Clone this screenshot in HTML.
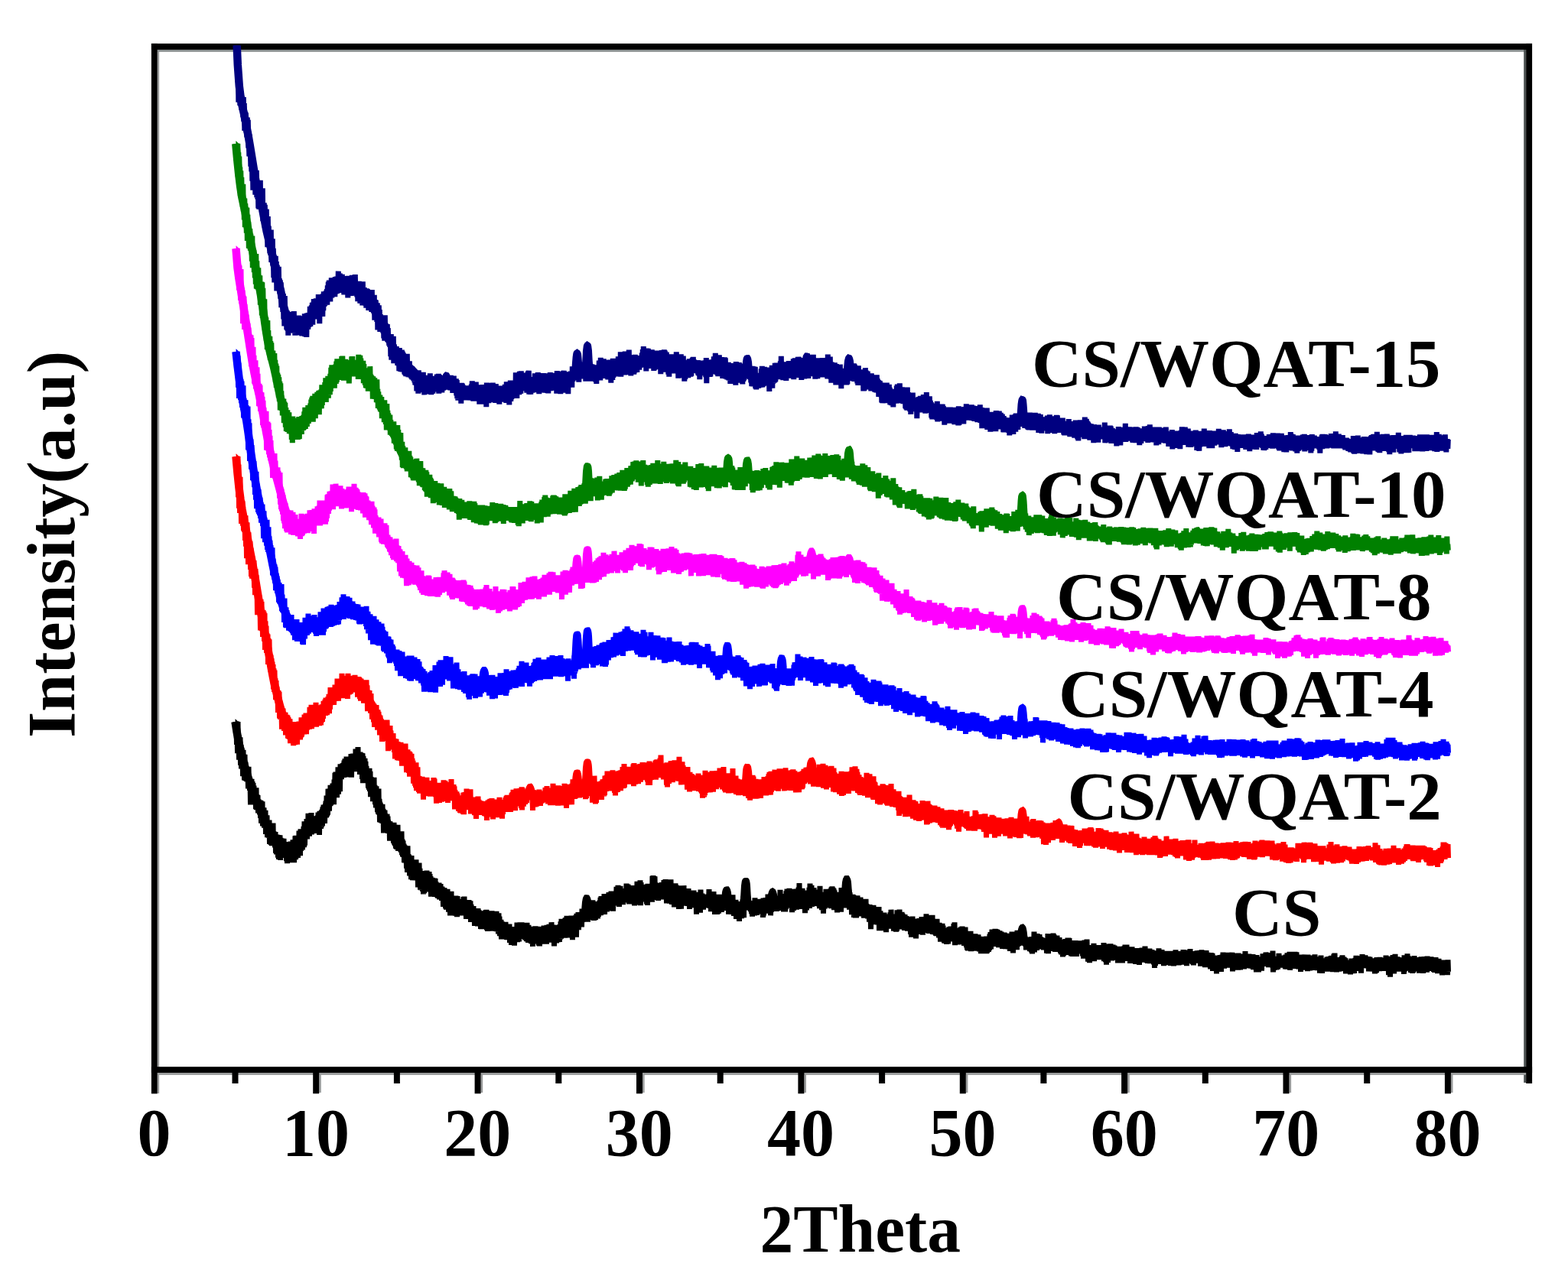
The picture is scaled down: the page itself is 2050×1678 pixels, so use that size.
<!DOCTYPE html>
<html lang="en">
<head>
<meta charset="utf-8">
<title>XRD patterns</title>
<style>
html,body{margin:0;padding:0;background:#fff;}
body{width:2050px;height:1678px;overflow:hidden;}
svg{display:block;}
text{font-family:"Liberation Serif","DejaVu Serif",serif;font-weight:bold;font-size:88px;fill:#000;}
#curves path{fill:none;stroke-linecap:butt;}
#curves .core{stroke-width:10.5;stroke-linejoin:round;}
#curves .trace{stroke-width:7.0;stroke-linejoin:bevel;}
</style>
</head>
<body>
<svg width="2050" height="1678" viewBox="0 0 2050 1678">
<rect x="0" y="0" width="2050" height="1678" fill="#fff"/>
<g id="shadow" fill="#9a9c9c">
<rect x="205.5" y="64" width="2.6" height="1366"/>
<rect x="205.5" y="64.7" width="1790" height="3.1" fill="#8a9090"/>
<rect x="1992.2" y="64" width="3.2" height="1352" fill="#4c5252"/>
<rect x="205.5" y="1402.8" width="1790" height="3.1"/>
<rect x="417.2" y="1403" width="2.6" height="26"/>
<rect x="628.6" y="1403" width="2.6" height="26"/>
<rect x="840.0" y="1403" width="2.6" height="26"/>
<rect x="1051.4" y="1403" width="2.6" height="26"/>
<rect x="1262.8" y="1403" width="2.6" height="26"/>
<rect x="1474.1" y="1403" width="2.6" height="26"/>
<rect x="1685.5" y="1403" width="2.6" height="26"/>
<rect x="1896.9" y="1403" width="2.6" height="26"/>
</g>
<g id="frame" fill="#000">
<rect x="197.9" y="56.95" width="1805.1" height="8"/>
<rect x="197.9" y="56.9" width="7.8" height="1373.5"/>
<rect x="1995.2" y="56.9" width="7.9" height="1360.1"/>
<rect x="197.9" y="1395.2" width="1805.2" height="7.8"/>
<rect x="303.5" y="1400" width="8" height="17"/>
<rect x="409.2" y="1400" width="8" height="30.3"/>
<rect x="514.9" y="1400" width="8" height="17"/>
<rect x="620.6" y="1400" width="8" height="30.3"/>
<rect x="726.3" y="1400" width="8" height="17"/>
<rect x="832.0" y="1400" width="8" height="30.3"/>
<rect x="937.7" y="1400" width="8" height="17"/>
<rect x="1043.4" y="1400" width="8" height="30.3"/>
<rect x="1149.1" y="1400" width="8" height="17"/>
<rect x="1254.8" y="1400" width="8" height="30.3"/>
<rect x="1360.4" y="1400" width="8" height="17"/>
<rect x="1466.1" y="1400" width="8" height="30.3"/>
<rect x="1571.8" y="1400" width="8" height="17"/>
<rect x="1677.5" y="1400" width="8" height="30.3"/>
<rect x="1783.2" y="1400" width="8" height="17"/>
<rect x="1888.9" y="1400" width="8" height="30.3"/>
</g>
<clipPath id="plotclip"><rect x="206" y="59.5" width="1790" height="1338"/></clipPath>
<g id="curves" clip-path="url(#plotclip)">
<g stroke="#000000"><path class="core" d="M307.5,944.0 309.5,956.4 311.5,967.6 313.5,976.8 315.5,985.3 317.5,993.1 319.5,1000.4 321.5,1007.3 323.5,1013.8 325.5,1020.0 327.5,1026.0 329.5,1031.8 331.5,1037.3 333.5,1042.7 335.5,1047.9 337.5,1052.8 339.5,1057.6 341.5,1062.3 343.5,1066.7 345.5,1071.1 347.5,1075.5 349.5,1080.0 351.5,1084.4 353.5,1088.7 355.5,1092.7 357.5,1096.4 359.5,1099.5 361.5,1102.1 363.5,1103.9 365.5,1105.5 367.5,1107.1 369.5,1108.5 371.5,1109.8 373.5,1110.9 375.5,1111.8 377.5,1112.5 379.5,1112.9 381.5,1113.0 383.5,1112.3 385.5,1110.9 387.5,1108.9 389.5,1106.4 391.5,1103.5 393.5,1100.3 395.5,1097.1 397.5,1093.8 399.5,1090.7 401.5,1087.8 403.5,1085.2 405.5,1082.8 407.5,1080.4 409.5,1078.1 411.5,1075.8 413.5,1073.4 415.5,1071.0 417.5,1068.4 419.5,1065.7 421.5,1062.9 423.5,1059.8 425.5,1056.5 427.5,1052.7 429.5,1048.4 431.5,1043.8 433.5,1038.9 435.5,1034.0 437.5,1029.2 439.5,1024.7 441.5,1020.2 443.5,1015.4 445.5,1010.5 447.5,1006.0 449.5,1002.2 451.5,999.5 453.5,997.7 455.5,996.2 457.5,994.8 459.5,993.7 461.5,992.9 463.5,992.5 465.5,992.8 467.5,994.1 469.5,996.2 471.5,998.9 473.5,1002.3 475.5,1005.9 477.5,1009.8 479.5,1013.8 481.5,1017.7 483.5,1021.6 485.5,1026.2 487.5,1031.2 489.5,1036.6 491.5,1042.1 493.5,1047.4 495.5,1052.5 497.5,1057.1 499.5,1061.5 501.5,1065.7 503.5,1069.9 505.5,1073.9 507.5,1077.9 509.5,1081.8 511.5,1085.5 513.5,1089.3 515.5,1092.9 517.5,1096.3 519.5,1099.6 521.5,1102.8 523.5,1105.9 525.5,1109.1 527.5,1112.5 529.5,1116.1 531.5,1120.1 533.5,1124.7 535.5,1129.6 537.5,1134.1 539.5,1137.8 541.5,1140.5 543.5,1143.0 545.5,1145.3 547.5,1147.4 549.5,1149.2 551.5,1150.9 553.5,1152.5 555.5,1153.8 557.5,1155.0 559.5,1156.0 561.5,1156.8 563.5,1157.7 565.5,1158.5 567.5,1159.5 569.5,1160.7 571.5,1162.1 573.5,1164.0 575.5,1166.1 577.5,1168.5 579.5,1170.9 581.5,1173.4 583.5,1175.8 585.5,1178.1 587.5,1180.0 589.5,1181.7 591.5,1182.9 593.5,1184.1 595.5,1185.2 597.5,1186.2 599.5,1187.1 601.5,1188.0 603.5,1188.9 605.5,1189.7 607.5,1190.5 609.5,1191.3 611.5,1192.1 613.5,1192.9 615.5,1193.7 617.5,1194.5 619.5,1195.3 621.5,1196.1 623.5,1196.9 625.5,1197.6 627.5,1198.4 629.5,1199.2 631.5,1199.9 633.5,1200.7 635.5,1201.5 637.5,1202.4 639.5,1203.3 641.5,1204.2 643.5,1205.3 645.5,1206.5 647.5,1207.7 649.5,1209.0 651.5,1210.3 653.5,1211.5 655.5,1212.8 657.5,1213.9 659.5,1214.9 661.5,1215.8 663.5,1216.6 665.5,1217.1 667.5,1217.6 669.5,1218.0 671.5,1218.4 673.5,1218.8 675.5,1219.1 677.5,1219.4 679.5,1219.7 681.5,1220.0 683.5,1220.3 685.5,1220.5 687.5,1220.7 689.5,1220.9 691.5,1221.2 693.5,1221.4 695.5,1221.6 697.5,1221.8 699.5,1221.9 701.5,1222.0 703.5,1222.0 705.5,1221.9 707.5,1221.8 709.5,1221.6 711.5,1221.3 713.5,1221.1 715.5,1220.7 717.5,1220.4 719.5,1220.0 721.5,1219.6 723.5,1219.2 725.5,1218.8 727.5,1218.4 729.5,1217.9 731.5,1217.4 733.5,1216.7 735.5,1216.1 737.5,1215.3 739.5,1214.5 741.5,1213.7 743.5,1212.8 745.5,1211.8 747.5,1210.8 749.5,1209.8 751.5,1208.8 753.5,1207.6 755.5,1206.3 757.5,1204.9 759.5,1203.3 761.0,1202.0 761.5,1201.6 761.8,1201.4 762.5,1200.8 763.2,1200.1 763.5,1199.7 764.0,1198.8 764.8,1195.6 765.5,1189.0 766.2,1180.3 767.0,1175.8 767.5,1177.2 767.8,1179.2 768.5,1186.7 769.2,1192.2 769.5,1193.2 770.0,1194.2 770.8,1194.4 771.5,1194.0 772.2,1193.5 773.0,1193.0 773.5,1192.7 775.5,1191.4 777.5,1190.1 779.5,1188.8 781.5,1187.6 783.5,1186.5 785.5,1185.4 787.5,1184.4 789.5,1183.5 791.5,1182.7 793.5,1181.9 795.5,1181.1 797.5,1180.4 799.5,1179.7 801.5,1179.0 803.5,1178.4 805.5,1177.8 807.5,1177.2 809.5,1176.6 811.5,1176.0 813.5,1175.4 815.5,1174.9 817.5,1174.2 819.5,1173.6 821.5,1172.9 823.5,1172.3 825.5,1171.6 827.5,1170.9 829.5,1170.2 831.5,1169.6 833.5,1169.0 835.5,1168.3 837.5,1167.8 839.5,1167.3 841.5,1166.8 843.5,1166.4 845.5,1166.0 847.5,1165.8 849.5,1165.6 851.5,1165.5 853.5,1165.5 855.5,1165.6 857.5,1165.8 859.5,1166.0 861.5,1166.3 863.5,1166.7 865.5,1167.1 867.5,1167.6 869.5,1168.1 871.5,1168.7 873.5,1169.2 875.5,1169.8 877.5,1170.4 879.5,1170.9 881.5,1171.5 883.5,1172.0 885.5,1172.6 887.5,1173.0 889.5,1173.5 891.5,1173.9 893.5,1174.3 895.5,1174.8 897.5,1175.2 899.5,1175.7 901.5,1176.1 903.5,1176.6 905.5,1177.0 907.5,1177.4 909.5,1177.7 911.5,1178.1 913.5,1178.4 915.5,1178.7 917.5,1178.9 919.5,1179.1 921.5,1179.3 923.5,1179.5 925.5,1179.7 927.5,1179.9 929.5,1180.0 931.5,1180.2 933.5,1180.4 935.5,1180.6 937.5,1180.7 939.5,1180.9 941.5,1181.2 943.5,1181.4 944.0,1181.5 944.8,1181.5 945.5,1181.6 946.2,1181.6 947.0,1181.2 947.5,1180.1 947.8,1179.2 948.5,1174.4 949.2,1167.9 949.5,1166.2 950.0,1164.8 950.8,1168.1 951.5,1174.8 952.2,1179.8 953.0,1181.9 953.5,1182.5 953.8,1182.6 954.5,1182.8 955.2,1182.9 955.5,1182.9 956.0,1183.0 957.5,1183.1 959.5,1183.4 961.5,1183.6 963.5,1183.8 965.5,1184.1 967.5,1184.3 969.0,1184.4 969.5,1184.5 969.8,1184.5 970.5,1184.6 971.2,1184.5 971.5,1184.4 972.0,1183.6 972.8,1179.9 973.5,1171.0 974.2,1159.0 975.0,1153.2 975.5,1156.0 975.8,1159.2 976.5,1171.3 977.2,1180.4 977.5,1182.2 978.0,1184.3 978.8,1185.4 979.5,1185.6 980.2,1185.7 981.0,1185.8 981.5,1185.8 983.5,1186.0 985.5,1186.2 987.5,1186.3 989.5,1186.5 991.5,1186.5 993.5,1186.6 995.5,1186.6 997.5,1186.5 999.5,1186.3 1001.5,1186.0 1003.5,1185.6 1004.0,1185.5 1004.8,1185.3 1005.5,1185.1 1006.2,1184.9 1007.0,1184.2 1007.5,1183.0 1007.8,1182.1 1008.5,1177.3 1009.2,1171.0 1009.5,1169.3 1010.0,1167.8 1010.8,1170.5 1011.5,1176.4 1012.2,1180.7 1013.0,1182.4 1013.5,1182.7 1013.8,1182.7 1014.5,1182.5 1015.2,1182.3 1015.5,1182.2 1016.0,1182.1 1017.5,1181.6 1019.5,1181.0 1021.5,1180.4 1023.5,1179.8 1025.5,1179.3 1027.5,1178.9 1029.5,1178.5 1031.5,1178.0 1033.5,1177.5 1035.5,1177.0 1037.5,1176.6 1039.5,1176.1 1041.5,1175.6 1043.5,1175.1 1045.5,1174.7 1047.5,1174.3 1049.5,1174.0 1051.5,1173.7 1053.5,1173.4 1055.5,1173.2 1057.5,1173.1 1059.5,1173.0 1061.5,1173.0 1063.5,1173.1 1065.5,1173.1 1067.5,1173.3 1069.5,1173.4 1071.5,1173.5 1073.5,1173.7 1075.5,1173.9 1077.5,1174.0 1079.5,1174.3 1081.5,1174.5 1083.5,1174.8 1085.5,1175.1 1087.5,1175.5 1089.5,1175.9 1091.5,1176.3 1093.5,1176.7 1095.5,1177.1 1097.5,1177.5 1099.5,1178.0 1101.0,1178.3 1101.5,1178.4 1101.8,1178.4 1102.5,1178.5 1103.2,1178.2 1103.5,1177.8 1104.0,1176.4 1104.8,1171.8 1105.5,1163.6 1106.2,1154.6 1107.0,1150.8 1107.5,1152.8 1107.8,1155.0 1108.5,1164.3 1109.2,1172.9 1109.5,1175.0 1110.0,1178.0 1110.8,1180.1 1111.5,1180.8 1112.2,1181.1 1113.0,1181.4 1113.5,1181.5 1115.5,1182.1 1117.5,1182.7 1119.5,1183.4 1121.5,1184.0 1123.5,1184.7 1125.5,1185.4 1127.5,1186.2 1129.5,1187.1 1131.5,1188.2 1133.5,1189.4 1135.5,1190.7 1137.5,1192.0 1139.5,1193.4 1141.5,1194.7 1143.5,1196.0 1145.5,1197.2 1147.5,1198.3 1149.5,1199.2 1151.5,1199.9 1153.5,1200.4 1155.5,1200.8 1157.5,1201.2 1159.5,1201.6 1161.5,1201.9 1163.5,1202.2 1165.5,1202.5 1167.5,1202.7 1169.5,1203.0 1171.5,1203.3 1173.5,1203.5 1175.5,1203.8 1177.5,1204.1 1179.5,1204.5 1181.5,1204.9 1183.5,1205.3 1185.5,1205.8 1187.5,1206.4 1189.5,1206.9 1191.5,1207.5 1193.5,1208.1 1195.5,1208.8 1197.5,1209.4 1199.5,1210.1 1201.5,1210.8 1203.5,1211.4 1205.5,1212.1 1207.5,1212.8 1209.5,1213.4 1211.5,1214.1 1213.5,1214.7 1215.5,1215.3 1217.5,1215.9 1219.5,1216.4 1221.5,1217.0 1223.5,1217.6 1225.5,1218.2 1227.5,1218.8 1229.5,1219.3 1231.5,1219.9 1233.5,1220.4 1235.5,1221.0 1237.5,1221.5 1239.5,1222.0 1241.5,1222.5 1243.5,1223.0 1245.5,1223.5 1247.5,1224.1 1249.5,1224.6 1251.5,1225.2 1253.5,1225.7 1255.5,1226.3 1257.5,1226.8 1259.5,1227.3 1261.5,1227.8 1263.5,1228.2 1265.5,1228.6 1267.5,1229.0 1269.5,1229.3 1271.5,1229.6 1273.5,1229.8 1275.5,1229.9 1277.5,1230.0 1279.5,1230.1 1281.5,1230.1 1283.5,1230.1 1285.5,1230.2 1287.5,1230.2 1289.5,1230.2 1291.5,1230.2 1293.5,1230.3 1295.5,1230.3 1297.5,1230.3 1299.5,1230.3 1301.5,1230.4 1303.5,1230.4 1305.5,1230.5 1307.5,1230.6 1309.5,1230.7 1311.5,1230.8 1313.5,1230.9 1315.5,1231.0 1317.5,1231.1 1319.5,1231.3 1321.5,1231.4 1323.5,1231.6 1325.5,1231.7 1327.5,1231.9 1329.5,1232.1 1330.6,1232.2 1331.3,1232.3 1331.5,1232.3 1332.1,1232.3 1332.8,1232.3 1333.5,1231.9 1333.6,1231.8 1334.3,1229.7 1335.1,1224.7 1335.5,1221.1 1335.8,1218.0 1336.6,1214.8 1337.3,1218.2 1337.5,1219.5 1338.1,1225.0 1338.8,1230.2 1339.5,1232.2 1339.6,1232.4 1340.3,1233.0 1341.1,1233.2 1341.5,1233.3 1341.8,1233.3 1342.6,1233.4 1343.5,1233.5 1345.5,1233.7 1347.5,1233.9 1349.5,1234.1 1351.5,1234.3 1353.5,1234.5 1355.5,1234.8 1357.5,1235.0 1359.5,1235.2 1361.5,1235.4 1363.5,1235.6 1365.5,1235.8 1367.5,1236.0 1369.5,1236.3 1371.5,1236.5 1373.5,1236.6 1375.5,1236.8 1377.5,1237.1 1379.5,1237.3 1381.5,1237.5 1383.5,1237.7 1385.5,1237.9 1387.5,1238.1 1389.5,1238.4 1391.5,1238.6 1393.5,1238.8 1395.5,1239.1 1397.5,1239.3 1399.5,1239.5 1401.5,1239.8 1403.5,1240.0 1405.5,1240.3 1407.5,1240.5 1409.5,1240.7 1411.5,1241.0 1413.5,1241.2 1415.5,1241.5 1417.5,1241.7 1419.5,1241.9 1421.5,1242.2 1423.5,1242.4 1425.5,1242.6 1427.5,1242.8 1429.5,1243.1 1431.5,1243.3 1433.5,1243.5 1435.5,1243.7 1437.5,1243.9 1439.5,1244.1 1441.5,1244.3 1443.5,1244.5 1445.5,1244.7 1447.5,1244.8 1449.5,1245.0 1451.5,1245.2 1453.5,1245.3 1455.5,1245.5 1457.5,1245.7 1459.5,1245.8 1461.5,1246.0 1463.5,1246.1 1465.5,1246.3 1467.5,1246.4 1469.5,1246.6 1471.5,1246.7 1473.5,1246.9 1475.5,1247.0 1477.5,1247.1 1479.5,1247.3 1481.5,1247.4 1483.5,1247.6 1485.5,1247.7 1487.5,1247.8 1489.5,1248.0 1491.5,1248.1 1493.5,1248.2 1495.5,1248.4 1497.5,1248.5 1499.5,1248.6 1501.5,1248.8 1503.5,1248.9 1505.5,1249.0 1507.5,1249.2 1509.5,1249.3 1511.5,1249.4 1513.5,1249.6 1515.5,1249.7 1517.5,1249.9 1519.5,1250.0 1521.5,1250.1 1523.5,1250.3 1525.5,1250.4 1527.5,1250.6 1529.5,1250.7 1531.5,1250.9 1533.5,1251.0 1535.5,1251.2 1537.5,1251.3 1539.5,1251.5 1541.5,1251.6 1543.5,1251.8 1545.5,1251.9 1547.5,1252.1 1549.5,1252.2 1551.5,1252.4 1553.5,1252.5 1555.5,1252.7 1557.5,1252.8 1559.5,1253.0 1561.5,1253.1 1563.5,1253.3 1565.5,1253.4 1567.5,1253.5 1569.5,1253.7 1571.5,1253.8 1573.5,1253.9 1575.5,1254.1 1577.5,1254.2 1579.5,1254.3 1581.5,1254.4 1583.5,1254.5 1585.5,1254.6 1587.5,1254.7 1589.5,1254.8 1591.5,1254.9 1593.5,1255.0 1595.5,1255.1 1597.5,1255.2 1599.5,1255.3 1601.5,1255.4 1603.5,1255.5 1605.5,1255.5 1607.5,1255.6 1609.5,1255.7 1611.5,1255.7 1613.5,1255.8 1615.5,1255.9 1617.5,1255.9 1619.5,1256.0 1621.5,1256.1 1623.5,1256.1 1625.5,1256.2 1627.5,1256.3 1629.5,1256.3 1631.5,1256.4 1633.5,1256.4 1635.5,1256.5 1637.5,1256.6 1639.5,1256.6 1641.5,1256.7 1643.5,1256.7 1645.5,1256.8 1647.5,1256.9 1649.5,1256.9 1651.5,1257.0 1653.5,1257.1 1655.5,1257.1 1657.5,1257.2 1659.5,1257.3 1661.5,1257.3 1663.5,1257.4 1665.5,1257.5 1667.5,1257.6 1669.5,1257.6 1671.5,1257.7 1673.5,1257.8 1675.5,1257.9 1677.5,1258.0 1679.5,1258.1 1681.5,1258.2 1683.5,1258.4 1685.5,1258.5 1687.5,1258.6 1689.5,1258.7 1691.5,1258.8 1693.5,1258.9 1695.5,1259.1 1697.5,1259.2 1699.5,1259.3 1701.5,1259.4 1703.5,1259.5 1705.5,1259.6 1707.5,1259.7 1709.5,1259.8 1711.5,1259.9 1713.5,1260.0 1715.5,1260.1 1717.5,1260.2 1719.5,1260.3 1721.5,1260.4 1723.5,1260.5 1725.5,1260.5 1727.5,1260.6 1729.5,1260.7 1731.5,1260.7 1733.5,1260.7 1735.5,1260.8 1737.5,1260.8 1739.5,1260.8 1741.5,1260.8 1743.5,1260.8 1745.5,1260.8 1747.5,1260.8 1749.5,1260.8 1751.5,1260.9 1753.5,1260.9 1755.5,1260.9 1757.5,1260.9 1759.5,1260.9 1761.5,1260.9 1763.5,1260.9 1765.5,1260.9 1767.5,1260.9 1769.5,1260.9 1771.5,1260.9 1773.5,1260.9 1775.5,1260.9 1777.5,1260.9 1779.5,1260.9 1781.5,1260.9 1783.5,1260.9 1785.5,1260.9 1787.5,1260.9 1789.5,1260.9 1791.5,1260.9 1793.5,1260.9 1795.5,1261.0 1797.5,1261.0 1799.5,1261.0 1801.5,1261.0 1803.5,1261.0 1805.5,1261.0 1807.5,1261.0 1809.5,1261.0 1811.5,1261.0 1813.5,1261.0 1815.5,1261.0 1817.5,1261.0 1819.5,1261.0 1821.5,1261.0 1823.5,1261.0 1825.5,1261.1 1827.5,1261.1 1829.5,1261.1 1831.5,1261.1 1833.5,1261.1 1835.5,1261.1 1837.5,1261.1 1839.5,1261.1 1841.5,1261.1 1843.5,1261.1 1845.5,1261.2 1847.5,1261.2 1849.5,1261.2 1851.5,1261.2 1853.5,1261.2 1855.5,1261.2 1857.5,1261.2 1859.5,1261.2 1861.5,1261.3 1863.5,1261.3 1865.5,1261.3 1867.5,1261.3 1869.5,1261.3 1871.5,1261.3 1873.5,1261.3 1875.5,1261.3 1877.5,1261.4 1879.5,1261.4 1881.5,1261.4 1883.5,1261.4 1885.5,1261.4 1887.5,1261.4 1889.5,1261.4 1891.5,1261.5"/>
<path class="trace" d="M307.5,944.0 308.0,944.0 308.5,961.4 309.0,946.1 309.5,974.0 310.0,944.0 310.5,985.1 311.0,944.0 311.5,982.6 312.0,961.0 312.5,993.6 313.0,968.9 313.5,989.4 314.0,964.2 314.5,1000.7 315.0,974.0 315.5,1005.4 316.0,977.7 316.5,1005.5 317.0,981.5 317.5,1015.2 318.0,980.8 318.5,1010.7 319.0,994.2 319.5,1020.5 320.0,986.8 320.5,1020.8 321.0,996.5 321.5,1021.3 322.0,1002.4 322.5,1022.1 323.0,1005.1 323.5,1019.3 324.0,1009.6 324.5,1031.4 325.0,1002.7 325.5,1027.2 326.0,1016.5 326.5,1034.0 327.0,1019.6 327.5,1052.4 328.0,1020.4 328.5,1043.3 329.0,1018.7 329.5,1047.1 330.0,1022.2 330.5,1043.6 331.0,1024.0 331.5,1050.2 332.0,1027.6 332.5,1051.6 333.0,1032.7 333.5,1051.2 334.0,1031.5 334.5,1058.1 335.0,1030.4 335.5,1059.2 336.0,1039.3 336.5,1056.5 337.0,1040.1 337.5,1063.5 338.0,1045.3 338.5,1062.3 339.0,1047.0 339.5,1065.5 340.0,1046.5 340.5,1069.8 341.0,1047.0 341.5,1076.6 342.0,1050.5 342.5,1073.2 343.0,1048.4 343.5,1080.5 344.0,1056.2 344.5,1079.8 345.0,1056.2 345.5,1082.6 346.0,1063.9 346.5,1080.3 347.0,1059.8 347.5,1090.9 348.0,1067.4 348.5,1085.3 349.0,1066.3 349.5,1095.3 350.0,1073.2 350.5,1092.4 351.0,1075.7 351.5,1096.0 352.0,1072.6 352.5,1103.9 353.0,1079.7 353.5,1104.2 354.0,1077.5 354.5,1105.1 355.0,1078.7 355.5,1106.1 356.0,1083.3 356.5,1100.3 357.0,1076.5 357.5,1105.7 358.0,1087.4 358.5,1104.7 359.0,1089.8 359.5,1108.3 360.0,1088.0 360.5,1115.6 361.0,1094.3 361.5,1117.3 362.0,1091.6 362.5,1117.0 363.0,1095.8 363.5,1121.8 364.0,1092.0 364.5,1123.9 365.0,1093.5 365.5,1116.9 366.0,1092.3 366.5,1124.9 367.0,1095.9 367.5,1117.0 368.0,1098.2 368.5,1120.4 369.0,1096.5 369.5,1115.6 370.0,1098.1 370.5,1116.8 371.0,1096.8 371.5,1118.8 372.0,1106.3 372.5,1118.2 373.0,1103.3 373.5,1121.8 374.0,1102.8 374.5,1126.1 375.0,1105.1 375.5,1129.1 376.0,1101.1 376.5,1121.3 377.0,1111.2 377.5,1126.9 378.0,1106.8 378.5,1123.2 379.0,1109.2 379.5,1123.5 380.0,1100.6 380.5,1128.1 381.0,1103.5 381.5,1118.5 382.0,1100.9 382.5,1125.7 383.0,1098.3 383.5,1118.2 384.0,1104.1 384.5,1128.1 385.0,1103.7 385.5,1118.8 386.0,1093.4 386.5,1124.2 387.0,1092.7 387.5,1122.2 388.0,1098.2 388.5,1121.8 389.0,1097.2 389.5,1121.9 390.0,1097.4 390.5,1115.4 391.0,1086.6 391.5,1113.2 392.0,1091.7 392.5,1119.3 393.0,1084.4 393.5,1113.0 394.0,1097.3 394.5,1109.0 395.0,1086.9 395.5,1111.3 396.0,1089.9 396.5,1105.5 397.0,1080.9 397.5,1108.2 398.0,1074.3 398.5,1105.7 399.0,1077.9 399.5,1092.3 400.0,1075.1 400.5,1091.9 401.0,1071.1 401.5,1097.4 402.0,1073.7 402.5,1088.4 403.0,1063.7 403.5,1089.8 404.0,1071.6 404.5,1093.6 405.0,1068.2 405.5,1083.4 406.0,1064.1 406.5,1082.2 407.0,1063.1 407.5,1091.5 408.0,1071.4 408.5,1089.8 409.0,1069.9 409.5,1087.7 410.0,1069.0 410.5,1088.8 411.0,1068.3 411.5,1085.2 412.0,1071.1 412.5,1089.2 413.0,1070.5 413.5,1084.1 414.0,1067.3 414.5,1090.0 415.0,1067.5 415.5,1082.0 416.0,1062.5 416.5,1080.5 417.0,1068.5 417.5,1091.9 418.0,1060.8 418.5,1083.4 419.0,1061.1 419.5,1084.0 420.0,1064.9 420.5,1081.6 421.0,1066.1 421.5,1080.3 422.0,1055.3 422.5,1076.4 423.0,1052.5 423.5,1073.0 424.0,1055.9 424.5,1077.0 425.0,1056.0 425.5,1063.7 426.0,1047.7 426.5,1069.5 427.0,1040.5 427.5,1067.8 428.0,1042.0 428.5,1065.6 429.0,1031.9 429.5,1059.6 430.0,1031.5 430.5,1060.7 431.0,1037.8 431.5,1054.2 432.0,1026.9 432.5,1053.4 433.0,1027.4 433.5,1043.9 434.0,1034.0 434.5,1051.6 435.0,1024.6 435.5,1049.0 436.0,1031.7 436.5,1052.2 437.0,1019.5 437.5,1035.9 438.0,1010.8 438.5,1038.7 439.0,1009.5 439.5,1029.5 440.0,1013.9 440.5,1043.1 441.0,1012.2 441.5,1027.8 442.0,1003.2 442.5,1038.6 443.0,1004.6 443.5,1029.5 444.0,1007.5 444.5,1035.1 445.0,999.2 445.5,1017.0 446.0,1003.8 446.5,1019.1 447.0,1000.0 447.5,1017.0 448.0,998.3 448.5,1013.1 449.0,999.1 449.5,1017.0 450.0,994.5 450.5,1011.8 451.0,992.3 451.5,1016.2 452.0,993.7 452.5,1016.4 453.0,989.6 453.5,1006.9 454.0,997.7 454.5,1014.5 455.0,994.1 455.5,1009.6 456.0,992.5 456.5,1011.4 457.0,989.6 457.5,1010.0 458.0,990.4 458.5,1002.1 459.0,986.0 459.5,1016.8 460.0,991.4 460.5,1008.1 461.0,985.9 461.5,1001.5 462.0,985.5 462.5,1007.1 463.0,986.6 463.5,1001.5 464.0,985.6 464.5,1009.1 465.0,979.5 465.5,997.6 466.0,987.1 466.5,1000.7 467.0,982.9 467.5,1005.3 468.0,977.0 468.5,1006.0 469.0,986.7 469.5,1004.1 470.0,984.4 470.5,1012.9 471.0,983.6 471.5,1005.0 472.0,990.5 472.5,1007.1 473.0,984.9 473.5,1019.0 474.0,985.2 474.5,1024.3 475.0,988.7 475.5,1014.0 476.0,997.9 476.5,1014.3 477.0,991.9 477.5,1018.7 478.0,995.9 478.5,1023.3 479.0,1001.9 479.5,1023.3 480.0,1005.2 480.5,1022.7 481.0,1015.1 481.5,1030.6 482.0,1011.4 482.5,1032.8 483.0,1004.7 483.5,1035.0 484.0,1008.9 484.5,1042.2 485.0,1016.0 485.5,1041.2 486.0,1017.2 486.5,1038.0 487.0,1020.5 487.5,1048.2 488.0,1020.2 488.5,1044.3 489.0,1016.7 489.5,1046.4 490.0,1026.8 490.5,1052.1 491.0,1037.8 491.5,1056.4 492.0,1028.3 492.5,1056.2 493.0,1032.1 493.5,1062.2 494.0,1033.5 494.5,1064.6 495.0,1031.6 495.5,1065.5 496.0,1044.8 496.5,1075.3 497.0,1049.6 497.5,1075.6 498.0,1052.5 498.5,1070.9 499.0,1059.7 499.5,1076.7 500.0,1051.8 500.5,1072.3 501.0,1058.0 501.5,1089.4 502.0,1063.0 502.5,1083.6 503.0,1059.5 503.5,1083.3 504.0,1068.1 504.5,1086.8 505.0,1065.3 505.5,1088.2 506.0,1064.7 506.5,1081.7 507.0,1067.7 507.5,1090.0 508.0,1074.0 508.5,1090.0 509.0,1076.2 509.5,1099.7 510.0,1074.3 510.5,1092.9 511.0,1080.2 511.5,1092.5 512.0,1083.6 512.5,1092.9 513.0,1078.4 513.5,1098.9 514.0,1077.1 514.5,1102.6 515.0,1075.9 515.5,1104.6 516.0,1078.6 516.5,1106.5 517.0,1086.0 517.5,1109.8 518.0,1085.4 518.5,1110.6 519.0,1090.2 519.5,1110.6 520.0,1078.8 520.5,1112.9 521.0,1088.1 521.5,1107.3 522.0,1093.5 522.5,1106.8 523.0,1090.8 523.5,1113.4 524.0,1096.7 524.5,1114.9 525.0,1087.4 525.5,1118.1 526.0,1097.5 526.5,1120.4 527.0,1099.5 527.5,1120.9 528.0,1103.5 528.5,1128.2 529.0,1105.4 529.5,1128.5 530.0,1109.3 530.5,1128.4 531.0,1108.5 531.5,1135.8 532.0,1109.4 532.5,1140.9 533.0,1106.4 533.5,1140.6 534.0,1117.2 534.5,1137.3 535.0,1118.5 535.5,1145.4 536.0,1125.1 536.5,1140.3 537.0,1119.6 537.5,1150.2 538.0,1119.1 538.5,1145.9 539.0,1125.0 539.5,1151.3 540.0,1130.9 540.5,1149.3 541.0,1126.9 541.5,1145.6 542.0,1126.5 542.5,1146.4 543.0,1128.8 543.5,1145.8 544.0,1124.2 544.5,1147.6 545.0,1131.7 545.5,1150.3 546.0,1133.0 546.5,1160.5 547.0,1137.4 547.5,1157.8 548.0,1128.5 548.5,1157.9 549.0,1135.7 549.5,1163.8 550.0,1140.6 550.5,1164.1 551.0,1139.0 551.5,1162.2 552.0,1141.0 552.5,1165.6 553.0,1147.2 553.5,1169.4 554.0,1147.8 554.5,1168.3 555.0,1139.5 555.5,1163.9 556.0,1150.0 556.5,1161.0 557.0,1141.3 557.5,1163.7 558.0,1138.6 558.5,1163.6 559.0,1149.9 559.5,1166.5 560.0,1148.8 560.5,1164.9 561.0,1140.0 561.5,1164.4 562.0,1143.2 562.5,1159.3 563.0,1146.1 563.5,1172.7 564.0,1152.4 564.5,1166.4 565.0,1147.7 565.5,1172.6 566.0,1155.5 566.5,1166.7 567.0,1152.1 567.5,1168.0 568.0,1148.5 568.5,1172.9 569.0,1149.1 569.5,1169.4 570.0,1153.4 570.5,1168.4 571.0,1157.4 571.5,1173.4 572.0,1158.2 572.5,1174.7 573.0,1158.7 573.5,1172.3 574.0,1154.5 574.5,1176.5 575.0,1157.6 575.5,1174.5 576.0,1156.0 576.5,1174.8 577.0,1163.7 577.5,1177.9 578.0,1159.7 578.5,1176.7 579.0,1163.6 579.5,1186.0 580.0,1161.2 580.5,1179.6 581.0,1161.4 581.5,1177.5 582.0,1163.7 582.5,1188.3 583.0,1162.9 583.5,1189.8 584.0,1165.6 584.5,1179.6 585.0,1162.8 585.5,1184.1 586.0,1167.3 586.5,1192.8 587.0,1167.2 587.5,1182.9 588.0,1167.8 588.5,1197.5 589.0,1173.2 589.5,1185.9 590.0,1165.7 590.5,1195.6 591.0,1177.1 591.5,1187.5 592.0,1174.5 592.5,1191.6 593.0,1173.7 593.5,1190.3 594.0,1177.1 594.5,1192.0 595.0,1173.3 595.5,1197.6 596.0,1171.5 596.5,1194.8 597.0,1176.4 597.5,1199.2 598.0,1172.0 598.5,1191.2 599.0,1175.9 599.5,1194.3 600.0,1178.6 600.5,1193.6 601.0,1177.1 601.5,1195.9 602.0,1176.8 602.5,1191.9 603.0,1182.9 603.5,1197.3 604.0,1184.0 604.5,1193.9 605.0,1180.5 605.5,1196.5 606.0,1173.0 606.5,1192.9 607.0,1172.6 607.5,1195.5 608.0,1180.5 608.5,1192.8 609.0,1177.4 609.5,1202.0 610.0,1181.8 610.5,1195.6 611.0,1183.4 611.5,1199.3 612.0,1183.2 612.5,1198.4 613.0,1177.1 613.5,1198.8 614.0,1183.2 614.5,1199.9 615.0,1178.4 615.5,1206.0 616.0,1182.9 616.5,1202.2 617.0,1188.4 617.5,1202.7 618.0,1188.2 618.5,1204.1 619.0,1185.1 619.5,1199.8 620.0,1191.8 620.5,1210.9 621.0,1188.2 621.5,1203.9 622.0,1194.7 622.5,1206.2 623.0,1189.4 623.5,1204.1 624.0,1194.8 624.5,1211.3 625.0,1188.1 625.5,1207.7 626.0,1190.1 626.5,1210.4 627.0,1194.6 627.5,1211.2 628.0,1195.3 628.5,1215.0 629.0,1191.3 629.5,1215.1 630.0,1194.7 630.5,1208.7 631.0,1195.5 631.5,1209.8 632.0,1195.7 632.5,1215.0 633.0,1198.0 633.5,1212.4 634.0,1193.5 634.5,1208.4 635.0,1190.4 635.5,1209.3 636.0,1189.8 636.5,1216.5 637.0,1192.0 637.5,1218.0 638.0,1195.4 638.5,1215.9 639.0,1195.4 639.5,1212.4 640.0,1192.9 640.5,1210.0 641.0,1198.6 641.5,1216.4 642.0,1196.4 642.5,1217.7 643.0,1191.4 643.5,1211.6 644.0,1198.2 644.5,1216.9 645.0,1200.8 645.5,1209.1 646.0,1201.6 646.5,1216.9 647.0,1200.5 647.5,1216.6 648.0,1200.7 648.5,1217.8 649.0,1191.8 649.5,1218.3 650.0,1197.4 650.5,1218.3 651.0,1203.4 651.5,1221.4 652.0,1194.3 652.5,1220.1 653.0,1198.6 653.5,1224.1 654.0,1204.1 654.5,1220.6 655.0,1202.9 655.5,1228.5 656.0,1205.0 656.5,1226.8 657.0,1207.1 657.5,1222.1 658.0,1209.0 658.5,1222.5 659.0,1208.3 659.5,1221.5 660.0,1209.4 660.5,1226.9 661.0,1205.9 661.5,1226.0 662.0,1210.5 662.5,1228.9 663.0,1208.9 663.5,1229.1 664.0,1210.7 664.5,1227.9 665.0,1212.6 665.5,1229.0 666.0,1208.6 666.5,1233.0 667.0,1216.4 667.5,1229.5 668.0,1214.9 668.5,1235.8 669.0,1212.1 669.5,1231.9 670.0,1216.4 670.5,1234.6 671.0,1218.5 671.5,1234.1 672.0,1217.0 672.5,1236.6 673.0,1218.2 673.5,1226.5 674.0,1214.9 674.5,1230.8 675.0,1215.3 675.5,1231.4 676.0,1206.5 676.5,1232.1 677.0,1212.5 677.5,1224.5 678.0,1215.6 678.5,1231.4 679.0,1211.6 679.5,1224.4 680.0,1206.3 680.5,1227.8 681.0,1212.7 681.5,1227.4 682.0,1206.3 682.5,1225.2 683.0,1209.3 683.5,1224.0 684.0,1211.0 684.5,1223.6 685.0,1212.9 685.5,1227.1 686.0,1208.8 686.5,1229.3 687.0,1206.9 687.5,1227.2 688.0,1215.2 688.5,1231.2 689.0,1206.8 689.5,1226.6 690.0,1212.2 690.5,1233.0 691.0,1209.9 691.5,1229.6 692.0,1215.1 692.5,1229.7 693.0,1216.6 693.5,1230.3 694.0,1216.9 694.5,1234.1 695.0,1217.0 695.5,1232.1 696.0,1214.5 696.5,1237.8 697.0,1211.7 697.5,1234.3 698.0,1214.4 698.5,1229.6 699.0,1218.3 699.5,1230.3 700.0,1211.3 700.5,1231.3 701.0,1216.8 701.5,1233.0 702.0,1216.8 702.5,1234.1 703.0,1211.9 703.5,1233.7 704.0,1216.4 704.5,1236.6 705.0,1214.7 705.5,1237.5 706.0,1215.6 706.5,1230.6 707.0,1219.4 707.5,1234.6 708.0,1217.6 708.5,1230.2 709.0,1212.0 709.5,1230.8 710.0,1214.5 710.5,1231.5 711.0,1210.5 711.5,1231.8 712.0,1210.8 712.5,1228.7 713.0,1213.1 713.5,1234.3 714.0,1214.2 714.5,1234.6 715.0,1209.7 715.5,1229.7 716.0,1215.1 716.5,1230.2 717.0,1213.4 717.5,1228.8 718.0,1208.9 718.5,1229.5 719.0,1212.1 719.5,1225.8 720.0,1215.9 720.5,1232.7 721.0,1206.2 721.5,1227.1 722.0,1216.7 722.5,1228.4 723.0,1209.7 723.5,1230.7 724.0,1213.1 724.5,1237.5 725.0,1216.1 725.5,1226.3 726.0,1209.9 726.5,1225.8 727.0,1213.0 727.5,1233.3 728.0,1210.8 728.5,1226.4 729.0,1210.8 729.5,1232.2 730.0,1210.8 730.5,1227.6 731.0,1215.3 731.5,1231.9 732.0,1209.2 732.5,1228.5 733.0,1205.4 733.5,1227.8 734.0,1201.9 734.5,1224.9 735.0,1206.2 735.5,1220.7 736.0,1202.4 736.5,1221.3 737.0,1206.2 737.5,1219.4 738.0,1206.4 738.5,1226.6 739.0,1200.6 739.5,1220.9 740.0,1200.0 740.5,1224.3 741.0,1197.7 741.5,1222.0 742.0,1202.4 742.5,1217.5 743.0,1203.3 743.5,1224.7 744.0,1208.1 744.5,1217.4 745.0,1206.6 745.5,1226.5 746.0,1203.4 746.5,1220.5 747.0,1197.6 747.5,1218.8 748.0,1211.3 748.5,1229.2 749.0,1202.4 749.5,1223.9 750.0,1204.8 750.5,1217.5 751.0,1203.0 751.5,1224.4 752.0,1204.8 752.5,1221.0 753.0,1196.7 753.5,1225.6 754.0,1194.8 754.5,1214.0 755.0,1202.5 755.5,1209.8 756.0,1193.1 756.5,1216.1 757.0,1194.4 757.5,1211.8 758.0,1194.5 758.5,1207.2 759.0,1197.1 759.5,1209.4 760.0,1194.9 760.5,1212.4 761.0,1188.6 761.5,1203.1 762.0,1189.1 762.5,1199.5 763.0,1191.5 763.5,1194.5 764.0,1191.3 764.5,1187.3 765.0,1197.2 765.5,1180.0 766.0,1176.3 766.5,1173.1 767.0,1172.5 767.5,1173.2 768.0,1174.4 768.5,1205.7 769.0,1180.7 769.5,1184.0 770.0,1185.2 770.5,1189.9 771.0,1180.0 771.5,1199.1 772.0,1185.7 772.5,1203.1 773.0,1178.8 773.5,1198.9 774.0,1181.8 774.5,1198.5 775.0,1177.3 775.5,1194.2 776.0,1179.7 776.5,1204.0 777.0,1181.1 777.5,1197.2 778.0,1179.7 778.5,1203.1 779.0,1181.3 779.5,1198.4 780.0,1179.1 780.5,1195.3 781.0,1180.9 781.5,1201.3 782.0,1184.4 782.5,1198.9 783.0,1181.0 783.5,1193.6 784.0,1177.6 784.5,1196.6 785.0,1173.9 785.5,1197.3 786.0,1172.1 786.5,1190.6 787.0,1176.8 787.5,1195.1 788.0,1175.7 788.5,1189.0 789.0,1177.9 789.5,1190.1 790.0,1169.1 790.5,1195.9 791.0,1178.0 791.5,1191.4 792.0,1172.9 792.5,1187.6 793.0,1173.1 793.5,1192.3 794.0,1174.3 794.5,1189.4 795.0,1171.6 795.5,1188.9 796.0,1167.0 796.5,1191.1 797.0,1172.6 797.5,1188.9 798.0,1170.1 798.5,1187.9 799.0,1165.6 799.5,1189.3 800.0,1171.7 800.5,1188.9 801.0,1166.1 801.5,1191.6 802.0,1169.4 802.5,1183.8 803.0,1168.0 803.5,1184.2 804.0,1169.4 804.5,1184.3 805.0,1168.4 805.5,1179.2 806.0,1159.8 806.5,1182.8 807.0,1169.6 807.5,1180.5 808.0,1157.9 808.5,1180.8 809.0,1164.2 809.5,1185.9 810.0,1163.5 810.5,1182.1 811.0,1158.9 811.5,1182.1 812.0,1165.2 812.5,1182.6 813.0,1164.2 813.5,1182.1 814.0,1162.2 814.5,1183.1 815.0,1165.4 815.5,1179.8 816.0,1165.4 816.5,1178.1 817.0,1165.0 817.5,1180.2 818.0,1162.3 818.5,1177.4 819.0,1155.5 819.5,1180.3 820.0,1162.6 820.5,1179.3 821.0,1156.6 821.5,1178.4 822.0,1160.1 822.5,1182.4 823.0,1162.3 823.5,1180.8 824.0,1165.9 824.5,1176.8 825.0,1158.5 825.5,1179.0 826.0,1159.6 826.5,1179.6 827.0,1158.0 827.5,1178.3 828.0,1162.7 828.5,1180.6 829.0,1164.1 829.5,1184.5 830.0,1164.3 830.5,1181.3 831.0,1165.8 831.5,1176.5 832.0,1159.7 832.5,1177.6 833.0,1152.8 833.5,1183.5 834.0,1163.0 834.5,1177.3 835.0,1157.7 835.5,1180.9 836.0,1155.7 836.5,1174.7 837.0,1151.3 837.5,1184.3 838.0,1154.0 838.5,1169.5 839.0,1162.3 839.5,1179.4 840.0,1156.9 840.5,1170.4 841.0,1159.2 841.5,1171.1 842.0,1160.2 842.5,1176.2 843.0,1159.5 843.5,1173.8 844.0,1164.7 844.5,1178.0 845.0,1163.5 845.5,1182.3 846.0,1162.6 846.5,1183.9 847.0,1155.8 847.5,1178.1 848.0,1156.9 848.5,1173.7 849.0,1155.8 849.5,1172.9 850.0,1157.2 850.5,1172.4 851.0,1158.8 851.5,1171.1 852.0,1160.0 852.5,1179.7 853.0,1145.8 853.5,1175.1 854.0,1145.0 854.5,1176.9 855.0,1146.1 855.5,1173.7 856.0,1146.2 856.5,1169.7 857.0,1154.4 857.5,1172.1 858.0,1156.9 858.5,1174.0 859.0,1156.5 859.5,1167.7 860.0,1156.9 860.5,1177.9 861.0,1156.6 861.5,1172.3 862.0,1155.0 862.5,1169.6 863.0,1158.3 863.5,1174.1 864.0,1158.0 864.5,1172.1 865.0,1154.1 865.5,1176.4 866.0,1154.2 866.5,1175.4 867.0,1154.4 867.5,1170.9 868.0,1151.0 868.5,1171.5 869.0,1160.0 869.5,1168.4 870.0,1150.1 870.5,1170.2 871.0,1158.1 871.5,1181.3 872.0,1155.9 872.5,1173.0 873.0,1152.0 873.5,1175.1 874.0,1151.9 874.5,1171.0 875.0,1159.2 875.5,1181.7 876.0,1155.5 876.5,1174.1 877.0,1150.2 877.5,1174.1 878.0,1158.4 878.5,1183.0 879.0,1157.5 879.5,1179.9 880.0,1165.4 880.5,1178.1 881.0,1160.6 881.5,1186.5 882.0,1159.9 882.5,1183.4 883.0,1155.3 883.5,1180.6 884.0,1157.5 884.5,1176.1 885.0,1159.3 885.5,1176.6 886.0,1159.8 886.5,1178.4 887.0,1161.4 887.5,1189.0 888.0,1158.2 888.5,1182.1 889.0,1162.7 889.5,1186.7 890.0,1160.8 890.5,1188.6 891.0,1163.2 891.5,1176.2 892.0,1164.3 892.5,1181.9 893.0,1161.1 893.5,1184.6 894.0,1158.2 894.5,1179.1 895.0,1163.9 895.5,1182.0 896.0,1163.6 896.5,1179.6 897.0,1165.1 897.5,1178.4 898.0,1164.4 898.5,1182.0 899.0,1166.2 899.5,1184.9 900.0,1162.2 900.5,1184.1 901.0,1165.8 901.5,1188.9 902.0,1167.2 902.5,1186.5 903.0,1165.9 903.5,1182.2 904.0,1167.4 904.5,1181.1 905.0,1164.7 905.5,1182.8 906.0,1170.5 906.5,1187.2 907.0,1164.6 907.5,1185.3 908.0,1170.5 908.5,1182.0 909.0,1166.8 909.5,1184.5 910.0,1170.2 910.5,1195.6 911.0,1167.5 911.5,1182.5 912.0,1170.8 912.5,1190.5 913.0,1171.6 913.5,1185.8 914.0,1174.0 914.5,1184.9 915.0,1170.6 915.5,1193.7 916.0,1163.6 916.5,1187.9 917.0,1171.1 917.5,1186.5 918.0,1168.6 918.5,1185.1 919.0,1171.1 919.5,1189.7 920.0,1169.8 920.5,1184.0 921.0,1173.2 921.5,1183.7 922.0,1171.0 922.5,1185.0 923.0,1173.4 923.5,1185.9 924.0,1170.2 924.5,1184.4 925.0,1170.7 925.5,1187.5 926.0,1169.5 926.5,1181.3 927.0,1163.2 927.5,1183.9 928.0,1172.3 928.5,1187.9 929.0,1170.9 929.5,1192.2 930.0,1170.4 930.5,1188.5 931.0,1174.5 931.5,1187.4 932.0,1173.4 932.5,1184.4 933.0,1166.1 933.5,1186.7 934.0,1175.2 934.5,1196.0 935.0,1174.7 935.5,1187.8 936.0,1176.1 936.5,1188.5 937.0,1174.7 937.5,1196.0 938.0,1177.7 938.5,1192.1 939.0,1176.2 939.5,1194.7 940.0,1169.9 940.5,1187.6 941.0,1174.0 941.5,1190.1 942.0,1173.2 942.5,1187.1 943.0,1178.9 943.5,1192.8 944.0,1175.9 944.5,1181.8 945.0,1176.5 945.5,1190.3 946.0,1170.1 946.5,1178.5 947.0,1173.1 947.5,1190.8 948.0,1171.6 948.5,1166.8 949.0,1163.2 949.5,1162.5 950.0,1161.6 950.5,1162.2 951.0,1164.1 951.5,1166.2 952.0,1168.9 952.5,1195.8 953.0,1177.5 953.5,1177.6 954.0,1172.2 954.5,1195.7 955.0,1173.7 955.5,1184.5 956.0,1177.7 956.5,1192.7 957.0,1172.7 957.5,1191.5 958.0,1170.3 958.5,1189.5 959.0,1179.3 959.5,1197.9 960.0,1178.6 960.5,1195.7 961.0,1177.8 961.5,1193.7 962.0,1176.7 962.5,1202.0 963.0,1182.4 963.5,1195.5 964.0,1179.1 964.5,1195.4 965.0,1182.5 965.5,1195.7 966.0,1183.4 966.5,1204.9 967.0,1180.7 967.5,1199.4 968.0,1184.3 968.5,1195.7 969.0,1185.2 969.5,1201.2 970.0,1179.0 970.5,1199.0 971.0,1176.9 971.5,1176.7 972.0,1172.2 972.5,1200.3 973.0,1163.4 973.5,1158.0 974.0,1153.6 974.5,1151.3 975.0,1149.9 975.5,1150.8 976.0,1154.2 976.5,1158.1 977.0,1162.5 977.5,1190.4 978.0,1173.7 978.5,1177.2 979.0,1180.5 979.5,1184.4 980.0,1180.2 980.5,1186.6 981.0,1179.9 981.5,1192.0 982.0,1179.3 982.5,1195.2 983.0,1178.0 983.5,1198.6 984.0,1180.9 984.5,1192.4 985.0,1179.7 985.5,1195.2 986.0,1181.9 986.5,1197.4 987.0,1174.3 987.5,1192.5 988.0,1181.2 988.5,1194.2 989.0,1179.3 989.5,1196.9 990.0,1178.6 990.5,1191.1 991.0,1179.4 991.5,1194.3 992.0,1182.2 992.5,1192.4 993.0,1176.2 993.5,1192.1 994.0,1177.4 994.5,1188.9 995.0,1175.8 995.5,1195.5 996.0,1180.0 996.5,1192.2 997.0,1178.6 997.5,1200.0 998.0,1174.6 998.5,1197.4 999.0,1178.1 999.5,1192.3 1000.0,1177.7 1000.5,1186.4 1001.0,1174.1 1001.5,1187.7 1002.0,1177.1 1002.5,1193.8 1003.0,1176.8 1003.5,1190.0 1004.0,1169.6 1004.5,1185.8 1005.0,1179.3 1005.5,1194.7 1006.0,1175.3 1006.5,1180.6 1007.0,1171.9 1007.5,1197.3 1008.0,1177.4 1008.5,1192.6 1009.0,1166.4 1009.5,1165.2 1010.0,1164.5 1010.5,1164.5 1011.0,1166.4 1011.5,1189.1 1012.0,1175.9 1012.5,1174.1 1013.0,1171.6 1013.5,1179.9 1014.0,1177.2 1014.5,1182.8 1015.0,1173.1 1015.5,1192.0 1016.0,1176.7 1016.5,1190.3 1017.0,1176.3 1017.5,1190.4 1018.0,1174.3 1018.5,1189.9 1019.0,1176.3 1019.5,1190.8 1020.0,1163.8 1020.5,1185.2 1021.0,1174.2 1021.5,1187.9 1022.0,1177.5 1022.5,1188.9 1023.0,1169.6 1023.5,1189.7 1024.0,1170.9 1024.5,1192.5 1025.0,1169.7 1025.5,1186.8 1026.0,1169.1 1026.5,1192.3 1027.0,1169.2 1027.5,1189.1 1028.0,1165.2 1028.5,1185.1 1029.0,1162.7 1029.5,1186.5 1030.0,1165.3 1030.5,1187.4 1031.0,1163.5 1031.5,1184.8 1032.0,1161.8 1032.5,1185.4 1033.0,1166.4 1033.5,1187.1 1034.0,1168.0 1034.5,1186.8 1035.0,1164.5 1035.5,1193.1 1036.0,1171.3 1036.5,1188.8 1037.0,1173.5 1037.5,1190.9 1038.0,1169.8 1038.5,1184.8 1039.0,1162.9 1039.5,1180.9 1040.0,1165.3 1040.5,1183.8 1041.0,1162.6 1041.5,1189.7 1042.0,1169.6 1042.5,1182.0 1043.0,1168.3 1043.5,1184.8 1044.0,1160.6 1044.5,1182.8 1045.0,1155.0 1045.5,1181.2 1046.0,1166.7 1046.5,1185.1 1047.0,1170.4 1047.5,1188.9 1048.0,1164.8 1048.5,1182.8 1049.0,1161.9 1049.5,1182.2 1050.0,1165.1 1050.5,1188.4 1051.0,1165.5 1051.5,1186.7 1052.0,1167.1 1052.5,1194.2 1053.0,1172.6 1053.5,1188.8 1054.0,1164.5 1054.5,1190.4 1055.0,1171.2 1055.5,1185.1 1056.0,1167.8 1056.5,1178.8 1057.0,1167.3 1057.5,1187.8 1058.0,1160.7 1058.5,1187.9 1059.0,1155.5 1059.5,1179.9 1060.0,1160.5 1060.5,1179.4 1061.0,1157.8 1061.5,1186.0 1062.0,1169.4 1062.5,1178.9 1063.0,1167.3 1063.5,1180.6 1064.0,1161.0 1064.5,1184.0 1065.0,1169.3 1065.5,1182.1 1066.0,1165.2 1066.5,1184.4 1067.0,1170.8 1067.5,1184.8 1068.0,1163.6 1068.5,1184.0 1069.0,1170.7 1069.5,1185.1 1070.0,1165.2 1070.5,1184.3 1071.0,1167.1 1071.5,1188.1 1072.0,1158.9 1072.5,1187.5 1073.0,1171.0 1073.5,1183.4 1074.0,1166.8 1074.5,1190.3 1075.0,1171.2 1075.5,1188.7 1076.0,1167.1 1076.5,1194.8 1077.0,1171.3 1077.5,1183.5 1078.0,1169.4 1078.5,1188.4 1079.0,1169.7 1079.5,1180.9 1080.0,1162.8 1080.5,1185.3 1081.0,1168.0 1081.5,1180.4 1082.0,1166.3 1082.5,1180.7 1083.0,1169.4 1083.5,1176.4 1084.0,1167.4 1084.5,1179.4 1085.0,1164.7 1085.5,1187.0 1086.0,1162.3 1086.5,1188.2 1087.0,1160.4 1087.5,1184.9 1088.0,1159.2 1088.5,1183.0 1089.0,1160.8 1089.5,1176.9 1090.0,1162.0 1090.5,1190.3 1091.0,1164.4 1091.5,1187.1 1092.0,1168.9 1092.5,1184.0 1093.0,1167.4 1093.5,1188.1 1094.0,1167.4 1094.5,1193.4 1095.0,1169.8 1095.5,1187.1 1096.0,1168.4 1096.5,1186.5 1097.0,1171.6 1097.5,1187.7 1098.0,1166.8 1098.5,1182.3 1099.0,1168.8 1099.5,1192.7 1100.0,1161.1 1100.5,1178.3 1101.0,1166.4 1101.5,1186.2 1102.0,1167.5 1102.5,1174.7 1103.0,1170.5 1103.5,1167.1 1104.0,1164.0 1104.5,1160.4 1105.0,1155.7 1105.5,1187.4 1106.0,1149.7 1106.5,1148.1 1107.0,1147.4 1107.5,1147.9 1108.0,1151.0 1108.5,1154.1 1109.0,1157.9 1109.5,1162.5 1110.0,1165.6 1110.5,1189.7 1111.0,1167.1 1111.5,1175.8 1112.0,1171.2 1112.5,1184.2 1113.0,1172.2 1113.5,1196.3 1114.0,1175.2 1114.5,1192.8 1115.0,1169.8 1115.5,1190.8 1116.0,1170.8 1116.5,1200.0 1117.0,1177.2 1117.5,1189.9 1118.0,1173.6 1118.5,1200.5 1119.0,1176.4 1119.5,1200.5 1120.0,1177.7 1120.5,1195.5 1121.0,1171.3 1121.5,1188.0 1122.0,1180.8 1122.5,1191.5 1123.0,1180.1 1123.5,1194.1 1124.0,1181.8 1124.5,1198.4 1125.0,1173.6 1125.5,1194.9 1126.0,1178.4 1126.5,1189.3 1127.0,1175.9 1127.5,1189.7 1128.0,1180.3 1128.5,1197.1 1129.0,1179.6 1129.5,1200.7 1130.0,1176.1 1130.5,1196.0 1131.0,1178.2 1131.5,1197.5 1132.0,1175.8 1132.5,1198.7 1133.0,1182.2 1133.5,1200.2 1134.0,1184.7 1134.5,1201.5 1135.0,1187.4 1135.5,1200.6 1136.0,1187.4 1136.5,1205.7 1137.0,1183.2 1137.5,1201.8 1138.0,1186.8 1138.5,1215.3 1139.0,1189.3 1139.5,1199.5 1140.0,1185.5 1140.5,1202.5 1141.0,1185.6 1141.5,1209.2 1142.0,1183.8 1142.5,1208.0 1143.0,1192.7 1143.5,1201.7 1144.0,1186.1 1144.5,1204.3 1145.0,1190.2 1145.5,1204.1 1146.0,1193.8 1146.5,1203.7 1147.0,1194.2 1147.5,1209.4 1148.0,1194.0 1148.5,1207.9 1149.0,1186.0 1149.5,1217.2 1150.0,1198.9 1150.5,1214.5 1151.0,1191.3 1151.5,1217.2 1152.0,1199.1 1152.5,1213.1 1153.0,1198.9 1153.5,1213.0 1154.0,1194.7 1154.5,1216.0 1155.0,1196.1 1155.5,1215.2 1156.0,1193.7 1156.5,1214.5 1157.0,1196.9 1157.5,1213.5 1158.0,1195.5 1158.5,1219.1 1159.0,1196.6 1159.5,1213.9 1160.0,1202.2 1160.5,1210.9 1161.0,1198.2 1161.5,1214.6 1162.0,1198.5 1162.5,1213.3 1163.0,1198.3 1163.5,1211.6 1164.0,1193.3 1164.5,1214.1 1165.0,1189.7 1165.5,1211.6 1166.0,1195.6 1166.5,1210.0 1167.0,1197.7 1167.5,1210.2 1168.0,1197.3 1168.5,1217.7 1169.0,1197.8 1169.5,1207.9 1170.0,1198.8 1170.5,1208.6 1171.0,1196.7 1171.5,1218.7 1172.0,1198.4 1172.5,1217.6 1173.0,1190.3 1173.5,1211.8 1174.0,1191.1 1174.5,1206.2 1175.0,1192.6 1175.5,1212.0 1176.0,1189.7 1176.5,1210.6 1177.0,1196.5 1177.5,1215.5 1178.0,1200.1 1178.5,1210.6 1179.0,1192.8 1179.5,1208.3 1180.0,1194.6 1180.5,1210.4 1181.0,1198.9 1181.5,1209.2 1182.0,1196.8 1182.5,1217.0 1183.0,1196.0 1183.5,1216.2 1184.0,1200.7 1184.5,1214.5 1185.0,1198.1 1185.5,1212.9 1186.0,1201.9 1186.5,1217.6 1187.0,1203.3 1187.5,1216.9 1188.0,1204.2 1188.5,1216.4 1189.0,1199.1 1189.5,1214.5 1190.0,1207.5 1190.5,1222.0 1191.0,1206.2 1191.5,1225.7 1192.0,1204.3 1192.5,1218.6 1193.0,1198.6 1193.5,1221.7 1194.0,1202.1 1194.5,1218.7 1195.0,1205.7 1195.5,1219.5 1196.0,1201.8 1196.5,1219.1 1197.0,1209.4 1197.5,1227.3 1198.0,1209.6 1198.5,1221.4 1199.0,1201.7 1199.5,1219.4 1200.0,1205.8 1200.5,1221.8 1201.0,1205.2 1201.5,1220.7 1202.0,1201.1 1202.5,1220.8 1203.0,1204.9 1203.5,1218.1 1204.0,1203.4 1204.5,1218.0 1205.0,1199.1 1205.5,1217.5 1206.0,1199.1 1206.5,1222.6 1207.0,1204.5 1207.5,1218.3 1208.0,1201.7 1208.5,1218.8 1209.0,1205.0 1209.5,1215.6 1210.0,1205.9 1210.5,1213.6 1211.0,1195.3 1211.5,1219.9 1212.0,1203.5 1212.5,1214.4 1213.0,1202.8 1213.5,1214.5 1214.0,1199.8 1214.5,1221.0 1215.0,1201.5 1215.5,1218.9 1216.0,1206.9 1216.5,1219.6 1217.0,1201.4 1217.5,1219.6 1218.0,1197.1 1218.5,1213.1 1219.0,1196.9 1219.5,1221.9 1220.0,1204.4 1220.5,1218.5 1221.0,1202.4 1221.5,1222.1 1222.0,1205.0 1222.5,1220.8 1223.0,1206.8 1223.5,1223.7 1224.0,1210.1 1224.5,1224.0 1225.0,1201.8 1225.5,1221.2 1226.0,1210.1 1226.5,1222.6 1227.0,1211.3 1227.5,1226.3 1228.0,1206.9 1228.5,1224.1 1229.0,1214.3 1229.5,1231.7 1230.0,1213.0 1230.5,1226.0 1231.0,1211.4 1231.5,1226.3 1232.0,1207.7 1232.5,1231.3 1233.0,1210.7 1233.5,1230.1 1234.0,1213.6 1234.5,1233.5 1235.0,1216.4 1235.5,1233.7 1236.0,1216.7 1236.5,1230.4 1237.0,1215.8 1237.5,1235.0 1238.0,1216.2 1238.5,1228.2 1239.0,1216.6 1239.5,1234.5 1240.0,1214.3 1240.5,1225.5 1241.0,1212.4 1241.5,1225.4 1242.0,1214.9 1242.5,1228.3 1243.0,1211.5 1243.5,1231.5 1244.0,1214.6 1244.5,1231.4 1245.0,1214.4 1245.5,1228.7 1246.0,1214.0 1246.5,1229.4 1247.0,1208.2 1247.5,1225.4 1248.0,1206.3 1248.5,1236.1 1249.0,1215.2 1249.5,1228.6 1250.0,1216.1 1250.5,1227.3 1251.0,1219.8 1251.5,1233.6 1252.0,1218.5 1252.5,1235.3 1253.0,1214.1 1253.5,1228.5 1254.0,1213.8 1254.5,1228.2 1255.0,1214.0 1255.5,1233.9 1256.0,1212.6 1256.5,1229.9 1257.0,1216.5 1257.5,1232.5 1258.0,1211.5 1258.5,1235.2 1259.0,1215.2 1259.5,1230.6 1260.0,1215.4 1260.5,1236.8 1261.0,1219.6 1261.5,1231.8 1262.0,1212.5 1262.5,1235.9 1263.0,1218.1 1263.5,1239.2 1264.0,1223.9 1264.5,1242.5 1265.0,1223.3 1265.5,1243.3 1266.0,1222.1 1266.5,1242.7 1267.0,1229.0 1267.5,1240.8 1268.0,1224.4 1268.5,1240.1 1269.0,1217.8 1269.5,1244.1 1270.0,1225.6 1270.5,1240.2 1271.0,1225.6 1271.5,1238.2 1272.0,1225.7 1272.5,1236.0 1273.0,1227.0 1273.5,1241.3 1274.0,1227.7 1274.5,1240.3 1275.0,1221.4 1275.5,1241.7 1276.0,1227.9 1276.5,1243.7 1277.0,1224.8 1277.5,1239.0 1278.0,1228.9 1278.5,1239.6 1279.0,1222.3 1279.5,1240.0 1280.0,1229.0 1280.5,1244.3 1281.0,1229.3 1281.5,1244.5 1282.0,1227.4 1282.5,1247.2 1283.0,1229.6 1283.5,1245.0 1284.0,1228.8 1284.5,1243.7 1285.0,1227.1 1285.5,1240.8 1286.0,1230.0 1286.5,1240.6 1287.0,1230.2 1287.5,1243.3 1288.0,1225.5 1288.5,1240.3 1289.0,1224.9 1289.5,1247.2 1290.0,1224.6 1290.5,1246.4 1291.0,1227.9 1291.5,1237.4 1292.0,1228.0 1292.5,1244.8 1293.0,1226.0 1293.5,1242.7 1294.0,1221.6 1294.5,1240.3 1295.0,1219.2 1295.5,1241.3 1296.0,1220.4 1296.5,1237.7 1297.0,1215.7 1297.5,1235.5 1298.0,1220.5 1298.5,1237.9 1299.0,1215.6 1299.5,1236.3 1300.0,1219.7 1300.5,1228.5 1301.0,1214.9 1301.5,1236.1 1302.0,1215.0 1302.5,1229.0 1303.0,1217.6 1303.5,1230.4 1304.0,1215.8 1304.5,1234.0 1305.0,1222.6 1305.5,1239.1 1306.0,1218.0 1306.5,1229.2 1307.0,1217.3 1307.5,1236.7 1308.0,1222.0 1308.5,1237.3 1309.0,1218.6 1309.5,1237.6 1310.0,1222.3 1310.5,1240.9 1311.0,1225.5 1311.5,1238.9 1312.0,1222.3 1312.5,1237.2 1313.0,1219.6 1313.5,1237.2 1314.0,1220.7 1314.5,1241.1 1315.0,1225.4 1315.5,1241.2 1316.0,1225.9 1316.5,1237.5 1317.0,1223.9 1317.5,1238.3 1318.0,1227.7 1318.5,1241.4 1319.0,1226.4 1319.5,1238.9 1320.0,1220.9 1320.5,1243.8 1321.0,1222.1 1321.5,1239.3 1322.0,1227.6 1322.5,1243.5 1323.0,1218.6 1323.5,1240.7 1324.0,1222.8 1324.5,1246.5 1325.0,1225.1 1325.5,1236.0 1326.0,1227.1 1326.5,1233.5 1327.0,1220.3 1327.5,1240.3 1328.0,1222.3 1328.5,1238.9 1329.0,1223.2 1329.5,1242.1 1330.0,1216.7 1330.5,1237.9 1331.0,1226.6 1331.5,1234.4 1332.0,1226.9 1332.5,1231.0 1333.0,1225.6 1333.5,1226.4 1334.0,1223.2 1334.5,1235.2 1335.0,1216.8 1335.5,1214.6 1336.0,1212.1 1336.5,1211.6 1337.0,1211.8 1337.5,1213.4 1338.0,1226.6 1338.5,1219.2 1339.0,1222.5 1339.5,1225.1 1340.0,1226.4 1340.5,1229.5 1341.0,1226.4 1341.5,1242.4 1342.0,1229.8 1342.5,1241.2 1343.0,1227.1 1343.5,1239.7 1344.0,1225.6 1344.5,1239.8 1345.0,1230.6 1345.5,1239.2 1346.0,1226.2 1346.5,1244.1 1347.0,1230.7 1347.5,1240.8 1348.0,1228.2 1348.5,1245.5 1349.0,1225.1 1349.5,1247.4 1350.0,1229.8 1350.5,1238.5 1351.0,1227.3 1351.5,1242.8 1352.0,1218.5 1352.5,1245.3 1353.0,1225.4 1353.5,1236.8 1354.0,1227.7 1354.5,1235.0 1355.0,1228.1 1355.5,1242.9 1356.0,1221.1 1356.5,1238.3 1357.0,1225.7 1357.5,1239.2 1358.0,1226.8 1358.5,1239.3 1359.0,1222.0 1359.5,1237.7 1360.0,1225.2 1360.5,1241.3 1361.0,1228.2 1361.5,1238.7 1362.0,1226.0 1362.5,1240.6 1363.0,1227.5 1363.5,1237.6 1364.0,1229.6 1364.5,1242.3 1365.0,1227.0 1365.5,1238.2 1366.0,1227.7 1366.5,1237.8 1367.0,1227.7 1367.5,1240.0 1368.0,1230.4 1368.5,1246.7 1369.0,1233.3 1369.5,1241.9 1370.0,1221.2 1370.5,1247.1 1371.0,1226.6 1371.5,1242.9 1372.0,1225.0 1372.5,1239.1 1373.0,1223.5 1373.5,1243.8 1374.0,1227.6 1374.5,1238.3 1375.0,1225.8 1375.5,1239.7 1376.0,1227.1 1376.5,1239.7 1377.0,1220.5 1377.5,1239.2 1378.0,1222.4 1378.5,1242.1 1379.0,1224.5 1379.5,1245.0 1380.0,1228.4 1380.5,1237.9 1381.0,1229.2 1381.5,1244.5 1382.0,1223.7 1382.5,1242.8 1383.0,1228.4 1383.5,1244.0 1384.0,1230.2 1384.5,1241.8 1385.0,1226.0 1385.5,1244.5 1386.0,1229.7 1386.5,1246.6 1387.0,1228.8 1387.5,1248.3 1388.0,1231.2 1388.5,1240.9 1389.0,1230.0 1389.5,1251.4 1390.0,1233.8 1390.5,1249.8 1391.0,1229.4 1391.5,1242.2 1392.0,1230.3 1392.5,1247.6 1393.0,1228.2 1393.5,1242.7 1394.0,1230.4 1394.5,1240.3 1395.0,1230.4 1395.5,1240.5 1396.0,1226.7 1396.5,1246.6 1397.0,1226.6 1397.5,1248.8 1398.0,1227.1 1398.5,1241.6 1399.0,1230.9 1399.5,1248.3 1400.0,1233.1 1400.5,1250.5 1401.0,1230.0 1401.5,1247.0 1402.0,1235.9 1402.5,1250.9 1403.0,1233.0 1403.5,1246.4 1404.0,1231.1 1404.5,1245.9 1405.0,1231.3 1405.5,1248.6 1406.0,1230.1 1406.5,1244.7 1407.0,1236.2 1407.5,1250.9 1408.0,1235.6 1408.5,1246.5 1409.0,1233.4 1409.5,1245.7 1410.0,1233.2 1410.5,1247.4 1411.0,1231.7 1411.5,1245.0 1412.0,1230.4 1412.5,1246.6 1413.0,1231.3 1413.5,1242.2 1414.0,1232.8 1414.5,1244.0 1415.0,1235.1 1415.5,1250.3 1416.0,1231.1 1416.5,1253.7 1417.0,1234.3 1417.5,1250.2 1418.0,1229.7 1418.5,1249.2 1419.0,1230.6 1419.5,1249.2 1420.0,1232.9 1420.5,1247.9 1421.0,1228.5 1421.5,1252.3 1422.0,1239.9 1422.5,1257.7 1423.0,1238.9 1423.5,1251.2 1424.0,1238.4 1424.5,1259.2 1425.0,1236.1 1425.5,1252.6 1426.0,1240.2 1426.5,1253.6 1427.0,1239.9 1427.5,1254.3 1428.0,1240.4 1428.5,1255.4 1429.0,1241.6 1429.5,1252.1 1430.0,1233.8 1430.5,1257.2 1431.0,1239.2 1431.5,1253.7 1432.0,1237.9 1432.5,1251.7 1433.0,1236.9 1433.5,1254.3 1434.0,1236.3 1434.5,1249.9 1435.0,1240.3 1435.5,1254.8 1436.0,1241.4 1436.5,1253.2 1437.0,1236.0 1437.5,1255.2 1438.0,1241.5 1438.5,1253.1 1439.0,1243.8 1439.5,1250.8 1440.0,1239.6 1440.5,1254.1 1441.0,1238.7 1441.5,1253.0 1442.0,1238.9 1442.5,1254.2 1443.0,1233.1 1443.5,1257.2 1444.0,1236.4 1444.5,1251.2 1445.0,1237.6 1445.5,1258.1 1446.0,1236.4 1446.5,1261.6 1447.0,1236.2 1447.5,1252.6 1448.0,1234.6 1448.5,1258.9 1449.0,1237.2 1449.5,1251.9 1450.0,1238.4 1450.5,1254.3 1451.0,1241.8 1451.5,1254.7 1452.0,1234.4 1452.5,1256.5 1453.0,1237.9 1453.5,1256.3 1454.0,1242.5 1454.5,1253.8 1455.0,1235.7 1455.5,1251.4 1456.0,1236.8 1456.5,1254.0 1457.0,1236.7 1457.5,1255.2 1458.0,1244.6 1458.5,1254.2 1459.0,1239.8 1459.5,1253.9 1460.0,1242.3 1460.5,1255.5 1461.0,1240.4 1461.5,1259.3 1462.0,1240.7 1462.5,1249.7 1463.0,1237.8 1463.5,1251.0 1464.0,1241.6 1464.5,1252.9 1465.0,1240.5 1465.5,1256.5 1466.0,1240.2 1466.5,1252.0 1467.0,1242.6 1467.5,1259.4 1468.0,1240.0 1468.5,1254.8 1469.0,1241.8 1469.5,1253.9 1470.0,1237.4 1470.5,1256.5 1471.0,1235.5 1471.5,1256.5 1472.0,1241.8 1472.5,1251.5 1473.0,1235.6 1473.5,1256.9 1474.0,1242.0 1474.5,1255.8 1475.0,1238.6 1475.5,1253.3 1476.0,1238.7 1476.5,1253.1 1477.0,1239.3 1477.5,1259.8 1478.0,1239.1 1478.5,1253.7 1479.0,1243.7 1479.5,1255.7 1480.0,1238.4 1480.5,1252.1 1481.0,1243.4 1481.5,1257.1 1482.0,1245.4 1482.5,1252.7 1483.0,1240.9 1483.5,1257.2 1484.0,1245.8 1484.5,1260.8 1485.0,1246.2 1485.5,1261.0 1486.0,1240.2 1486.5,1256.8 1487.0,1243.7 1487.5,1255.2 1488.0,1245.9 1488.5,1255.9 1489.0,1240.2 1489.5,1262.0 1490.0,1244.9 1490.5,1258.7 1491.0,1245.2 1491.5,1258.4 1492.0,1241.7 1492.5,1258.6 1493.0,1239.5 1493.5,1256.9 1494.0,1245.7 1494.5,1254.4 1495.0,1244.6 1495.5,1258.7 1496.0,1242.1 1496.5,1257.1 1497.0,1237.7 1497.5,1255.4 1498.0,1244.0 1498.5,1256.8 1499.0,1243.0 1499.5,1259.2 1500.0,1241.5 1500.5,1259.8 1501.0,1245.4 1501.5,1258.6 1502.0,1245.2 1502.5,1258.6 1503.0,1240.5 1503.5,1260.2 1504.0,1249.3 1504.5,1258.0 1505.0,1246.7 1505.5,1260.1 1506.0,1242.2 1506.5,1259.3 1507.0,1246.8 1507.5,1257.2 1508.0,1247.4 1508.5,1261.5 1509.0,1246.2 1509.5,1265.9 1510.0,1246.4 1510.5,1263.0 1511.0,1244.8 1511.5,1259.2 1512.0,1243.4 1512.5,1260.7 1513.0,1247.7 1513.5,1258.2 1514.0,1246.6 1514.5,1261.0 1515.0,1240.3 1515.5,1258.3 1516.0,1247.7 1516.5,1257.0 1517.0,1246.2 1517.5,1258.2 1518.0,1242.8 1518.5,1257.3 1519.0,1242.1 1519.5,1255.2 1520.0,1244.5 1520.5,1256.7 1521.0,1248.0 1521.5,1263.2 1522.0,1246.0 1522.5,1262.2 1523.0,1247.1 1523.5,1262.1 1524.0,1245.5 1524.5,1262.2 1525.0,1245.2 1525.5,1261.1 1526.0,1243.8 1526.5,1259.5 1527.0,1248.3 1527.5,1259.2 1528.0,1247.0 1528.5,1260.2 1529.0,1247.4 1529.5,1259.9 1530.0,1245.6 1530.5,1262.9 1531.0,1245.3 1531.5,1258.0 1532.0,1244.2 1532.5,1258.6 1533.0,1243.9 1533.5,1256.6 1534.0,1249.5 1534.5,1263.3 1535.0,1246.0 1535.5,1260.5 1536.0,1249.2 1536.5,1259.3 1537.0,1242.4 1537.5,1261.1 1538.0,1249.3 1538.5,1260.8 1539.0,1248.6 1539.5,1261.9 1540.0,1245.2 1540.5,1262.3 1541.0,1245.5 1541.5,1262.2 1542.0,1244.2 1542.5,1260.3 1543.0,1249.6 1543.5,1259.7 1544.0,1247.4 1544.5,1260.8 1545.0,1248.2 1545.5,1256.4 1546.0,1248.4 1546.5,1261.7 1547.0,1242.0 1547.5,1260.8 1548.0,1244.7 1548.5,1257.5 1549.0,1244.8 1549.5,1255.3 1550.0,1242.6 1550.5,1257.4 1551.0,1247.1 1551.5,1263.1 1552.0,1243.5 1552.5,1257.5 1553.0,1245.6 1553.5,1257.1 1554.0,1242.7 1554.5,1253.9 1555.0,1245.7 1555.5,1255.5 1556.0,1241.1 1556.5,1260.0 1557.0,1248.2 1557.5,1258.8 1558.0,1246.3 1558.5,1259.2 1559.0,1244.1 1559.5,1261.1 1560.0,1244.9 1560.5,1262.5 1561.0,1247.5 1561.5,1258.6 1562.0,1248.2 1562.5,1258.8 1563.0,1249.1 1563.5,1258.9 1564.0,1245.8 1564.5,1259.4 1565.0,1243.4 1565.5,1259.7 1566.0,1244.8 1566.5,1258.0 1567.0,1249.9 1567.5,1257.2 1568.0,1243.0 1568.5,1259.1 1569.0,1248.4 1569.5,1263.6 1570.0,1245.6 1570.5,1260.6 1571.0,1242.3 1571.5,1258.1 1572.0,1250.0 1572.5,1259.3 1573.0,1251.1 1573.5,1263.3 1574.0,1247.7 1574.5,1263.1 1575.0,1249.3 1575.5,1265.2 1576.0,1250.5 1576.5,1260.9 1577.0,1243.2 1577.5,1262.8 1578.0,1251.1 1578.5,1260.3 1579.0,1246.0 1579.5,1259.0 1580.0,1247.8 1580.5,1260.1 1581.0,1246.7 1581.5,1262.0 1582.0,1250.0 1582.5,1267.4 1583.0,1246.1 1583.5,1260.6 1584.0,1246.7 1584.5,1263.6 1585.0,1246.9 1585.5,1270.0 1586.0,1250.6 1586.5,1263.0 1587.0,1251.7 1587.5,1267.0 1588.0,1253.1 1588.5,1264.5 1589.0,1254.5 1589.5,1266.4 1590.0,1250.0 1590.5,1273.5 1591.0,1254.4 1591.5,1267.1 1592.0,1253.9 1592.5,1266.0 1593.0,1252.8 1593.5,1265.5 1594.0,1255.3 1594.5,1267.7 1595.0,1249.0 1595.5,1264.6 1596.0,1250.9 1596.5,1270.8 1597.0,1249.7 1597.5,1263.6 1598.0,1248.7 1598.5,1265.4 1599.0,1245.5 1599.5,1261.9 1600.0,1246.7 1600.5,1266.7 1601.0,1245.8 1601.5,1261.7 1602.0,1250.2 1602.5,1261.1 1603.0,1246.8 1603.5,1258.9 1604.0,1246.7 1604.5,1265.6 1605.0,1247.6 1605.5,1257.3 1606.0,1245.9 1606.5,1265.5 1607.0,1247.9 1607.5,1263.3 1608.0,1248.0 1608.5,1263.5 1609.0,1249.0 1609.5,1263.1 1610.0,1245.9 1610.5,1262.9 1611.0,1245.7 1611.5,1270.4 1612.0,1254.1 1612.5,1267.0 1613.0,1251.1 1613.5,1264.3 1614.0,1250.1 1614.5,1264.4 1615.0,1252.3 1615.5,1260.9 1616.0,1249.2 1616.5,1261.2 1617.0,1248.2 1617.5,1265.1 1618.0,1246.9 1618.5,1268.7 1619.0,1246.7 1619.5,1264.0 1620.0,1251.2 1620.5,1260.8 1621.0,1247.7 1621.5,1268.5 1622.0,1247.9 1622.5,1263.4 1623.0,1252.9 1623.5,1262.1 1624.0,1248.6 1624.5,1267.2 1625.0,1251.2 1625.5,1262.6 1626.0,1248.1 1626.5,1267.5 1627.0,1250.3 1627.5,1262.4 1628.0,1244.2 1628.5,1265.6 1629.0,1251.5 1629.5,1262.7 1630.0,1252.6 1630.5,1266.2 1631.0,1249.4 1631.5,1261.2 1632.0,1249.6 1632.5,1263.3 1633.0,1247.6 1633.5,1266.0 1634.0,1250.5 1634.5,1266.4 1635.0,1253.8 1635.5,1263.4 1636.0,1253.3 1636.5,1266.7 1637.0,1255.3 1637.5,1265.5 1638.0,1248.0 1638.5,1268.2 1639.0,1250.3 1639.5,1264.6 1640.0,1249.3 1640.5,1263.0 1641.0,1250.4 1641.5,1265.7 1642.0,1255.0 1642.5,1271.5 1643.0,1249.0 1643.5,1270.7 1644.0,1251.5 1644.5,1266.3 1645.0,1253.7 1645.5,1271.4 1646.0,1253.4 1646.5,1262.1 1647.0,1254.7 1647.5,1268.7 1648.0,1255.2 1648.5,1264.2 1649.0,1253.3 1649.5,1269.7 1650.0,1253.8 1650.5,1261.1 1651.0,1247.4 1651.5,1263.8 1652.0,1253.9 1652.5,1262.8 1653.0,1251.9 1653.5,1263.4 1654.0,1253.1 1654.5,1261.7 1655.0,1245.5 1655.5,1258.9 1656.0,1247.4 1656.5,1263.1 1657.0,1248.7 1657.5,1262.7 1658.0,1250.5 1658.5,1265.2 1659.0,1246.2 1659.5,1263.9 1660.0,1251.9 1660.5,1262.3 1661.0,1252.0 1661.5,1263.4 1662.0,1257.0 1662.5,1261.9 1663.0,1252.8 1663.5,1265.3 1664.0,1243.5 1664.5,1271.5 1665.0,1254.5 1665.5,1269.0 1666.0,1250.8 1666.5,1266.5 1667.0,1253.9 1667.5,1265.6 1668.0,1254.2 1668.5,1268.3 1669.0,1255.6 1669.5,1266.8 1670.0,1252.3 1670.5,1267.7 1671.0,1251.6 1671.5,1265.1 1672.0,1246.9 1672.5,1262.7 1673.0,1253.8 1673.5,1263.1 1674.0,1254.1 1674.5,1263.5 1675.0,1249.7 1675.5,1264.0 1676.0,1251.8 1676.5,1264.5 1677.0,1254.4 1677.5,1265.7 1678.0,1253.4 1678.5,1265.7 1679.0,1251.6 1679.5,1265.5 1680.0,1251.3 1680.5,1267.4 1681.0,1248.5 1681.5,1261.9 1682.0,1248.8 1682.5,1267.7 1683.0,1246.4 1683.5,1264.8 1684.0,1249.1 1684.5,1264.3 1685.0,1252.2 1685.5,1264.9 1686.0,1244.9 1686.5,1268.8 1687.0,1251.3 1687.5,1258.9 1688.0,1244.8 1688.5,1262.2 1689.0,1247.1 1689.5,1262.3 1690.0,1246.3 1690.5,1262.8 1691.0,1249.6 1691.5,1261.7 1692.0,1247.2 1692.5,1266.9 1693.0,1244.9 1693.5,1264.4 1694.0,1250.5 1694.5,1263.1 1695.0,1245.4 1695.5,1266.1 1696.0,1253.6 1696.5,1264.8 1697.0,1251.5 1697.5,1267.3 1698.0,1250.3 1698.5,1263.7 1699.0,1251.7 1699.5,1264.5 1700.0,1254.4 1700.5,1270.8 1701.0,1249.4 1701.5,1266.2 1702.0,1248.7 1702.5,1264.0 1703.0,1254.7 1703.5,1268.3 1704.0,1255.5 1704.5,1264.7 1705.0,1255.6 1705.5,1262.3 1706.0,1248.5 1706.5,1266.6 1707.0,1249.9 1707.5,1268.7 1708.0,1251.8 1708.5,1263.3 1709.0,1251.4 1709.5,1270.2 1710.0,1248.7 1710.5,1265.7 1711.0,1253.9 1711.5,1264.8 1712.0,1249.8 1712.5,1269.3 1713.0,1250.7 1713.5,1264.7 1714.0,1251.0 1714.5,1262.3 1715.0,1255.5 1715.5,1267.6 1716.0,1249.5 1716.5,1266.9 1717.0,1253.1 1717.5,1263.0 1718.0,1250.8 1718.5,1269.0 1719.0,1248.3 1719.5,1267.7 1720.0,1252.2 1720.5,1268.0 1721.0,1254.1 1721.5,1265.9 1722.0,1251.3 1722.5,1269.2 1723.0,1253.8 1723.5,1267.3 1724.0,1254.6 1724.5,1267.9 1725.0,1251.5 1725.5,1272.6 1726.0,1252.1 1726.5,1270.6 1727.0,1249.7 1727.5,1269.2 1728.0,1255.2 1728.5,1273.0 1729.0,1256.0 1729.5,1266.2 1730.0,1254.2 1730.5,1266.7 1731.0,1259.7 1731.5,1266.2 1732.0,1256.9 1732.5,1267.6 1733.0,1253.4 1733.5,1268.4 1734.0,1256.7 1734.5,1266.1 1735.0,1251.7 1735.5,1270.6 1736.0,1253.2 1736.5,1270.4 1737.0,1251.2 1737.5,1262.4 1738.0,1252.6 1738.5,1262.6 1739.0,1251.2 1739.5,1266.6 1740.0,1250.3 1740.5,1262.2 1741.0,1250.0 1741.5,1268.7 1742.0,1252.6 1742.5,1271.2 1743.0,1256.0 1743.5,1267.6 1744.0,1247.7 1744.5,1265.5 1745.0,1246.7 1745.5,1264.1 1746.0,1254.0 1746.5,1263.6 1747.0,1252.4 1747.5,1271.5 1748.0,1255.0 1748.5,1267.6 1749.0,1258.4 1749.5,1266.7 1750.0,1256.4 1750.5,1270.7 1751.0,1252.0 1751.5,1267.2 1752.0,1253.3 1752.5,1266.4 1753.0,1252.3 1753.5,1265.4 1754.0,1251.5 1754.5,1267.2 1755.0,1249.4 1755.5,1269.6 1756.0,1251.9 1756.5,1270.2 1757.0,1251.7 1757.5,1266.4 1758.0,1252.8 1758.5,1268.8 1759.0,1253.3 1759.5,1273.3 1760.0,1259.3 1760.5,1269.2 1761.0,1257.1 1761.5,1266.2 1762.0,1258.1 1762.5,1273.2 1763.0,1260.7 1763.5,1267.0 1764.0,1257.4 1764.5,1266.9 1765.0,1255.8 1765.5,1274.5 1766.0,1258.5 1766.5,1269.1 1767.0,1253.5 1767.5,1271.4 1768.0,1256.7 1768.5,1267.9 1769.0,1256.2 1769.5,1268.3 1770.0,1257.9 1770.5,1273.2 1771.0,1255.9 1771.5,1268.0 1772.0,1252.8 1772.5,1269.2 1773.0,1249.9 1773.5,1269.4 1774.0,1250.3 1774.5,1267.2 1775.0,1257.7 1775.5,1269.9 1776.0,1252.0 1776.5,1266.8 1777.0,1255.2 1777.5,1266.6 1778.0,1253.5 1778.5,1265.6 1779.0,1252.5 1779.5,1272.6 1780.0,1253.3 1780.5,1262.8 1781.0,1248.0 1781.5,1265.8 1782.0,1249.7 1782.5,1263.6 1783.0,1252.6 1783.5,1262.1 1784.0,1253.9 1784.5,1263.1 1785.0,1249.4 1785.5,1261.7 1786.0,1251.4 1786.5,1262.4 1787.0,1256.2 1787.5,1266.1 1788.0,1254.5 1788.5,1265.7 1789.0,1251.1 1789.5,1270.3 1790.0,1252.8 1790.5,1265.5 1791.0,1251.6 1791.5,1270.5 1792.0,1257.3 1792.5,1265.9 1793.0,1253.6 1793.5,1269.9 1794.0,1253.3 1794.5,1269.2 1795.0,1254.7 1795.5,1266.5 1796.0,1254.0 1796.5,1269.0 1797.0,1259.5 1797.5,1273.5 1798.0,1258.3 1798.5,1272.5 1799.0,1254.3 1799.5,1272.2 1800.0,1252.2 1800.5,1267.0 1801.0,1254.3 1801.5,1266.5 1802.0,1257.8 1802.5,1269.1 1803.0,1258.7 1803.5,1270.1 1804.0,1251.8 1804.5,1268.0 1805.0,1252.6 1805.5,1266.9 1806.0,1253.1 1806.5,1268.3 1807.0,1257.0 1807.5,1269.7 1808.0,1255.5 1808.5,1266.1 1809.0,1256.6 1809.5,1269.2 1810.0,1256.0 1810.5,1269.9 1811.0,1255.4 1811.5,1269.7 1812.0,1249.6 1812.5,1267.9 1813.0,1259.0 1813.5,1266.5 1814.0,1253.7 1814.5,1268.0 1815.0,1250.9 1815.5,1275.1 1816.0,1256.8 1816.5,1268.9 1817.0,1256.8 1817.5,1277.7 1818.0,1252.4 1818.5,1269.4 1819.0,1253.8 1819.5,1271.4 1820.0,1252.9 1820.5,1268.4 1821.0,1249.0 1821.5,1264.3 1822.0,1254.9 1822.5,1273.3 1823.0,1252.2 1823.5,1269.6 1824.0,1247.9 1824.5,1264.3 1825.0,1251.4 1825.5,1266.8 1826.0,1254.5 1826.5,1265.3 1827.0,1251.5 1827.5,1264.8 1828.0,1252.2 1828.5,1270.7 1829.0,1255.8 1829.5,1264.2 1830.0,1254.9 1830.5,1264.3 1831.0,1252.3 1831.5,1268.3 1832.0,1258.2 1832.5,1264.2 1833.0,1255.4 1833.5,1267.7 1834.0,1256.6 1834.5,1268.1 1835.0,1256.9 1835.5,1273.9 1836.0,1249.4 1836.5,1270.3 1837.0,1255.3 1837.5,1268.5 1838.0,1258.0 1838.5,1267.7 1839.0,1255.3 1839.5,1265.6 1840.0,1247.3 1840.5,1267.2 1841.0,1250.1 1841.5,1265.5 1842.0,1254.2 1842.5,1269.7 1843.0,1253.9 1843.5,1264.0 1844.0,1251.4 1844.5,1271.8 1845.0,1256.9 1845.5,1268.0 1846.0,1252.1 1846.5,1273.0 1847.0,1257.1 1847.5,1272.1 1848.0,1257.4 1848.5,1270.3 1849.0,1250.1 1849.5,1267.0 1850.0,1255.0 1850.5,1262.6 1851.0,1252.0 1851.5,1268.8 1852.0,1253.8 1852.5,1269.0 1853.0,1253.7 1853.5,1262.5 1854.0,1252.9 1854.5,1268.5 1855.0,1259.5 1855.5,1272.5 1856.0,1259.4 1856.5,1266.3 1857.0,1258.7 1857.5,1272.5 1858.0,1251.4 1858.5,1268.4 1859.0,1255.8 1859.5,1268.5 1860.0,1255.8 1860.5,1272.8 1861.0,1251.9 1861.5,1266.5 1862.0,1251.2 1862.5,1271.7 1863.0,1252.3 1863.5,1264.1 1864.0,1251.6 1864.5,1265.5 1865.0,1254.4 1865.5,1271.6 1866.0,1250.6 1866.5,1269.0 1867.0,1254.2 1867.5,1269.6 1868.0,1256.6 1868.5,1267.9 1869.0,1260.4 1869.5,1267.3 1870.0,1260.0 1870.5,1269.8 1871.0,1251.3 1871.5,1268.3 1872.0,1254.7 1872.5,1266.9 1873.0,1254.3 1873.5,1268.4 1874.0,1255.1 1874.5,1270.9 1875.0,1252.3 1875.5,1272.0 1876.0,1257.8 1876.5,1270.1 1877.0,1252.2 1877.5,1271.0 1878.0,1257.3 1878.5,1271.1 1879.0,1256.2 1879.5,1273.1 1880.0,1258.9 1880.5,1272.6 1881.0,1253.9 1881.5,1270.8 1882.0,1256.7 1882.5,1271.8 1883.0,1262.0 1883.5,1270.5 1884.0,1259.9 1884.5,1271.3 1885.0,1258.8 1885.5,1275.5 1886.0,1256.5 1886.5,1267.3 1887.0,1255.7 1887.5,1272.9 1888.0,1257.7 1888.5,1274.4 1889.0,1259.8 1889.5,1271.4 1890.0,1259.5 1890.5,1271.1 1891.0,1257.2 1891.5,1274.8 1892.0,1258.6 1892.5,1275.1 1893.0,1255.3 1893.5,1270.9"/></g>
<g stroke="#ff0000"><path class="core" d="M308.5,597.0 310.5,618.7 312.5,637.9 314.5,653.5 316.5,666.1 318.5,677.0 320.5,687.1 322.5,697.3 324.5,708.0 326.5,718.4 328.5,728.7 330.5,739.1 332.5,750.0 334.5,761.5 336.5,773.5 338.5,785.5 340.5,797.2 342.5,808.2 344.5,818.8 346.5,829.2 348.5,839.6 350.5,850.0 352.5,860.9 354.5,872.3 356.5,883.3 358.5,893.4 360.5,902.0 362.5,909.9 364.5,917.6 366.5,925.0 368.5,931.7 370.5,937.9 372.5,943.2 374.5,947.5 376.5,950.7 378.5,953.6 380.5,956.2 382.5,958.3 384.5,959.7 386.5,960.0 388.5,959.7 390.5,959.0 392.5,958.0 394.5,956.7 396.5,955.1 398.5,953.4 400.5,951.4 402.5,949.4 404.5,947.2 406.5,945.0 408.5,942.8 410.5,940.6 412.5,938.5 414.5,936.5 416.5,934.5 418.5,932.4 420.5,930.2 422.5,927.9 424.5,925.5 426.5,923.1 428.5,920.7 430.5,918.3 432.5,916.0 434.5,913.8 436.5,911.7 438.5,909.7 440.5,908.0 442.5,906.2 444.5,904.3 446.5,902.3 448.5,900.5 450.5,898.7 452.5,897.1 454.5,895.7 456.5,894.6 458.5,893.9 460.5,893.5 462.5,893.7 464.5,894.5 466.5,895.8 468.5,897.5 470.5,899.5 472.5,901.7 474.5,904.1 476.5,906.4 478.5,908.9 480.5,911.9 482.5,915.4 484.5,919.1 486.5,923.0 488.5,926.9 490.5,930.6 492.5,934.4 494.5,938.4 496.5,942.3 498.5,946.3 500.5,950.2 502.5,953.9 504.5,957.7 506.5,961.4 508.5,965.1 510.5,968.7 512.5,972.1 514.5,975.2 516.5,978.2 518.5,980.9 520.5,983.5 522.5,986.0 524.5,988.4 526.5,990.9 528.5,993.3 530.5,995.6 532.5,997.8 534.5,1000.0 536.5,1002.3 538.5,1004.9 540.5,1007.8 542.5,1011.7 544.5,1016.4 546.5,1021.2 548.5,1025.5 550.5,1028.7 552.5,1030.2 554.5,1031.1 556.5,1031.9 558.5,1032.6 560.5,1033.1 562.5,1033.4 564.5,1033.6 566.5,1033.6 568.5,1033.5 570.5,1033.4 572.5,1033.3 574.5,1033.2 576.5,1033.1 578.5,1033.0 580.5,1033.0 582.5,1033.5 584.5,1034.5 586.5,1035.9 588.5,1037.6 590.5,1039.5 592.5,1041.6 594.5,1043.6 596.5,1045.4 598.5,1047.1 600.5,1048.3 602.5,1049.2 604.5,1049.8 606.5,1050.3 608.5,1050.8 610.5,1051.2 612.5,1051.6 614.5,1051.9 616.5,1052.3 618.5,1052.7 620.5,1053.2 622.5,1053.7 624.5,1054.4 626.5,1055.3 628.5,1056.2 630.5,1057.0 632.5,1057.8 634.5,1058.3 636.5,1058.6 638.5,1058.6 640.5,1058.4 642.5,1058.1 644.5,1057.8 646.5,1057.3 648.5,1056.8 650.5,1056.2 652.5,1055.6 654.5,1054.9 656.5,1054.2 658.5,1053.5 660.5,1052.9 662.5,1052.2 664.5,1051.6 666.5,1051.0 668.5,1050.3 670.5,1049.5 672.5,1048.6 674.5,1047.8 676.5,1046.9 678.5,1046.0 680.5,1045.2 682.5,1044.4 684.5,1043.7 686.5,1043.1 687.0,1042.9 687.8,1042.8 688.5,1042.6 689.2,1042.4 690.0,1041.9 690.5,1041.1 690.8,1040.4 691.5,1037.2 692.2,1032.9 692.5,1031.8 693.0,1030.8 693.8,1032.8 694.5,1037.0 695.2,1040.2 696.0,1041.5 696.5,1041.8 696.8,1041.8 697.5,1041.9 698.2,1041.9 698.5,1041.9 699.0,1041.9 700.5,1041.8 702.5,1041.8 704.5,1041.8 706.5,1041.8 708.5,1041.7 710.5,1041.7 712.5,1041.7 714.5,1041.6 716.5,1041.5 718.5,1041.3 720.5,1041.0 722.5,1040.7 724.5,1040.3 726.5,1039.9 728.5,1039.5 730.5,1039.0 732.5,1038.5 734.5,1038.1 736.5,1037.6 738.5,1037.2 740.5,1036.8 742.5,1036.4 744.5,1036.1 746.5,1035.7 748.5,1035.3 749.2,1035.2 750.0,1035.1 750.5,1034.9 750.8,1034.8 751.5,1034.0 752.2,1031.2 752.5,1029.4 753.0,1024.7 753.8,1016.1 754.5,1011.8 755.2,1015.8 756.0,1024.1 756.5,1028.7 756.8,1030.4 757.5,1032.9 758.2,1033.5 758.5,1033.5 759.0,1033.5 759.8,1033.3 760.5,1033.2 762.0,1032.9 762.5,1032.8 762.8,1032.8 763.5,1032.6 764.2,1032.3 764.5,1032.1 765.0,1031.1 765.8,1026.9 766.5,1017.2 767.2,1004.3 768.0,997.8 768.5,1000.6 768.8,1004.0 769.5,1016.6 770.2,1026.1 770.5,1027.9 771.0,1030.0 771.8,1030.9 772.5,1030.9 773.2,1030.8 774.0,1030.6 774.5,1030.5 776.5,1030.1 778.5,1029.7 780.5,1029.2 782.5,1028.7 784.5,1028.3 786.5,1027.8 788.5,1027.3 790.5,1026.7 792.5,1026.1 794.5,1025.4 796.5,1024.6 798.5,1023.8 800.5,1023.0 802.5,1022.2 804.5,1021.4 806.5,1020.6 808.5,1019.8 810.5,1019.1 812.5,1018.5 814.5,1017.9 816.5,1017.5 818.5,1017.0 820.5,1016.6 822.5,1016.3 824.5,1015.9 826.5,1015.6 828.5,1015.3 830.5,1015.0 832.5,1014.7 834.5,1014.4 836.5,1014.1 838.5,1013.7 840.5,1013.4 842.5,1013.0 844.5,1012.6 846.5,1012.2 848.5,1011.8 850.5,1011.3 852.5,1010.9 854.5,1010.6 856.5,1010.2 858.5,1010.0 860.5,1009.9 862.5,1009.8 864.5,1009.8 866.5,1009.9 868.5,1010.1 870.5,1010.3 872.5,1010.6 874.5,1010.9 876.5,1011.2 878.5,1011.6 880.5,1011.9 882.5,1012.4 884.5,1012.8 886.5,1013.2 888.5,1013.7 890.5,1014.1 892.5,1014.7 894.5,1015.5 896.5,1016.5 898.5,1017.5 900.5,1018.6 902.5,1019.7 904.5,1020.8 906.5,1021.7 908.5,1022.6 910.5,1023.3 912.5,1023.8 914.5,1024.0 916.5,1023.9 918.5,1023.7 920.5,1023.3 922.5,1022.8 924.5,1022.2 926.5,1021.6 928.5,1020.9 930.5,1020.3 932.5,1019.7 934.5,1019.2 936.5,1018.8 938.5,1018.6 940.5,1018.5 942.5,1018.8 944.5,1019.3 946.5,1020.1 948.5,1021.0 950.5,1022.1 952.5,1023.2 954.5,1024.4 956.5,1025.5 958.5,1026.5 960.5,1027.4 962.5,1028.0 964.5,1028.4 966.5,1028.6 968.5,1028.8 970.5,1028.9 971.0,1029.0 971.8,1029.0 972.5,1029.1 973.2,1029.0 974.0,1028.3 974.5,1026.7 974.8,1025.3 975.5,1018.3 976.2,1008.9 976.5,1006.4 977.0,1004.2 977.8,1009.0 978.5,1018.4 979.2,1025.5 980.0,1028.6 980.5,1029.2 980.8,1029.4 981.5,1029.5 982.2,1029.6 982.5,1029.6 983.0,1029.6 984.5,1029.6 986.5,1029.7 988.5,1029.7 990.5,1029.7 992.5,1029.5 994.5,1029.2 996.5,1028.7 998.5,1028.1 1000.5,1027.5 1002.5,1026.7 1004.5,1025.9 1006.5,1025.1 1008.5,1024.3 1010.5,1023.5 1012.5,1022.8 1014.5,1022.1 1016.5,1021.6 1018.5,1021.1 1020.5,1020.6 1022.5,1020.0 1024.5,1019.5 1026.5,1019.1 1028.5,1018.6 1030.5,1018.1 1032.5,1017.6 1034.5,1017.2 1036.5,1016.8 1038.5,1016.3 1040.5,1015.9 1042.5,1015.4 1044.5,1014.9 1046.5,1014.4 1048.5,1013.9 1050.5,1013.4 1052.5,1013.0 1054.5,1012.6 1055.0,1012.5 1055.8,1012.4 1056.5,1012.3 1057.2,1012.1 1058.0,1011.6 1058.5,1010.6 1058.8,1009.7 1059.5,1005.4 1060.2,999.6 1060.5,998.1 1061.0,996.8 1061.8,999.6 1062.5,1005.3 1063.2,1009.6 1064.0,1011.5 1064.5,1011.9 1064.8,1011.9 1065.5,1012.0 1066.2,1012.1 1066.5,1012.1 1067.0,1012.1 1068.5,1012.1 1070.5,1012.2 1072.5,1012.2 1074.5,1012.3 1076.5,1012.4 1078.5,1012.6 1080.5,1012.7 1082.5,1012.9 1084.5,1013.5 1086.5,1014.5 1088.5,1016.0 1090.5,1017.6 1092.5,1019.2 1094.5,1020.7 1096.5,1021.9 1098.5,1022.6 1100.5,1022.8 1102.5,1022.9 1104.5,1023.0 1106.5,1023.0 1108.5,1023.1 1110.5,1023.1 1112.5,1023.1 1114.5,1023.2 1116.5,1023.2 1118.5,1023.2 1120.5,1023.3 1122.5,1023.3 1124.5,1023.4 1126.5,1023.5 1128.5,1023.7 1130.5,1024.3 1132.5,1025.2 1134.5,1026.3 1136.5,1027.7 1138.5,1029.3 1140.5,1030.9 1142.5,1032.6 1144.5,1034.3 1146.5,1036.0 1148.5,1037.5 1150.5,1038.8 1152.5,1040.0 1154.5,1041.0 1156.5,1042.0 1158.5,1043.0 1160.5,1044.0 1162.5,1044.9 1164.5,1045.8 1166.5,1046.7 1168.5,1047.5 1170.5,1048.4 1172.5,1049.2 1174.5,1050.0 1176.5,1050.8 1178.5,1051.6 1180.5,1052.4 1182.5,1053.1 1184.5,1053.8 1186.5,1054.6 1188.5,1055.3 1190.5,1056.0 1192.5,1056.7 1194.5,1057.3 1196.5,1058.0 1198.5,1058.6 1200.5,1059.2 1202.5,1059.9 1204.5,1060.5 1206.5,1061.1 1208.5,1061.7 1210.5,1062.3 1212.5,1062.9 1214.5,1063.5 1216.5,1064.1 1218.5,1064.7 1220.5,1065.3 1222.5,1065.8 1224.5,1066.4 1226.5,1066.9 1228.5,1067.4 1230.5,1067.9 1232.5,1068.3 1234.5,1068.8 1236.5,1069.2 1238.5,1069.5 1240.5,1069.8 1242.5,1070.1 1244.5,1070.4 1246.5,1070.6 1248.5,1070.9 1250.5,1071.1 1252.5,1071.3 1254.5,1071.5 1256.5,1071.7 1258.5,1071.9 1260.5,1072.1 1262.5,1072.4 1264.5,1072.7 1266.5,1073.0 1268.5,1073.4 1270.5,1073.8 1272.5,1074.2 1274.5,1074.7 1276.5,1075.2 1278.5,1075.6 1280.5,1076.1 1282.5,1076.7 1284.5,1077.2 1286.5,1077.7 1288.5,1078.2 1290.5,1078.7 1292.5,1079.1 1294.5,1079.6 1296.5,1080.0 1298.5,1080.4 1300.5,1080.8 1302.5,1081.1 1304.5,1081.4 1306.5,1081.7 1308.5,1081.9 1310.5,1082.2 1312.5,1082.5 1314.5,1082.7 1316.5,1083.0 1318.5,1083.2 1320.5,1083.5 1322.5,1083.7 1324.5,1083.9 1326.5,1084.1 1328.5,1084.3 1330.5,1084.5 1330.6,1084.6 1331.3,1084.6 1332.1,1084.7 1332.5,1084.7 1332.8,1084.7 1333.6,1084.0 1334.3,1081.2 1334.5,1080.2 1335.1,1074.6 1335.8,1065.6 1336.5,1061.3 1336.6,1061.2 1337.3,1065.8 1338.1,1074.8 1338.5,1079.0 1338.8,1081.7 1339.6,1084.6 1340.3,1085.4 1340.5,1085.5 1341.1,1085.6 1341.8,1085.7 1342.5,1085.7 1342.6,1085.8 1344.5,1085.9 1346.5,1086.1 1348.5,1086.3 1350.5,1086.5 1352.5,1086.7 1354.5,1086.9 1356.5,1087.1 1358.5,1087.3 1360.5,1087.6 1362.5,1087.8 1364.5,1088.0 1366.5,1088.2 1368.5,1088.5 1370.5,1088.7 1372.5,1088.9 1374.5,1089.2 1376.5,1089.4 1378.0,1089.6 1378.5,1089.7 1378.8,1089.7 1379.5,1089.8 1380.2,1089.9 1380.5,1089.8 1381.0,1089.5 1381.8,1088.0 1382.5,1084.3 1383.2,1079.2 1384.0,1076.8 1384.5,1078.0 1384.8,1079.4 1385.5,1084.7 1386.2,1088.6 1386.5,1089.4 1387.0,1090.4 1387.8,1090.9 1388.5,1091.1 1389.2,1091.2 1390.0,1091.3 1390.5,1091.4 1392.5,1091.7 1394.5,1092.0 1396.5,1092.3 1398.5,1092.6 1400.5,1092.9 1402.5,1093.2 1404.5,1093.5 1406.5,1093.8 1408.5,1094.1 1410.5,1094.4 1412.5,1094.7 1414.5,1095.0 1416.5,1095.3 1418.5,1095.6 1420.5,1095.9 1422.5,1096.2 1424.5,1096.5 1426.5,1096.7 1428.5,1097.0 1430.5,1097.3 1432.5,1097.6 1434.5,1097.9 1436.5,1098.2 1438.5,1098.4 1440.5,1098.7 1442.5,1099.0 1444.5,1099.2 1446.5,1099.5 1448.5,1099.7 1450.5,1100.0 1452.5,1100.2 1454.5,1100.4 1456.5,1100.7 1458.5,1100.9 1460.5,1101.2 1462.5,1101.4 1464.5,1101.7 1466.5,1101.9 1468.5,1102.1 1470.5,1102.4 1472.5,1102.6 1474.5,1102.8 1476.5,1103.1 1478.5,1103.3 1480.5,1103.5 1482.5,1103.7 1484.5,1104.0 1486.5,1104.2 1488.5,1104.4 1490.5,1104.6 1492.5,1104.8 1494.5,1105.1 1496.5,1105.3 1498.5,1105.5 1500.5,1105.7 1502.5,1105.9 1504.5,1106.1 1506.5,1106.3 1508.5,1106.5 1510.5,1106.7 1512.5,1106.9 1514.5,1107.0 1516.5,1107.2 1518.5,1107.4 1520.5,1107.6 1522.5,1107.8 1524.5,1107.9 1526.5,1108.1 1528.5,1108.3 1530.5,1108.5 1532.5,1108.7 1534.5,1108.9 1536.5,1109.0 1538.5,1109.2 1540.5,1109.4 1542.5,1109.6 1544.5,1109.7 1546.5,1109.9 1548.5,1110.1 1550.5,1110.3 1552.5,1110.4 1554.5,1110.6 1556.5,1110.8 1558.5,1110.9 1560.5,1111.1 1562.5,1111.2 1564.5,1111.4 1566.5,1111.5 1568.5,1111.7 1570.5,1111.8 1572.5,1111.9 1574.5,1112.1 1576.5,1112.2 1578.5,1112.3 1580.5,1112.4 1582.5,1112.5 1584.5,1112.6 1586.5,1112.7 1588.5,1112.8 1590.5,1112.9 1592.5,1113.0 1594.5,1113.1 1596.5,1113.1 1598.5,1113.2 1600.5,1113.3 1602.5,1113.3 1604.5,1113.4 1606.5,1113.4 1608.5,1113.5 1610.5,1113.6 1612.5,1113.6 1614.5,1113.7 1616.5,1113.7 1618.5,1113.7 1620.5,1113.8 1622.5,1113.8 1624.5,1113.9 1626.5,1113.9 1628.5,1114.0 1630.5,1114.0 1632.5,1114.0 1634.5,1114.1 1636.5,1114.1 1638.5,1114.2 1640.5,1114.2 1642.5,1114.2 1644.5,1114.3 1646.5,1114.3 1648.5,1114.4 1650.5,1114.4 1652.5,1114.5 1654.5,1114.5 1656.5,1114.6 1658.5,1114.6 1660.5,1114.7 1662.5,1114.7 1664.5,1114.8 1666.5,1114.8 1668.5,1114.9 1670.5,1114.9 1672.5,1115.0 1674.5,1115.1 1676.5,1115.1 1678.5,1115.2 1680.5,1115.3 1682.5,1115.3 1684.5,1115.4 1686.5,1115.5 1688.5,1115.6 1690.5,1115.7 1692.5,1115.7 1694.5,1115.8 1696.5,1115.9 1698.5,1116.0 1700.5,1116.0 1702.5,1116.1 1704.5,1116.2 1706.5,1116.3 1708.5,1116.4 1710.5,1116.4 1712.5,1116.5 1714.5,1116.6 1716.5,1116.6 1718.5,1116.7 1720.5,1116.8 1722.5,1116.9 1724.5,1116.9 1726.5,1117.0 1728.5,1117.0 1730.5,1117.1 1732.5,1117.1 1734.5,1117.2 1736.5,1117.2 1738.5,1117.3 1740.5,1117.3 1742.5,1117.4 1744.5,1117.4 1746.5,1117.5 1748.5,1117.5 1750.5,1117.5 1752.5,1117.6 1754.5,1117.6 1756.5,1117.6 1758.5,1117.7 1760.5,1117.7 1762.5,1117.8 1764.5,1117.8 1766.5,1117.8 1768.5,1117.9 1770.5,1117.9 1772.5,1117.9 1774.5,1118.0 1776.5,1118.0 1778.5,1118.0 1780.5,1118.1 1782.5,1118.1 1784.5,1118.1 1786.5,1118.1 1788.5,1118.2 1790.5,1118.2 1792.5,1118.2 1794.5,1118.2 1796.5,1118.3 1798.5,1118.3 1800.5,1118.3 1802.5,1118.3 1804.5,1118.3 1806.5,1118.4 1808.5,1118.4 1810.5,1118.4 1812.5,1118.4 1814.5,1118.4 1816.5,1118.4 1818.5,1118.4 1820.5,1118.5 1822.5,1118.5 1824.5,1118.5 1826.5,1118.5 1828.5,1118.5 1830.5,1118.5 1832.5,1118.5 1834.5,1118.6 1836.5,1118.6 1838.5,1118.6 1840.5,1118.6 1842.5,1118.6 1844.5,1118.6 1846.5,1118.6 1848.5,1118.6 1850.5,1118.7 1852.5,1118.7 1854.5,1118.7 1856.5,1118.7 1858.5,1118.7 1860.5,1118.7 1862.5,1118.7 1864.5,1118.7 1866.5,1118.7 1868.5,1118.7 1870.5,1118.7 1872.5,1118.8 1874.5,1118.8 1876.5,1118.8 1878.5,1118.8 1880.5,1118.8 1882.5,1118.8 1884.5,1118.8 1886.5,1118.8 1888.5,1118.8 1890.5,1118.8 1892.5,1118.8"/>
<path class="trace" d="M308.5,597.0 309.0,597.0 309.5,622.6 310.0,597.0 310.5,619.3 311.0,597.0 311.5,650.2 312.0,607.6 312.5,664.7 313.0,635.4 313.5,671.0 314.0,623.8 314.5,668.7 315.0,647.7 315.5,684.9 316.0,655.2 316.5,681.0 317.0,655.3 317.5,687.7 318.0,667.4 318.5,694.1 319.0,674.8 319.5,695.9 320.0,683.5 320.5,706.8 321.0,674.4 321.5,714.6 322.0,688.5 322.5,730.3 323.0,683.2 323.5,711.8 324.0,695.8 324.5,738.2 325.0,696.2 325.5,726.6 326.0,711.3 326.5,737.4 327.0,707.9 327.5,744.9 328.0,716.7 328.5,754.1 329.0,726.3 329.5,756.7 330.0,727.9 330.5,753.6 331.0,733.9 331.5,757.0 332.0,733.1 332.5,768.6 333.0,745.1 333.5,778.1 334.0,744.1 334.5,775.6 335.0,751.7 335.5,777.6 336.0,766.3 336.5,804.2 337.0,771.5 337.5,799.5 338.0,781.0 338.5,803.6 339.0,778.8 339.5,799.2 340.0,793.6 340.5,824.4 341.0,783.8 341.5,823.5 342.0,786.8 342.5,825.2 343.0,800.2 343.5,832.9 344.0,797.8 344.5,829.1 345.0,799.8 345.5,838.6 346.0,802.1 346.5,850.0 347.0,812.3 347.5,840.0 348.0,818.5 348.5,853.9 349.0,828.3 349.5,853.7 350.0,829.6 350.5,869.0 351.0,834.9 351.5,859.4 352.0,836.4 352.5,866.7 353.0,855.9 353.5,878.3 354.0,856.6 354.5,874.8 355.0,861.1 355.5,884.5 356.0,865.6 356.5,885.9 357.0,869.1 357.5,901.5 358.0,874.4 358.5,905.0 359.0,876.6 359.5,903.9 360.0,887.3 360.5,915.1 361.0,890.0 361.5,912.7 362.0,897.9 362.5,918.4 363.0,905.2 363.5,932.0 364.0,903.0 364.5,929.8 365.0,904.8 365.5,939.4 366.0,916.7 366.5,940.8 367.0,921.3 367.5,939.9 368.0,931.0 368.5,953.7 369.0,928.1 369.5,945.4 370.0,926.7 370.5,947.8 371.0,933.2 371.5,956.0 372.0,931.6 372.5,948.4 373.0,931.7 373.5,961.4 374.0,939.8 374.5,956.3 375.0,934.9 375.5,955.2 376.0,935.7 376.5,965.6 377.0,938.0 377.5,966.2 378.0,941.9 378.5,966.7 379.0,940.3 379.5,972.2 380.0,948.8 380.5,970.6 381.0,951.2 381.5,969.9 382.0,947.9 382.5,968.7 383.0,944.0 383.5,975.1 384.0,946.2 384.5,966.1 385.0,954.7 385.5,974.1 386.0,944.1 386.5,968.6 387.0,956.2 387.5,967.0 388.0,944.6 388.5,973.7 389.0,954.3 389.5,963.5 390.0,948.3 390.5,963.1 391.0,943.5 391.5,966.7 392.0,945.9 392.5,967.3 393.0,946.9 393.5,964.4 394.0,938.4 394.5,963.4 395.0,945.0 395.5,959.7 396.0,947.6 396.5,958.7 397.0,942.9 397.5,960.4 398.0,934.6 398.5,955.1 399.0,937.8 399.5,952.3 400.0,932.5 400.5,960.2 401.0,938.7 401.5,953.1 402.0,933.7 402.5,946.5 403.0,933.9 403.5,953.7 404.0,935.0 404.5,953.8 405.0,924.7 405.5,948.6 406.0,931.2 406.5,945.5 407.0,921.9 407.5,953.3 408.0,929.3 408.5,950.2 409.0,928.5 409.5,942.3 410.0,922.5 410.5,948.4 411.0,926.6 411.5,945.8 412.0,930.2 412.5,943.4 413.0,918.9 413.5,950.7 414.0,925.1 414.5,948.7 415.0,923.7 415.5,938.0 416.0,927.8 416.5,948.3 417.0,926.0 417.5,949.2 418.0,922.5 418.5,946.2 419.0,924.8 419.5,948.5 420.0,922.2 420.5,944.6 421.0,921.2 421.5,943.9 422.0,925.2 422.5,939.8 423.0,916.8 423.5,934.5 424.0,920.6 424.5,935.7 425.0,914.9 425.5,935.9 426.0,912.5 426.5,929.6 427.0,917.2 427.5,935.1 428.0,920.5 428.5,931.6 429.0,911.0 429.5,933.2 430.0,907.9 430.5,933.3 431.0,907.8 431.5,927.7 432.0,899.1 432.5,922.1 433.0,906.2 433.5,921.7 434.0,908.7 434.5,920.3 435.0,909.5 435.5,915.0 436.0,903.9 436.5,922.0 437.0,904.8 437.5,916.0 438.0,895.6 438.5,915.7 439.0,898.7 439.5,916.1 440.0,897.8 440.5,915.4 441.0,887.6 441.5,910.0 442.0,897.4 442.5,916.8 443.0,893.2 443.5,909.9 444.0,894.1 444.5,908.7 445.0,889.3 445.5,910.8 446.0,889.1 446.5,907.4 447.0,880.7 447.5,913.1 448.0,883.9 448.5,907.8 449.0,885.2 449.5,903.3 450.0,891.4 450.5,904.7 451.0,889.3 451.5,905.3 452.0,891.7 452.5,910.8 453.0,889.2 453.5,909.3 454.0,889.4 454.5,913.9 455.0,880.9 455.5,905.7 456.0,886.9 456.5,908.4 457.0,883.8 457.5,904.6 458.0,889.6 458.5,907.5 459.0,885.8 459.5,903.3 460.0,884.9 460.5,901.6 461.0,889.1 461.5,900.9 462.0,884.4 462.5,905.5 463.0,886.0 463.5,903.2 464.0,882.9 464.5,902.4 465.0,885.5 465.5,901.3 466.0,890.4 466.5,904.1 467.0,888.2 467.5,911.6 468.0,886.2 468.5,903.3 469.0,885.0 469.5,902.8 470.0,886.3 470.5,914.1 471.0,887.7 471.5,916.8 472.0,887.7 472.5,909.3 473.0,890.0 473.5,908.9 474.0,895.4 474.5,909.8 475.0,893.6 475.5,919.7 476.0,899.4 476.5,916.2 477.0,896.8 477.5,913.9 478.0,895.2 478.5,911.9 479.0,889.3 479.5,918.9 480.0,896.2 480.5,930.2 481.0,902.5 481.5,920.6 482.0,910.4 482.5,926.1 483.0,903.0 483.5,926.5 484.0,907.6 484.5,932.7 485.0,907.1 485.5,932.2 486.0,916.7 486.5,940.6 487.0,918.0 487.5,935.7 488.0,919.8 488.5,944.4 489.0,920.5 489.5,951.0 490.0,924.2 490.5,944.4 491.0,922.5 491.5,941.4 492.0,922.2 492.5,942.9 493.0,929.6 493.5,954.6 494.0,928.3 494.5,953.1 495.0,930.8 495.5,946.3 496.0,941.9 496.5,961.4 497.0,935.6 497.5,958.5 498.0,940.4 498.5,955.2 499.0,947.0 499.5,969.9 500.0,945.4 500.5,963.1 501.0,944.9 501.5,962.6 502.0,948.2 502.5,966.1 503.0,941.5 503.5,969.2 504.0,944.3 504.5,965.1 505.0,947.6 505.5,968.1 506.0,941.5 506.5,963.9 507.0,950.6 507.5,982.1 508.0,949.0 508.5,971.3 509.0,954.3 509.5,970.8 510.0,949.1 510.5,980.3 511.0,955.7 511.5,977.8 512.0,960.4 512.5,979.1 513.0,960.0 513.5,975.6 514.0,959.0 514.5,978.2 515.0,966.0 515.5,983.9 516.0,966.1 516.5,992.4 517.0,969.0 517.5,989.0 518.0,966.7 518.5,986.0 519.0,974.3 519.5,994.2 520.0,970.2 520.5,993.3 521.0,981.1 521.5,994.6 522.0,970.9 522.5,991.9 523.0,973.4 523.5,994.1 524.0,970.8 524.5,995.1 525.0,981.1 525.5,1001.7 526.0,984.8 526.5,1001.3 527.0,979.7 527.5,998.9 528.0,979.0 528.5,996.4 529.0,973.5 529.5,1000.4 530.0,972.5 530.5,998.2 531.0,981.4 531.5,1010.1 532.0,982.4 532.5,1000.7 533.0,980.2 533.5,1007.7 534.0,991.1 534.5,1010.8 535.0,982.6 535.5,1015.8 536.0,983.8 536.5,1011.0 537.0,986.3 537.5,1007.0 538.0,985.8 538.5,1015.2 539.0,991.9 539.5,1014.7 540.0,994.9 540.5,1024.8 541.0,998.8 541.5,1020.1 542.0,1001.1 542.5,1027.8 543.0,997.8 543.5,1030.1 544.0,997.4 544.5,1034.3 545.0,1009.2 545.5,1033.4 546.0,1003.2 546.5,1034.2 547.0,1018.2 547.5,1035.9 548.0,1015.0 548.5,1037.6 549.0,1019.0 549.5,1035.2 550.0,1017.8 550.5,1033.9 551.0,1019.6 551.5,1035.8 552.0,1015.9 552.5,1033.5 553.0,1023.1 553.5,1045.7 554.0,1017.7 554.5,1036.8 555.0,1023.5 555.5,1036.6 556.0,1020.1 556.5,1041.2 557.0,1024.6 557.5,1033.8 558.0,1016.8 558.5,1037.3 559.0,1027.0 559.5,1039.7 560.0,1022.4 560.5,1041.1 561.0,1021.2 561.5,1037.9 562.0,1027.9 562.5,1041.7 563.0,1021.0 563.5,1038.7 564.0,1027.0 564.5,1039.1 565.0,1026.2 565.5,1041.5 566.0,1024.9 566.5,1038.3 567.0,1017.2 567.5,1038.2 568.0,1018.7 568.5,1038.3 569.0,1026.4 569.5,1042.1 570.0,1025.5 570.5,1050.6 571.0,1028.2 571.5,1048.9 572.0,1026.9 572.5,1042.3 573.0,1029.3 573.5,1041.3 574.0,1023.9 574.5,1050.0 575.0,1026.4 575.5,1044.8 576.0,1028.8 576.5,1045.6 577.0,1027.4 577.5,1048.6 578.0,1026.6 578.5,1041.6 579.0,1030.9 579.5,1046.0 580.0,1020.2 580.5,1047.9 581.0,1026.7 581.5,1044.3 582.0,1021.3 582.5,1043.9 583.0,1029.7 583.5,1040.5 584.0,1025.7 584.5,1037.4 585.0,1028.8 585.5,1050.0 586.0,1028.4 586.5,1046.3 587.0,1027.7 587.5,1039.6 588.0,1023.0 588.5,1044.6 589.0,1023.5 589.5,1041.1 590.0,1019.0 590.5,1047.1 591.0,1030.7 591.5,1043.3 592.0,1031.3 592.5,1046.4 593.0,1026.1 593.5,1044.9 594.0,1028.3 594.5,1058.4 595.0,1033.5 595.5,1045.9 596.0,1035.4 596.5,1052.8 597.0,1035.4 597.5,1054.1 598.0,1037.7 598.5,1056.8 599.0,1043.8 599.5,1060.9 600.0,1041.9 600.5,1059.6 601.0,1043.1 601.5,1063.0 602.0,1040.3 602.5,1063.3 603.0,1041.9 603.5,1060.6 604.0,1041.6 604.5,1060.1 605.0,1041.7 605.5,1064.6 606.0,1036.6 606.5,1065.1 607.0,1041.5 607.5,1057.9 608.0,1036.1 608.5,1056.5 609.0,1038.9 609.5,1059.1 610.0,1031.5 610.5,1056.4 611.0,1033.6 611.5,1057.2 612.0,1044.1 612.5,1055.5 613.0,1038.9 613.5,1056.3 614.0,1037.9 614.5,1058.3 615.0,1032.2 615.5,1064.5 616.0,1042.9 616.5,1060.3 617.0,1044.0 617.5,1055.9 618.0,1042.6 618.5,1058.9 619.0,1045.9 619.5,1061.5 620.0,1044.0 620.5,1066.2 621.0,1044.9 621.5,1064.7 622.0,1048.5 622.5,1071.0 623.0,1049.5 623.5,1060.2 624.0,1044.3 624.5,1057.7 625.0,1041.7 625.5,1060.1 626.0,1045.9 626.5,1062.9 627.0,1050.2 627.5,1062.4 628.0,1047.5 628.5,1058.7 629.0,1050.7 629.5,1066.0 630.0,1047.8 630.5,1065.7 631.0,1049.7 631.5,1061.7 632.0,1050.4 632.5,1063.5 633.0,1050.3 633.5,1067.1 634.0,1052.1 634.5,1066.0 635.0,1052.1 635.5,1067.6 636.0,1050.9 636.5,1072.9 637.0,1048.1 637.5,1062.8 638.0,1046.5 638.5,1065.7 639.0,1053.3 639.5,1064.6 640.0,1045.5 640.5,1068.3 641.0,1044.8 641.5,1066.2 642.0,1049.6 642.5,1060.5 643.0,1044.2 643.5,1061.6 644.0,1049.6 644.5,1071.5 645.0,1045.8 645.5,1065.1 646.0,1047.5 646.5,1063.9 647.0,1045.7 647.5,1064.1 648.0,1048.5 648.5,1067.7 649.0,1047.2 649.5,1069.2 650.0,1050.8 650.5,1065.3 651.0,1051.7 651.5,1067.1 652.0,1045.5 652.5,1066.2 653.0,1042.8 653.5,1060.8 654.0,1051.5 654.5,1063.1 655.0,1050.2 655.5,1064.4 656.0,1048.4 656.5,1070.7 657.0,1049.3 657.5,1065.0 658.0,1045.8 658.5,1059.9 659.0,1049.8 659.5,1061.6 660.0,1045.8 660.5,1060.6 661.0,1043.1 661.5,1061.9 662.0,1041.1 662.5,1057.8 663.0,1039.9 663.5,1060.8 664.0,1049.4 664.5,1061.8 665.0,1044.6 665.5,1061.7 666.0,1045.9 666.5,1057.5 667.0,1040.3 667.5,1062.0 668.0,1043.2 668.5,1056.7 669.0,1037.3 669.5,1058.4 670.0,1036.2 670.5,1059.7 671.0,1032.9 671.5,1057.7 672.0,1041.7 672.5,1051.6 673.0,1036.9 673.5,1060.2 674.0,1039.0 674.5,1051.9 675.0,1031.4 675.5,1051.1 676.0,1037.4 676.5,1054.5 677.0,1035.2 677.5,1053.7 678.0,1037.6 678.5,1050.0 679.0,1037.3 679.5,1053.9 680.0,1031.2 680.5,1049.8 681.0,1032.6 681.5,1056.9 682.0,1029.4 682.5,1059.5 683.0,1030.3 683.5,1049.2 684.0,1034.5 684.5,1054.7 685.0,1034.3 685.5,1048.0 686.0,1035.2 686.5,1051.9 687.0,1032.4 687.5,1050.2 688.0,1037.5 688.5,1050.2 689.0,1035.5 689.5,1039.8 690.0,1038.9 690.5,1036.1 691.0,1032.8 691.5,1031.8 692.0,1029.1 692.5,1028.2 693.0,1027.5 693.5,1027.8 694.0,1029.2 694.5,1030.6 695.0,1036.7 695.5,1034.5 696.0,1042.7 696.5,1060.0 697.0,1033.2 697.5,1041.7 698.0,1036.9 698.5,1043.0 699.0,1033.6 699.5,1055.3 700.0,1034.8 700.5,1051.8 701.0,1036.5 701.5,1054.7 702.0,1038.6 702.5,1050.1 703.0,1034.6 703.5,1053.8 704.0,1039.3 704.5,1048.9 705.0,1032.7 705.5,1053.5 706.0,1034.6 706.5,1053.9 707.0,1036.3 707.5,1048.3 708.0,1035.0 708.5,1050.5 709.0,1035.8 709.5,1048.1 710.0,1037.1 710.5,1046.2 711.0,1035.3 711.5,1049.4 712.0,1038.9 712.5,1046.4 713.0,1030.0 713.5,1047.5 714.0,1030.7 714.5,1047.1 715.0,1028.2 715.5,1047.2 716.0,1030.6 716.5,1051.5 717.0,1031.3 717.5,1049.1 718.0,1032.3 718.5,1051.3 719.0,1033.0 719.5,1053.2 720.0,1035.0 720.5,1044.3 721.0,1036.0 721.5,1045.7 722.0,1034.1 722.5,1053.1 723.0,1024.8 723.5,1042.8 724.0,1032.4 724.5,1048.1 725.0,1028.7 725.5,1051.0 726.0,1034.0 726.5,1052.9 727.0,1029.2 727.5,1046.4 728.0,1030.6 728.5,1051.8 729.0,1028.9 729.5,1053.6 730.0,1027.4 730.5,1049.0 731.0,1031.0 731.5,1045.9 732.0,1029.3 732.5,1049.0 733.0,1030.0 733.5,1049.0 734.0,1036.2 734.5,1049.2 735.0,1028.0 735.5,1053.3 736.0,1037.4 736.5,1047.9 737.0,1033.1 737.5,1050.7 738.0,1024.9 738.5,1047.1 739.0,1031.2 739.5,1050.4 740.0,1032.1 740.5,1057.0 741.0,1030.8 741.5,1045.7 742.0,1030.7 742.5,1045.9 743.0,1028.5 743.5,1050.7 744.0,1029.0 744.5,1046.1 745.0,1025.9 745.5,1045.4 746.0,1032.8 746.5,1040.1 747.0,1030.3 747.5,1052.3 748.0,1024.7 748.5,1043.8 749.0,1019.3 749.5,1034.5 750.0,1027.4 750.5,1044.1 751.0,1029.2 751.5,1045.0 752.0,1021.8 752.5,1043.9 753.0,1015.0 753.5,1011.0 754.0,1009.5 754.5,1008.1 755.0,1009.3 755.5,1010.7 756.0,1014.8 756.5,1018.7 757.0,1025.7 757.5,1043.4 758.0,1027.1 758.5,1031.7 759.0,1021.2 759.5,1032.4 760.0,1024.9 760.5,1042.5 761.0,1029.0 761.5,1042.7 762.0,1023.9 762.5,1042.2 763.0,1024.0 763.5,1030.0 764.0,1018.9 764.5,1041.2 765.0,1019.0 765.5,1045.1 766.0,1016.7 766.5,1044.0 767.0,998.3 767.5,995.5 768.0,994.9 768.5,995.6 769.0,998.3 769.5,1040.8 770.0,1007.4 770.5,1035.5 771.0,1018.7 771.5,1041.2 772.0,1024.6 772.5,1028.9 773.0,1022.8 773.5,1030.2 774.0,1027.7 774.5,1049.7 775.0,1027.2 775.5,1040.0 776.0,1019.1 776.5,1039.7 777.0,1014.7 777.5,1037.7 778.0,1024.3 778.5,1051.4 779.0,1026.3 779.5,1049.8 780.0,1027.3 780.5,1045.6 781.0,1025.7 781.5,1041.1 782.0,1022.4 782.5,1041.7 783.0,1023.4 783.5,1039.2 784.0,1022.3 784.5,1035.1 785.0,1025.6 785.5,1039.0 786.0,1021.5 786.5,1045.9 787.0,1027.8 787.5,1032.9 788.0,1019.3 788.5,1032.3 789.0,1019.9 789.5,1041.5 790.0,1019.2 790.5,1040.3 791.0,1014.6 791.5,1030.7 792.0,1017.7 792.5,1035.2 793.0,1014.1 793.5,1030.2 794.0,1008.6 794.5,1034.0 795.0,1015.2 795.5,1029.5 796.0,1014.5 796.5,1023.5 797.0,1015.3 797.5,1034.4 798.0,1011.5 798.5,1031.8 799.0,1012.5 799.5,1028.4 800.0,1012.6 800.5,1029.8 801.0,1007.4 801.5,1029.7 802.0,1013.6 802.5,1032.2 803.0,1015.7 803.5,1037.0 804.0,1012.1 804.5,1040.5 805.0,1015.8 805.5,1036.4 806.0,1015.5 806.5,1036.0 807.0,1016.1 807.5,1036.0 808.0,1008.8 808.5,1034.1 809.0,1008.2 809.5,1030.0 810.0,1010.4 810.5,1027.9 811.0,1007.9 811.5,1034.3 812.0,1007.4 812.5,1025.2 813.0,1008.5 813.5,1025.1 814.0,1003.1 814.5,1019.8 815.0,1011.4 815.5,1031.2 816.0,999.1 816.5,1029.6 817.0,1007.8 817.5,1024.0 818.0,1009.8 818.5,1019.7 819.0,1005.3 819.5,1022.6 820.0,1005.1 820.5,1019.6 821.0,1002.9 821.5,1021.5 822.0,1006.8 822.5,1025.6 823.0,1008.3 823.5,1016.6 824.0,1004.1 824.5,1022.0 825.0,1006.1 825.5,1019.2 826.0,1006.8 826.5,1016.8 827.0,1002.8 827.5,1021.0 828.0,999.7 828.5,1028.1 829.0,998.0 829.5,1023.3 830.0,999.8 830.5,1025.8 831.0,1001.8 831.5,1019.0 832.0,1002.9 832.5,1021.3 833.0,1002.2 833.5,1019.2 834.0,1003.5 834.5,1025.1 835.0,1007.9 835.5,1022.5 836.0,1003.7 836.5,1022.9 837.0,999.0 837.5,1022.7 838.0,1003.0 838.5,1016.2 839.0,1000.8 839.5,1020.0 840.0,997.1 840.5,1018.5 841.0,1002.2 841.5,1018.9 842.0,997.4 842.5,1014.4 843.0,1004.3 843.5,1018.2 844.0,1002.4 844.5,1020.2 845.0,998.4 845.5,1020.1 846.0,1006.8 846.5,1022.4 847.0,1005.7 847.5,1027.0 848.0,1003.6 848.5,1017.1 849.0,995.6 849.5,1027.0 850.0,1003.6 850.5,1020.1 851.0,1002.5 851.5,1019.8 852.0,1001.8 852.5,1016.6 853.0,1001.4 853.5,1015.4 854.0,997.3 854.5,1017.4 855.0,999.1 855.5,1008.5 856.0,1000.1 856.5,1012.4 857.0,994.9 857.5,1019.8 858.0,993.9 858.5,1012.7 859.0,993.3 859.5,1015.4 860.0,993.5 860.5,1009.2 861.0,996.5 861.5,1017.1 862.0,995.7 862.5,1009.2 863.0,991.5 863.5,1013.4 864.0,987.6 864.5,1015.8 865.0,998.4 865.5,1014.6 866.0,1000.0 866.5,1015.0 867.0,1002.5 867.5,1019.5 868.0,999.9 868.5,1018.7 869.0,1000.4 869.5,1014.7 870.0,1001.4 870.5,1016.3 871.0,1006.0 871.5,1026.7 872.0,997.2 872.5,1029.5 873.0,1001.5 873.5,1021.1 874.0,999.5 874.5,1024.9 875.0,1006.8 875.5,1020.6 876.0,1002.3 876.5,1023.1 877.0,995.2 877.5,1021.3 878.0,1005.9 878.5,1018.6 879.0,995.1 879.5,1023.1 880.0,1001.9 880.5,1020.5 881.0,1004.1 881.5,1014.3 882.0,994.3 882.5,1013.9 883.0,998.8 883.5,1014.7 884.0,997.7 884.5,1021.1 885.0,999.7 885.5,1015.1 886.0,997.1 886.5,1019.6 887.0,998.0 887.5,1021.6 888.0,989.7 888.5,1016.0 889.0,1004.2 889.5,1016.6 890.0,999.0 890.5,1026.4 891.0,1005.6 891.5,1018.4 892.0,996.2 892.5,1020.3 893.0,1001.2 893.5,1024.2 894.0,1007.7 894.5,1026.1 895.0,1003.5 895.5,1018.3 896.0,1012.8 896.5,1025.2 897.0,1009.7 897.5,1022.8 898.0,1006.7 898.5,1032.7 899.0,1003.0 899.5,1030.3 900.0,1011.7 900.5,1022.7 901.0,1012.6 901.5,1035.5 902.0,1009.8 902.5,1034.2 903.0,1015.1 903.5,1030.7 904.0,1012.1 904.5,1032.7 905.0,1013.0 905.5,1031.1 906.0,1014.9 906.5,1032.5 907.0,1015.3 907.5,1031.1 908.0,1014.4 908.5,1034.2 909.0,1017.1 909.5,1033.1 910.0,1018.9 910.5,1033.9 911.0,1018.6 911.5,1029.4 912.0,1022.9 912.5,1032.3 913.0,1011.7 913.5,1035.0 914.0,1019.0 914.5,1034.4 915.0,1019.1 915.5,1031.4 916.0,1013.9 916.5,1036.2 917.0,1025.3 917.5,1037.7 918.0,1021.9 918.5,1043.7 919.0,1019.4 919.5,1041.8 920.0,1019.7 920.5,1042.4 921.0,1021.1 921.5,1040.3 922.0,1007.9 922.5,1037.0 923.0,1010.5 923.5,1036.0 924.0,1017.4 924.5,1032.1 925.0,1019.5 925.5,1030.0 926.0,1014.7 926.5,1033.9 927.0,1016.5 927.5,1032.2 928.0,1016.2 928.5,1036.4 929.0,1009.7 929.5,1030.4 930.0,1017.8 930.5,1029.2 931.0,1008.4 931.5,1032.6 932.0,1008.7 932.5,1035.8 933.0,1008.7 933.5,1026.5 934.0,1010.6 934.5,1024.5 935.0,1012.1 935.5,1024.3 936.0,1012.2 936.5,1032.2 937.0,1008.1 937.5,1027.6 938.0,1010.8 938.5,1026.0 939.0,1008.4 939.5,1029.9 940.0,1009.5 940.5,1025.1 941.0,1004.5 941.5,1024.0 942.0,1012.6 942.5,1022.5 943.0,1011.4 943.5,1029.2 944.0,1006.9 944.5,1032.4 945.0,1007.5 945.5,1029.4 946.0,1003.0 946.5,1028.3 947.0,1014.0 947.5,1034.3 948.0,1014.7 948.5,1036.5 949.0,1017.2 949.5,1029.2 950.0,1014.2 950.5,1034.8 951.0,1011.3 951.5,1027.0 952.0,1017.6 952.5,1037.3 953.0,1014.3 953.5,1032.3 954.0,1017.0 954.5,1034.5 955.0,1020.1 955.5,1035.4 956.0,1011.4 956.5,1027.0 957.0,1019.6 957.5,1029.8 958.0,1005.0 958.5,1037.1 959.0,1019.9 959.5,1035.1 960.0,1017.3 960.5,1036.5 961.0,1017.2 961.5,1033.7 962.0,1014.6 962.5,1038.9 963.0,1023.5 963.5,1032.8 964.0,1018.6 964.5,1037.1 965.0,1019.4 965.5,1040.2 966.0,1025.0 966.5,1037.1 967.0,1025.6 967.5,1039.9 968.0,1022.3 968.5,1035.7 969.0,1019.6 969.5,1035.3 970.0,1023.6 970.5,1039.8 971.0,1022.6 971.5,1035.9 972.0,1027.3 972.5,1028.2 973.0,1024.3 973.5,1023.3 974.0,1022.7 974.5,1041.1 975.0,1022.2 975.5,1008.2 976.0,1004.2 976.5,1001.5 977.0,1000.7 977.5,1002.0 978.0,1003.6 978.5,1044.0 979.0,1011.2 979.5,1043.0 980.0,1022.4 980.5,1046.6 981.0,1024.1 981.5,1027.9 982.0,1026.7 982.5,1035.7 983.0,1019.5 983.5,1033.0 984.0,1013.9 984.5,1037.0 985.0,1015.5 985.5,1039.5 986.0,1021.2 986.5,1038.9 987.0,1019.2 987.5,1044.8 988.0,1018.8 988.5,1042.4 989.0,1025.7 989.5,1044.4 990.0,1023.2 990.5,1042.8 991.0,1025.6 991.5,1037.7 992.0,1021.6 992.5,1044.0 993.0,1023.5 993.5,1040.1 994.0,1019.3 994.5,1044.0 995.0,1022.2 995.5,1039.0 996.0,1020.7 996.5,1035.6 997.0,1022.5 997.5,1038.9 998.0,1019.4 998.5,1034.4 999.0,1016.0 999.5,1031.4 1000.0,1018.8 1000.5,1037.3 1001.0,1019.7 1001.5,1040.5 1002.0,1022.6 1002.5,1037.1 1003.0,1019.0 1003.5,1039.7 1004.0,1015.1 1004.5,1032.8 1005.0,1012.3 1005.5,1037.0 1006.0,1009.7 1006.5,1028.6 1007.0,1017.5 1007.5,1039.7 1008.0,1008.7 1008.5,1035.7 1009.0,1013.8 1009.5,1032.6 1010.0,1011.6 1010.5,1033.9 1011.0,1008.8 1011.5,1030.2 1012.0,1010.6 1012.5,1025.6 1013.0,1006.7 1013.5,1033.9 1014.0,1008.7 1014.5,1032.0 1015.0,1011.5 1015.5,1028.0 1016.0,1010.9 1016.5,1026.9 1017.0,1007.5 1017.5,1034.6 1018.0,1018.1 1018.5,1030.4 1019.0,1005.4 1019.5,1027.8 1020.0,1011.6 1020.5,1031.6 1021.0,1008.1 1021.5,1029.0 1022.0,1012.0 1022.5,1030.0 1023.0,1018.0 1023.5,1023.5 1024.0,1005.5 1024.5,1028.3 1025.0,1009.4 1025.5,1034.4 1026.0,1014.8 1026.5,1028.8 1027.0,1004.3 1027.5,1033.6 1028.0,1009.5 1028.5,1032.2 1029.0,1008.8 1029.5,1027.8 1030.0,1007.7 1030.5,1028.9 1031.0,1011.8 1031.5,1030.9 1032.0,1013.9 1032.5,1031.6 1033.0,1009.7 1033.5,1032.6 1034.0,1011.7 1034.5,1033.8 1035.0,1014.2 1035.5,1025.4 1036.0,1006.9 1036.5,1031.1 1037.0,1006.3 1037.5,1033.3 1038.0,1011.9 1038.5,1029.5 1039.0,1008.4 1039.5,1029.9 1040.0,1013.5 1040.5,1036.3 1041.0,1016.7 1041.5,1030.3 1042.0,1014.8 1042.5,1030.1 1043.0,1014.8 1043.5,1032.3 1044.0,1018.3 1044.5,1036.3 1045.0,1012.9 1045.5,1030.2 1046.0,1014.1 1046.5,1031.4 1047.0,1009.9 1047.5,1030.5 1048.0,1012.3 1048.5,1032.4 1049.0,1011.4 1049.5,1030.3 1050.0,1008.1 1050.5,1025.0 1051.0,1005.8 1051.5,1025.1 1052.0,1007.0 1052.5,1021.8 1053.0,1005.6 1053.5,1023.1 1054.0,1003.8 1054.5,1021.9 1055.0,1005.4 1055.5,1021.2 1056.0,1003.6 1056.5,1012.8 1057.0,1007.3 1057.5,1023.5 1058.0,1006.1 1058.5,1002.8 1059.0,1000.4 1059.5,1025.5 1060.0,995.2 1060.5,994.2 1061.0,993.3 1061.5,993.6 1062.0,995.9 1062.5,998.6 1063.0,1000.0 1063.5,1028.6 1064.0,1004.7 1064.5,1024.1 1065.0,1005.1 1065.5,1011.7 1066.0,1008.2 1066.5,1012.2 1067.0,1008.7 1067.5,1023.9 1068.0,1004.6 1068.5,1023.0 1069.0,1007.7 1069.5,1027.9 1070.0,1004.1 1070.5,1029.1 1071.0,999.7 1071.5,1024.9 1072.0,1009.4 1072.5,1022.7 1073.0,1003.6 1073.5,1023.1 1074.0,1004.4 1074.5,1018.1 1075.0,1008.4 1075.5,1022.0 1076.0,998.9 1076.5,1030.8 1077.0,1006.0 1077.5,1023.9 1078.0,1006.3 1078.5,1025.2 1079.0,1000.7 1079.5,1024.5 1080.0,1006.8 1080.5,1032.5 1081.0,1009.8 1081.5,1020.1 1082.0,1009.3 1082.5,1024.5 1083.0,1007.5 1083.5,1026.1 1084.0,1007.8 1084.5,1022.9 1085.0,1002.7 1085.5,1024.6 1086.0,1012.0 1086.5,1018.6 1087.0,1001.9 1087.5,1030.0 1088.0,1006.6 1088.5,1021.1 1089.0,1014.4 1089.5,1035.3 1090.0,1004.5 1090.5,1032.7 1091.0,1010.0 1091.5,1029.2 1092.0,1012.9 1092.5,1036.1 1093.0,1016.0 1093.5,1028.7 1094.0,1011.9 1094.5,1033.6 1095.0,1014.4 1095.5,1034.4 1096.0,1012.7 1096.5,1031.9 1097.0,1017.2 1097.5,1038.6 1098.0,1019.4 1098.5,1038.7 1099.0,1013.9 1099.5,1031.9 1100.0,1008.8 1100.5,1041.0 1101.0,1020.2 1101.5,1036.4 1102.0,1017.3 1102.5,1039.9 1103.0,1014.9 1103.5,1034.5 1104.0,1012.7 1104.5,1032.4 1105.0,1020.0 1105.5,1029.2 1106.0,1017.1 1106.5,1034.4 1107.0,1009.4 1107.5,1036.6 1108.0,1012.9 1108.5,1035.0 1109.0,1017.1 1109.5,1038.0 1110.0,1010.9 1110.5,1025.5 1111.0,1011.1 1111.5,1027.5 1112.0,1010.0 1112.5,1028.0 1113.0,1008.5 1113.5,1034.2 1114.0,1003.2 1114.5,1028.9 1115.0,1014.1 1115.5,1034.1 1116.0,1014.8 1116.5,1032.0 1117.0,1007.5 1117.5,1034.4 1118.0,1002.3 1118.5,1023.0 1119.0,1006.3 1119.5,1026.8 1120.0,1005.9 1120.5,1029.8 1121.0,1009.8 1121.5,1036.9 1122.0,1018.7 1122.5,1032.8 1123.0,1013.3 1123.5,1038.3 1124.0,1019.6 1124.5,1039.8 1125.0,1016.2 1125.5,1029.9 1126.0,1017.3 1126.5,1036.2 1127.0,1018.2 1127.5,1031.4 1128.0,1020.2 1128.5,1036.8 1129.0,1017.7 1129.5,1032.3 1130.0,1019.8 1130.5,1040.7 1131.0,1018.9 1131.5,1035.9 1132.0,1019.8 1132.5,1035.8 1133.0,1010.8 1133.5,1034.9 1134.0,1019.4 1134.5,1043.2 1135.0,1021.7 1135.5,1042.5 1136.0,1013.1 1136.5,1040.9 1137.0,1012.3 1137.5,1041.6 1138.0,1024.2 1138.5,1034.9 1139.0,1022.9 1139.5,1035.4 1140.0,1021.7 1140.5,1039.9 1141.0,1022.9 1141.5,1045.3 1142.0,1015.3 1142.5,1046.0 1143.0,1022.3 1143.5,1040.8 1144.0,1023.3 1144.5,1045.4 1145.0,1027.4 1145.5,1043.4 1146.0,1030.8 1146.5,1045.4 1147.0,1027.5 1147.5,1051.3 1148.0,1032.4 1148.5,1047.6 1149.0,1034.0 1149.5,1050.8 1150.0,1036.4 1150.5,1052.5 1151.0,1034.0 1151.5,1049.3 1152.0,1029.5 1152.5,1050.5 1153.0,1027.5 1153.5,1050.6 1154.0,1025.2 1154.5,1048.9 1155.0,1026.4 1155.5,1048.6 1156.0,1033.5 1156.5,1048.0 1157.0,1034.0 1157.5,1047.5 1158.0,1032.2 1158.5,1049.1 1159.0,1029.3 1159.5,1052.3 1160.0,1031.7 1160.5,1053.6 1161.0,1027.0 1161.5,1050.4 1162.0,1033.7 1162.5,1049.2 1163.0,1029.0 1163.5,1051.4 1164.0,1040.4 1164.5,1047.1 1165.0,1025.2 1165.5,1046.4 1166.0,1037.9 1166.5,1055.2 1167.0,1036.5 1167.5,1054.1 1168.0,1032.4 1168.5,1050.0 1169.0,1036.4 1169.5,1049.5 1170.0,1038.0 1170.5,1051.4 1171.0,1040.3 1171.5,1056.0 1172.0,1038.9 1172.5,1052.1 1173.0,1039.0 1173.5,1054.3 1174.0,1037.4 1174.5,1059.7 1175.0,1034.9 1175.5,1067.0 1176.0,1041.2 1176.5,1057.1 1177.0,1042.2 1177.5,1057.7 1178.0,1044.5 1178.5,1060.5 1179.0,1046.4 1179.5,1064.5 1180.0,1044.6 1180.5,1063.1 1181.0,1044.4 1181.5,1059.0 1182.0,1046.9 1182.5,1062.4 1183.0,1047.3 1183.5,1068.2 1184.0,1042.8 1184.5,1061.8 1185.0,1044.0 1185.5,1063.4 1186.0,1047.4 1186.5,1065.4 1187.0,1043.3 1187.5,1067.8 1188.0,1049.0 1188.5,1063.0 1189.0,1039.7 1189.5,1059.0 1190.0,1050.3 1190.5,1065.2 1191.0,1052.9 1191.5,1066.6 1192.0,1051.1 1192.5,1061.8 1193.0,1048.3 1193.5,1070.7 1194.0,1046.3 1194.5,1070.4 1195.0,1053.0 1195.5,1069.7 1196.0,1047.8 1196.5,1070.7 1197.0,1048.2 1197.5,1072.7 1198.0,1053.2 1198.5,1064.1 1199.0,1055.7 1199.5,1069.7 1200.0,1054.3 1200.5,1067.8 1201.0,1051.0 1201.5,1073.9 1202.0,1053.5 1202.5,1071.1 1203.0,1051.0 1203.5,1072.7 1204.0,1055.3 1204.5,1072.2 1205.0,1052.7 1205.5,1069.7 1206.0,1047.2 1206.5,1068.9 1207.0,1058.2 1207.5,1072.0 1208.0,1049.6 1208.5,1066.2 1209.0,1050.7 1209.5,1072.5 1210.0,1054.3 1210.5,1067.8 1211.0,1049.3 1211.5,1078.5 1212.0,1048.1 1212.5,1077.9 1213.0,1047.7 1213.5,1070.2 1214.0,1051.7 1214.5,1069.0 1215.0,1052.3 1215.5,1076.3 1216.0,1053.5 1216.5,1065.7 1217.0,1056.2 1217.5,1069.5 1218.0,1057.5 1218.5,1072.4 1219.0,1055.0 1219.5,1073.2 1220.0,1056.5 1220.5,1073.1 1221.0,1057.7 1221.5,1075.3 1222.0,1053.6 1222.5,1071.3 1223.0,1058.1 1223.5,1073.7 1224.0,1055.7 1224.5,1070.2 1225.0,1056.9 1225.5,1072.2 1226.0,1055.4 1226.5,1076.1 1227.0,1061.4 1227.5,1075.9 1228.0,1057.7 1228.5,1073.6 1229.0,1059.3 1229.5,1079.2 1230.0,1062.2 1230.5,1076.2 1231.0,1057.3 1231.5,1081.3 1232.0,1066.8 1232.5,1082.6 1233.0,1062.7 1233.5,1074.5 1234.0,1065.1 1234.5,1073.8 1235.0,1060.7 1235.5,1082.7 1236.0,1059.5 1236.5,1074.6 1237.0,1062.5 1237.5,1072.1 1238.0,1063.8 1238.5,1076.0 1239.0,1064.6 1239.5,1081.1 1240.0,1059.8 1240.5,1085.1 1241.0,1063.5 1241.5,1081.3 1242.0,1061.5 1242.5,1080.0 1243.0,1059.1 1243.5,1073.9 1244.0,1059.3 1244.5,1074.4 1245.0,1062.6 1245.5,1076.3 1246.0,1063.1 1246.5,1075.9 1247.0,1060.0 1247.5,1074.6 1248.0,1062.7 1248.5,1076.4 1249.0,1064.6 1249.5,1077.5 1250.0,1062.4 1250.5,1079.4 1251.0,1067.8 1251.5,1083.6 1252.0,1060.7 1252.5,1078.1 1253.0,1063.9 1253.5,1087.6 1254.0,1065.5 1254.5,1080.1 1255.0,1066.1 1255.5,1078.6 1256.0,1059.2 1256.5,1079.9 1257.0,1068.3 1257.5,1081.1 1258.0,1064.5 1258.5,1081.2 1259.0,1064.7 1259.5,1080.5 1260.0,1064.5 1260.5,1080.5 1261.0,1066.8 1261.5,1080.6 1262.0,1063.6 1262.5,1082.0 1263.0,1067.8 1263.5,1082.7 1264.0,1061.1 1264.5,1083.8 1265.0,1068.6 1265.5,1082.0 1266.0,1070.4 1266.5,1086.4 1267.0,1069.4 1267.5,1083.6 1268.0,1070.6 1268.5,1085.2 1269.0,1068.7 1269.5,1086.5 1270.0,1068.3 1270.5,1082.7 1271.0,1069.2 1271.5,1083.1 1272.0,1071.3 1272.5,1084.4 1273.0,1067.3 1273.5,1086.7 1274.0,1067.5 1274.5,1086.6 1275.0,1059.9 1275.5,1083.2 1276.0,1061.9 1276.5,1080.5 1277.0,1067.8 1277.5,1077.6 1278.0,1067.7 1278.5,1080.4 1279.0,1066.3 1279.5,1079.9 1280.0,1072.7 1280.5,1084.3 1281.0,1070.9 1281.5,1078.5 1282.0,1071.2 1282.5,1082.9 1283.0,1065.2 1283.5,1082.0 1284.0,1067.9 1284.5,1078.7 1285.0,1065.0 1285.5,1085.2 1286.0,1069.5 1286.5,1088.0 1287.0,1064.9 1287.5,1084.4 1288.0,1064.4 1288.5,1086.5 1289.0,1074.1 1289.5,1095.4 1290.0,1068.2 1290.5,1086.9 1291.0,1072.5 1291.5,1085.6 1292.0,1071.5 1292.5,1081.6 1293.0,1071.7 1293.5,1089.4 1294.0,1069.4 1294.5,1081.7 1295.0,1075.3 1295.5,1090.7 1296.0,1072.7 1296.5,1085.6 1297.0,1065.8 1297.5,1089.4 1298.0,1072.3 1298.5,1082.5 1299.0,1067.3 1299.5,1086.4 1300.0,1073.6 1300.5,1095.6 1301.0,1072.1 1301.5,1089.9 1302.0,1076.7 1302.5,1092.0 1303.0,1075.7 1303.5,1089.2 1304.0,1077.5 1304.5,1086.9 1305.0,1073.5 1305.5,1093.7 1306.0,1069.4 1306.5,1088.0 1307.0,1077.4 1307.5,1083.8 1308.0,1078.2 1308.5,1087.6 1309.0,1073.6 1309.5,1087.2 1310.0,1074.9 1310.5,1090.7 1311.0,1070.9 1311.5,1089.2 1312.0,1072.0 1312.5,1086.1 1313.0,1072.8 1313.5,1087.6 1314.0,1076.2 1314.5,1093.3 1315.0,1080.4 1315.5,1090.2 1316.0,1076.2 1316.5,1091.0 1317.0,1070.3 1317.5,1092.2 1318.0,1071.6 1318.5,1093.5 1319.0,1074.6 1319.5,1088.7 1320.0,1074.4 1320.5,1096.3 1321.0,1077.5 1321.5,1088.9 1322.0,1068.9 1322.5,1094.2 1323.0,1074.5 1323.5,1091.0 1324.0,1073.7 1324.5,1089.6 1325.0,1079.0 1325.5,1089.3 1326.0,1071.0 1326.5,1093.3 1327.0,1073.6 1327.5,1093.6 1328.0,1080.1 1328.5,1095.0 1329.0,1070.5 1329.5,1092.1 1330.0,1079.1 1330.5,1089.2 1331.0,1079.0 1331.5,1085.0 1332.0,1079.1 1332.5,1096.1 1333.0,1076.1 1333.5,1088.2 1334.0,1078.5 1334.5,1095.9 1335.0,1077.4 1335.5,1061.7 1336.0,1059.5 1336.5,1058.0 1337.0,1058.2 1337.5,1060.4 1338.0,1073.7 1338.5,1086.9 1339.0,1070.9 1339.5,1090.1 1340.0,1078.1 1340.5,1082.9 1341.0,1075.9 1341.5,1085.5 1342.0,1067.8 1342.5,1088.2 1343.0,1076.8 1343.5,1091.2 1344.0,1076.8 1344.5,1090.8 1345.0,1078.4 1345.5,1091.4 1346.0,1078.2 1346.5,1093.5 1347.0,1075.5 1347.5,1088.5 1348.0,1074.7 1348.5,1092.5 1349.0,1075.3 1349.5,1088.5 1350.0,1072.2 1350.5,1095.6 1351.0,1071.1 1351.5,1092.4 1352.0,1075.4 1352.5,1088.5 1353.0,1077.9 1353.5,1094.9 1354.0,1077.9 1354.5,1095.2 1355.0,1073.6 1355.5,1094.7 1356.0,1075.0 1356.5,1092.5 1357.0,1074.6 1357.5,1086.8 1358.0,1074.3 1358.5,1092.9 1359.0,1073.0 1359.5,1093.7 1360.0,1079.7 1360.5,1093.3 1361.0,1073.7 1361.5,1091.6 1362.0,1082.2 1362.5,1096.7 1363.0,1075.6 1363.5,1096.3 1364.0,1081.1 1364.5,1104.1 1365.0,1080.3 1365.5,1096.2 1366.0,1076.6 1366.5,1098.6 1367.0,1083.6 1367.5,1104.8 1368.0,1082.9 1368.5,1097.7 1369.0,1077.2 1369.5,1094.7 1370.0,1083.5 1370.5,1102.2 1371.0,1081.3 1371.5,1094.3 1372.0,1076.6 1372.5,1091.5 1373.0,1077.5 1373.5,1096.7 1374.0,1079.4 1374.5,1095.1 1375.0,1080.4 1375.5,1097.5 1376.0,1079.7 1376.5,1099.0 1377.0,1075.9 1377.5,1095.1 1378.0,1082.1 1378.5,1093.8 1379.0,1080.6 1379.5,1088.5 1380.0,1073.1 1380.5,1094.8 1381.0,1074.0 1381.5,1083.0 1382.0,1073.1 1382.5,1097.0 1383.0,1075.4 1383.5,1073.7 1384.0,1073.8 1384.5,1074.1 1385.0,1075.3 1385.5,1078.4 1386.0,1085.5 1386.5,1082.4 1387.0,1085.6 1387.5,1087.1 1388.0,1083.8 1388.5,1102.0 1389.0,1083.7 1389.5,1092.5 1390.0,1084.5 1390.5,1098.4 1391.0,1083.9 1391.5,1098.1 1392.0,1078.3 1392.5,1097.0 1393.0,1080.8 1393.5,1097.4 1394.0,1085.7 1394.5,1097.0 1395.0,1081.2 1395.5,1099.6 1396.0,1079.6 1396.5,1097.1 1397.0,1084.1 1397.5,1101.7 1398.0,1085.1 1398.5,1100.3 1399.0,1087.0 1399.5,1103.0 1400.0,1079.8 1400.5,1100.4 1401.0,1080.1 1401.5,1102.6 1402.0,1085.9 1402.5,1099.4 1403.0,1084.9 1403.5,1101.1 1404.0,1090.5 1404.5,1099.6 1405.0,1087.0 1405.5,1106.8 1406.0,1085.4 1406.5,1105.0 1407.0,1087.6 1407.5,1103.8 1408.0,1092.8 1408.5,1104.0 1409.0,1087.6 1409.5,1105.5 1410.0,1088.6 1410.5,1103.5 1411.0,1092.4 1411.5,1109.0 1412.0,1087.5 1412.5,1106.2 1413.0,1086.5 1413.5,1099.4 1414.0,1086.1 1414.5,1101.6 1415.0,1089.0 1415.5,1099.9 1416.0,1088.8 1416.5,1102.5 1417.0,1088.0 1417.5,1100.5 1418.0,1083.7 1418.5,1100.7 1419.0,1088.5 1419.5,1101.0 1420.0,1085.4 1420.5,1105.8 1421.0,1086.9 1421.5,1098.4 1422.0,1084.2 1422.5,1106.1 1423.0,1087.0 1423.5,1101.4 1424.0,1085.9 1424.5,1098.4 1425.0,1082.9 1425.5,1102.6 1426.0,1082.2 1426.5,1102.5 1427.0,1083.6 1427.5,1099.8 1428.0,1087.9 1428.5,1106.0 1429.0,1088.8 1429.5,1103.3 1430.0,1091.1 1430.5,1107.4 1431.0,1090.7 1431.5,1107.2 1432.0,1091.1 1432.5,1108.6 1433.0,1091.3 1433.5,1107.3 1434.0,1091.0 1434.5,1104.3 1435.0,1087.5 1435.5,1105.1 1436.0,1083.2 1436.5,1102.1 1437.0,1088.9 1437.5,1106.5 1438.0,1087.6 1438.5,1101.9 1439.0,1083.5 1439.5,1107.4 1440.0,1085.0 1440.5,1106.5 1441.0,1092.0 1441.5,1110.0 1442.0,1085.8 1442.5,1097.9 1443.0,1088.5 1443.5,1102.5 1444.0,1086.4 1444.5,1104.9 1445.0,1092.8 1445.5,1104.5 1446.0,1085.9 1446.5,1107.7 1447.0,1094.1 1447.5,1105.1 1448.0,1093.4 1448.5,1105.4 1449.0,1088.5 1449.5,1102.0 1450.0,1094.2 1450.5,1110.6 1451.0,1088.4 1451.5,1106.0 1452.0,1091.9 1452.5,1106.8 1453.0,1089.0 1453.5,1111.4 1454.0,1094.5 1454.5,1111.7 1455.0,1097.0 1455.5,1108.8 1456.0,1090.2 1456.5,1106.4 1457.0,1096.2 1457.5,1106.5 1458.0,1091.6 1458.5,1112.4 1459.0,1087.5 1459.5,1108.2 1460.0,1094.7 1460.5,1111.7 1461.0,1095.1 1461.5,1104.5 1462.0,1097.3 1462.5,1106.6 1463.0,1096.5 1463.5,1115.4 1464.0,1090.4 1464.5,1106.4 1465.0,1094.5 1465.5,1110.2 1466.0,1097.7 1466.5,1110.8 1467.0,1097.9 1467.5,1111.7 1468.0,1092.8 1468.5,1112.0 1469.0,1093.1 1469.5,1111.2 1470.0,1089.4 1470.5,1108.4 1471.0,1091.3 1471.5,1107.2 1472.0,1091.8 1472.5,1107.3 1473.0,1092.9 1473.5,1115.0 1474.0,1095.7 1474.5,1110.0 1475.0,1092.1 1475.5,1108.6 1476.0,1096.7 1476.5,1105.2 1477.0,1094.5 1477.5,1113.2 1478.0,1094.9 1478.5,1111.2 1479.0,1087.7 1479.5,1109.0 1480.0,1091.4 1480.5,1115.1 1481.0,1091.4 1481.5,1111.8 1482.0,1097.5 1482.5,1113.0 1483.0,1093.3 1483.5,1115.1 1484.0,1100.5 1484.5,1111.0 1485.0,1096.9 1485.5,1118.1 1486.0,1090.6 1486.5,1116.9 1487.0,1102.4 1487.5,1112.3 1488.0,1095.8 1488.5,1112.3 1489.0,1101.9 1489.5,1111.1 1490.0,1099.6 1490.5,1109.3 1491.0,1097.8 1491.5,1116.0 1492.0,1098.9 1492.5,1112.2 1493.0,1096.8 1493.5,1118.2 1494.0,1104.7 1494.5,1116.9 1495.0,1102.5 1495.5,1114.9 1496.0,1094.6 1496.5,1110.9 1497.0,1101.0 1497.5,1115.0 1498.0,1098.9 1498.5,1114.9 1499.0,1103.3 1499.5,1110.9 1500.0,1099.3 1500.5,1117.4 1501.0,1096.9 1501.5,1113.8 1502.0,1105.4 1502.5,1118.2 1503.0,1104.9 1503.5,1110.3 1504.0,1100.2 1504.5,1110.9 1505.0,1100.8 1505.5,1112.7 1506.0,1097.3 1506.5,1111.9 1507.0,1097.2 1507.5,1118.1 1508.0,1095.0 1508.5,1112.9 1509.0,1103.8 1509.5,1113.6 1510.0,1093.2 1510.5,1113.3 1511.0,1095.6 1511.5,1116.1 1512.0,1098.8 1512.5,1117.6 1513.0,1097.3 1513.5,1118.4 1514.0,1099.1 1514.5,1114.6 1515.0,1097.7 1515.5,1118.2 1516.0,1103.8 1516.5,1121.9 1517.0,1102.3 1517.5,1120.5 1518.0,1099.6 1518.5,1113.8 1519.0,1102.6 1519.5,1119.9 1520.0,1100.4 1520.5,1115.2 1521.0,1104.2 1521.5,1117.7 1522.0,1105.0 1522.5,1119.0 1523.0,1102.3 1523.5,1119.8 1524.0,1102.1 1524.5,1117.6 1525.0,1093.7 1525.5,1114.4 1526.0,1101.2 1526.5,1112.4 1527.0,1100.4 1527.5,1117.6 1528.0,1100.0 1528.5,1110.2 1529.0,1100.7 1529.5,1110.9 1530.0,1097.7 1530.5,1110.9 1531.0,1100.8 1531.5,1110.2 1532.0,1101.9 1532.5,1110.8 1533.0,1099.0 1533.5,1113.9 1534.0,1100.9 1534.5,1118.1 1535.0,1103.2 1535.5,1118.0 1536.0,1100.5 1536.5,1120.2 1537.0,1096.9 1537.5,1113.9 1538.0,1103.5 1538.5,1120.9 1539.0,1104.4 1539.5,1122.4 1540.0,1103.7 1540.5,1113.8 1541.0,1105.8 1541.5,1119.4 1542.0,1099.9 1542.5,1118.4 1543.0,1108.2 1543.5,1117.9 1544.0,1102.1 1544.5,1115.1 1545.0,1105.4 1545.5,1119.4 1546.0,1099.2 1546.5,1115.0 1547.0,1105.6 1547.5,1117.8 1548.0,1108.0 1548.5,1119.3 1549.0,1103.0 1549.5,1119.4 1550.0,1104.1 1550.5,1124.4 1551.0,1101.7 1551.5,1118.5 1552.0,1102.2 1552.5,1117.0 1553.0,1098.6 1553.5,1119.5 1554.0,1098.3 1554.5,1125.9 1555.0,1104.3 1555.5,1118.3 1556.0,1107.3 1556.5,1116.8 1557.0,1103.7 1557.5,1118.7 1558.0,1103.1 1558.5,1124.6 1559.0,1108.3 1559.5,1122.0 1560.0,1108.3 1560.5,1117.8 1561.0,1110.0 1561.5,1119.0 1562.0,1098.6 1562.5,1121.2 1563.0,1105.2 1563.5,1120.3 1564.0,1106.5 1564.5,1119.1 1565.0,1105.9 1565.5,1118.4 1566.0,1107.0 1566.5,1117.0 1567.0,1109.5 1567.5,1118.0 1568.0,1109.7 1568.5,1120.8 1569.0,1106.2 1569.5,1121.7 1570.0,1102.8 1570.5,1121.7 1571.0,1107.9 1571.5,1118.8 1572.0,1103.2 1572.5,1122.3 1573.0,1105.9 1573.5,1124.8 1574.0,1107.2 1574.5,1119.1 1575.0,1103.4 1575.5,1122.8 1576.0,1105.6 1576.5,1125.0 1577.0,1103.6 1577.5,1117.5 1578.0,1102.4 1578.5,1119.9 1579.0,1102.2 1579.5,1119.7 1580.0,1100.9 1580.5,1124.7 1581.0,1106.5 1581.5,1122.7 1582.0,1108.2 1582.5,1119.5 1583.0,1107.8 1583.5,1121.2 1584.0,1106.2 1584.5,1119.8 1585.0,1100.6 1585.5,1119.0 1586.0,1108.2 1586.5,1123.3 1587.0,1110.6 1587.5,1119.8 1588.0,1103.8 1588.5,1119.1 1589.0,1111.6 1589.5,1118.7 1590.0,1102.5 1590.5,1121.7 1591.0,1105.5 1591.5,1123.2 1592.0,1103.2 1592.5,1118.1 1593.0,1104.4 1593.5,1116.3 1594.0,1106.2 1594.5,1121.9 1595.0,1105.6 1595.5,1118.7 1596.0,1104.0 1596.5,1122.3 1597.0,1104.1 1597.5,1117.7 1598.0,1106.8 1598.5,1122.5 1599.0,1102.4 1599.5,1116.5 1600.0,1111.2 1600.5,1120.4 1601.0,1108.3 1601.5,1117.0 1602.0,1105.7 1602.5,1122.8 1603.0,1106.7 1603.5,1120.0 1604.0,1107.1 1604.5,1121.3 1605.0,1102.9 1605.5,1121.6 1606.0,1101.5 1606.5,1116.1 1607.0,1107.3 1607.5,1122.4 1608.0,1101.9 1608.5,1124.2 1609.0,1104.3 1609.5,1118.7 1610.0,1109.7 1610.5,1120.2 1611.0,1109.7 1611.5,1124.8 1612.0,1106.8 1612.5,1118.1 1613.0,1106.3 1613.5,1116.5 1614.0,1104.2 1614.5,1124.5 1615.0,1102.0 1615.5,1122.0 1616.0,1100.2 1616.5,1122.6 1617.0,1107.7 1617.5,1122.2 1618.0,1104.9 1618.5,1115.3 1619.0,1103.2 1619.5,1119.9 1620.0,1102.7 1620.5,1116.6 1621.0,1105.9 1621.5,1119.0 1622.0,1103.8 1622.5,1115.0 1623.0,1108.2 1623.5,1117.2 1624.0,1101.9 1624.5,1116.4 1625.0,1101.4 1625.5,1117.5 1626.0,1102.5 1626.5,1121.0 1627.0,1106.0 1627.5,1118.4 1628.0,1100.9 1628.5,1119.0 1629.0,1107.7 1629.5,1118.0 1630.0,1107.1 1630.5,1118.0 1631.0,1105.0 1631.5,1121.1 1632.0,1101.2 1632.5,1117.5 1633.0,1109.3 1633.5,1123.7 1634.0,1109.1 1634.5,1116.7 1635.0,1107.6 1635.5,1117.9 1636.0,1104.8 1636.5,1115.6 1637.0,1107.1 1637.5,1120.7 1638.0,1104.6 1638.5,1120.2 1639.0,1103.4 1639.5,1124.5 1640.0,1102.6 1640.5,1123.7 1641.0,1099.6 1641.5,1119.2 1642.0,1106.6 1642.5,1120.4 1643.0,1103.1 1643.5,1118.5 1644.0,1104.8 1644.5,1120.5 1645.0,1109.9 1645.5,1117.1 1646.0,1100.8 1646.5,1119.4 1647.0,1104.9 1647.5,1119.0 1648.0,1103.5 1648.5,1117.7 1649.0,1099.7 1649.5,1116.4 1650.0,1098.6 1650.5,1121.1 1651.0,1109.1 1651.5,1116.6 1652.0,1099.9 1652.5,1116.3 1653.0,1102.9 1653.5,1118.3 1654.0,1106.5 1654.5,1114.7 1655.0,1100.9 1655.5,1116.1 1656.0,1102.6 1656.5,1117.0 1657.0,1099.4 1657.5,1115.7 1658.0,1100.9 1658.5,1114.2 1659.0,1102.3 1659.5,1114.9 1660.0,1106.8 1660.5,1111.4 1661.0,1102.0 1661.5,1116.7 1662.0,1104.8 1662.5,1118.4 1663.0,1099.6 1663.5,1124.5 1664.0,1103.3 1664.5,1117.6 1665.0,1104.7 1665.5,1118.6 1666.0,1104.9 1666.5,1121.9 1667.0,1105.8 1667.5,1125.2 1668.0,1107.8 1668.5,1125.0 1669.0,1105.2 1669.5,1124.0 1670.0,1109.5 1670.5,1123.9 1671.0,1108.5 1671.5,1118.8 1672.0,1102.9 1672.5,1123.8 1673.0,1109.3 1673.5,1121.2 1674.0,1104.6 1674.5,1121.5 1675.0,1110.7 1675.5,1123.2 1676.0,1110.2 1676.5,1126.7 1677.0,1108.8 1677.5,1122.6 1678.0,1101.0 1678.5,1125.4 1679.0,1106.1 1679.5,1122.8 1680.0,1104.7 1680.5,1119.3 1681.0,1113.0 1681.5,1128.0 1682.0,1115.9 1682.5,1124.2 1683.0,1110.6 1683.5,1123.4 1684.0,1111.5 1684.5,1128.9 1685.0,1113.5 1685.5,1124.2 1686.0,1108.5 1686.5,1128.3 1687.0,1112.2 1687.5,1128.0 1688.0,1108.3 1688.5,1124.8 1689.0,1108.8 1689.5,1125.0 1690.0,1111.7 1690.5,1123.2 1691.0,1110.5 1691.5,1123.6 1692.0,1112.3 1692.5,1121.5 1693.0,1112.7 1693.5,1126.0 1694.0,1109.6 1694.5,1120.9 1695.0,1110.7 1695.5,1126.8 1696.0,1110.3 1696.5,1119.7 1697.0,1102.8 1697.5,1119.2 1698.0,1109.5 1698.5,1121.4 1699.0,1109.4 1699.5,1121.0 1700.0,1104.3 1700.5,1121.1 1701.0,1108.3 1701.5,1122.4 1702.0,1103.1 1702.5,1122.4 1703.0,1105.2 1703.5,1123.7 1704.0,1110.5 1704.5,1128.1 1705.0,1101.7 1705.5,1124.1 1706.0,1106.8 1706.5,1122.8 1707.0,1107.7 1707.5,1121.5 1708.0,1109.3 1708.5,1121.9 1709.0,1102.2 1709.5,1121.3 1710.0,1108.2 1710.5,1123.6 1711.0,1103.8 1711.5,1119.7 1712.0,1105.6 1712.5,1123.2 1713.0,1101.9 1713.5,1120.9 1714.0,1105.7 1714.5,1122.0 1715.0,1104.6 1715.5,1121.4 1716.0,1108.2 1716.5,1120.1 1717.0,1109.4 1717.5,1127.1 1718.0,1110.8 1718.5,1126.7 1719.0,1103.4 1719.5,1121.9 1720.0,1110.0 1720.5,1127.0 1721.0,1108.2 1721.5,1121.8 1722.0,1113.0 1722.5,1123.1 1723.0,1111.9 1723.5,1126.4 1724.0,1111.9 1724.5,1126.7 1725.0,1106.4 1725.5,1123.4 1726.0,1109.6 1726.5,1125.9 1727.0,1112.2 1727.5,1130.7 1728.0,1112.7 1728.5,1124.3 1729.0,1112.5 1729.5,1123.1 1730.0,1106.4 1730.5,1125.0 1731.0,1109.3 1731.5,1121.0 1732.0,1111.8 1732.5,1124.1 1733.0,1109.9 1733.5,1125.6 1734.0,1110.6 1734.5,1120.9 1735.0,1114.3 1735.5,1121.8 1736.0,1110.8 1736.5,1124.0 1737.0,1113.3 1737.5,1126.6 1738.0,1104.7 1738.5,1121.7 1739.0,1111.6 1739.5,1124.2 1740.0,1101.0 1740.5,1121.1 1741.0,1108.0 1741.5,1126.5 1742.0,1105.9 1742.5,1127.9 1743.0,1111.9 1743.5,1129.5 1744.0,1108.9 1744.5,1123.1 1745.0,1110.0 1745.5,1124.4 1746.0,1114.2 1746.5,1128.0 1747.0,1113.9 1747.5,1126.9 1748.0,1104.4 1748.5,1128.6 1749.0,1108.5 1749.5,1125.6 1750.0,1111.2 1750.5,1126.3 1751.0,1109.7 1751.5,1127.7 1752.0,1109.6 1752.5,1124.7 1753.0,1107.1 1753.5,1128.2 1754.0,1111.7 1754.5,1124.0 1755.0,1112.2 1755.5,1126.5 1756.0,1112.1 1756.5,1123.9 1757.0,1111.5 1757.5,1122.0 1758.0,1106.3 1758.5,1121.6 1759.0,1113.7 1759.5,1122.0 1760.0,1115.5 1760.5,1122.4 1761.0,1107.6 1761.5,1122.9 1762.0,1109.6 1762.5,1121.8 1763.0,1110.1 1763.5,1124.7 1764.0,1107.6 1764.5,1125.1 1765.0,1112.3 1765.5,1125.0 1766.0,1112.0 1766.5,1126.4 1767.0,1112.4 1767.5,1129.7 1768.0,1110.8 1768.5,1123.7 1769.0,1111.7 1769.5,1128.6 1770.0,1113.4 1770.5,1123.6 1771.0,1110.6 1771.5,1126.9 1772.0,1111.0 1772.5,1128.1 1773.0,1112.9 1773.5,1129.9 1774.0,1111.6 1774.5,1124.5 1775.0,1116.0 1775.5,1127.9 1776.0,1110.4 1776.5,1126.3 1777.0,1107.0 1777.5,1122.8 1778.0,1114.3 1778.5,1122.5 1779.0,1112.5 1779.5,1126.7 1780.0,1110.1 1780.5,1126.0 1781.0,1107.5 1781.5,1126.4 1782.0,1110.1 1782.5,1123.0 1783.0,1110.0 1783.5,1122.2 1784.0,1111.2 1784.5,1125.9 1785.0,1107.1 1785.5,1123.4 1786.0,1111.0 1786.5,1125.8 1787.0,1113.7 1787.5,1122.8 1788.0,1109.3 1788.5,1124.2 1789.0,1106.1 1789.5,1118.3 1790.0,1110.7 1790.5,1120.3 1791.0,1110.0 1791.5,1123.6 1792.0,1108.2 1792.5,1122.5 1793.0,1110.8 1793.5,1124.1 1794.0,1108.1 1794.5,1125.3 1795.0,1109.8 1795.5,1125.0 1796.0,1111.4 1796.5,1123.6 1797.0,1109.6 1797.5,1123.7 1798.0,1102.3 1798.5,1128.0 1799.0,1109.0 1799.5,1121.0 1800.0,1107.2 1800.5,1124.8 1801.0,1105.3 1801.5,1123.6 1802.0,1114.5 1802.5,1129.6 1803.0,1115.3 1803.5,1130.6 1804.0,1110.1 1804.5,1125.2 1805.0,1114.0 1805.5,1131.5 1806.0,1113.3 1806.5,1127.1 1807.0,1119.9 1807.5,1128.4 1808.0,1117.0 1808.5,1127.0 1809.0,1114.1 1809.5,1131.7 1810.0,1112.3 1810.5,1129.2 1811.0,1115.9 1811.5,1123.7 1812.0,1109.8 1812.5,1123.3 1813.0,1110.2 1813.5,1130.7 1814.0,1115.0 1814.5,1124.0 1815.0,1110.9 1815.5,1130.1 1816.0,1112.2 1816.5,1129.8 1817.0,1109.5 1817.5,1122.7 1818.0,1110.6 1818.5,1122.5 1819.0,1113.2 1819.5,1127.5 1820.0,1113.5 1820.5,1124.5 1821.0,1112.3 1821.5,1126.4 1822.0,1105.8 1822.5,1128.5 1823.0,1112.3 1823.5,1121.0 1824.0,1111.5 1824.5,1120.1 1825.0,1111.6 1825.5,1123.1 1826.0,1112.2 1826.5,1120.3 1827.0,1111.9 1827.5,1121.6 1828.0,1109.3 1828.5,1131.0 1829.0,1111.7 1829.5,1122.3 1830.0,1112.2 1830.5,1127.3 1831.0,1112.0 1831.5,1124.5 1832.0,1111.3 1832.5,1129.7 1833.0,1114.4 1833.5,1127.7 1834.0,1112.6 1834.5,1127.6 1835.0,1115.2 1835.5,1125.7 1836.0,1109.5 1836.5,1125.8 1837.0,1111.2 1837.5,1121.8 1838.0,1107.1 1838.5,1122.5 1839.0,1104.4 1839.5,1123.7 1840.0,1104.2 1840.5,1117.9 1841.0,1106.6 1841.5,1122.6 1842.0,1109.8 1842.5,1118.2 1843.0,1107.3 1843.5,1122.3 1844.0,1106.3 1844.5,1120.1 1845.0,1106.6 1845.5,1122.3 1846.0,1108.5 1846.5,1124.1 1847.0,1105.7 1847.5,1126.2 1848.0,1110.0 1848.5,1120.2 1849.0,1106.4 1849.5,1125.0 1850.0,1106.5 1850.5,1122.1 1851.0,1110.0 1851.5,1119.7 1852.0,1109.6 1852.5,1125.0 1853.0,1105.9 1853.5,1118.3 1854.0,1109.4 1854.5,1128.0 1855.0,1106.2 1855.5,1119.3 1856.0,1110.8 1856.5,1124.2 1857.0,1107.7 1857.5,1120.3 1858.0,1106.5 1858.5,1123.6 1859.0,1108.3 1859.5,1122.4 1860.0,1105.9 1860.5,1120.6 1861.0,1111.4 1861.5,1122.3 1862.0,1106.9 1862.5,1122.3 1863.0,1113.9 1863.5,1120.8 1864.0,1112.9 1864.5,1126.1 1865.0,1113.1 1865.5,1127.7 1866.0,1109.3 1866.5,1126.7 1867.0,1114.2 1867.5,1122.2 1868.0,1108.2 1868.5,1132.0 1869.0,1112.5 1869.5,1128.9 1870.0,1109.0 1870.5,1132.5 1871.0,1112.2 1871.5,1128.0 1872.0,1114.1 1872.5,1131.7 1873.0,1112.5 1873.5,1131.2 1874.0,1115.1 1874.5,1127.5 1875.0,1113.7 1875.5,1130.3 1876.0,1115.2 1876.5,1126.8 1877.0,1115.3 1877.5,1126.5 1878.0,1112.2 1878.5,1129.4 1879.0,1116.7 1879.5,1134.0 1880.0,1114.4 1880.5,1128.9 1881.0,1110.9 1881.5,1125.6 1882.0,1114.4 1882.5,1126.5 1883.0,1109.0 1883.5,1129.0 1884.0,1114.5 1884.5,1126.7 1885.0,1112.3 1885.5,1121.2 1886.0,1107.4 1886.5,1122.5 1887.0,1101.5 1887.5,1121.4 1888.0,1101.7 1888.5,1119.0 1889.0,1110.3 1889.5,1120.2 1890.0,1102.8 1890.5,1120.3 1891.0,1106.0 1891.5,1122.0 1892.0,1108.0 1892.5,1120.3 1893.0,1104.0 1893.5,1122.2"/></g>
<g stroke="#0000ff"><path class="core" d="M308.5,460.0 310.5,477.8 312.5,494.2 314.5,508.3 316.5,520.0 318.5,530.4 320.5,540.7 322.5,551.9 324.5,565.2 326.5,580.3 328.5,595.2 330.5,608.5 332.5,621.0 334.5,633.0 336.5,644.2 338.5,654.5 340.5,663.8 342.5,672.4 344.5,680.8 346.5,689.3 348.5,698.3 350.5,708.2 352.5,718.4 354.5,728.6 356.5,738.6 358.5,747.8 360.5,756.5 362.5,765.3 364.5,773.9 366.5,782.0 368.5,789.3 370.5,795.5 372.5,800.2 374.5,804.1 376.5,807.9 378.5,811.5 380.5,814.8 382.5,817.7 384.5,820.0 386.5,821.7 388.5,822.8 390.5,823.0 392.5,823.0 394.5,822.9 396.5,822.7 398.5,822.6 400.5,822.4 402.5,822.1 404.5,821.9 406.5,821.6 408.5,821.2 410.5,820.9 412.5,820.4 414.5,819.6 416.5,818.6 418.5,817.4 420.5,816.2 422.5,814.9 424.5,813.5 426.5,812.2 428.5,810.9 430.5,809.7 432.5,808.4 434.5,806.9 436.5,805.3 438.5,803.7 440.5,802.2 442.5,800.8 444.5,799.6 446.5,798.7 448.5,798.1 450.5,798.0 452.5,798.0 454.5,798.1 456.5,798.1 458.5,798.2 460.5,798.3 462.5,798.4 464.5,798.5 466.5,798.7 468.5,798.9 470.5,799.1 472.5,800.0 474.5,801.7 476.5,804.0 478.5,806.7 480.5,809.7 482.5,812.6 484.5,815.4 486.5,817.9 488.5,820.6 490.5,823.4 492.5,826.2 494.5,829.1 496.5,832.0 498.5,835.0 500.5,837.9 502.5,840.7 504.5,843.6 506.5,846.5 508.5,849.4 510.5,852.3 512.5,855.1 514.5,857.8 516.5,860.6 518.5,863.5 520.5,866.4 522.5,869.1 524.5,871.4 526.5,873.2 528.5,874.3 530.5,875.2 532.5,875.9 534.5,876.5 536.5,877.1 538.5,877.9 540.5,878.7 542.5,879.9 544.5,881.4 546.5,883.0 548.5,884.7 550.5,886.3 552.5,887.9 554.5,889.2 556.5,890.2 558.5,890.8 560.5,891.0 562.5,890.5 564.5,889.5 566.5,888.1 568.5,886.3 570.5,884.4 572.5,882.3 574.5,880.3 576.5,878.4 578.5,876.7 580.5,875.3 582.5,874.4 584.5,874.0 586.5,874.3 588.5,875.3 590.5,876.8 592.5,878.8 594.5,881.0 596.5,883.5 598.5,886.0 600.5,888.4 602.5,890.5 604.5,892.4 606.5,893.8 608.5,894.6 610.5,894.7 612.5,894.7 614.5,894.7 616.5,894.7 618.5,894.7 620.5,894.7 622.5,894.7 624.5,894.7 626.5,894.7 627.0,894.7 627.8,894.7 628.5,894.7 629.2,894.6 630.0,894.1 630.5,893.0 630.8,892.1 631.5,887.3 632.2,880.9 632.5,879.2 633.0,877.8 633.8,880.9 634.5,887.3 635.2,892.0 636.0,894.0 636.5,894.5 636.8,894.5 637.5,894.6 638.2,894.6 638.5,894.6 639.0,894.5 640.5,894.5 642.5,894.3 644.5,894.2 646.5,894.0 648.5,893.8 650.5,893.7 652.5,893.4 654.5,893.1 656.5,892.7 658.5,892.1 660.5,891.4 662.5,890.6 664.5,889.7 666.5,888.8 668.5,887.8 670.5,886.7 672.5,885.7 674.5,884.6 676.5,883.5 678.5,882.5 680.5,881.5 682.5,880.5 684.5,879.6 686.5,878.8 688.5,878.1 690.5,877.4 692.5,876.8 694.5,876.1 696.5,875.4 698.5,874.8 700.5,874.1 702.5,873.5 704.5,873.0 706.5,872.5 708.5,872.1 710.5,871.8 712.5,871.6 714.5,871.5 716.5,871.5 718.5,871.5 720.5,871.6 722.5,871.6 724.5,871.7 726.5,871.7 728.5,871.8 730.5,871.9 732.5,871.9 734.5,871.9 736.5,872.0 738.5,872.0 740.5,872.0 742.5,871.9 744.5,871.7 746.5,871.4 748.5,871.0 749.2,870.9 750.0,870.7 750.5,870.5 750.8,870.3 751.5,868.9 752.2,864.1 752.5,861.2 753.0,853.0 753.8,838.2 754.5,830.8 755.2,837.8 756.0,852.1 756.5,860.0 756.8,862.8 757.5,867.1 758.2,868.1 758.5,868.1 759.0,868.0 759.8,867.7 760.5,867.5 762.0,866.9 762.5,866.7 762.8,866.6 763.5,866.3 764.2,865.7 764.5,865.4 765.0,864.2 765.8,859.3 766.5,848.1 767.2,833.3 768.0,825.8 768.5,828.9 768.8,832.6 769.5,846.8 770.2,857.4 770.5,859.4 771.0,861.6 771.8,862.5 772.5,862.3 773.2,862.0 774.0,861.7 774.5,861.5 776.5,860.5 778.5,859.6 780.5,858.7 782.5,857.9 784.5,857.0 786.5,856.2 788.5,855.4 790.5,854.6 792.5,853.8 794.5,852.8 796.5,851.8 798.5,850.8 800.5,849.7 802.5,848.5 804.5,847.4 806.5,846.3 808.5,845.2 810.5,844.2 812.5,843.2 814.5,842.2 816.5,841.4 818.5,840.7 820.5,840.0 822.5,839.5 824.5,839.2 826.5,839.0 828.5,839.0 830.5,839.1 832.5,839.2 834.5,839.4 836.5,839.7 838.5,840.0 840.5,840.4 842.5,840.8 844.5,841.2 846.5,841.7 848.5,842.1 850.5,842.6 852.5,843.0 854.5,843.5 856.5,844.2 858.5,844.9 860.5,845.7 862.5,846.5 864.5,847.4 866.5,848.2 868.5,849.1 870.5,849.9 872.5,850.6 874.5,851.3 876.5,851.9 878.5,852.5 880.5,853.1 882.5,853.6 884.5,854.2 886.5,854.7 888.5,855.3 890.5,855.8 892.5,856.3 894.5,856.8 896.5,857.3 898.5,857.8 900.5,858.3 902.5,858.7 904.5,859.2 906.5,859.6 908.5,860.0 910.5,860.4 912.5,860.7 914.5,861.1 916.5,861.5 918.5,861.8 920.5,862.2 922.5,862.6 924.5,863.0 926.5,863.5 928.5,864.0 930.5,864.5 932.5,865.0 934.5,865.6 936.5,866.2 938.5,866.8 940.5,867.4 942.5,868.1 944.5,868.7 945.0,868.9 945.8,869.1 946.5,869.4 947.2,869.5 948.0,869.0 948.5,867.5 948.8,866.1 949.5,859.1 950.2,849.7 950.5,847.2 951.0,845.1 951.8,850.2 952.5,860.1 953.2,867.6 954.0,871.0 954.5,871.8 954.8,872.0 955.5,872.4 956.2,872.7 956.5,872.7 957.0,872.9 958.5,873.4 960.5,874.0 962.5,874.6 964.5,875.3 966.5,875.9 968.5,876.5 970.5,877.2 972.5,877.9 974.5,878.6 976.5,879.3 978.5,879.9 980.5,880.5 982.5,881.1 984.5,881.6 986.5,882.0 988.5,882.3 990.5,882.4 992.5,882.6 994.5,882.7 996.5,882.8 998.5,882.9 1000.5,883.0 1002.5,883.1 1004.5,883.2 1006.5,883.3 1008.5,883.4 1010.5,883.4 1012.5,883.5 1014.5,883.5 1016.0,883.6 1016.5,883.6 1016.8,883.6 1017.5,883.6 1018.2,883.5 1018.5,883.3 1019.0,882.8 1019.8,880.2 1020.5,874.0 1021.2,865.8 1022.0,861.8 1022.5,863.7 1022.8,865.8 1023.5,874.0 1024.2,880.1 1024.5,881.3 1025.0,882.6 1025.8,883.2 1026.5,883.2 1027.2,883.1 1028.0,883.0 1028.5,882.9 1030.5,882.4 1032.5,881.8 1034.5,881.2 1036.5,880.5 1038.5,879.9 1040.5,879.1 1042.5,878.5 1044.5,877.8 1046.5,877.2 1048.5,876.6 1050.5,876.1 1052.5,875.8 1054.5,875.5 1056.5,875.4 1058.5,875.5 1060.5,875.8 1062.5,876.2 1064.5,876.8 1066.5,877.5 1068.5,878.3 1070.5,879.0 1072.5,879.7 1074.5,880.4 1076.5,880.9 1078.5,881.3 1080.5,881.6 1082.5,882.0 1084.5,882.2 1086.5,882.5 1088.5,882.7 1090.5,883.0 1092.5,883.2 1094.5,883.4 1096.5,883.7 1098.5,883.9 1100.5,884.2 1102.5,884.5 1104.5,884.8 1106.5,885.2 1108.5,885.6 1110.5,886.1 1112.5,886.8 1114.5,887.7 1116.5,888.8 1118.5,890.1 1120.5,891.5 1122.5,893.0 1124.5,894.5 1126.5,896.1 1128.5,897.7 1130.5,899.3 1132.5,900.7 1134.5,902.1 1136.5,903.4 1138.5,904.5 1140.5,905.4 1142.5,906.2 1144.5,907.0 1146.5,907.7 1148.5,908.4 1150.5,909.0 1152.5,909.6 1154.5,910.3 1156.5,910.9 1158.5,911.5 1160.5,912.2 1162.5,912.8 1164.5,913.6 1166.5,914.3 1168.5,915.1 1170.5,916.0 1172.5,916.8 1174.5,917.7 1176.5,918.6 1178.5,919.4 1180.5,920.3 1182.5,921.2 1184.5,922.0 1186.5,922.8 1188.5,923.6 1190.5,924.3 1192.5,925.1 1194.5,925.8 1196.5,926.5 1198.5,927.2 1200.5,927.9 1202.5,928.5 1204.5,929.2 1206.5,929.8 1208.5,930.5 1210.5,931.1 1212.5,931.7 1214.5,932.3 1216.5,932.8 1218.5,933.4 1220.5,933.9 1222.5,934.4 1224.5,934.9 1226.5,935.4 1228.5,935.9 1230.5,936.4 1232.5,936.9 1234.5,937.3 1236.5,937.8 1238.5,938.3 1240.5,938.8 1242.5,939.3 1244.5,939.9 1246.5,940.4 1248.5,941.0 1250.5,941.5 1252.5,942.1 1254.5,942.6 1256.5,943.1 1258.5,943.6 1260.5,944.0 1262.5,944.4 1264.5,944.8 1266.5,945.1 1268.5,945.5 1270.5,945.8 1272.5,946.1 1274.5,946.3 1276.5,946.6 1278.5,946.9 1280.5,947.1 1282.5,947.3 1284.5,947.6 1286.5,947.8 1288.5,948.0 1290.5,948.3 1292.5,948.5 1294.5,948.7 1296.5,948.9 1298.5,949.2 1300.5,949.4 1302.5,949.7 1304.5,949.9 1306.5,950.1 1308.5,950.4 1310.5,950.6 1312.5,950.9 1314.5,951.1 1316.5,951.3 1318.5,951.6 1320.5,951.8 1322.5,952.0 1324.5,952.2 1326.5,952.5 1328.5,952.7 1330.5,952.9 1330.6,952.9 1331.3,953.0 1332.1,953.1 1332.5,953.1 1332.8,953.0 1333.6,952.3 1334.3,949.2 1334.5,948.1 1335.1,941.7 1335.8,931.7 1336.5,926.8 1336.6,926.8 1337.3,931.9 1338.1,942.0 1338.5,946.7 1338.8,949.7 1339.6,953.0 1340.3,953.9 1340.5,954.0 1341.1,954.1 1341.8,954.2 1342.5,954.3 1342.6,954.3 1344.5,954.5 1346.5,954.7 1348.5,955.0 1350.5,955.2 1352.5,955.4 1354.5,955.7 1356.5,955.9 1358.5,956.2 1360.5,956.4 1362.5,956.7 1364.5,956.9 1366.5,957.2 1368.5,957.4 1370.5,957.7 1372.5,957.9 1374.5,958.2 1376.5,958.5 1378.5,958.8 1380.5,959.1 1382.5,959.4 1384.5,959.7 1386.5,960.0 1388.5,960.3 1390.5,960.6 1392.5,960.9 1394.5,961.3 1396.5,961.6 1398.5,961.9 1400.5,962.3 1402.5,962.6 1404.5,963.0 1406.5,963.3 1408.5,963.6 1410.5,964.0 1412.5,964.3 1414.5,964.6 1416.5,965.0 1418.5,965.3 1420.5,965.6 1422.5,965.9 1424.5,966.2 1426.5,966.5 1428.5,966.8 1430.5,967.1 1432.5,967.4 1434.5,967.7 1436.5,967.9 1438.5,968.2 1440.5,968.4 1442.5,968.6 1444.5,968.8 1446.5,969.0 1448.5,969.2 1450.5,969.4 1452.5,969.6 1454.5,969.8 1456.5,970.0 1458.5,970.2 1460.5,970.3 1462.5,970.5 1464.5,970.7 1466.5,970.8 1468.5,971.0 1470.5,971.1 1472.5,971.3 1474.5,971.5 1476.5,971.6 1478.5,971.7 1480.5,971.9 1482.5,972.0 1484.5,972.2 1486.5,972.3 1488.5,972.4 1490.5,972.6 1492.5,972.7 1494.5,972.9 1496.5,973.0 1498.5,973.1 1500.5,973.2 1502.5,973.4 1504.5,973.5 1506.5,973.6 1508.5,973.8 1510.5,973.9 1512.5,974.0 1514.5,974.2 1516.5,974.3 1518.5,974.4 1520.5,974.6 1522.5,974.7 1524.5,974.9 1526.5,975.0 1528.5,975.2 1530.5,975.3 1532.5,975.5 1534.5,975.6 1536.5,975.8 1538.5,976.0 1540.5,976.1 1542.5,976.3 1544.5,976.4 1546.5,976.6 1548.5,976.8 1550.5,976.9 1552.5,977.1 1554.5,977.2 1556.5,977.4 1558.5,977.5 1560.5,977.7 1562.5,977.8 1564.5,978.0 1566.5,978.1 1568.5,978.2 1570.5,978.3 1572.5,978.4 1574.5,978.5 1576.5,978.6 1578.5,978.7 1580.5,978.8 1582.5,978.8 1584.5,978.9 1586.5,978.9 1588.5,979.0 1590.5,979.0 1592.5,979.0 1594.5,979.0 1596.5,979.0 1598.5,979.0 1600.5,979.0 1602.5,979.0 1604.5,979.0 1606.5,979.0 1608.5,979.0 1610.5,979.0 1612.5,979.0 1614.5,979.0 1616.5,979.0 1618.5,979.0 1620.5,979.0 1622.5,979.0 1624.5,979.0 1626.5,979.0 1628.5,979.0 1630.5,979.0 1632.5,979.0 1634.5,979.0 1636.5,979.0 1638.5,979.0 1640.5,979.0 1642.5,979.0 1644.5,979.0 1646.5,979.0 1648.5,979.0 1650.5,979.0 1652.5,979.0 1654.5,979.0 1656.5,979.0 1658.5,979.0 1660.5,979.0 1662.5,979.0 1664.5,979.0 1666.5,979.0 1668.5,979.0 1670.5,979.0 1672.5,979.0 1674.5,979.1 1676.5,979.1 1678.5,979.1 1680.5,979.2 1682.5,979.2 1684.5,979.3 1686.5,979.3 1688.5,979.4 1690.5,979.4 1692.5,979.5 1694.5,979.6 1696.5,979.6 1698.5,979.7 1700.5,979.8 1702.5,979.9 1704.5,979.9 1706.5,980.0 1708.5,980.1 1710.5,980.1 1712.5,980.2 1714.5,980.3 1716.5,980.3 1718.5,980.4 1720.5,980.4 1722.5,980.5 1724.5,980.5 1726.5,980.6 1728.5,980.6 1730.5,980.6 1732.5,980.7 1734.5,980.7 1736.5,980.7 1738.5,980.7 1740.5,980.7 1742.5,980.7 1744.5,980.7 1746.5,980.7 1748.5,980.7 1750.5,980.7 1752.5,980.7 1754.5,980.7 1756.5,980.7 1758.5,980.7 1760.5,980.7 1762.5,980.7 1764.5,980.7 1766.5,980.7 1768.5,980.7 1770.5,980.7 1772.5,980.7 1774.5,980.7 1776.5,980.7 1778.5,980.7 1780.5,980.7 1782.5,980.7 1784.5,980.7 1786.5,980.7 1788.5,980.7 1790.5,980.7 1792.5,980.7 1794.5,980.7 1796.5,980.7 1798.5,980.7 1800.5,980.7 1802.5,980.7 1804.5,980.7 1806.5,980.7 1808.5,980.7 1810.5,980.7 1812.5,980.7 1814.5,980.7 1816.5,980.7 1818.5,980.7 1820.5,980.7 1822.5,980.7 1824.5,980.7 1826.5,980.7 1828.5,980.7 1830.5,980.7 1832.5,980.7 1834.5,980.7 1836.5,980.7 1838.5,980.7 1840.5,980.7 1842.5,980.7 1844.5,980.7 1846.5,980.7 1848.5,980.7 1850.5,980.7 1852.5,980.7 1854.5,980.7 1856.5,980.7 1858.5,980.7 1860.5,980.7 1862.5,980.7 1864.5,980.7 1866.5,980.7 1868.5,980.7 1870.5,980.7 1872.5,980.7 1874.5,980.7 1876.5,980.7 1878.5,980.7 1880.5,980.7 1882.5,980.7 1884.5,980.7 1886.5,980.7 1888.5,980.7 1890.5,980.7 1892.5,980.7"/>
<path class="trace" d="M308.5,460.0 309.0,460.0 309.5,482.4 310.0,460.0 310.5,488.4 311.0,465.4 311.5,506.6 312.0,474.6 312.5,520.9 313.0,487.1 313.5,514.4 314.0,495.7 314.5,523.0 315.0,495.9 315.5,527.0 316.0,498.6 316.5,532.6 317.0,514.2 317.5,536.1 318.0,504.4 318.5,546.5 319.0,520.6 319.5,541.2 320.0,523.0 320.5,549.9 321.0,523.4 321.5,547.2 322.0,530.1 322.5,557.4 323.0,535.5 323.5,567.3 324.0,531.6 324.5,588.5 325.0,548.2 325.5,587.1 326.0,553.3 326.5,602.9 327.0,575.6 327.5,597.3 328.0,574.2 328.5,613.7 329.0,582.1 329.5,613.8 330.0,595.2 330.5,628.3 331.0,605.1 331.5,628.7 332.0,603.0 332.5,637.3 333.0,615.7 333.5,647.0 334.0,627.6 334.5,653.8 335.0,616.9 335.5,665.2 336.0,632.6 336.5,665.3 337.0,641.5 337.5,670.0 338.0,640.0 338.5,672.2 339.0,650.3 339.5,674.3 340.0,650.5 340.5,678.0 341.0,657.1 341.5,683.6 342.0,665.4 342.5,682.3 343.0,659.5 343.5,688.0 344.0,671.1 344.5,704.1 345.0,668.2 345.5,698.1 346.0,676.8 346.5,709.1 347.0,682.4 347.5,705.2 348.0,688.1 348.5,713.7 349.0,679.7 349.5,719.0 350.0,695.9 350.5,721.9 351.0,689.2 351.5,720.5 352.0,701.4 352.5,721.7 353.0,706.9 353.5,733.0 354.0,713.1 354.5,731.6 355.0,724.2 355.5,741.4 356.0,716.3 356.5,752.5 357.0,730.7 357.5,749.4 358.0,737.9 358.5,757.6 359.0,738.2 359.5,762.4 360.0,741.5 360.5,772.3 361.0,749.5 361.5,765.6 362.0,753.4 362.5,775.9 363.0,757.9 363.5,775.0 364.0,764.2 364.5,787.8 365.0,762.1 365.5,789.5 366.0,767.5 366.5,789.8 367.0,765.7 367.5,790.3 368.0,764.0 368.5,799.1 369.0,777.6 369.5,800.7 370.0,783.2 370.5,798.6 371.0,784.3 371.5,814.0 372.0,782.6 372.5,813.1 373.0,795.5 373.5,820.5 374.0,794.4 374.5,821.1 375.0,798.1 375.5,820.3 376.0,803.9 376.5,815.0 377.0,805.2 377.5,824.6 378.0,809.7 378.5,824.2 379.0,805.4 379.5,825.2 380.0,806.6 380.5,825.6 381.0,804.0 381.5,826.6 382.0,815.1 382.5,828.0 383.0,811.0 383.5,830.7 384.0,816.0 384.5,830.7 385.0,820.1 385.5,837.2 386.0,814.4 386.5,835.2 387.0,810.9 387.5,833.4 388.0,810.1 388.5,838.9 389.0,814.0 389.5,838.5 390.0,819.0 390.5,837.0 391.0,819.1 391.5,835.1 392.0,814.9 392.5,831.6 393.0,825.1 393.5,837.5 394.0,815.0 394.5,837.0 395.0,820.5 395.5,842.4 396.0,814.1 396.5,843.1 397.0,819.5 397.5,831.0 398.0,818.9 398.5,835.5 399.0,807.9 399.5,830.6 400.0,813.0 400.5,830.8 401.0,819.3 401.5,830.6 402.0,808.7 402.5,827.9 403.0,802.5 403.5,828.7 404.0,810.8 404.5,826.5 405.0,808.2 405.5,822.9 406.0,812.3 406.5,826.1 407.0,809.6 407.5,824.3 408.0,806.5 408.5,824.7 409.0,810.4 409.5,824.9 410.0,805.3 410.5,825.7 411.0,804.0 411.5,827.2 412.0,808.3 412.5,828.6 413.0,812.3 413.5,831.9 414.0,810.0 414.5,830.3 415.0,813.4 415.5,825.9 416.0,813.3 416.5,830.6 417.0,807.2 417.5,826.5 418.0,811.1 418.5,827.3 419.0,800.2 419.5,827.5 420.0,808.6 420.5,824.6 421.0,807.7 421.5,824.7 422.0,807.0 422.5,830.8 423.0,795.5 423.5,826.2 424.0,802.9 424.5,815.4 425.0,799.8 425.5,822.3 426.0,805.1 426.5,821.4 427.0,799.7 427.5,812.9 428.0,794.2 428.5,813.5 429.0,793.5 429.5,818.5 430.0,794.2 430.5,810.9 431.0,792.8 431.5,815.6 432.0,795.2 432.5,819.9 433.0,790.7 433.5,818.5 434.0,796.5 434.5,818.7 435.0,791.7 435.5,814.1 436.0,794.3 436.5,818.0 437.0,791.9 437.5,814.2 438.0,793.7 438.5,813.1 439.0,795.0 439.5,812.5 440.0,797.5 440.5,817.1 441.0,794.8 441.5,813.9 442.0,791.1 442.5,816.5 443.0,794.0 443.5,811.3 444.0,787.1 444.5,809.4 445.0,793.0 445.5,805.3 446.0,788.9 446.5,809.8 447.0,781.2 447.5,801.5 448.0,785.7 448.5,799.7 449.0,777.3 449.5,810.0 450.0,787.1 450.5,806.5 451.0,785.6 451.5,799.5 452.0,791.0 452.5,803.7 453.0,782.3 453.5,806.2 454.0,780.1 454.5,807.1 455.0,783.5 455.5,805.5 456.0,788.2 456.5,807.9 457.0,781.9 457.5,809.0 458.0,786.3 458.5,807.8 459.0,792.0 459.5,801.3 460.0,791.4 460.5,804.9 461.0,786.5 461.5,810.2 462.0,789.4 462.5,805.8 463.0,790.5 463.5,805.6 464.0,795.4 464.5,810.0 465.0,790.0 465.5,810.8 466.0,790.4 466.5,809.2 467.0,791.0 467.5,811.3 468.0,790.7 468.5,810.7 469.0,793.7 469.5,815.7 470.0,798.1 470.5,816.3 471.0,793.5 471.5,810.0 472.0,793.9 472.5,812.6 473.0,794.9 473.5,809.6 474.0,795.7 474.5,814.4 475.0,797.7 475.5,816.0 476.0,794.8 476.5,807.6 477.0,798.5 477.5,811.6 478.0,799.4 478.5,818.9 479.0,792.7 479.5,823.3 480.0,804.1 480.5,818.6 481.0,799.8 481.5,828.4 482.0,803.9 482.5,827.3 483.0,805.2 483.5,823.9 484.0,803.4 484.5,837.1 485.0,808.1 485.5,826.6 486.0,813.1 486.5,827.3 487.0,813.9 487.5,842.6 488.0,816.7 488.5,831.3 489.0,805.8 489.5,838.5 490.0,812.1 490.5,828.6 491.0,814.4 491.5,834.6 492.0,810.3 492.5,839.5 493.0,817.6 493.5,843.4 494.0,817.8 494.5,832.9 495.0,813.3 495.5,844.4 496.0,820.5 496.5,840.2 497.0,827.2 497.5,838.7 498.0,816.4 498.5,840.3 499.0,815.6 499.5,843.3 500.0,819.9 500.5,844.8 501.0,824.1 501.5,851.0 502.0,825.4 502.5,852.4 503.0,827.4 503.5,849.1 504.0,826.1 504.5,849.0 505.0,832.4 505.5,854.4 506.0,833.4 506.5,850.5 507.0,832.4 507.5,858.7 508.0,832.8 508.5,860.7 509.0,835.7 509.5,867.1 510.0,839.2 510.5,863.0 511.0,836.5 511.5,863.0 512.0,842.6 512.5,864.9 513.0,843.2 513.5,862.2 514.0,845.3 514.5,861.8 515.0,852.9 515.5,863.9 516.0,851.3 516.5,864.7 517.0,851.6 517.5,867.6 518.0,853.4 518.5,871.0 519.0,849.5 519.5,877.1 520.0,856.0 520.5,868.6 521.0,851.0 521.5,873.2 522.0,851.2 522.5,876.1 523.0,854.6 523.5,884.2 524.0,858.5 524.5,875.4 525.0,860.9 525.5,880.7 526.0,852.5 526.5,881.9 527.0,862.5 527.5,880.9 528.0,858.5 528.5,882.3 529.0,861.0 529.5,882.7 530.0,868.0 530.5,886.8 531.0,859.5 531.5,880.8 532.0,871.8 532.5,885.0 533.0,866.8 533.5,887.6 534.0,860.7 534.5,881.1 535.0,857.6 535.5,890.2 536.0,858.7 536.5,879.7 537.0,858.7 537.5,890.6 538.0,857.5 538.5,887.8 539.0,864.9 539.5,881.4 540.0,863.3 540.5,883.1 541.0,867.5 541.5,888.2 542.0,859.6 542.5,883.3 543.0,862.8 543.5,882.9 544.0,864.5 544.5,888.3 545.0,862.8 545.5,878.4 546.0,862.0 546.5,890.3 547.0,870.9 547.5,885.6 548.0,865.3 548.5,887.1 549.0,871.8 549.5,886.3 550.0,872.4 550.5,893.3 551.0,874.0 551.5,890.6 552.0,875.7 552.5,893.4 553.0,875.2 553.5,896.3 554.0,881.6 554.5,904.7 555.0,877.8 555.5,899.5 556.0,881.3 556.5,898.1 557.0,884.9 557.5,897.1 558.0,881.0 558.5,900.2 559.0,884.3 559.5,902.7 560.0,880.5 560.5,899.5 561.0,881.5 561.5,904.5 562.0,882.7 562.5,905.1 563.0,879.1 563.5,900.4 564.0,884.5 564.5,896.7 565.0,877.0 565.5,904.7 566.0,883.9 566.5,899.9 567.0,877.8 567.5,897.1 568.0,882.0 568.5,897.3 569.0,870.0 569.5,905.6 570.0,878.9 570.5,895.5 571.0,880.9 571.5,897.3 572.0,871.6 572.5,892.0 573.0,871.1 573.5,896.8 574.0,865.6 574.5,895.6 575.0,878.6 575.5,897.9 576.0,863.3 576.5,891.0 577.0,875.4 577.5,888.6 578.0,873.3 578.5,895.7 579.0,865.6 579.5,886.1 580.0,866.8 580.5,882.4 581.0,868.9 581.5,887.2 582.0,870.0 582.5,884.0 583.0,858.1 583.5,888.5 584.0,867.0 584.5,882.5 585.0,865.1 585.5,884.4 586.0,866.4 586.5,879.8 587.0,862.8 587.5,890.5 588.0,870.1 588.5,888.0 589.0,859.4 589.5,886.7 590.0,875.3 590.5,888.0 591.0,872.7 591.5,889.7 592.0,868.5 592.5,900.5 593.0,875.4 593.5,899.3 594.0,876.5 594.5,895.7 595.0,876.8 595.5,893.1 596.0,876.7 596.5,896.6 597.0,866.5 597.5,894.4 598.0,877.4 598.5,901.3 599.0,875.3 599.5,900.4 600.0,879.2 600.5,896.5 601.0,878.8 601.5,902.3 602.0,878.7 602.5,899.9 603.0,883.6 603.5,901.3 604.0,880.1 604.5,900.2 605.0,885.4 605.5,900.2 606.0,884.3 606.5,905.0 607.0,878.0 607.5,902.0 608.0,887.9 608.5,907.0 609.0,884.8 609.5,904.8 610.0,883.3 610.5,906.7 611.0,889.0 611.5,904.5 612.0,890.8 612.5,911.9 613.0,884.6 613.5,914.7 614.0,883.6 614.5,905.8 615.0,886.5 615.5,902.0 616.0,883.4 616.5,904.3 617.0,882.6 617.5,909.9 618.0,881.4 618.5,907.6 619.0,890.5 619.5,903.6 620.0,889.6 620.5,902.4 621.0,881.6 621.5,913.1 622.0,884.9 622.5,911.1 623.0,887.1 623.5,904.5 624.0,886.8 624.5,906.9 625.0,885.2 625.5,908.5 626.0,889.5 626.5,904.4 627.0,884.2 627.5,911.3 628.0,892.5 628.5,904.6 629.0,888.4 629.5,906.6 630.0,888.4 630.5,884.5 631.0,882.0 631.5,904.9 632.0,876.4 632.5,875.2 633.0,874.8 633.5,875.2 634.0,876.8 634.5,879.7 635.0,882.3 635.5,903.8 636.0,889.2 636.5,889.4 637.0,888.5 637.5,905.4 638.0,884.1 638.5,893.9 639.0,886.7 639.5,909.6 640.0,893.8 640.5,906.4 641.0,883.2 641.5,904.0 642.0,893.7 642.5,906.2 643.0,889.4 643.5,914.2 644.0,882.9 644.5,907.7 645.0,888.1 645.5,906.9 646.0,888.9 646.5,909.7 647.0,892.8 647.5,913.5 648.0,887.6 648.5,908.6 649.0,893.2 649.5,907.5 650.0,885.1 650.5,902.1 651.0,885.7 651.5,903.9 652.0,887.3 652.5,908.9 653.0,892.4 653.5,904.1 654.0,880.3 654.5,904.0 655.0,890.6 655.5,906.3 656.0,883.8 656.5,908.8 657.0,885.3 657.5,903.5 658.0,886.7 658.5,900.4 659.0,890.4 659.5,905.0 660.0,880.0 660.5,902.1 661.0,886.5 661.5,909.9 662.0,875.4 662.5,906.1 663.0,890.7 663.5,902.1 664.0,877.9 664.5,902.0 665.0,885.4 665.5,899.8 666.0,885.8 666.5,901.4 667.0,890.0 667.5,899.2 668.0,879.3 668.5,898.9 669.0,884.2 669.5,899.5 670.0,882.9 670.5,896.1 671.0,876.7 671.5,896.4 672.0,880.6 672.5,894.6 673.0,882.4 673.5,896.7 674.0,884.9 674.5,899.8 675.0,876.3 675.5,896.8 676.0,878.8 676.5,897.6 677.0,876.8 677.5,890.9 678.0,874.1 678.5,896.1 679.0,870.8 679.5,891.7 680.0,875.2 680.5,889.4 681.0,872.9 681.5,889.3 682.0,864.7 682.5,898.0 683.0,870.9 683.5,888.5 684.0,868.2 684.5,893.0 685.0,870.8 685.5,885.9 686.0,873.4 686.5,891.9 687.0,870.5 687.5,889.7 688.0,866.6 688.5,887.8 689.0,874.0 689.5,892.0 690.0,877.4 690.5,893.2 691.0,874.2 691.5,888.2 692.0,873.1 692.5,897.6 693.0,871.0 693.5,892.2 694.0,872.6 694.5,893.3 695.0,871.7 695.5,891.8 696.0,873.8 696.5,891.2 697.0,870.6 697.5,890.8 698.0,867.0 698.5,891.0 699.0,866.0 699.5,889.2 700.0,861.9 700.5,889.6 701.0,867.0 701.5,885.9 702.0,870.6 702.5,887.7 703.0,864.0 703.5,885.9 704.0,860.0 704.5,884.1 705.0,863.1 705.5,887.5 706.0,869.2 706.5,889.4 707.0,865.4 707.5,882.8 708.0,871.6 708.5,881.4 709.0,869.3 709.5,882.9 710.0,863.0 710.5,884.6 711.0,862.7 711.5,881.8 712.0,862.7 712.5,888.3 713.0,864.3 713.5,879.8 714.0,868.6 714.5,879.2 715.0,873.0 715.5,879.9 716.0,862.8 716.5,883.0 717.0,868.7 717.5,879.4 718.0,859.7 718.5,878.4 719.0,863.4 719.5,888.1 720.0,864.3 720.5,875.9 721.0,862.1 721.5,878.7 722.0,857.2 722.5,874.3 723.0,864.3 723.5,881.7 724.0,861.6 724.5,878.9 725.0,863.4 725.5,880.3 726.0,864.6 726.5,884.6 727.0,858.1 727.5,878.1 728.0,865.7 728.5,876.9 729.0,859.5 729.5,873.8 730.0,865.2 730.5,876.3 731.0,862.4 731.5,883.6 732.0,861.5 732.5,876.3 733.0,857.1 733.5,885.1 734.0,863.6 734.5,878.5 735.0,861.1 735.5,882.4 736.0,862.4 736.5,881.1 737.0,865.9 737.5,879.1 738.0,866.7 738.5,878.4 739.0,865.5 739.5,884.0 740.0,868.0 740.5,884.3 741.0,866.5 741.5,883.3 742.0,864.8 742.5,890.8 743.0,861.3 743.5,879.9 744.0,866.1 744.5,883.4 745.0,863.5 745.5,883.5 746.0,865.1 746.5,881.4 747.0,864.8 747.5,881.4 748.0,866.4 748.5,882.5 749.0,865.4 749.5,870.5 750.0,863.7 750.5,887.6 751.0,857.2 751.5,880.7 752.0,862.2 752.5,878.3 753.0,838.0 753.5,832.2 754.0,828.8 754.5,827.6 755.0,828.3 755.5,831.4 756.0,837.0 756.5,875.5 757.0,847.9 757.5,853.2 758.0,855.7 758.5,861.8 759.0,859.8 759.5,866.0 760.0,856.1 760.5,870.8 761.0,861.1 761.5,873.5 762.0,859.3 762.5,866.4 763.0,854.2 763.5,872.7 764.0,852.2 764.5,856.8 765.0,854.3 765.5,844.4 766.0,851.5 766.5,873.7 767.0,827.9 767.5,823.8 768.0,822.4 768.5,823.0 769.0,826.6 769.5,830.9 770.0,850.1 770.5,867.7 771.0,847.5 771.5,852.3 772.0,851.7 772.5,858.3 773.0,855.9 773.5,861.0 774.0,850.2 774.5,868.8 775.0,846.5 775.5,873.2 776.0,852.1 776.5,868.5 777.0,848.1 777.5,866.2 778.0,845.9 778.5,862.9 779.0,849.6 779.5,870.3 780.0,845.0 780.5,863.7 781.0,851.2 781.5,864.0 782.0,849.5 782.5,866.8 783.0,843.6 783.5,867.5 784.0,849.2 784.5,867.0 785.0,848.8 785.5,868.6 786.0,849.1 786.5,860.5 787.0,841.7 787.5,871.4 788.0,840.7 788.5,868.7 789.0,840.5 789.5,870.7 790.0,841.2 790.5,861.2 791.0,839.7 791.5,872.0 792.0,845.8 792.5,869.5 793.0,841.8 793.5,860.0 794.0,841.1 794.5,863.3 795.0,841.9 795.5,863.4 796.0,837.0 796.5,858.8 797.0,842.9 797.5,856.1 798.0,845.6 798.5,860.2 799.0,843.5 799.5,857.8 800.0,838.5 800.5,855.7 801.0,837.0 801.5,851.9 802.0,833.3 802.5,859.5 803.0,836.0 803.5,855.0 804.0,833.1 804.5,850.0 805.0,827.7 805.5,857.4 806.0,833.3 806.5,849.9 807.0,829.2 807.5,854.9 808.0,828.9 808.5,855.6 809.0,835.2 809.5,856.5 810.0,829.4 810.5,853.3 811.0,833.4 811.5,850.0 812.0,826.5 812.5,849.1 813.0,833.2 813.5,846.7 814.0,827.6 814.5,857.9 815.0,825.8 815.5,849.9 816.0,828.2 816.5,848.0 817.0,822.6 817.5,851.8 818.0,828.4 818.5,846.5 819.0,829.7 819.5,844.3 820.0,819.2 820.5,848.2 821.0,822.1 821.5,851.2 822.0,827.3 822.5,841.5 823.0,831.8 823.5,841.2 824.0,829.9 824.5,845.7 825.0,824.2 825.5,850.8 826.0,826.2 826.5,846.1 827.0,826.7 827.5,845.1 828.0,827.3 828.5,843.3 829.0,827.5 829.5,847.4 830.0,830.7 830.5,847.4 831.0,833.6 831.5,845.6 832.0,826.4 832.5,853.7 833.0,831.2 833.5,856.1 834.0,828.9 834.5,851.5 835.0,838.1 835.5,850.3 836.0,837.9 836.5,849.2 837.0,830.0 837.5,859.2 838.0,830.3 838.5,849.6 839.0,833.0 839.5,854.4 840.0,828.8 840.5,851.3 841.0,823.9 841.5,859.5 842.0,830.4 842.5,859.3 843.0,826.8 843.5,848.9 844.0,840.6 844.5,857.4 845.0,836.4 845.5,856.8 846.0,841.2 846.5,855.3 847.0,833.5 847.5,856.6 848.0,834.8 848.5,854.7 849.0,832.3 849.5,855.6 850.0,837.7 850.5,855.6 851.0,826.7 851.5,855.6 852.0,838.9 852.5,854.6 853.0,838.8 853.5,863.4 854.0,839.9 854.5,856.7 855.0,831.0 855.5,851.1 856.0,837.7 856.5,851.9 857.0,837.6 857.5,855.8 858.0,841.7 858.5,853.8 859.0,838.2 859.5,857.6 860.0,831.2 860.5,859.6 861.0,834.6 861.5,856.3 862.0,843.9 862.5,862.6 863.0,841.9 863.5,858.0 864.0,846.1 864.5,856.0 865.0,833.9 865.5,859.4 866.0,843.3 866.5,859.8 867.0,834.4 867.5,860.5 868.0,845.7 868.5,867.2 869.0,848.7 869.5,867.1 870.0,839.4 870.5,863.3 871.0,841.6 871.5,863.3 872.0,842.4 872.5,860.1 873.0,839.6 873.5,865.6 874.0,837.9 874.5,858.2 875.0,833.6 875.5,857.1 876.0,842.5 876.5,860.1 877.0,838.7 877.5,865.5 878.0,840.3 878.5,861.8 879.0,841.8 879.5,854.9 880.0,842.0 880.5,857.9 881.0,844.2 881.5,856.5 882.0,844.1 882.5,858.4 883.0,840.4 883.5,863.0 884.0,839.2 884.5,861.6 885.0,844.8 885.5,859.7 886.0,843.3 886.5,863.4 887.0,846.0 887.5,864.8 888.0,839.0 888.5,861.1 889.0,843.4 889.5,861.9 890.0,843.4 890.5,864.0 891.0,844.8 891.5,866.3 892.0,846.9 892.5,860.9 893.0,847.4 893.5,869.7 894.0,844.5 894.5,866.5 895.0,848.6 895.5,863.5 896.0,847.2 896.5,861.3 897.0,848.9 897.5,859.9 898.0,846.4 898.5,866.0 899.0,844.4 899.5,868.7 900.0,849.6 900.5,863.3 901.0,844.0 901.5,861.6 902.0,848.7 902.5,863.4 903.0,844.6 903.5,869.8 904.0,840.5 904.5,865.9 905.0,839.9 905.5,867.3 906.0,845.7 906.5,862.5 907.0,846.6 907.5,863.0 908.0,841.9 908.5,862.6 909.0,845.8 909.5,869.0 910.0,840.1 910.5,864.0 911.0,853.1 911.5,865.3 912.0,843.3 912.5,861.7 913.0,844.8 913.5,865.3 914.0,850.4 914.5,873.9 915.0,844.5 915.5,860.7 916.0,847.8 916.5,862.8 917.0,849.6 917.5,863.9 918.0,846.2 918.5,866.1 919.0,846.3 919.5,868.6 920.0,848.7 920.5,864.3 921.0,848.2 921.5,863.0 922.0,849.0 922.5,865.4 923.0,847.5 923.5,867.2 924.0,849.7 924.5,866.4 925.0,842.0 925.5,868.0 926.0,844.6 926.5,873.3 927.0,852.1 927.5,866.9 928.0,855.3 928.5,868.4 929.0,855.8 929.5,871.7 930.0,854.9 930.5,872.1 931.0,859.7 931.5,876.8 932.0,851.9 932.5,879.5 933.0,861.5 933.5,875.5 934.0,862.8 934.5,874.1 935.0,857.7 935.5,883.4 936.0,866.2 936.5,880.8 937.0,865.3 937.5,877.1 938.0,867.9 938.5,889.1 939.0,864.4 939.5,881.8 940.0,858.8 940.5,877.7 941.0,859.9 941.5,887.2 942.0,857.0 942.5,881.5 943.0,861.8 943.5,881.8 944.0,859.0 944.5,880.7 945.0,865.4 945.5,870.3 946.0,860.5 946.5,868.1 947.0,863.3 947.5,880.5 948.0,861.0 948.5,855.5 949.0,850.4 949.5,848.1 950.0,845.0 950.5,842.3 951.0,841.4 951.5,843.3 952.0,845.2 952.5,848.5 953.0,864.1 953.5,858.2 954.0,856.3 954.5,866.3 955.0,860.2 955.5,871.6 956.0,858.7 956.5,873.5 957.0,864.2 957.5,880.5 958.0,860.0 958.5,882.4 959.0,861.9 959.5,879.7 960.0,865.2 960.5,886.5 961.0,860.0 961.5,884.7 962.0,858.7 962.5,885.1 963.0,860.9 963.5,878.0 964.0,864.7 964.5,877.4 965.0,857.1 965.5,879.2 966.0,859.0 966.5,880.5 967.0,865.1 967.5,880.1 968.0,865.8 968.5,886.2 969.0,860.0 969.5,885.9 970.0,867.8 970.5,880.9 971.0,866.3 971.5,890.3 972.0,864.4 972.5,886.4 973.0,863.0 973.5,889.6 974.0,865.6 974.5,888.3 975.0,877.5 975.5,897.3 976.0,866.9 976.5,895.1 977.0,876.9 977.5,889.4 978.0,872.2 978.5,895.5 979.0,872.3 979.5,891.5 980.0,873.9 980.5,901.2 981.0,878.6 981.5,897.2 982.0,877.5 982.5,891.4 983.0,873.1 983.5,898.0 984.0,871.7 984.5,892.4 985.0,875.7 985.5,894.5 986.0,876.3 986.5,893.0 987.0,870.7 987.5,888.6 988.0,876.8 988.5,894.5 989.0,874.2 989.5,893.4 990.0,878.6 990.5,888.2 991.0,874.6 991.5,892.6 992.0,877.5 992.5,897.8 993.0,872.6 993.5,894.6 994.0,868.9 994.5,888.7 995.0,869.3 995.5,895.0 996.0,877.8 996.5,886.5 997.0,867.8 997.5,892.5 998.0,872.4 998.5,893.7 999.0,875.9 999.5,896.4 1000.0,871.6 1000.5,896.2 1001.0,874.9 1001.5,887.7 1002.0,875.1 1002.5,889.6 1003.0,876.4 1003.5,884.0 1004.0,869.6 1004.5,891.6 1005.0,871.6 1005.5,891.4 1006.0,871.0 1006.5,887.3 1007.0,876.8 1007.5,889.8 1008.0,870.9 1008.5,892.4 1009.0,877.8 1009.5,893.7 1010.0,868.2 1010.5,890.6 1011.0,874.6 1011.5,893.0 1012.0,881.2 1012.5,900.1 1013.0,877.7 1013.5,889.7 1014.0,879.5 1014.5,901.7 1015.0,874.0 1015.5,903.8 1016.0,880.0 1016.5,897.5 1017.0,878.8 1017.5,882.5 1018.0,879.5 1018.5,895.1 1019.0,874.9 1019.5,893.3 1020.0,867.4 1020.5,892.0 1021.0,861.0 1021.5,858.9 1022.0,858.0 1022.5,859.3 1023.0,860.7 1023.5,864.8 1024.0,868.1 1024.5,892.6 1025.0,874.8 1025.5,895.8 1026.0,879.6 1026.5,883.0 1027.0,878.6 1027.5,884.2 1028.0,875.1 1028.5,893.9 1029.0,876.6 1029.5,892.4 1030.0,879.1 1030.5,896.4 1031.0,874.4 1031.5,896.9 1032.0,876.5 1032.5,890.7 1033.0,875.4 1033.5,889.0 1034.0,878.1 1034.5,894.0 1035.0,874.3 1035.5,896.6 1036.0,875.7 1036.5,889.6 1037.0,876.4 1037.5,886.8 1038.0,869.7 1038.5,886.0 1039.0,866.3 1039.5,885.9 1040.0,872.1 1040.5,882.2 1041.0,866.0 1041.5,884.7 1042.0,868.1 1042.5,884.8 1043.0,855.5 1043.5,883.6 1044.0,860.3 1044.5,882.0 1045.0,866.6 1045.5,884.2 1046.0,858.5 1046.5,889.9 1047.0,864.9 1047.5,882.3 1048.0,863.5 1048.5,879.4 1049.0,865.9 1049.5,882.6 1050.0,867.9 1050.5,884.9 1051.0,859.7 1051.5,882.5 1052.0,862.6 1052.5,886.1 1053.0,866.1 1053.5,882.0 1054.0,866.1 1054.5,882.9 1055.0,870.5 1055.5,881.2 1056.0,862.0 1056.5,890.5 1057.0,860.8 1057.5,885.9 1058.0,862.0 1058.5,884.0 1059.0,866.3 1059.5,882.5 1060.0,869.1 1060.5,887.0 1061.0,859.1 1061.5,884.4 1062.0,864.5 1062.5,892.4 1063.0,862.2 1063.5,886.4 1064.0,870.0 1064.5,890.1 1065.0,866.7 1065.5,884.5 1066.0,873.1 1066.5,896.9 1067.0,869.0 1067.5,883.4 1068.0,865.9 1068.5,884.7 1069.0,862.5 1069.5,889.8 1070.0,865.2 1070.5,893.6 1071.0,868.3 1071.5,882.0 1072.0,867.7 1072.5,893.2 1073.0,862.2 1073.5,884.5 1074.0,862.9 1074.5,882.3 1075.0,869.1 1075.5,892.5 1076.0,871.6 1076.5,889.1 1077.0,867.8 1077.5,885.0 1078.0,866.4 1078.5,890.1 1079.0,873.7 1079.5,896.3 1080.0,874.5 1080.5,889.8 1081.0,873.2 1081.5,893.6 1082.0,870.4 1082.5,898.1 1083.0,875.6 1083.5,887.0 1084.0,868.8 1084.5,887.7 1085.0,875.2 1085.5,893.5 1086.0,878.9 1086.5,890.0 1087.0,875.0 1087.5,891.7 1088.0,873.9 1088.5,891.3 1089.0,877.2 1089.5,886.3 1090.0,866.5 1090.5,893.7 1091.0,867.4 1091.5,888.3 1092.0,871.5 1092.5,892.6 1093.0,873.4 1093.5,893.9 1094.0,872.4 1094.5,891.3 1095.0,876.4 1095.5,892.4 1096.0,871.2 1096.5,892.4 1097.0,874.7 1097.5,890.3 1098.0,873.5 1098.5,894.4 1099.0,868.9 1099.5,899.8 1100.0,868.5 1100.5,891.0 1101.0,870.2 1101.5,891.1 1102.0,879.1 1102.5,893.0 1103.0,880.7 1103.5,894.7 1104.0,878.0 1104.5,897.7 1105.0,879.4 1105.5,891.5 1106.0,882.6 1106.5,890.5 1107.0,879.5 1107.5,891.3 1108.0,871.6 1108.5,895.2 1109.0,879.6 1109.5,890.6 1110.0,877.3 1110.5,891.7 1111.0,870.3 1111.5,890.2 1112.0,881.2 1112.5,894.5 1113.0,868.8 1113.5,892.7 1114.0,874.4 1114.5,893.0 1115.0,870.9 1115.5,894.0 1116.0,877.0 1116.5,899.5 1117.0,876.7 1117.5,892.8 1118.0,880.4 1118.5,901.7 1119.0,881.4 1119.5,903.8 1120.0,879.4 1120.5,903.2 1121.0,889.0 1121.5,908.8 1122.0,886.4 1122.5,902.4 1123.0,890.5 1123.5,904.7 1124.0,884.3 1124.5,907.8 1125.0,883.9 1125.5,906.2 1126.0,881.9 1126.5,904.0 1127.0,883.1 1127.5,911.4 1128.0,889.6 1128.5,911.7 1129.0,888.1 1129.5,907.3 1130.0,891.1 1130.5,908.0 1131.0,886.4 1131.5,915.9 1132.0,891.3 1132.5,912.9 1133.0,891.0 1133.5,918.9 1134.0,896.3 1134.5,911.2 1135.0,900.1 1135.5,916.9 1136.0,900.6 1136.5,917.3 1137.0,892.8 1137.5,919.9 1138.0,893.6 1138.5,910.9 1139.0,895.1 1139.5,920.9 1140.0,898.1 1140.5,909.9 1141.0,895.0 1141.5,910.2 1142.0,888.8 1142.5,917.6 1143.0,894.8 1143.5,913.4 1144.0,893.2 1144.5,914.3 1145.0,896.7 1145.5,916.6 1146.0,894.1 1146.5,911.6 1147.0,894.3 1147.5,913.6 1148.0,898.3 1148.5,917.9 1149.0,890.5 1149.5,916.2 1150.0,892.6 1150.5,913.9 1151.0,901.8 1151.5,923.2 1152.0,898.3 1152.5,916.3 1153.0,896.7 1153.5,914.1 1154.0,898.5 1154.5,915.0 1155.0,895.3 1155.5,916.7 1156.0,897.9 1156.5,920.8 1157.0,903.7 1157.5,921.1 1158.0,895.4 1158.5,919.5 1159.0,900.9 1159.5,922.8 1160.0,896.9 1160.5,920.2 1161.0,898.8 1161.5,914.2 1162.0,898.5 1162.5,919.2 1163.0,897.1 1163.5,922.0 1164.0,902.0 1164.5,921.8 1165.0,898.2 1165.5,919.5 1166.0,896.3 1166.5,918.2 1167.0,902.1 1167.5,914.8 1168.0,897.8 1168.5,927.3 1169.0,905.2 1169.5,923.1 1170.0,903.2 1170.5,916.7 1171.0,909.7 1171.5,931.0 1172.0,906.3 1172.5,925.4 1173.0,905.1 1173.5,926.3 1174.0,907.5 1174.5,922.4 1175.0,904.0 1175.5,922.2 1176.0,900.1 1176.5,925.1 1177.0,911.4 1177.5,925.1 1178.0,905.2 1178.5,928.9 1179.0,907.1 1179.5,927.2 1180.0,914.1 1180.5,929.8 1181.0,913.9 1181.5,925.7 1182.0,905.4 1182.5,927.8 1183.0,911.5 1183.5,933.0 1184.0,912.5 1184.5,929.6 1185.0,904.1 1185.5,923.8 1186.0,911.5 1186.5,928.6 1187.0,907.0 1187.5,931.0 1188.0,913.7 1188.5,927.8 1189.0,911.5 1189.5,935.2 1190.0,913.0 1190.5,925.0 1191.0,912.8 1191.5,930.0 1192.0,910.2 1192.5,922.8 1193.0,915.8 1193.5,927.4 1194.0,908.6 1194.5,926.4 1195.0,915.5 1195.5,926.6 1196.0,911.9 1196.5,932.0 1197.0,914.0 1197.5,930.3 1198.0,918.5 1198.5,928.5 1199.0,917.5 1199.5,937.4 1200.0,913.2 1200.5,931.5 1201.0,913.4 1201.5,936.6 1202.0,912.5 1202.5,927.0 1203.0,915.8 1203.5,933.4 1204.0,917.5 1204.5,931.6 1205.0,918.1 1205.5,927.1 1206.0,912.3 1206.5,936.3 1207.0,910.0 1207.5,932.4 1208.0,910.6 1208.5,931.9 1209.0,919.2 1209.5,936.8 1210.0,916.9 1210.5,931.8 1211.0,919.9 1211.5,937.1 1212.0,919.2 1212.5,937.2 1213.0,923.9 1213.5,943.2 1214.0,923.1 1214.5,936.6 1215.0,924.7 1215.5,938.6 1216.0,923.0 1216.5,939.7 1217.0,925.7 1217.5,942.1 1218.0,920.8 1218.5,940.4 1219.0,923.0 1219.5,945.4 1220.0,926.2 1220.5,944.4 1221.0,922.0 1221.5,941.5 1222.0,917.3 1222.5,942.4 1223.0,919.9 1223.5,936.8 1224.0,921.4 1224.5,936.7 1225.0,922.6 1225.5,942.6 1226.0,925.4 1226.5,935.3 1227.0,927.5 1227.5,944.4 1228.0,928.5 1228.5,941.5 1229.0,925.5 1229.5,940.1 1230.0,930.2 1230.5,944.9 1231.0,925.5 1231.5,948.4 1232.0,930.3 1232.5,943.3 1233.0,928.8 1233.5,945.0 1234.0,932.7 1234.5,947.5 1235.0,927.8 1235.5,946.9 1236.0,928.6 1236.5,949.3 1237.0,935.8 1237.5,946.9 1238.0,932.2 1238.5,942.3 1239.0,923.9 1239.5,946.1 1240.0,934.9 1240.5,952.0 1241.0,928.3 1241.5,955.0 1242.0,932.3 1242.5,949.5 1243.0,933.1 1243.5,948.2 1244.0,934.3 1244.5,952.0 1245.0,936.3 1245.5,946.0 1246.0,933.1 1246.5,952.6 1247.0,933.2 1247.5,948.3 1248.0,928.3 1248.5,945.9 1249.0,932.7 1249.5,947.8 1250.0,933.0 1250.5,947.6 1251.0,933.1 1251.5,948.5 1252.0,934.8 1252.5,947.8 1253.0,932.7 1253.5,946.9 1254.0,932.4 1254.5,955.7 1255.0,934.4 1255.5,945.3 1256.0,934.7 1256.5,946.4 1257.0,934.0 1257.5,948.5 1258.0,931.1 1258.5,956.0 1259.0,939.1 1259.5,948.1 1260.0,934.8 1260.5,950.5 1261.0,933.2 1261.5,950.4 1262.0,936.4 1262.5,960.0 1263.0,940.0 1263.5,949.7 1264.0,935.0 1264.5,957.1 1265.0,937.6 1265.5,950.3 1266.0,933.9 1266.5,956.9 1267.0,933.0 1267.5,952.5 1268.0,934.8 1268.5,951.7 1269.0,933.6 1269.5,953.2 1270.0,936.4 1270.5,947.5 1271.0,935.8 1271.5,954.5 1272.0,931.6 1272.5,955.6 1273.0,932.5 1273.5,953.0 1274.0,933.5 1274.5,951.4 1275.0,938.0 1275.5,949.4 1276.0,939.2 1276.5,956.5 1277.0,932.5 1277.5,950.6 1278.0,939.5 1278.5,951.6 1279.0,936.0 1279.5,955.9 1280.0,942.8 1280.5,954.6 1281.0,939.8 1281.5,954.6 1282.0,939.5 1282.5,954.1 1283.0,936.2 1283.5,957.6 1284.0,942.0 1284.5,956.2 1285.0,942.3 1285.5,953.0 1286.0,937.1 1286.5,956.8 1287.0,939.8 1287.5,960.6 1288.0,942.6 1288.5,961.3 1289.0,941.6 1289.5,963.1 1290.0,939.2 1290.5,956.3 1291.0,945.9 1291.5,963.7 1292.0,944.1 1292.5,958.0 1293.0,945.4 1293.5,956.3 1294.0,947.1 1294.5,959.4 1295.0,944.3 1295.5,965.6 1296.0,946.4 1296.5,958.0 1297.0,944.0 1297.5,963.5 1298.0,945.0 1298.5,965.9 1299.0,943.4 1299.5,959.3 1300.0,949.2 1300.5,958.2 1301.0,944.1 1301.5,958.8 1302.0,948.8 1302.5,957.9 1303.0,941.9 1303.5,960.6 1304.0,941.5 1304.5,956.9 1305.0,943.1 1305.5,959.6 1306.0,943.1 1306.5,966.9 1307.0,943.1 1307.5,956.2 1308.0,942.3 1308.5,953.3 1309.0,940.6 1309.5,955.4 1310.0,937.7 1310.5,954.1 1311.0,942.8 1311.5,958.4 1312.0,935.7 1312.5,953.5 1313.0,937.7 1313.5,959.8 1314.0,944.4 1314.5,954.4 1315.0,942.2 1315.5,954.0 1316.0,937.1 1316.5,953.7 1317.0,940.9 1317.5,957.8 1318.0,942.4 1318.5,958.9 1319.0,944.9 1319.5,961.0 1320.0,946.2 1320.5,958.3 1321.0,936.2 1321.5,957.7 1322.0,943.3 1322.5,959.6 1323.0,942.0 1323.5,961.8 1324.0,946.6 1324.5,962.2 1325.0,943.5 1325.5,960.0 1326.0,945.1 1326.5,967.0 1327.0,946.6 1327.5,963.0 1328.0,947.6 1328.5,963.9 1329.0,948.9 1329.5,958.5 1330.0,946.7 1330.5,960.5 1331.0,943.3 1331.5,964.1 1332.0,949.0 1332.5,950.0 1333.0,944.9 1333.5,958.8 1334.0,940.7 1334.5,936.3 1335.0,931.2 1335.5,926.8 1336.0,925.2 1336.5,923.8 1337.0,923.9 1337.5,925.8 1338.0,940.2 1338.5,961.5 1339.0,939.6 1339.5,942.7 1340.0,940.4 1340.5,965.4 1341.0,944.6 1341.5,958.3 1342.0,945.3 1342.5,960.1 1343.0,946.2 1343.5,960.6 1344.0,944.6 1344.5,959.3 1345.0,947.2 1345.5,960.5 1346.0,950.0 1346.5,961.8 1347.0,947.7 1347.5,963.3 1348.0,943.4 1348.5,959.3 1349.0,947.5 1349.5,956.6 1350.0,944.2 1350.5,962.2 1351.0,946.1 1351.5,954.3 1352.0,943.1 1352.5,956.4 1353.0,943.8 1353.5,955.8 1354.0,938.1 1354.5,959.2 1355.0,938.7 1355.5,959.6 1356.0,947.7 1356.5,954.7 1357.0,943.3 1357.5,958.0 1358.0,946.3 1358.5,960.1 1359.0,944.9 1359.5,957.7 1360.0,945.0 1360.5,958.7 1361.0,942.7 1361.5,959.1 1362.0,942.4 1362.5,964.9 1363.0,946.1 1363.5,971.3 1364.0,948.6 1364.5,964.9 1365.0,948.6 1365.5,963.5 1366.0,942.3 1366.5,964.9 1367.0,949.7 1367.5,961.5 1368.0,953.3 1368.5,965.2 1369.0,948.3 1369.5,962.0 1370.0,950.2 1370.5,961.6 1371.0,943.0 1371.5,967.0 1372.0,953.6 1372.5,960.9 1373.0,946.8 1373.5,962.2 1374.0,952.3 1374.5,968.5 1375.0,953.1 1375.5,963.9 1376.0,949.2 1376.5,962.4 1377.0,944.8 1377.5,957.9 1378.0,946.7 1378.5,961.2 1379.0,948.1 1379.5,967.2 1380.0,947.1 1380.5,964.6 1381.0,947.8 1381.5,959.5 1382.0,945.2 1382.5,960.5 1383.0,947.2 1383.5,969.8 1384.0,949.2 1384.5,959.9 1385.0,947.0 1385.5,959.4 1386.0,949.6 1386.5,966.0 1387.0,952.4 1387.5,967.2 1388.0,951.4 1388.5,970.1 1389.0,947.3 1389.5,972.5 1390.0,952.2 1390.5,970.5 1391.0,954.4 1391.5,967.7 1392.0,951.1 1392.5,965.7 1393.0,952.2 1393.5,970.9 1394.0,952.0 1394.5,973.7 1395.0,953.1 1395.5,969.3 1396.0,956.0 1396.5,967.8 1397.0,958.6 1397.5,970.5 1398.0,955.1 1398.5,969.5 1399.0,956.4 1399.5,973.9 1400.0,952.7 1400.5,966.5 1401.0,958.4 1401.5,971.4 1402.0,955.6 1402.5,975.8 1403.0,959.0 1403.5,972.7 1404.0,955.1 1404.5,975.8 1405.0,956.8 1405.5,972.8 1406.0,954.3 1406.5,977.4 1407.0,962.3 1407.5,972.2 1408.0,960.0 1408.5,973.1 1409.0,960.0 1409.5,978.1 1410.0,953.5 1410.5,974.1 1411.0,955.6 1411.5,975.8 1412.0,958.4 1412.5,972.0 1413.0,962.5 1413.5,968.6 1414.0,959.7 1414.5,972.8 1415.0,952.7 1415.5,970.5 1416.0,955.7 1416.5,969.4 1417.0,955.9 1417.5,973.4 1418.0,953.8 1418.5,971.3 1419.0,960.0 1419.5,974.8 1420.0,954.1 1420.5,976.5 1421.0,953.1 1421.5,970.6 1422.0,953.9 1422.5,968.9 1423.0,952.9 1423.5,970.4 1424.0,961.1 1424.5,975.7 1425.0,955.2 1425.5,975.3 1426.0,954.6 1426.5,975.7 1427.0,957.7 1427.5,972.4 1428.0,962.5 1428.5,980.2 1429.0,963.2 1429.5,977.1 1430.0,958.9 1430.5,977.0 1431.0,961.5 1431.5,976.2 1432.0,963.4 1432.5,977.1 1433.0,959.8 1433.5,978.6 1434.0,960.5 1434.5,981.2 1435.0,964.6 1435.5,978.2 1436.0,959.9 1436.5,975.9 1437.0,962.2 1437.5,979.3 1438.0,960.3 1438.5,981.4 1439.0,966.4 1439.5,974.2 1440.0,962.6 1440.5,980.6 1441.0,965.8 1441.5,983.8 1442.0,966.0 1442.5,976.4 1443.0,963.0 1443.5,975.5 1444.0,966.4 1444.5,984.0 1445.0,967.0 1445.5,977.4 1446.0,961.4 1446.5,983.3 1447.0,965.6 1447.5,978.4 1448.0,961.5 1448.5,975.9 1449.0,958.3 1449.5,974.9 1450.0,963.3 1450.5,975.8 1451.0,965.7 1451.5,979.0 1452.0,964.9 1452.5,978.3 1453.0,959.5 1453.5,978.2 1454.0,966.7 1454.5,975.5 1455.0,965.0 1455.5,979.9 1456.0,958.5 1456.5,979.9 1457.0,967.1 1457.5,980.8 1458.0,967.2 1458.5,980.7 1459.0,961.1 1459.5,977.4 1460.0,961.4 1460.5,976.3 1461.0,961.9 1461.5,979.7 1462.0,964.8 1462.5,983.9 1463.0,963.0 1463.5,980.2 1464.0,961.6 1464.5,975.9 1465.0,967.1 1465.5,978.2 1466.0,964.8 1466.5,979.0 1467.0,963.8 1467.5,980.6 1468.0,963.1 1468.5,975.5 1469.0,965.4 1469.5,978.5 1470.0,967.4 1470.5,979.5 1471.0,966.6 1471.5,980.8 1472.0,969.2 1472.5,975.3 1473.0,957.9 1473.5,979.5 1474.0,965.0 1474.5,972.8 1475.0,964.0 1475.5,978.3 1476.0,957.9 1476.5,983.5 1477.0,967.3 1477.5,982.6 1478.0,962.9 1478.5,972.5 1479.0,965.2 1479.5,976.9 1480.0,962.3 1480.5,984.0 1481.0,961.7 1481.5,982.8 1482.0,958.7 1482.5,980.3 1483.0,964.7 1483.5,984.9 1484.0,962.3 1484.5,977.8 1485.0,960.1 1485.5,983.2 1486.0,963.1 1486.5,977.8 1487.0,971.2 1487.5,981.4 1488.0,966.5 1488.5,980.5 1489.0,967.1 1489.5,986.6 1490.0,969.2 1490.5,981.1 1491.0,966.2 1491.5,981.1 1492.0,959.8 1492.5,977.8 1493.0,969.7 1493.5,983.6 1494.0,964.3 1494.5,979.5 1495.0,966.7 1495.5,984.1 1496.0,962.7 1496.5,984.1 1497.0,968.4 1497.5,983.3 1498.0,969.4 1498.5,984.0 1499.0,972.3 1499.5,988.4 1500.0,970.4 1500.5,981.7 1501.0,971.0 1501.5,988.0 1502.0,969.7 1502.5,991.1 1503.0,971.9 1503.5,980.0 1504.0,968.3 1504.5,987.7 1505.0,967.5 1505.5,982.4 1506.0,968.3 1506.5,984.0 1507.0,967.7 1507.5,985.9 1508.0,969.4 1508.5,986.8 1509.0,964.8 1509.5,982.6 1510.0,968.4 1510.5,984.1 1511.0,970.3 1511.5,988.3 1512.0,969.0 1512.5,986.4 1513.0,966.6 1513.5,984.4 1514.0,970.3 1514.5,981.2 1515.0,969.9 1515.5,984.7 1516.0,965.4 1516.5,982.2 1517.0,968.8 1517.5,983.8 1518.0,964.5 1518.5,978.8 1519.0,968.8 1519.5,981.3 1520.0,966.0 1520.5,975.1 1521.0,969.4 1521.5,984.0 1522.0,963.3 1522.5,979.1 1523.0,964.2 1523.5,979.5 1524.0,966.5 1524.5,982.0 1525.0,964.4 1525.5,980.8 1526.0,965.1 1526.5,978.1 1527.0,968.1 1527.5,983.5 1528.0,969.6 1528.5,978.9 1529.0,968.7 1529.5,982.1 1530.0,967.4 1530.5,989.2 1531.0,971.8 1531.5,979.6 1532.0,969.6 1532.5,983.9 1533.0,969.2 1533.5,984.7 1534.0,972.2 1534.5,978.8 1535.0,967.1 1535.5,980.4 1536.0,969.3 1536.5,984.3 1537.0,969.5 1537.5,977.9 1538.0,963.0 1538.5,980.9 1539.0,967.3 1539.5,985.6 1540.0,970.0 1540.5,981.5 1541.0,970.3 1541.5,984.3 1542.0,968.5 1542.5,985.6 1543.0,964.5 1543.5,981.5 1544.0,963.5 1544.5,982.9 1545.0,969.3 1545.5,979.6 1546.0,968.1 1546.5,978.6 1547.0,965.0 1547.5,985.7 1548.0,960.9 1548.5,980.7 1549.0,968.6 1549.5,982.5 1550.0,966.7 1550.5,986.8 1551.0,971.1 1551.5,985.8 1552.0,974.0 1552.5,984.7 1553.0,973.5 1553.5,983.2 1554.0,973.0 1554.5,986.4 1555.0,974.6 1555.5,984.8 1556.0,972.0 1556.5,984.0 1557.0,973.9 1557.5,982.6 1558.0,973.3 1558.5,983.9 1559.0,973.4 1559.5,988.0 1560.0,970.7 1560.5,989.2 1561.0,971.2 1561.5,986.5 1562.0,965.6 1562.5,984.9 1563.0,965.7 1563.5,982.1 1564.0,968.4 1564.5,986.5 1565.0,967.9 1565.5,982.5 1566.0,961.8 1566.5,979.2 1567.0,971.4 1567.5,980.4 1568.0,971.2 1568.5,981.3 1569.0,967.9 1569.5,984.6 1570.0,968.1 1570.5,987.4 1571.0,967.1 1571.5,981.8 1572.0,968.0 1572.5,977.9 1573.0,966.1 1573.5,983.7 1574.0,962.9 1574.5,980.6 1575.0,969.9 1575.5,980.5 1576.0,962.3 1576.5,980.4 1577.0,970.8 1577.5,982.6 1578.0,969.6 1578.5,986.4 1579.0,971.2 1579.5,979.0 1580.0,968.1 1580.5,985.0 1581.0,968.1 1581.5,984.6 1582.0,973.5 1582.5,986.9 1583.0,972.7 1583.5,983.2 1584.0,973.1 1584.5,982.8 1585.0,968.5 1585.5,983.2 1586.0,969.7 1586.5,985.0 1587.0,974.4 1587.5,983.3 1588.0,970.3 1588.5,985.9 1589.0,967.8 1589.5,986.8 1590.0,975.2 1590.5,984.3 1591.0,975.4 1591.5,986.1 1592.0,967.7 1592.5,985.4 1593.0,973.9 1593.5,988.1 1594.0,975.7 1594.5,991.0 1595.0,978.5 1595.5,989.5 1596.0,978.1 1596.5,985.9 1597.0,976.4 1597.5,990.7 1598.0,967.0 1598.5,985.8 1599.0,976.8 1599.5,986.8 1600.0,973.7 1600.5,987.6 1601.0,974.8 1601.5,985.5 1602.0,974.8 1602.5,988.4 1603.0,973.2 1603.5,986.6 1604.0,970.1 1604.5,984.7 1605.0,974.7 1605.5,983.7 1606.0,973.3 1606.5,982.9 1607.0,966.8 1607.5,984.2 1608.0,969.3 1608.5,983.4 1609.0,974.0 1609.5,987.5 1610.0,970.4 1610.5,988.7 1611.0,975.0 1611.5,984.7 1612.0,970.9 1612.5,984.7 1613.0,967.1 1613.5,988.7 1614.0,969.3 1614.5,986.5 1615.0,973.8 1615.5,983.9 1616.0,975.7 1616.5,983.2 1617.0,968.3 1617.5,983.8 1618.0,970.0 1618.5,982.0 1619.0,967.7 1619.5,987.9 1620.0,970.8 1620.5,984.6 1621.0,970.7 1621.5,983.8 1622.0,968.1 1622.5,986.5 1623.0,975.9 1623.5,983.7 1624.0,972.1 1624.5,989.3 1625.0,967.1 1625.5,987.1 1626.0,971.6 1626.5,985.2 1627.0,974.5 1627.5,990.7 1628.0,969.6 1628.5,983.4 1629.0,974.8 1629.5,985.3 1630.0,968.3 1630.5,986.9 1631.0,970.4 1631.5,985.1 1632.0,974.3 1632.5,986.7 1633.0,970.2 1633.5,985.2 1634.0,973.3 1634.5,988.8 1635.0,975.3 1635.5,980.6 1636.0,973.6 1636.5,981.4 1637.0,972.7 1637.5,991.4 1638.0,967.4 1638.5,982.8 1639.0,972.3 1639.5,984.3 1640.0,966.1 1640.5,987.7 1641.0,972.1 1641.5,985.2 1642.0,970.2 1642.5,984.9 1643.0,969.4 1643.5,984.1 1644.0,971.5 1644.5,989.0 1645.0,972.2 1645.5,983.0 1646.0,970.1 1646.5,985.4 1647.0,973.0 1647.5,988.7 1648.0,977.3 1648.5,985.4 1649.0,971.6 1649.5,985.7 1650.0,976.9 1650.5,990.3 1651.0,977.7 1651.5,981.8 1652.0,976.2 1652.5,983.5 1653.0,976.9 1653.5,988.8 1654.0,971.7 1654.5,982.9 1655.0,970.0 1655.5,988.9 1656.0,972.8 1656.5,992.2 1657.0,970.6 1657.5,987.0 1658.0,972.8 1658.5,990.6 1659.0,968.6 1659.5,985.0 1660.0,972.9 1660.5,987.4 1661.0,974.4 1661.5,988.1 1662.0,976.5 1662.5,985.1 1663.0,978.5 1663.5,992.6 1664.0,968.5 1664.5,986.0 1665.0,972.8 1665.5,986.8 1666.0,971.4 1666.5,986.2 1667.0,974.3 1667.5,990.7 1668.0,968.7 1668.5,986.7 1669.0,974.8 1669.5,982.6 1670.0,977.0 1670.5,982.6 1671.0,976.1 1671.5,986.2 1672.0,976.7 1672.5,991.5 1673.0,974.1 1673.5,989.8 1674.0,974.2 1674.5,983.6 1675.0,973.6 1675.5,983.8 1676.0,975.2 1676.5,987.9 1677.0,971.0 1677.5,984.9 1678.0,970.6 1678.5,990.2 1679.0,968.6 1679.5,986.6 1680.0,974.3 1680.5,983.7 1681.0,971.7 1681.5,985.0 1682.0,973.8 1682.5,989.5 1683.0,971.9 1683.5,984.8 1684.0,973.3 1684.5,985.1 1685.0,972.6 1685.5,986.3 1686.0,966.2 1686.5,980.3 1687.0,968.1 1687.5,983.8 1688.0,973.3 1688.5,982.5 1689.0,971.0 1689.5,989.2 1690.0,970.7 1690.5,983.7 1691.0,975.6 1691.5,982.5 1692.0,966.5 1692.5,989.6 1693.0,973.1 1693.5,983.6 1694.0,966.9 1694.5,985.9 1695.0,970.8 1695.5,980.3 1696.0,965.4 1696.5,984.3 1697.0,971.5 1697.5,989.0 1698.0,965.9 1698.5,986.4 1699.0,973.3 1699.5,984.8 1700.0,968.5 1700.5,983.2 1701.0,978.2 1701.5,989.4 1702.0,970.4 1702.5,986.5 1703.0,975.4 1703.5,986.4 1704.0,973.7 1704.5,988.0 1705.0,975.0 1705.5,993.8 1706.0,974.0 1706.5,992.5 1707.0,973.6 1707.5,993.6 1708.0,978.4 1708.5,986.9 1709.0,977.4 1709.5,987.0 1710.0,971.7 1710.5,987.6 1711.0,977.3 1711.5,990.6 1712.0,975.5 1712.5,986.4 1713.0,970.2 1713.5,990.8 1714.0,972.7 1714.5,992.8 1715.0,977.5 1715.5,989.0 1716.0,971.1 1716.5,989.6 1717.0,974.9 1717.5,987.9 1718.0,976.3 1718.5,989.7 1719.0,973.4 1719.5,986.1 1720.0,974.5 1720.5,985.0 1721.0,974.4 1721.5,991.5 1722.0,971.8 1722.5,986.4 1723.0,967.5 1723.5,984.4 1724.0,971.8 1724.5,987.8 1725.0,969.1 1725.5,984.0 1726.0,968.1 1726.5,990.0 1727.0,973.4 1727.5,987.4 1728.0,968.4 1728.5,988.4 1729.0,973.8 1729.5,983.3 1730.0,971.6 1730.5,987.3 1731.0,971.0 1731.5,983.6 1732.0,967.4 1732.5,986.4 1733.0,970.0 1733.5,983.4 1734.0,970.5 1734.5,979.7 1735.0,970.8 1735.5,983.9 1736.0,967.4 1736.5,978.6 1737.0,971.0 1737.5,982.9 1738.0,970.5 1738.5,983.4 1739.0,972.4 1739.5,983.6 1740.0,972.4 1740.5,988.3 1741.0,971.7 1741.5,985.9 1742.0,973.6 1742.5,982.0 1743.0,969.0 1743.5,988.7 1744.0,975.8 1744.5,983.8 1745.0,975.0 1745.5,985.7 1746.0,968.8 1746.5,991.0 1747.0,969.2 1747.5,987.2 1748.0,975.6 1748.5,984.6 1749.0,968.1 1749.5,983.6 1750.0,971.4 1750.5,983.7 1751.0,973.4 1751.5,984.8 1752.0,970.5 1752.5,989.8 1753.0,970.7 1753.5,984.0 1754.0,971.2 1754.5,982.8 1755.0,966.2 1755.5,988.3 1756.0,972.3 1756.5,985.8 1757.0,973.8 1757.5,990.1 1758.0,973.3 1758.5,986.5 1759.0,972.9 1759.5,984.9 1760.0,974.4 1760.5,986.1 1761.0,972.7 1761.5,987.8 1762.0,976.5 1762.5,985.9 1763.0,971.6 1763.5,992.4 1764.0,973.6 1764.5,989.1 1765.0,976.4 1765.5,989.1 1766.0,973.8 1766.5,989.1 1767.0,978.2 1767.5,991.2 1768.0,971.3 1768.5,990.2 1769.0,975.8 1769.5,989.4 1770.0,976.7 1770.5,990.0 1771.0,978.2 1771.5,990.0 1772.0,980.4 1772.5,995.7 1773.0,978.4 1773.5,993.0 1774.0,976.9 1774.5,994.4 1775.0,978.2 1775.5,987.3 1776.0,975.5 1776.5,990.1 1777.0,975.0 1777.5,992.5 1778.0,970.8 1778.5,989.9 1779.0,973.5 1779.5,987.4 1780.0,973.0 1780.5,988.1 1781.0,970.9 1781.5,983.4 1782.0,974.8 1782.5,990.0 1783.0,974.4 1783.5,987.0 1784.0,974.6 1784.5,983.6 1785.0,973.3 1785.5,989.7 1786.0,969.1 1786.5,984.1 1787.0,972.3 1787.5,983.7 1788.0,972.4 1788.5,983.2 1789.0,971.7 1789.5,987.9 1790.0,974.3 1790.5,984.6 1791.0,970.6 1791.5,987.9 1792.0,974.0 1792.5,983.9 1793.0,973.0 1793.5,987.5 1794.0,972.0 1794.5,986.2 1795.0,972.9 1795.5,985.5 1796.0,975.5 1796.5,986.4 1797.0,974.8 1797.5,989.6 1798.0,976.6 1798.5,989.1 1799.0,974.2 1799.5,993.0 1800.0,973.0 1800.5,990.0 1801.0,970.4 1801.5,993.6 1802.0,973.6 1802.5,987.2 1803.0,976.5 1803.5,986.5 1804.0,975.9 1804.5,992.7 1805.0,980.1 1805.5,989.5 1806.0,974.4 1806.5,988.2 1807.0,972.6 1807.5,991.1 1808.0,975.2 1808.5,991.7 1809.0,974.3 1809.5,986.4 1810.0,978.6 1810.5,988.7 1811.0,976.8 1811.5,990.7 1812.0,974.7 1812.5,985.0 1813.0,967.1 1813.5,984.7 1814.0,972.6 1814.5,989.6 1815.0,964.9 1815.5,983.7 1816.0,973.4 1816.5,988.2 1817.0,971.4 1817.5,979.5 1818.0,965.9 1818.5,979.6 1819.0,971.0 1819.5,980.2 1820.0,968.3 1820.5,988.0 1821.0,964.9 1821.5,989.7 1822.0,970.6 1822.5,990.2 1823.0,968.0 1823.5,988.1 1824.0,974.1 1824.5,992.3 1825.0,974.5 1825.5,986.2 1826.0,970.8 1826.5,989.1 1827.0,975.6 1827.5,986.9 1828.0,976.3 1828.5,990.0 1829.0,976.3 1829.5,986.7 1830.0,970.7 1830.5,985.9 1831.0,973.7 1831.5,990.9 1832.0,974.7 1832.5,994.5 1833.0,975.8 1833.5,986.0 1834.0,975.3 1834.5,988.5 1835.0,974.8 1835.5,988.7 1836.0,974.3 1836.5,991.5 1837.0,975.5 1837.5,987.8 1838.0,977.6 1838.5,993.7 1839.0,976.6 1839.5,994.6 1840.0,978.9 1840.5,992.8 1841.0,977.4 1841.5,989.8 1842.0,979.1 1842.5,990.0 1843.0,979.3 1843.5,989.8 1844.0,973.3 1844.5,988.0 1845.0,978.2 1845.5,992.4 1846.0,977.6 1846.5,989.0 1847.0,975.9 1847.5,990.5 1848.0,974.0 1848.5,990.6 1849.0,971.8 1849.5,994.6 1850.0,973.3 1850.5,992.6 1851.0,975.4 1851.5,986.1 1852.0,973.1 1852.5,985.4 1853.0,973.9 1853.5,984.5 1854.0,975.7 1854.5,989.8 1855.0,972.1 1855.5,988.9 1856.0,974.5 1856.5,989.7 1857.0,971.4 1857.5,987.7 1858.0,974.8 1858.5,986.3 1859.0,975.4 1859.5,991.9 1860.0,969.8 1860.5,991.2 1861.0,978.9 1861.5,985.0 1862.0,972.7 1862.5,988.9 1863.0,976.0 1863.5,990.0 1864.0,971.6 1864.5,993.5 1865.0,972.1 1865.5,988.4 1866.0,975.0 1866.5,994.1 1867.0,977.7 1867.5,987.2 1868.0,976.4 1868.5,990.4 1869.0,972.8 1869.5,987.8 1870.0,974.3 1870.5,987.1 1871.0,977.7 1871.5,989.0 1872.0,977.1 1872.5,991.3 1873.0,977.8 1873.5,988.9 1874.0,977.9 1874.5,987.8 1875.0,972.8 1875.5,988.3 1876.0,979.6 1876.5,993.4 1877.0,970.3 1877.5,992.1 1878.0,977.0 1878.5,990.3 1879.0,972.6 1879.5,992.5 1880.0,979.2 1880.5,988.3 1881.0,973.4 1881.5,988.4 1882.0,974.3 1882.5,987.0 1883.0,979.1 1883.5,984.6 1884.0,969.0 1884.5,985.7 1885.0,974.7 1885.5,985.4 1886.0,973.5 1886.5,986.0 1887.0,966.8 1887.5,984.3 1888.0,976.8 1888.5,983.2 1889.0,975.8 1889.5,988.0 1890.0,972.0 1890.5,982.9 1891.0,969.8 1891.5,989.0 1892.0,972.0 1892.5,987.8 1893.0,973.8 1893.5,984.6"/></g>
<g stroke="#ff00ff"><path class="core" d="M308.5,325.0 310.5,350.0 312.5,364.9 314.5,376.9 316.5,389.5 318.5,401.9 320.5,414.3 322.5,426.8 324.5,439.8 326.5,452.8 328.5,465.4 330.5,477.3 332.5,487.7 334.5,497.2 336.5,506.1 338.5,515.0 340.5,524.2 342.5,534.1 344.5,544.9 346.5,556.2 348.5,567.3 350.5,577.6 352.5,587.0 354.5,595.9 356.5,604.5 358.5,612.8 360.5,620.6 362.5,628.2 364.5,635.5 366.5,643.0 368.5,650.5 370.5,657.7 372.5,664.5 374.5,670.5 376.5,675.7 378.5,679.7 380.5,682.9 382.5,686.0 384.5,688.4 386.5,689.8 388.5,689.9 390.5,689.6 392.5,689.0 394.5,688.2 396.5,687.3 398.5,686.3 400.5,685.2 402.5,684.2 404.5,683.0 406.5,681.5 408.5,680.0 410.5,678.3 412.5,676.6 414.5,674.8 416.5,673.0 418.5,671.3 420.5,669.6 422.5,667.7 424.5,665.6 426.5,663.4 428.5,661.2 430.5,659.1 432.5,657.1 434.5,655.3 436.5,653.9 438.5,652.8 440.5,652.3 442.5,651.9 444.5,651.6 446.5,651.3 448.5,651.1 450.5,651.0 452.5,651.0 454.5,651.0 456.5,651.1 458.5,651.2 460.5,651.3 462.5,651.5 464.5,651.7 466.5,651.9 468.5,652.2 470.5,652.5 472.5,653.4 474.5,654.9 476.5,657.1 478.5,659.7 480.5,662.7 482.5,665.9 484.5,669.3 486.5,672.8 488.5,676.2 490.5,679.5 492.5,683.2 494.5,687.3 496.5,691.6 498.5,695.9 500.5,699.8 502.5,703.2 504.5,706.2 506.5,708.9 508.5,711.5 510.5,714.0 512.5,716.6 514.5,719.3 516.5,722.2 518.5,725.4 520.5,728.7 522.5,732.0 524.5,735.1 526.5,737.9 528.5,740.5 530.5,743.1 532.5,745.5 534.5,747.8 536.5,749.9 538.5,751.8 540.5,753.4 542.5,754.7 544.5,755.9 546.5,757.0 548.5,758.1 550.5,759.1 552.5,760.3 554.5,761.8 556.5,763.4 558.5,765.0 560.5,766.4 562.5,767.5 564.5,768.0 566.5,767.8 568.5,767.0 570.5,765.8 572.5,764.4 574.5,762.9 576.5,761.5 578.5,760.5 580.5,760.0 582.5,760.1 584.5,760.8 586.5,761.8 588.5,763.1 590.5,764.6 592.5,766.2 594.5,767.9 596.5,769.5 598.5,771.0 600.5,772.3 602.5,773.2 604.5,774.0 606.5,774.8 608.5,775.5 610.5,776.3 612.5,776.9 614.5,777.6 616.5,778.2 618.5,778.8 620.5,779.3 622.5,779.9 624.5,780.4 626.5,780.9 628.5,781.4 630.5,781.9 632.5,782.4 634.5,783.0 636.5,783.5 638.5,784.0 640.5,784.5 642.5,784.9 644.5,785.3 646.5,785.6 648.5,785.8 650.5,786.0 652.5,786.0 654.5,785.8 656.5,785.5 658.5,785.0 660.5,784.3 662.5,783.6 664.5,782.7 666.5,781.8 668.5,780.9 670.5,780.0 672.5,779.1 674.5,778.2 676.5,777.5 678.5,776.8 680.5,776.0 682.5,775.3 684.5,774.5 686.5,773.8 688.5,773.0 690.5,772.2 692.5,771.5 694.5,770.8 696.5,770.2 698.5,769.5 700.5,769.0 702.5,768.5 704.5,768.0 706.5,767.6 708.5,767.2 710.5,766.8 712.5,766.5 714.5,766.1 716.5,765.8 718.5,765.5 720.5,765.2 722.5,764.8 724.5,764.5 726.5,764.1 728.5,763.7 730.5,763.3 732.5,763.0 734.5,762.6 736.5,762.2 738.5,761.8 740.5,761.4 742.5,761.0 744.5,760.6 746.5,760.1 748.5,759.6 749.2,759.4 750.0,759.2 750.5,759.0 750.8,758.9 751.5,757.8 752.2,754.4 752.5,752.3 753.0,746.5 753.8,736.1 754.5,730.8 755.2,735.6 756.0,745.6 756.5,751.1 756.8,753.1 757.5,756.1 758.2,756.7 758.5,756.7 759.0,756.6 759.8,756.4 760.5,756.1 762.0,755.7 762.5,755.5 762.8,755.4 763.5,755.1 764.2,754.7 764.5,754.4 765.0,753.4 765.8,749.1 766.5,739.1 767.2,726.0 768.0,719.4 768.5,722.2 768.8,725.5 769.5,738.1 770.2,747.5 770.5,749.3 771.0,751.3 771.8,752.1 772.5,752.0 773.2,751.8 774.0,751.5 774.5,751.3 776.5,750.6 778.5,749.9 780.5,749.2 782.5,748.5 784.5,747.7 786.5,747.0 788.5,746.3 790.5,745.7 792.5,745.0 794.5,744.3 796.5,743.6 798.5,742.9 800.5,742.2 802.5,741.5 804.5,740.8 806.5,740.1 808.5,739.4 810.5,738.7 812.5,737.9 814.5,737.2 816.5,736.4 818.5,735.5 820.5,734.4 822.5,733.4 824.5,732.3 826.5,731.3 828.5,730.4 830.5,729.7 832.5,729.2 834.5,729.0 836.5,729.0 838.5,729.2 840.5,729.4 842.5,729.7 844.5,730.1 846.5,730.5 848.5,730.9 850.5,731.4 852.5,731.8 854.5,732.2 856.5,732.6 858.5,732.9 860.5,733.2 862.5,733.4 864.5,733.5 866.5,733.7 868.5,733.8 870.5,733.8 872.5,733.9 874.5,734.0 876.5,734.1 878.5,734.1 880.5,734.2 882.5,734.3 884.5,734.4 886.5,734.5 888.5,734.6 890.5,734.7 892.5,734.9 894.5,735.2 896.5,735.5 898.5,735.8 900.5,736.2 902.5,736.5 904.5,736.9 906.5,737.3 908.5,737.6 910.5,737.9 912.5,738.2 914.5,738.4 916.5,738.5 918.5,738.6 920.5,738.7 922.5,738.8 924.5,738.9 926.5,739.0 928.5,739.0 930.5,739.1 932.5,739.2 934.5,739.3 936.5,739.4 938.5,739.6 940.5,739.8 942.5,740.1 944.5,740.7 946.5,741.5 948.5,742.5 950.5,743.5 952.5,744.6 954.5,745.7 956.5,746.7 958.5,747.7 960.5,748.5 962.5,749.2 964.5,749.6 966.5,749.9 968.5,750.1 970.5,750.4 972.5,750.6 974.5,750.8 976.5,751.0 978.5,751.2 980.5,751.4 982.5,751.5 984.5,751.7 986.5,751.8 988.5,751.9 990.5,751.9 992.5,752.0 994.5,752.0 996.5,752.0 998.5,752.0 1000.5,752.0 1002.5,751.9 1004.5,751.9 1006.5,751.9 1008.5,751.8 1010.5,751.8 1012.5,751.7 1014.5,751.6 1016.5,751.5 1018.5,751.5 1020.5,751.4 1022.5,751.3 1024.5,751.1 1026.5,751.0 1028.5,750.8 1030.5,750.2 1032.5,749.2 1034.5,748.1 1036.5,746.7 1038.5,745.2 1040.5,743.8 1042.5,742.3 1044.5,741.0 1046.5,739.9 1048.5,739.0 1050.5,738.5 1052.5,738.4 1054.5,738.5 1055.0,738.5 1055.8,738.6 1056.5,738.6 1057.2,738.6 1058.0,738.2 1058.5,737.1 1058.8,736.3 1059.5,731.6 1060.2,725.5 1060.5,723.8 1061.0,722.5 1061.8,725.7 1062.5,732.1 1063.2,736.9 1064.0,739.1 1064.5,739.6 1064.8,739.7 1065.5,739.9 1066.2,740.1 1066.5,740.1 1067.0,740.2 1068.5,740.5 1070.5,740.9 1072.5,741.3 1074.5,741.6 1076.5,741.9 1078.5,742.2 1080.5,742.5 1082.5,742.7 1084.5,743.0 1086.5,743.2 1088.5,743.5 1090.5,743.8 1092.5,744.0 1094.5,744.3 1096.5,744.6 1098.5,744.9 1100.5,745.3 1102.5,745.6 1104.0,745.8 1104.5,745.9 1104.8,745.9 1105.5,746.0 1106.2,746.1 1106.5,746.0 1107.0,745.7 1107.8,743.9 1108.5,739.4 1109.2,733.4 1110.0,730.5 1110.5,732.0 1110.8,733.7 1111.5,740.0 1112.2,744.7 1112.5,745.7 1113.0,746.8 1113.8,747.5 1114.5,747.8 1115.2,747.9 1116.0,748.1 1116.5,748.2 1118.5,748.7 1120.5,749.3 1122.5,749.9 1124.5,750.6 1126.5,751.5 1128.5,752.6 1130.5,753.9 1132.5,755.2 1134.5,756.6 1136.5,758.1 1138.5,759.7 1140.5,761.3 1142.5,762.8 1144.5,764.4 1146.5,765.9 1148.5,767.3 1150.5,768.7 1152.5,769.9 1154.5,771.1 1156.5,772.2 1158.5,773.4 1160.5,774.5 1162.5,775.6 1164.5,776.7 1166.5,777.8 1168.5,778.9 1170.5,780.0 1172.5,781.0 1174.5,782.1 1176.5,783.1 1178.5,784.2 1180.5,785.3 1182.5,786.4 1184.5,787.5 1186.5,788.7 1188.5,789.8 1190.5,790.9 1192.5,791.9 1194.5,792.9 1196.5,793.9 1198.5,794.7 1200.5,795.5 1202.5,796.2 1204.5,796.8 1206.5,797.4 1208.5,797.9 1210.5,798.4 1212.5,798.9 1214.5,799.4 1216.5,799.9 1218.5,800.3 1220.5,800.8 1222.5,801.2 1224.5,801.6 1226.5,802.0 1228.5,802.4 1230.5,802.8 1232.5,803.2 1234.5,803.6 1236.5,804.0 1238.5,804.4 1240.5,804.8 1242.5,805.2 1244.5,805.6 1246.5,806.1 1248.5,806.5 1250.5,806.9 1252.5,807.4 1254.5,807.8 1256.5,808.2 1258.5,808.6 1260.5,809.0 1262.5,809.4 1264.5,809.8 1266.5,810.2 1268.5,810.6 1270.5,810.9 1272.5,811.3 1274.5,811.6 1276.5,811.9 1278.5,812.2 1280.5,812.5 1282.5,812.8 1284.5,813.1 1286.5,813.3 1288.5,813.6 1290.5,813.8 1292.5,814.1 1294.5,814.3 1296.5,814.6 1298.5,814.8 1300.5,815.1 1302.5,815.3 1304.5,815.5 1306.5,815.8 1308.5,816.0 1310.5,816.2 1312.5,816.4 1314.5,816.7 1316.5,816.9 1318.5,817.1 1320.5,817.3 1322.5,817.5 1324.5,817.7 1326.5,817.9 1328.5,818.1 1330.5,818.3 1330.6,818.4 1331.3,818.4 1332.1,818.5 1332.5,818.5 1332.8,818.5 1333.6,817.8 1334.3,815.2 1334.5,814.3 1335.1,809.0 1335.8,800.7 1336.5,796.6 1336.6,796.5 1337.3,800.8 1338.1,809.3 1338.5,813.2 1338.8,815.7 1339.6,818.5 1340.3,819.2 1340.5,819.3 1341.1,819.4 1341.8,819.5 1342.5,819.6 1342.6,819.6 1344.5,819.8 1346.5,820.0 1348.5,820.2 1350.5,820.4 1352.5,820.6 1354.5,820.9 1356.5,821.1 1358.5,821.3 1360.5,821.5 1362.5,821.7 1364.5,822.0 1366.5,822.2 1368.5,822.4 1370.5,822.7 1372.5,822.9 1374.5,823.2 1376.5,823.5 1378.5,823.7 1380.5,824.0 1382.5,824.3 1384.5,824.6 1386.5,824.9 1388.5,825.2 1390.5,825.5 1392.5,825.8 1394.5,826.1 1396.5,826.4 1398.5,826.8 1400.5,827.1 1402.5,827.4 1404.5,827.7 1406.5,828.1 1408.5,828.4 1410.5,828.7 1412.5,829.0 1414.5,829.4 1416.5,829.7 1418.5,830.0 1420.5,830.3 1422.5,830.6 1424.5,830.9 1426.5,831.2 1428.5,831.5 1430.5,831.8 1432.5,832.0 1434.5,832.3 1436.5,832.5 1438.5,832.8 1440.5,833.0 1442.5,833.2 1444.5,833.5 1446.5,833.6 1448.5,833.8 1450.5,834.0 1452.5,834.2 1454.5,834.4 1456.5,834.6 1458.5,834.7 1460.5,834.9 1462.5,835.1 1464.5,835.2 1466.5,835.4 1468.5,835.5 1470.5,835.7 1472.5,835.8 1474.5,836.0 1476.5,836.1 1478.5,836.3 1480.5,836.4 1482.5,836.6 1484.5,836.7 1486.5,836.8 1488.5,837.0 1490.5,837.1 1492.5,837.2 1494.5,837.4 1496.5,837.5 1498.5,837.6 1500.5,837.8 1502.5,837.9 1504.5,838.0 1506.5,838.1 1508.5,838.3 1510.5,838.4 1512.5,838.5 1514.5,838.7 1516.5,838.8 1518.5,838.9 1520.5,839.1 1522.5,839.2 1524.5,839.3 1526.5,839.5 1528.5,839.6 1530.5,839.8 1532.5,839.9 1534.5,840.0 1536.5,840.2 1538.5,840.3 1540.5,840.5 1542.5,840.6 1544.5,840.8 1546.5,840.9 1548.5,841.1 1550.5,841.2 1552.5,841.3 1554.5,841.5 1556.5,841.6 1558.5,841.7 1560.5,841.9 1562.5,842.0 1564.5,842.1 1566.5,842.3 1568.5,842.4 1570.5,842.5 1572.5,842.6 1574.5,842.7 1576.5,842.8 1578.5,842.9 1580.5,843.0 1582.5,843.1 1584.5,843.2 1586.5,843.3 1588.5,843.4 1590.5,843.4 1592.5,843.5 1594.5,843.6 1596.5,843.6 1598.5,843.7 1600.5,843.7 1602.5,843.8 1604.5,843.8 1606.5,843.9 1608.5,843.9 1610.5,843.9 1612.5,844.0 1614.5,844.0 1616.5,844.1 1618.5,844.1 1620.5,844.1 1622.5,844.2 1624.5,844.2 1626.5,844.2 1628.5,844.3 1630.5,844.3 1632.5,844.3 1634.5,844.4 1636.5,844.4 1638.5,844.4 1640.5,844.5 1642.5,844.5 1644.5,844.5 1646.5,844.6 1648.5,844.6 1650.5,844.6 1652.5,844.7 1654.5,844.7 1656.5,844.8 1658.5,844.8 1660.5,844.9 1662.5,844.9 1664.5,845.0 1666.5,845.0 1668.5,845.1 1670.5,845.1 1672.5,845.2 1674.5,845.3 1676.5,845.4 1678.5,845.5 1680.5,845.6 1682.5,845.7 1684.5,845.8 1686.5,845.9 1688.5,846.0 1690.5,846.1 1692.5,846.2 1694.5,846.3 1696.5,846.4 1698.5,846.5 1700.5,846.6 1702.5,846.7 1704.5,846.9 1706.5,847.0 1708.5,847.1 1710.5,847.2 1712.5,847.3 1714.5,847.4 1716.5,847.5 1718.5,847.5 1720.5,847.6 1722.5,847.7 1724.5,847.8 1726.5,847.8 1728.5,847.9 1730.5,847.9 1732.5,847.9 1734.5,848.0 1736.5,848.0 1738.5,848.0 1740.5,848.0 1742.5,848.0 1744.5,848.0 1746.5,848.0 1748.5,848.0 1750.5,847.9 1752.5,847.9 1754.5,847.9 1756.5,847.9 1758.5,847.8 1760.5,847.8 1762.5,847.8 1764.5,847.7 1766.5,847.7 1768.5,847.7 1770.5,847.6 1772.5,847.6 1774.5,847.6 1776.5,847.5 1778.5,847.5 1780.5,847.4 1782.5,847.4 1784.5,847.4 1786.5,847.3 1788.5,847.3 1790.5,847.3 1792.5,847.2 1794.5,847.2 1796.5,847.2 1798.5,847.1 1800.5,847.1 1802.5,847.1 1804.5,847.1 1806.5,847.0 1808.5,847.0 1810.5,847.0 1812.5,847.0 1814.5,847.0 1816.5,847.0 1818.5,847.0 1820.5,847.0 1822.5,847.0 1824.5,847.0 1826.5,846.9 1828.5,846.9 1830.5,846.9 1832.5,846.9 1834.5,846.9 1836.5,846.9 1838.5,846.9 1840.5,846.9 1842.5,846.9 1844.5,846.9 1846.5,846.9 1848.5,846.9 1850.5,846.9 1852.5,846.9 1854.5,846.9 1856.5,846.9 1858.5,846.8 1860.5,846.8 1862.5,846.8 1864.5,846.8 1866.5,846.8 1868.5,846.8 1870.5,846.8 1872.5,846.8 1874.5,846.8 1876.5,846.8 1878.5,846.8 1880.5,846.8 1882.5,846.8 1884.5,846.8 1886.5,846.8 1888.5,846.8 1890.5,846.8 1892.5,846.8"/>
<path class="trace" d="M308.5,325.0 309.0,325.0 309.5,355.3 310.0,325.0 310.5,365.0 311.0,339.6 311.5,365.0 312.0,345.6 312.5,379.4 313.0,347.4 313.5,379.4 314.0,359.6 314.5,392.7 315.0,352.0 315.5,396.9 316.0,376.0 316.5,400.9 317.0,379.5 317.5,423.2 318.0,386.7 318.5,411.3 319.0,387.8 319.5,431.0 320.0,397.8 320.5,424.2 321.0,407.3 321.5,430.7 322.0,411.5 322.5,437.9 323.0,423.7 323.5,445.8 324.0,422.9 324.5,445.2 325.0,428.4 325.5,458.1 326.0,437.4 326.5,463.4 327.0,441.8 327.5,466.6 328.0,438.2 328.5,479.2 329.0,442.0 329.5,479.1 330.0,458.5 330.5,485.2 331.0,453.9 331.5,492.1 332.0,464.8 332.5,501.8 333.0,480.8 333.5,503.3 334.0,471.3 334.5,508.5 335.0,480.2 335.5,506.6 336.0,480.3 336.5,515.4 337.0,488.9 337.5,517.0 338.0,505.8 338.5,531.1 339.0,501.7 339.5,525.9 340.0,503.9 340.5,537.9 341.0,512.9 341.5,535.6 342.0,513.2 342.5,544.1 343.0,518.9 343.5,556.3 344.0,523.9 344.5,559.2 345.0,533.2 345.5,556.1 346.0,538.4 346.5,563.4 347.0,547.1 347.5,566.9 348.0,537.8 348.5,588.8 349.0,552.3 349.5,586.2 350.0,551.6 350.5,589.2 351.0,553.3 351.5,594.1 352.0,562.0 352.5,598.1 353.0,569.7 353.5,602.3 354.0,576.0 354.5,604.0 355.0,590.4 355.5,607.8 356.0,594.0 356.5,625.0 357.0,597.6 357.5,618.6 358.0,599.7 358.5,622.2 359.0,593.1 359.5,625.7 360.0,602.6 360.5,627.9 361.0,614.4 361.5,630.3 362.0,614.4 362.5,633.8 363.0,611.4 363.5,636.9 364.0,615.9 364.5,643.6 365.0,623.7 365.5,651.8 366.0,618.0 366.5,659.6 367.0,636.8 367.5,666.2 368.0,639.3 368.5,668.8 369.0,643.8 369.5,672.7 370.0,647.1 370.5,681.2 371.0,653.7 371.5,684.5 372.0,656.9 372.5,691.3 373.0,658.1 373.5,689.1 374.0,665.4 374.5,694.4 375.0,669.3 375.5,696.5 376.0,673.2 376.5,686.3 377.0,667.4 377.5,694.1 378.0,671.8 378.5,691.4 379.0,670.6 379.5,695.5 380.0,667.5 380.5,699.0 381.0,677.4 381.5,694.4 382.0,670.6 382.5,689.0 383.0,669.8 383.5,699.8 384.0,682.4 384.5,698.2 385.0,684.1 385.5,699.3 386.0,673.2 386.5,696.5 387.0,681.2 387.5,697.7 388.0,681.8 388.5,698.3 389.0,682.0 389.5,701.3 390.0,684.8 390.5,700.4 391.0,683.2 391.5,698.0 392.0,678.8 392.5,704.9 393.0,680.2 393.5,700.6 394.0,671.9 394.5,701.2 395.0,673.5 395.5,699.8 396.0,686.3 396.5,697.7 397.0,678.1 397.5,697.6 398.0,672.9 398.5,692.1 399.0,675.1 399.5,696.1 400.0,676.9 400.5,690.9 401.0,673.7 401.5,696.5 402.0,671.7 402.5,697.1 403.0,672.5 403.5,689.3 404.0,674.0 404.5,692.4 405.0,667.2 405.5,694.8 406.0,674.0 406.5,691.7 407.0,672.6 407.5,684.6 408.0,667.0 408.5,692.6 409.0,672.5 409.5,692.3 410.0,668.2 410.5,697.9 411.0,665.4 411.5,685.4 412.0,666.8 412.5,683.1 413.0,671.7 413.5,687.5 414.0,668.8 414.5,684.6 415.0,662.3 415.5,686.8 416.0,667.9 416.5,687.5 417.0,661.6 417.5,686.7 418.0,654.5 418.5,687.4 419.0,665.6 419.5,681.8 420.0,662.4 420.5,678.8 421.0,654.5 421.5,679.1 422.0,661.1 422.5,678.3 423.0,662.4 423.5,680.4 424.0,666.4 424.5,678.9 425.0,661.3 425.5,685.7 426.0,658.1 426.5,682.3 427.0,658.3 427.5,677.6 428.0,647.2 428.5,671.3 429.0,646.3 429.5,671.8 430.0,652.3 430.5,667.7 431.0,642.8 431.5,663.7 432.0,654.6 432.5,659.6 433.0,642.3 433.5,663.4 434.0,644.2 434.5,661.7 435.0,633.5 435.5,666.1 436.0,642.2 436.5,656.3 437.0,636.3 437.5,658.0 438.0,639.5 438.5,657.2 439.0,632.7 439.5,654.8 440.0,638.3 440.5,662.1 441.0,636.4 441.5,655.0 442.0,640.5 442.5,654.4 443.0,635.3 443.5,654.5 444.0,644.8 444.5,655.7 445.0,635.2 445.5,659.6 446.0,644.6 446.5,665.4 447.0,639.0 447.5,658.2 448.0,641.7 448.5,659.2 449.0,644.0 449.5,661.2 450.0,640.7 450.5,662.4 451.0,640.6 451.5,664.4 452.0,641.0 452.5,654.0 453.0,643.1 453.5,654.7 454.0,643.1 454.5,653.8 455.0,640.0 455.5,664.1 456.0,636.6 456.5,658.0 457.0,638.5 457.5,659.2 458.0,641.8 458.5,659.8 459.0,639.8 459.5,669.1 460.0,637.5 460.5,654.9 461.0,639.0 461.5,657.2 462.0,642.2 462.5,661.8 463.0,632.9 463.5,655.3 464.0,645.0 464.5,665.5 465.0,637.7 465.5,665.6 466.0,639.4 466.5,658.8 467.0,640.3 467.5,666.1 468.0,643.3 468.5,666.9 469.0,645.4 469.5,658.8 470.0,646.0 470.5,666.9 471.0,644.9 471.5,667.4 472.0,651.8 472.5,664.0 473.0,650.2 473.5,664.6 474.0,649.9 474.5,671.3 475.0,644.0 475.5,667.2 476.0,650.2 476.5,669.3 477.0,645.4 477.5,676.6 478.0,648.6 478.5,674.3 479.0,649.6 479.5,673.1 480.0,655.4 480.5,673.5 481.0,654.5 481.5,675.1 482.0,657.5 482.5,680.2 483.0,658.7 483.5,678.7 484.0,657.2 484.5,680.5 485.0,658.5 485.5,686.2 486.0,655.8 486.5,683.4 487.0,661.5 487.5,683.7 488.0,669.0 488.5,690.3 489.0,663.6 489.5,684.5 490.0,666.4 490.5,697.7 491.0,674.0 491.5,695.8 492.0,676.5 492.5,695.0 493.0,679.1 493.5,696.7 494.0,679.7 494.5,697.9 495.0,676.5 495.5,702.4 496.0,686.4 496.5,699.7 497.0,688.5 497.5,702.4 498.0,678.5 498.5,708.6 499.0,688.1 499.5,710.6 500.0,684.6 500.5,706.6 501.0,693.4 501.5,711.7 502.0,692.7 502.5,705.7 503.0,684.4 503.5,705.1 504.0,692.7 504.5,709.3 505.0,686.7 505.5,712.0 506.0,700.1 506.5,715.4 507.0,699.6 507.5,716.6 508.0,702.0 508.5,718.2 509.0,704.5 509.5,721.5 510.0,702.5 510.5,722.2 511.0,706.9 511.5,726.1 512.0,707.8 512.5,721.9 513.0,705.5 513.5,730.0 514.0,706.4 514.5,732.3 515.0,707.4 515.5,728.4 516.0,707.5 516.5,728.3 517.0,706.5 517.5,729.9 518.0,704.6 518.5,734.1 519.0,713.4 519.5,726.2 520.0,715.2 520.5,736.1 521.0,714.1 521.5,734.9 522.0,718.5 522.5,747.4 523.0,718.7 523.5,740.2 524.0,729.7 524.5,753.4 525.0,727.6 525.5,746.0 526.0,721.0 526.5,755.6 527.0,730.8 527.5,749.3 528.0,736.2 528.5,754.8 529.0,736.3 529.5,756.1 530.0,725.9 530.5,752.5 531.0,738.6 531.5,766.1 532.0,730.5 532.5,757.4 533.0,735.1 533.5,752.2 534.0,739.4 534.5,765.4 535.0,733.9 535.5,754.4 536.0,736.6 536.5,763.4 537.0,745.4 537.5,760.4 538.0,735.9 538.5,761.3 539.0,742.5 539.5,756.1 540.0,739.0 540.5,762.1 541.0,750.6 541.5,759.0 542.0,746.8 542.5,764.6 543.0,741.4 543.5,761.9 544.0,746.2 544.5,761.6 545.0,739.6 545.5,761.3 546.0,750.6 546.5,764.3 547.0,742.2 547.5,766.2 548.0,747.5 548.5,768.2 549.0,751.0 549.5,771.9 550.0,752.6 550.5,769.9 551.0,746.2 551.5,775.4 552.0,753.2 552.5,773.9 553.0,756.4 553.5,778.0 554.0,757.5 554.5,769.4 555.0,757.8 555.5,773.5 556.0,762.8 556.5,777.3 557.0,756.9 557.5,774.7 558.0,753.8 558.5,779.1 559.0,755.2 559.5,776.5 560.0,752.6 560.5,771.1 561.0,753.3 561.5,771.1 562.0,763.0 562.5,779.8 563.0,763.2 563.5,773.5 564.0,760.4 564.5,777.3 565.0,757.5 565.5,776.1 566.0,762.2 566.5,773.2 567.0,760.3 567.5,778.6 568.0,759.1 568.5,779.6 569.0,762.9 569.5,774.1 570.0,755.1 570.5,780.1 571.0,762.8 571.5,775.0 572.0,755.8 572.5,780.8 573.0,757.0 573.5,776.8 574.0,754.8 574.5,778.2 575.0,756.1 575.5,773.6 576.0,761.6 576.5,773.2 577.0,756.8 577.5,770.1 578.0,755.2 578.5,775.1 579.0,755.5 579.5,765.6 580.0,749.4 580.5,773.8 581.0,746.2 581.5,766.9 582.0,753.0 582.5,769.4 583.0,754.0 583.5,770.8 584.0,754.5 584.5,769.8 585.0,748.6 585.5,767.4 586.0,752.3 586.5,769.1 587.0,753.0 587.5,778.7 588.0,750.7 588.5,774.6 589.0,756.6 589.5,774.2 590.0,759.7 590.5,781.4 591.0,755.5 591.5,784.0 592.0,756.7 592.5,772.8 593.0,758.3 593.5,774.0 594.0,765.4 594.5,777.0 595.0,762.4 595.5,779.8 596.0,761.7 596.5,782.2 597.0,761.0 597.5,781.1 598.0,759.1 598.5,777.3 599.0,759.1 599.5,777.7 600.0,764.3 600.5,782.3 601.0,767.7 601.5,780.2 602.0,763.6 602.5,781.3 603.0,770.7 603.5,786.3 604.0,760.2 604.5,785.6 605.0,766.9 605.5,786.8 606.0,758.6 606.5,785.9 607.0,760.7 607.5,783.6 608.0,767.4 608.5,780.9 609.0,771.1 609.5,781.9 610.0,764.9 610.5,787.8 611.0,767.3 611.5,790.3 612.0,765.1 612.5,787.8 613.0,767.8 613.5,792.2 614.0,775.3 614.5,785.2 615.0,765.7 615.5,792.9 616.0,768.9 616.5,783.5 617.0,774.2 617.5,789.4 618.0,770.8 618.5,789.0 619.0,773.0 619.5,788.2 620.0,773.4 620.5,791.1 621.0,774.1 621.5,797.4 622.0,774.6 622.5,794.0 623.0,771.8 623.5,795.8 624.0,774.2 624.5,789.8 625.0,771.2 625.5,790.4 626.0,770.9 626.5,790.4 627.0,771.8 627.5,784.7 628.0,776.3 628.5,793.2 629.0,774.4 629.5,785.7 630.0,773.8 630.5,791.7 631.0,770.7 631.5,786.5 632.0,770.7 632.5,792.5 633.0,771.6 633.5,791.3 634.0,770.5 634.5,794.1 635.0,768.2 635.5,785.5 636.0,765.0 636.5,791.3 637.0,769.8 637.5,786.5 638.0,770.9 638.5,793.9 639.0,775.2 639.5,796.3 640.0,770.2 640.5,790.3 641.0,773.6 641.5,788.5 642.0,781.0 642.5,788.1 643.0,775.7 643.5,797.8 644.0,774.0 644.5,794.1 645.0,774.0 645.5,789.7 646.0,778.9 646.5,794.2 647.0,778.2 647.5,795.1 648.0,767.1 648.5,793.4 649.0,778.8 649.5,797.1 650.0,773.4 650.5,796.4 651.0,779.4 651.5,801.8 652.0,775.6 652.5,795.3 653.0,780.3 653.5,799.4 654.0,781.7 654.5,790.7 655.0,779.3 655.5,794.6 656.0,777.1 656.5,797.6 657.0,770.9 657.5,791.5 658.0,782.6 658.5,789.5 659.0,771.0 659.5,792.7 660.0,782.5 660.5,794.9 661.0,774.5 661.5,792.1 662.0,776.5 662.5,796.6 663.0,781.0 663.5,796.3 664.0,782.4 664.5,794.7 665.0,775.9 665.5,795.1 666.0,778.7 666.5,799.4 667.0,771.8 667.5,789.8 668.0,775.1 668.5,793.7 669.0,772.3 669.5,794.5 670.0,767.1 670.5,789.8 671.0,767.3 671.5,789.3 672.0,774.5 672.5,794.4 673.0,771.0 673.5,797.4 674.0,776.0 674.5,794.4 675.0,773.5 675.5,789.0 676.0,777.2 676.5,794.0 677.0,771.6 677.5,791.8 678.0,775.4 678.5,792.8 679.0,771.0 679.5,785.7 680.0,773.0 680.5,788.6 681.0,762.1 681.5,783.8 682.0,767.1 682.5,789.0 683.0,764.0 683.5,785.2 684.0,765.7 684.5,780.8 685.0,770.1 685.5,782.2 686.0,760.8 686.5,784.6 687.0,764.1 687.5,779.6 688.0,765.2 688.5,783.6 689.0,763.2 689.5,779.8 690.0,762.4 690.5,777.2 691.0,755.3 691.5,781.2 692.0,767.5 692.5,783.6 693.0,767.4 693.5,778.2 694.0,761.4 694.5,775.6 695.0,765.7 695.5,783.7 696.0,754.4 696.5,780.5 697.0,763.6 697.5,777.5 698.0,763.9 698.5,773.2 699.0,753.5 699.5,776.9 700.0,758.6 700.5,781.8 701.0,758.9 701.5,781.0 702.0,760.2 702.5,780.0 703.0,757.8 703.5,779.9 704.0,758.0 704.5,783.8 705.0,759.4 705.5,777.6 706.0,758.3 706.5,777.8 707.0,760.5 707.5,779.6 708.0,757.2 708.5,774.1 709.0,757.9 709.5,775.5 710.0,755.7 710.5,778.7 711.0,761.2 711.5,780.4 712.0,751.9 712.5,774.9 713.0,754.9 713.5,768.4 714.0,762.6 714.5,773.5 715.0,752.0 715.5,771.4 716.0,755.9 716.5,774.4 717.0,758.4 717.5,769.7 718.0,749.6 718.5,777.7 719.0,750.2 719.5,771.9 720.0,747.8 720.5,765.6 721.0,755.7 721.5,767.9 722.0,753.6 722.5,773.7 723.0,748.3 723.5,774.0 724.0,753.8 724.5,769.9 725.0,752.4 725.5,772.2 726.0,756.9 726.5,772.5 727.0,756.9 727.5,770.8 728.0,754.5 728.5,773.8 729.0,754.3 729.5,775.3 730.0,755.0 730.5,772.9 731.0,756.5 731.5,774.2 732.0,752.4 732.5,770.9 733.0,755.5 733.5,771.5 734.0,756.1 734.5,783.9 735.0,752.9 735.5,770.3 736.0,747.6 736.5,773.0 737.0,755.9 737.5,771.4 738.0,751.5 738.5,768.3 739.0,745.8 739.5,777.6 740.0,752.7 740.5,766.0 741.0,748.6 741.5,771.7 742.0,748.5 742.5,766.9 743.0,754.7 743.5,766.7 744.0,752.4 744.5,774.8 745.0,753.0 745.5,764.1 746.0,746.7 746.5,761.7 747.0,753.1 747.5,765.6 748.0,744.6 748.5,762.6 749.0,741.5 749.5,761.5 750.0,748.7 750.5,755.5 751.0,746.3 751.5,763.4 752.0,743.8 752.5,763.7 753.0,735.5 753.5,730.8 754.0,729.0 754.5,727.2 755.0,728.6 755.5,730.4 756.0,734.6 756.5,761.4 757.0,747.3 757.5,763.1 758.0,749.0 758.5,763.3 759.0,750.8 759.5,769.9 760.0,748.4 760.5,762.3 761.0,747.7 761.5,769.4 762.0,746.3 762.5,756.1 763.0,753.2 763.5,751.7 764.0,749.7 764.5,761.8 765.0,746.6 765.5,737.4 766.0,750.9 766.5,725.6 767.0,720.7 767.5,717.5 768.0,716.3 768.5,717.3 769.0,719.3 769.5,724.9 770.0,749.0 770.5,761.8 771.0,746.4 771.5,744.2 772.0,737.9 772.5,748.3 773.0,740.8 773.5,751.6 774.0,740.0 774.5,762.4 775.0,741.0 775.5,758.4 776.0,744.0 776.5,762.1 777.0,739.4 777.5,754.7 778.0,734.8 778.5,759.8 779.0,738.6 779.5,761.0 780.0,733.0 780.5,756.0 781.0,735.0 781.5,756.1 782.0,730.2 782.5,749.6 783.0,731.1 783.5,758.2 784.0,728.7 784.5,752.4 785.0,733.0 785.5,754.6 786.0,727.2 786.5,747.2 787.0,730.0 787.5,750.2 788.0,730.7 788.5,750.4 789.0,722.8 789.5,754.2 790.0,734.6 790.5,749.3 791.0,727.8 791.5,747.4 792.0,725.4 792.5,744.6 793.0,734.2 793.5,750.3 794.0,730.7 794.5,745.6 795.0,732.2 795.5,745.0 796.0,729.5 796.5,744.2 797.0,726.8 797.5,749.3 798.0,727.2 798.5,744.7 799.0,728.0 799.5,749.4 800.0,724.8 800.5,746.9 801.0,728.9 801.5,742.8 802.0,726.8 802.5,745.8 803.0,720.7 803.5,740.9 804.0,729.2 804.5,746.1 805.0,726.3 805.5,744.2 806.0,729.6 806.5,744.5 807.0,725.7 807.5,749.4 808.0,727.2 808.5,744.3 809.0,726.9 809.5,740.0 810.0,725.8 810.5,740.4 811.0,731.9 811.5,743.2 812.0,729.7 812.5,741.8 813.0,722.3 813.5,745.0 814.0,722.3 814.5,743.7 815.0,731.0 815.5,746.5 816.0,722.2 816.5,744.6 817.0,724.9 817.5,749.3 818.0,719.6 818.5,745.8 819.0,724.7 819.5,742.9 820.0,723.0 820.5,745.1 821.0,721.7 821.5,745.3 822.0,716.9 822.5,735.8 823.0,717.9 823.5,736.1 824.0,720.7 824.5,746.0 825.0,718.6 825.5,740.5 826.0,712.9 826.5,733.4 827.0,718.7 827.5,738.9 828.0,720.1 828.5,733.3 829.0,714.3 829.5,730.4 830.0,716.5 830.5,736.4 831.0,720.2 831.5,736.1 832.0,720.5 832.5,732.1 833.0,715.1 833.5,736.7 834.0,716.0 834.5,729.6 835.0,714.8 835.5,735.9 836.0,711.1 836.5,732.1 837.0,712.9 837.5,739.9 838.0,711.8 838.5,735.0 839.0,718.1 839.5,741.2 840.0,722.2 840.5,733.6 841.0,718.6 841.5,734.8 842.0,717.2 842.5,734.5 843.0,720.2 843.5,737.4 844.0,719.4 844.5,737.7 845.0,720.6 845.5,737.6 846.0,719.4 846.5,735.3 847.0,725.5 847.5,738.4 848.0,722.3 848.5,745.1 849.0,719.0 849.5,733.6 850.0,715.6 850.5,741.8 851.0,719.2 851.5,742.4 852.0,715.8 852.5,741.9 853.0,719.8 853.5,737.3 854.0,722.1 854.5,740.3 855.0,719.1 855.5,740.8 856.0,723.8 856.5,739.3 857.0,721.8 857.5,740.2 858.0,718.1 858.5,739.1 859.0,725.0 859.5,741.0 860.0,725.1 860.5,746.1 861.0,720.3 861.5,751.2 862.0,723.4 862.5,749.0 863.0,722.6 863.5,745.7 864.0,724.4 864.5,739.9 865.0,724.4 865.5,738.6 866.0,722.2 866.5,740.7 867.0,717.8 867.5,744.7 868.0,723.9 868.5,748.0 869.0,720.9 869.5,738.4 870.0,724.1 870.5,739.2 871.0,721.5 871.5,737.6 872.0,718.9 872.5,738.9 873.0,721.4 873.5,745.9 874.0,717.3 874.5,742.6 875.0,720.1 875.5,738.9 876.0,719.0 876.5,736.4 877.0,722.5 877.5,737.8 878.0,715.0 878.5,739.1 879.0,720.9 879.5,736.6 880.0,725.6 880.5,749.5 881.0,724.4 881.5,741.3 882.0,717.2 882.5,748.3 883.0,720.4 883.5,743.7 884.0,719.2 884.5,741.7 885.0,731.0 885.5,740.1 886.0,723.7 886.5,740.0 887.0,728.6 887.5,750.8 888.0,730.1 888.5,748.1 889.0,724.9 889.5,745.2 890.0,729.7 890.5,747.6 891.0,726.3 891.5,740.1 892.0,730.8 892.5,741.5 893.0,727.5 893.5,741.1 894.0,723.7 894.5,746.0 895.0,726.8 895.5,744.0 896.0,728.3 896.5,739.2 897.0,729.5 897.5,739.0 898.0,722.9 898.5,743.4 899.0,724.2 899.5,738.4 900.0,723.3 900.5,742.0 901.0,723.6 901.5,744.7 902.0,723.8 902.5,742.8 903.0,733.3 903.5,753.3 904.0,727.1 904.5,740.4 905.0,725.9 905.5,748.4 906.0,730.9 906.5,745.3 907.0,731.3 907.5,745.9 908.0,731.5 908.5,748.9 909.0,729.7 909.5,745.4 910.0,725.2 910.5,743.7 911.0,726.2 911.5,746.2 912.0,728.3 912.5,741.9 913.0,733.7 913.5,753.5 914.0,728.0 914.5,752.5 915.0,729.7 915.5,747.9 916.0,732.3 916.5,744.5 917.0,724.6 917.5,748.3 918.0,729.8 918.5,751.0 919.0,733.9 919.5,753.2 920.0,724.1 920.5,751.3 921.0,735.2 921.5,746.7 922.0,732.7 922.5,746.5 923.0,735.1 923.5,745.8 924.0,729.1 924.5,747.8 925.0,728.6 925.5,751.0 926.0,733.7 926.5,752.1 927.0,725.9 927.5,743.2 928.0,735.0 928.5,748.9 929.0,729.6 929.5,746.4 930.0,734.1 930.5,750.3 931.0,724.8 931.5,752.5 932.0,734.7 932.5,754.4 933.0,730.3 933.5,751.4 934.0,724.8 934.5,751.0 935.0,728.1 935.5,746.5 936.0,732.3 936.5,751.4 937.0,732.2 937.5,750.9 938.0,732.1 938.5,755.0 939.0,731.5 939.5,748.9 940.0,736.1 940.5,746.8 941.0,726.1 941.5,750.1 942.0,735.9 942.5,750.6 943.0,727.4 943.5,746.7 944.0,734.5 944.5,744.8 945.0,735.4 945.5,745.3 946.0,734.7 946.5,755.9 947.0,732.8 947.5,757.7 948.0,729.8 948.5,750.9 949.0,733.7 949.5,753.7 950.0,733.8 950.5,749.8 951.0,740.6 951.5,758.3 952.0,730.7 952.5,753.0 953.0,737.9 953.5,760.5 954.0,735.6 954.5,747.3 955.0,733.4 955.5,756.0 956.0,736.9 956.5,747.1 957.0,730.0 957.5,754.7 958.0,730.3 958.5,760.9 959.0,739.2 959.5,761.0 960.0,732.3 960.5,755.6 961.0,740.6 961.5,750.6 962.0,740.1 962.5,756.3 963.0,737.9 963.5,759.2 964.0,741.7 964.5,759.5 965.0,735.6 965.5,760.5 966.0,740.7 966.5,756.7 967.0,737.3 967.5,756.0 968.0,743.8 968.5,758.8 969.0,742.6 969.5,757.6 970.0,734.9 970.5,764.7 971.0,738.9 971.5,764.1 972.0,736.8 972.5,754.0 973.0,736.3 973.5,760.0 974.0,742.6 974.5,757.9 975.0,738.0 975.5,769.8 976.0,742.4 976.5,761.2 977.0,746.7 977.5,762.0 978.0,745.7 978.5,767.9 979.0,745.5 979.5,763.9 980.0,738.9 980.5,761.7 981.0,746.5 981.5,767.3 982.0,742.8 982.5,762.8 983.0,744.2 983.5,765.3 984.0,738.6 984.5,759.3 985.0,743.6 985.5,758.7 986.0,740.2 986.5,766.8 987.0,743.6 987.5,761.7 988.0,744.1 988.5,761.9 989.0,744.1 989.5,767.7 990.0,744.3 990.5,766.4 991.0,746.6 991.5,762.6 992.0,744.9 992.5,758.3 993.0,746.0 993.5,761.3 994.0,746.1 994.5,766.9 995.0,751.6 995.5,762.3 996.0,740.9 996.5,768.6 997.0,741.7 997.5,769.6 998.0,751.3 998.5,762.3 999.0,748.9 999.5,764.0 1000.0,746.2 1000.5,763.4 1001.0,742.2 1001.5,767.4 1002.0,748.0 1002.5,761.1 1003.0,749.8 1003.5,764.2 1004.0,743.2 1004.5,759.7 1005.0,740.6 1005.5,762.6 1006.0,752.4 1006.5,761.5 1007.0,746.9 1007.5,764.4 1008.0,744.1 1008.5,759.8 1009.0,748.7 1009.5,766.3 1010.0,742.4 1010.5,762.8 1011.0,750.3 1011.5,768.2 1012.0,739.2 1012.5,760.4 1013.0,742.2 1013.5,769.2 1014.0,748.4 1014.5,768.7 1015.0,742.4 1015.5,766.8 1016.0,744.8 1016.5,765.0 1017.0,743.1 1017.5,764.6 1018.0,739.9 1018.5,760.9 1019.0,739.0 1019.5,757.0 1020.0,743.2 1020.5,764.0 1021.0,738.1 1021.5,757.1 1022.0,742.2 1022.5,760.4 1023.0,741.7 1023.5,762.0 1024.0,744.6 1024.5,759.2 1025.0,736.7 1025.5,756.4 1026.0,742.8 1026.5,757.4 1027.0,742.3 1027.5,759.2 1028.0,745.0 1028.5,765.6 1029.0,739.6 1029.5,759.8 1030.0,745.6 1030.5,762.8 1031.0,744.7 1031.5,760.6 1032.0,745.1 1032.5,759.1 1033.0,738.0 1033.5,758.2 1034.0,737.7 1034.5,755.9 1035.0,734.3 1035.5,755.0 1036.0,741.4 1036.5,759.4 1037.0,740.6 1037.5,756.0 1038.0,736.5 1038.5,760.0 1039.0,738.3 1039.5,752.8 1040.0,737.1 1040.5,755.4 1041.0,737.2 1041.5,753.1 1042.0,736.3 1042.5,746.1 1043.0,725.8 1043.5,748.3 1044.0,721.4 1044.5,748.8 1045.0,733.8 1045.5,746.2 1046.0,725.6 1046.5,747.0 1047.0,725.6 1047.5,751.3 1048.0,733.0 1048.5,747.5 1049.0,732.3 1049.5,750.4 1050.0,736.6 1050.5,753.6 1051.0,728.3 1051.5,749.1 1052.0,730.7 1052.5,750.5 1053.0,734.0 1053.5,753.1 1054.0,730.1 1054.5,749.3 1055.0,731.9 1055.5,749.5 1056.0,728.2 1056.5,737.1 1057.0,732.4 1057.5,749.8 1058.0,726.4 1058.5,743.8 1059.0,725.5 1059.5,746.8 1060.0,720.9 1060.5,719.6 1061.0,719.2 1061.5,719.5 1062.0,721.1 1062.5,724.9 1063.0,728.0 1063.5,757.4 1064.0,730.6 1064.5,752.5 1065.0,734.9 1065.5,740.2 1066.0,725.9 1066.5,749.7 1067.0,732.8 1067.5,750.7 1068.0,728.4 1068.5,751.3 1069.0,727.7 1069.5,753.8 1070.0,729.1 1070.5,745.3 1071.0,730.6 1071.5,746.3 1072.0,732.0 1072.5,746.3 1073.0,724.5 1073.5,745.3 1074.0,727.5 1074.5,750.3 1075.0,729.6 1075.5,751.7 1076.0,729.8 1076.5,750.0 1077.0,734.2 1077.5,749.1 1078.0,731.6 1078.5,747.7 1079.0,734.0 1079.5,748.9 1080.0,734.1 1080.5,748.2 1081.0,732.3 1081.5,747.3 1082.0,735.4 1082.5,758.9 1083.0,733.6 1083.5,757.1 1084.0,734.6 1084.5,747.6 1085.0,734.6 1085.5,753.2 1086.0,736.5 1086.5,753.0 1087.0,731.4 1087.5,755.5 1088.0,733.8 1088.5,750.7 1089.0,729.1 1089.5,751.9 1090.0,736.4 1090.5,756.3 1091.0,740.4 1091.5,754.6 1092.0,734.1 1092.5,748.9 1093.0,733.2 1093.5,754.1 1094.0,733.0 1094.5,750.9 1095.0,733.7 1095.5,754.2 1096.0,728.7 1096.5,747.6 1097.0,733.1 1097.5,756.6 1098.0,732.6 1098.5,754.5 1099.0,727.7 1099.5,752.3 1100.0,732.7 1100.5,752.0 1101.0,727.1 1101.5,750.8 1102.0,734.6 1102.5,747.4 1103.0,735.4 1103.5,746.2 1104.0,730.6 1104.5,752.8 1105.0,727.7 1105.5,753.1 1106.0,734.9 1106.5,754.8 1107.0,733.9 1107.5,737.0 1108.0,729.5 1108.5,732.2 1109.0,728.9 1109.5,727.9 1110.0,727.5 1110.5,728.0 1111.0,729.8 1111.5,731.8 1112.0,735.4 1112.5,737.5 1113.0,736.9 1113.5,750.0 1114.0,736.1 1114.5,746.9 1115.0,736.8 1115.5,754.6 1116.0,742.3 1116.5,756.3 1117.0,740.1 1117.5,762.0 1118.0,741.7 1118.5,755.7 1119.0,733.1 1119.5,756.2 1120.0,735.3 1120.5,756.3 1121.0,733.5 1121.5,762.9 1122.0,732.6 1122.5,757.2 1123.0,738.0 1123.5,755.2 1124.0,740.0 1124.5,754.6 1125.0,734.7 1125.5,759.9 1126.0,737.0 1126.5,756.8 1127.0,741.1 1127.5,759.0 1128.0,735.4 1128.5,758.5 1129.0,741.8 1129.5,762.1 1130.0,737.3 1130.5,760.9 1131.0,744.1 1131.5,759.2 1132.0,744.1 1132.5,762.8 1133.0,743.1 1133.5,760.8 1134.0,745.3 1134.5,763.8 1135.0,744.2 1135.5,765.5 1136.0,741.9 1136.5,763.5 1137.0,743.2 1137.5,760.8 1138.0,748.6 1138.5,762.8 1139.0,752.4 1139.5,767.8 1140.0,746.7 1140.5,764.7 1141.0,745.1 1141.5,766.2 1142.0,743.5 1142.5,764.7 1143.0,742.2 1143.5,766.4 1144.0,752.3 1144.5,769.8 1145.0,749.4 1145.5,773.5 1146.0,746.1 1146.5,774.9 1147.0,751.1 1147.5,772.8 1148.0,754.4 1148.5,774.3 1149.0,757.3 1149.5,774.5 1150.0,758.0 1150.5,776.0 1151.0,752.9 1151.5,776.8 1152.0,764.4 1152.5,774.6 1153.0,764.8 1153.5,785.6 1154.0,756.7 1154.5,776.8 1155.0,765.5 1155.5,782.7 1156.0,764.1 1156.5,777.5 1157.0,758.9 1157.5,780.2 1158.0,764.6 1158.5,784.1 1159.0,758.5 1159.5,786.8 1160.0,766.0 1160.5,782.7 1161.0,770.7 1161.5,777.2 1162.0,763.5 1162.5,780.8 1163.0,763.3 1163.5,785.3 1164.0,769.4 1164.5,782.5 1165.0,767.7 1165.5,781.4 1166.0,762.7 1166.5,786.3 1167.0,771.7 1167.5,790.4 1168.0,771.9 1168.5,783.0 1169.0,770.9 1169.5,788.9 1170.0,775.1 1170.5,790.4 1171.0,774.3 1171.5,795.1 1172.0,774.5 1172.5,789.9 1173.0,776.4 1173.5,794.5 1174.0,773.0 1174.5,798.2 1175.0,777.5 1175.5,798.9 1176.0,781.5 1176.5,803.6 1177.0,780.0 1177.5,798.0 1178.0,780.1 1178.5,801.9 1179.0,776.3 1179.5,796.8 1180.0,776.8 1180.5,794.8 1181.0,780.1 1181.5,801.4 1182.0,779.1 1182.5,794.3 1183.0,779.9 1183.5,798.6 1184.0,779.3 1184.5,796.1 1185.0,771.1 1185.5,790.6 1186.0,781.6 1186.5,794.6 1187.0,781.6 1187.5,800.4 1188.0,781.0 1188.5,801.0 1189.0,782.7 1189.5,801.9 1190.0,780.2 1190.5,796.4 1191.0,786.8 1191.5,798.6 1192.0,781.8 1192.5,801.1 1193.0,783.4 1193.5,798.3 1194.0,787.9 1194.5,806.8 1195.0,787.4 1195.5,802.1 1196.0,786.6 1196.5,800.5 1197.0,785.7 1197.5,806.7 1198.0,789.9 1198.5,810.4 1199.0,790.0 1199.5,805.4 1200.0,788.7 1200.5,811.6 1201.0,785.6 1201.5,801.5 1202.0,790.9 1202.5,809.3 1203.0,789.3 1203.5,805.8 1204.0,790.8 1204.5,807.7 1205.0,787.2 1205.5,804.5 1206.0,788.5 1206.5,806.4 1207.0,787.9 1207.5,810.4 1208.0,794.4 1208.5,813.5 1209.0,793.6 1209.5,802.9 1210.0,792.3 1210.5,805.2 1211.0,788.3 1211.5,810.2 1212.0,791.2 1212.5,806.0 1213.0,789.3 1213.5,812.0 1214.0,788.2 1214.5,807.8 1215.0,784.8 1215.5,805.2 1216.0,793.5 1216.5,807.8 1217.0,793.7 1217.5,805.9 1218.0,789.5 1218.5,807.2 1219.0,795.2 1219.5,807.9 1220.0,794.4 1220.5,811.1 1221.0,792.5 1221.5,811.3 1222.0,788.4 1222.5,817.8 1223.0,792.0 1223.5,807.2 1224.0,794.4 1224.5,816.1 1225.0,795.7 1225.5,807.4 1226.0,792.4 1226.5,809.5 1227.0,796.6 1227.5,810.5 1228.0,794.8 1228.5,812.6 1229.0,791.3 1229.5,810.1 1230.0,793.1 1230.5,815.8 1231.0,788.8 1231.5,811.4 1232.0,792.8 1232.5,812.9 1233.0,792.8 1233.5,812.9 1234.0,792.1 1234.5,810.5 1235.0,793.1 1235.5,805.0 1236.0,795.9 1236.5,806.9 1237.0,795.8 1237.5,808.5 1238.0,798.9 1238.5,809.2 1239.0,794.6 1239.5,815.4 1240.0,802.4 1240.5,814.0 1241.0,795.0 1241.5,817.0 1242.0,802.1 1242.5,821.6 1243.0,806.8 1243.5,820.4 1244.0,803.5 1244.5,819.2 1245.0,804.3 1245.5,817.7 1246.0,800.7 1246.5,816.6 1247.0,804.5 1247.5,817.9 1248.0,805.8 1248.5,814.6 1249.0,801.4 1249.5,815.8 1250.0,799.2 1250.5,823.7 1251.0,796.2 1251.5,816.1 1252.0,794.3 1252.5,812.9 1253.0,803.0 1253.5,813.4 1254.0,798.7 1254.5,820.6 1255.0,794.0 1255.5,817.1 1256.0,801.5 1256.5,815.8 1257.0,797.8 1257.5,817.2 1258.0,801.5 1258.5,821.2 1259.0,797.8 1259.5,811.5 1260.0,797.6 1260.5,814.5 1261.0,800.6 1261.5,816.9 1262.0,802.5 1262.5,815.9 1263.0,794.7 1263.5,820.8 1264.0,795.9 1264.5,818.8 1265.0,803.6 1265.5,818.1 1266.0,803.4 1266.5,823.1 1267.0,806.7 1267.5,823.5 1268.0,805.6 1268.5,820.0 1269.0,803.3 1269.5,817.0 1270.0,801.2 1270.5,818.5 1271.0,804.4 1271.5,821.4 1272.0,800.0 1272.5,822.7 1273.0,806.1 1273.5,813.1 1274.0,796.4 1274.5,817.2 1275.0,802.2 1275.5,816.5 1276.0,795.7 1276.5,812.8 1277.0,798.9 1277.5,813.0 1278.0,799.8 1278.5,813.8 1279.0,803.4 1279.5,816.3 1280.0,801.7 1280.5,815.4 1281.0,803.9 1281.5,812.7 1282.0,801.8 1282.5,816.7 1283.0,805.6 1283.5,825.0 1284.0,807.0 1284.5,823.9 1285.0,803.1 1285.5,818.7 1286.0,807.4 1286.5,822.0 1287.0,804.3 1287.5,817.4 1288.0,807.8 1288.5,822.4 1289.0,805.9 1289.5,820.7 1290.0,805.2 1290.5,817.5 1291.0,805.3 1291.5,818.7 1292.0,803.3 1292.5,816.5 1293.0,806.3 1293.5,820.1 1294.0,805.6 1294.5,817.7 1295.0,808.2 1295.5,816.9 1296.0,800.2 1296.5,820.9 1297.0,805.4 1297.5,824.6 1298.0,807.8 1298.5,827.2 1299.0,808.3 1299.5,822.9 1300.0,804.7 1300.5,827.6 1301.0,808.5 1301.5,821.0 1302.0,808.5 1302.5,822.5 1303.0,810.0 1303.5,827.6 1304.0,805.7 1304.5,825.4 1305.0,808.7 1305.5,823.4 1306.0,811.8 1306.5,825.8 1307.0,810.8 1307.5,824.0 1308.0,805.4 1308.5,826.3 1309.0,805.3 1309.5,825.5 1310.0,811.4 1310.5,825.6 1311.0,812.2 1311.5,827.7 1312.0,813.4 1312.5,824.8 1313.0,812.6 1313.5,831.2 1314.0,814.1 1314.5,833.7 1315.0,817.1 1315.5,833.4 1316.0,814.6 1316.5,833.9 1317.0,812.5 1317.5,827.7 1318.0,815.6 1318.5,828.9 1319.0,811.5 1319.5,827.7 1320.0,808.2 1320.5,828.5 1321.0,805.1 1321.5,821.9 1322.0,806.0 1322.5,825.2 1323.0,806.5 1323.5,821.6 1324.0,802.9 1324.5,822.0 1325.0,803.8 1325.5,829.2 1326.0,806.5 1326.5,825.2 1327.0,807.5 1327.5,827.6 1328.0,809.5 1328.5,828.2 1329.0,811.3 1329.5,828.4 1330.0,807.1 1330.5,826.2 1331.0,807.1 1331.5,818.8 1332.0,812.0 1332.5,815.9 1333.0,812.6 1333.5,835.0 1334.0,807.0 1334.5,825.8 1335.0,816.4 1335.5,796.5 1336.0,794.5 1336.5,792.9 1337.0,793.8 1337.5,796.2 1338.0,798.3 1338.5,825.7 1339.0,809.6 1339.5,810.5 1340.0,808.0 1340.5,826.2 1341.0,812.9 1341.5,818.9 1342.0,813.1 1342.5,829.1 1343.0,815.4 1343.5,824.4 1344.0,808.6 1344.5,834.3 1345.0,813.2 1345.5,823.2 1346.0,810.5 1346.5,827.6 1347.0,816.6 1347.5,823.9 1348.0,814.0 1348.5,823.4 1349.0,810.0 1349.5,827.9 1350.0,805.2 1350.5,824.9 1351.0,807.0 1351.5,817.3 1352.0,801.6 1352.5,823.2 1353.0,811.2 1353.5,816.6 1354.0,806.2 1354.5,819.6 1355.0,803.4 1355.5,819.3 1356.0,811.6 1356.5,828.2 1357.0,809.1 1357.5,823.7 1358.0,811.2 1358.5,826.6 1359.0,805.6 1359.5,830.2 1360.0,807.1 1360.5,825.6 1361.0,815.2 1361.5,829.7 1362.0,808.7 1362.5,831.1 1363.0,816.2 1363.5,833.2 1364.0,819.2 1364.5,836.4 1365.0,816.0 1365.5,834.8 1366.0,816.8 1366.5,830.8 1367.0,817.6 1367.5,832.3 1368.0,819.2 1368.5,829.5 1369.0,812.7 1369.5,830.2 1370.0,815.8 1370.5,827.5 1371.0,813.8 1371.5,831.7 1372.0,816.2 1372.5,831.6 1373.0,816.9 1373.5,829.6 1374.0,816.7 1374.5,831.7 1375.0,816.0 1375.5,826.7 1376.0,817.5 1376.5,828.6 1377.0,811.4 1377.5,830.5 1378.0,808.9 1378.5,828.3 1379.0,811.7 1379.5,825.5 1380.0,817.9 1380.5,829.4 1381.0,818.0 1381.5,830.3 1382.0,816.9 1382.5,828.9 1383.0,818.7 1383.5,833.7 1384.0,817.8 1384.5,833.2 1385.0,819.0 1385.5,831.1 1386.0,819.6 1386.5,836.8 1387.0,823.2 1387.5,835.3 1388.0,821.0 1388.5,831.1 1389.0,818.6 1389.5,833.8 1390.0,820.7 1390.5,837.1 1391.0,819.3 1391.5,830.5 1392.0,818.1 1392.5,835.9 1393.0,821.4 1393.5,837.2 1394.0,817.4 1394.5,831.6 1395.0,817.3 1395.5,838.5 1396.0,820.8 1396.5,834.0 1397.0,820.2 1397.5,833.8 1398.0,818.6 1398.5,837.5 1399.0,818.2 1399.5,838.1 1400.0,816.4 1400.5,835.5 1401.0,815.3 1401.5,839.4 1402.0,819.7 1402.5,833.3 1403.0,809.9 1403.5,834.7 1404.0,817.5 1404.5,836.8 1405.0,814.2 1405.5,834.6 1406.0,816.1 1406.5,835.6 1407.0,818.0 1407.5,831.0 1408.0,815.9 1408.5,833.2 1409.0,815.8 1409.5,826.7 1410.0,822.5 1410.5,830.0 1411.0,820.9 1411.5,836.8 1412.0,821.8 1412.5,833.0 1413.0,817.2 1413.5,839.7 1414.0,822.7 1414.5,837.6 1415.0,816.0 1415.5,837.0 1416.0,814.1 1416.5,835.2 1417.0,817.6 1417.5,834.2 1418.0,823.6 1418.5,838.0 1419.0,818.7 1419.5,834.1 1420.0,823.3 1420.5,836.9 1421.0,820.6 1421.5,834.9 1422.0,817.3 1422.5,830.0 1423.0,815.1 1423.5,834.7 1424.0,820.7 1424.5,833.1 1425.0,819.6 1425.5,831.3 1426.0,817.7 1426.5,842.2 1427.0,823.4 1427.5,836.2 1428.0,822.5 1428.5,837.2 1429.0,824.3 1429.5,836.0 1430.0,824.4 1430.5,837.9 1431.0,825.6 1431.5,838.2 1432.0,823.8 1432.5,841.4 1433.0,824.7 1433.5,843.6 1434.0,825.4 1434.5,843.6 1435.0,824.4 1435.5,840.9 1436.0,828.8 1436.5,839.2 1437.0,826.9 1437.5,840.5 1438.0,821.8 1438.5,836.0 1439.0,829.2 1439.5,835.7 1440.0,829.1 1440.5,841.5 1441.0,826.2 1441.5,836.4 1442.0,827.3 1442.5,842.4 1443.0,826.1 1443.5,837.5 1444.0,826.1 1444.5,839.0 1445.0,822.2 1445.5,840.1 1446.0,825.9 1446.5,843.5 1447.0,826.6 1447.5,840.7 1448.0,819.3 1448.5,838.0 1449.0,820.6 1449.5,838.0 1450.0,828.2 1450.5,843.1 1451.0,824.0 1451.5,838.3 1452.0,829.2 1452.5,839.5 1453.0,831.6 1453.5,847.7 1454.0,828.7 1454.5,842.1 1455.0,822.9 1455.5,847.9 1456.0,821.0 1456.5,841.4 1457.0,829.7 1457.5,839.8 1458.0,826.0 1458.5,843.0 1459.0,827.4 1459.5,845.2 1460.0,827.5 1460.5,843.8 1461.0,824.7 1461.5,843.1 1462.0,827.6 1462.5,842.7 1463.0,827.4 1463.5,840.0 1464.0,827.3 1464.5,837.8 1465.0,827.6 1465.5,838.8 1466.0,822.5 1466.5,840.6 1467.0,827.5 1467.5,835.4 1468.0,828.8 1468.5,838.9 1469.0,830.5 1469.5,838.3 1470.0,827.6 1470.5,842.2 1471.0,828.6 1471.5,844.7 1472.0,826.9 1472.5,846.1 1473.0,830.1 1473.5,842.4 1474.0,829.1 1474.5,847.2 1475.0,835.4 1475.5,843.1 1476.0,830.1 1476.5,845.7 1477.0,833.1 1477.5,846.7 1478.0,831.8 1478.5,849.0 1479.0,834.6 1479.5,852.4 1480.0,831.2 1480.5,848.7 1481.0,825.0 1481.5,842.3 1482.0,832.9 1482.5,844.4 1483.0,827.7 1483.5,846.8 1484.0,831.2 1484.5,840.3 1485.0,830.5 1485.5,845.4 1486.0,825.1 1486.5,841.8 1487.0,828.5 1487.5,846.2 1488.0,831.6 1488.5,845.6 1489.0,831.2 1489.5,845.3 1490.0,830.4 1490.5,849.1 1491.0,831.3 1491.5,844.7 1492.0,831.2 1492.5,845.1 1493.0,833.4 1493.5,842.8 1494.0,830.7 1494.5,846.2 1495.0,834.1 1495.5,844.4 1496.0,832.3 1496.5,843.5 1497.0,828.6 1497.5,846.3 1498.0,833.9 1498.5,846.6 1499.0,832.4 1499.5,847.5 1500.0,830.4 1500.5,846.9 1501.0,831.7 1501.5,845.6 1502.0,832.8 1502.5,851.6 1503.0,836.5 1503.5,853.9 1504.0,837.0 1504.5,847.2 1505.0,830.7 1505.5,853.7 1506.0,834.6 1506.5,851.3 1507.0,835.2 1507.5,856.4 1508.0,834.0 1508.5,851.1 1509.0,830.6 1509.5,849.0 1510.0,837.8 1510.5,845.7 1511.0,834.8 1511.5,852.3 1512.0,834.9 1512.5,848.7 1513.0,833.1 1513.5,844.7 1514.0,830.0 1514.5,845.7 1515.0,829.8 1515.5,847.1 1516.0,828.8 1516.5,843.8 1517.0,828.6 1517.5,849.4 1518.0,835.4 1518.5,847.4 1519.0,833.8 1519.5,845.8 1520.0,831.2 1520.5,844.6 1521.0,831.5 1521.5,847.2 1522.0,830.9 1522.5,852.0 1523.0,835.1 1523.5,851.8 1524.0,834.9 1524.5,846.1 1525.0,834.1 1525.5,848.8 1526.0,837.9 1526.5,853.8 1527.0,833.1 1527.5,850.8 1528.0,836.2 1528.5,854.4 1529.0,838.9 1529.5,847.3 1530.0,834.4 1530.5,852.5 1531.0,837.3 1531.5,848.8 1532.0,837.9 1532.5,849.9 1533.0,836.8 1533.5,851.7 1534.0,832.6 1534.5,846.2 1535.0,833.9 1535.5,847.3 1536.0,827.5 1536.5,848.5 1537.0,830.0 1537.5,848.4 1538.0,835.9 1538.5,847.8 1539.0,831.0 1539.5,846.6 1540.0,829.2 1540.5,850.1 1541.0,837.1 1541.5,847.5 1542.0,834.9 1542.5,845.6 1543.0,830.3 1543.5,851.7 1544.0,835.5 1544.5,850.9 1545.0,835.5 1545.5,848.0 1546.0,830.0 1546.5,847.7 1547.0,836.2 1547.5,855.5 1548.0,834.1 1548.5,852.3 1549.0,836.1 1549.5,853.0 1550.0,834.9 1550.5,845.8 1551.0,832.5 1551.5,846.8 1552.0,832.7 1552.5,849.8 1553.0,834.5 1553.5,851.9 1554.0,837.3 1554.5,846.9 1555.0,836.2 1555.5,850.0 1556.0,834.4 1556.5,843.6 1557.0,834.7 1557.5,851.4 1558.0,832.7 1558.5,849.7 1559.0,838.6 1559.5,853.0 1560.0,833.1 1560.5,845.9 1561.0,836.2 1561.5,846.3 1562.0,834.7 1562.5,847.5 1563.0,832.5 1563.5,845.9 1564.0,833.6 1564.5,852.5 1565.0,836.4 1565.5,848.9 1566.0,832.0 1566.5,851.1 1567.0,832.0 1567.5,853.3 1568.0,834.3 1568.5,853.3 1569.0,833.6 1569.5,849.4 1570.0,836.1 1570.5,849.4 1571.0,836.0 1571.5,851.6 1572.0,834.0 1572.5,852.5 1573.0,834.6 1573.5,851.0 1574.0,837.9 1574.5,851.7 1575.0,837.7 1575.5,847.5 1576.0,836.3 1576.5,849.8 1577.0,834.7 1577.5,850.1 1578.0,831.7 1578.5,850.9 1579.0,833.3 1579.5,848.4 1580.0,835.9 1580.5,849.4 1581.0,841.9 1581.5,847.6 1582.0,835.6 1582.5,849.6 1583.0,834.7 1583.5,848.1 1584.0,831.4 1584.5,846.8 1585.0,834.6 1585.5,847.8 1586.0,835.6 1586.5,851.6 1587.0,832.7 1587.5,853.8 1588.0,836.0 1588.5,850.1 1589.0,836.0 1589.5,850.0 1590.0,834.7 1590.5,854.3 1591.0,838.1 1591.5,850.3 1592.0,831.3 1592.5,850.3 1593.0,832.7 1593.5,848.2 1594.0,837.0 1594.5,850.7 1595.0,835.9 1595.5,851.8 1596.0,839.6 1596.5,850.1 1597.0,834.3 1597.5,851.6 1598.0,839.0 1598.5,848.7 1599.0,837.9 1599.5,853.4 1600.0,840.4 1600.5,848.3 1601.0,838.2 1601.5,853.9 1602.0,834.9 1602.5,852.8 1603.0,840.3 1603.5,849.3 1604.0,838.9 1604.5,846.5 1605.0,840.7 1605.5,853.3 1606.0,838.8 1606.5,851.6 1607.0,833.3 1607.5,851.0 1608.0,836.2 1608.5,851.5 1609.0,833.1 1609.5,850.4 1610.0,838.1 1610.5,849.4 1611.0,832.1 1611.5,850.3 1612.0,834.1 1612.5,855.0 1613.0,833.9 1613.5,847.2 1614.0,832.1 1614.5,849.4 1615.0,835.7 1615.5,850.5 1616.0,837.2 1616.5,847.3 1617.0,835.6 1617.5,850.8 1618.0,830.4 1618.5,847.2 1619.0,831.5 1619.5,845.3 1620.0,836.3 1620.5,846.1 1621.0,836.0 1621.5,846.4 1622.0,832.2 1622.5,846.9 1623.0,832.5 1623.5,852.3 1624.0,833.5 1624.5,855.6 1625.0,839.2 1625.5,849.7 1626.0,837.7 1626.5,850.9 1627.0,836.4 1627.5,847.8 1628.0,831.5 1628.5,849.4 1629.0,832.4 1629.5,845.3 1630.0,839.7 1630.5,853.5 1631.0,834.2 1631.5,846.8 1632.0,834.7 1632.5,845.1 1633.0,832.8 1633.5,850.2 1634.0,831.6 1634.5,846.0 1635.0,831.0 1635.5,850.7 1636.0,835.3 1636.5,852.4 1637.0,829.9 1637.5,853.0 1638.0,836.0 1638.5,854.3 1639.0,839.5 1639.5,853.9 1640.0,836.4 1640.5,857.6 1641.0,839.8 1641.5,849.4 1642.0,838.3 1642.5,851.6 1643.0,837.7 1643.5,851.0 1644.0,839.8 1644.5,850.9 1645.0,836.6 1645.5,852.1 1646.0,838.6 1646.5,849.8 1647.0,838.2 1647.5,853.4 1648.0,838.6 1648.5,852.4 1649.0,836.6 1649.5,851.8 1650.0,838.6 1650.5,853.1 1651.0,840.3 1651.5,853.8 1652.0,839.5 1652.5,850.6 1653.0,840.4 1653.5,852.4 1654.0,840.2 1654.5,848.7 1655.0,834.1 1655.5,851.6 1656.0,838.3 1656.5,852.6 1657.0,840.6 1657.5,852.6 1658.0,835.1 1658.5,856.5 1659.0,838.6 1659.5,852.0 1660.0,836.5 1660.5,849.5 1661.0,836.8 1661.5,851.6 1662.0,841.5 1662.5,849.5 1663.0,837.6 1663.5,850.8 1664.0,838.0 1664.5,848.5 1665.0,836.4 1665.5,851.6 1666.0,841.0 1666.5,854.1 1667.0,840.0 1667.5,855.6 1668.0,842.2 1668.5,851.6 1669.0,842.0 1669.5,854.4 1670.0,839.9 1670.5,860.9 1671.0,840.6 1671.5,852.6 1672.0,842.0 1672.5,855.2 1673.0,839.1 1673.5,858.7 1674.0,839.4 1674.5,856.6 1675.0,840.3 1675.5,853.7 1676.0,843.5 1676.5,852.8 1677.0,839.4 1677.5,854.7 1678.0,843.9 1678.5,855.4 1679.0,842.6 1679.5,860.6 1680.0,839.3 1680.5,858.5 1681.0,846.9 1681.5,855.0 1682.0,842.0 1682.5,852.7 1683.0,842.4 1683.5,858.6 1684.0,844.5 1684.5,854.7 1685.0,842.7 1685.5,858.5 1686.0,842.0 1686.5,853.6 1687.0,841.6 1687.5,857.0 1688.0,838.9 1688.5,852.2 1689.0,838.0 1689.5,850.1 1690.0,839.1 1690.5,852.1 1691.0,837.6 1691.5,850.6 1692.0,834.3 1692.5,848.3 1693.0,837.0 1693.5,850.7 1694.0,833.9 1694.5,848.7 1695.0,831.2 1695.5,849.2 1696.0,836.2 1696.5,846.8 1697.0,830.3 1697.5,847.8 1698.0,836.5 1698.5,851.2 1699.0,833.7 1699.5,844.9 1700.0,837.7 1700.5,846.9 1701.0,841.6 1701.5,849.3 1702.0,835.7 1702.5,853.0 1703.0,837.9 1703.5,849.9 1704.0,836.1 1704.5,858.7 1705.0,843.8 1705.5,854.7 1706.0,839.1 1706.5,851.6 1707.0,841.1 1707.5,853.3 1708.0,837.9 1708.5,853.8 1709.0,841.5 1709.5,860.9 1710.0,836.2 1710.5,851.2 1711.0,836.9 1711.5,856.7 1712.0,840.8 1712.5,851.5 1713.0,835.0 1713.5,848.2 1714.0,836.3 1714.5,850.4 1715.0,837.9 1715.5,851.6 1716.0,842.4 1716.5,853.0 1717.0,842.0 1717.5,855.4 1718.0,842.7 1718.5,853.2 1719.0,836.6 1719.5,853.0 1720.0,838.3 1720.5,860.6 1721.0,842.3 1721.5,853.8 1722.0,843.1 1722.5,856.9 1723.0,839.9 1723.5,851.0 1724.0,841.3 1724.5,852.6 1725.0,843.2 1725.5,854.0 1726.0,838.4 1726.5,855.8 1727.0,838.8 1727.5,851.6 1728.0,839.5 1728.5,850.5 1729.0,834.1 1729.5,854.1 1730.0,833.5 1730.5,852.5 1731.0,839.1 1731.5,849.1 1732.0,841.0 1732.5,852.3 1733.0,839.0 1733.5,855.7 1734.0,840.6 1734.5,851.5 1735.0,838.8 1735.5,856.2 1736.0,841.2 1736.5,856.7 1737.0,841.8 1737.5,851.6 1738.0,835.6 1738.5,855.0 1739.0,838.7 1739.5,848.0 1740.0,834.1 1740.5,849.4 1741.0,836.7 1741.5,853.2 1742.0,835.5 1742.5,849.5 1743.0,839.8 1743.5,850.0 1744.0,837.3 1744.5,855.6 1745.0,838.9 1745.5,852.4 1746.0,840.8 1746.5,852.2 1747.0,838.5 1747.5,850.5 1748.0,836.2 1748.5,852.7 1749.0,840.1 1749.5,856.1 1750.0,841.7 1750.5,857.3 1751.0,838.8 1751.5,855.9 1752.0,842.1 1752.5,851.9 1753.0,840.5 1753.5,849.6 1754.0,840.7 1754.5,851.2 1755.0,837.1 1755.5,856.0 1756.0,836.6 1756.5,850.4 1757.0,842.0 1757.5,854.4 1758.0,837.1 1758.5,853.1 1759.0,839.6 1759.5,856.8 1760.0,844.2 1760.5,856.1 1761.0,837.3 1761.5,853.3 1762.0,841.3 1762.5,855.9 1763.0,842.1 1763.5,852.6 1764.0,842.4 1764.5,853.2 1765.0,840.4 1765.5,854.2 1766.0,837.8 1766.5,848.6 1767.0,835.9 1767.5,857.7 1768.0,839.6 1768.5,851.5 1769.0,841.0 1769.5,851.3 1770.0,840.2 1770.5,854.6 1771.0,835.0 1771.5,850.8 1772.0,833.6 1772.5,852.7 1773.0,835.8 1773.5,855.1 1774.0,837.0 1774.5,849.0 1775.0,838.5 1775.5,853.8 1776.0,838.7 1776.5,857.4 1777.0,837.6 1777.5,849.0 1778.0,838.9 1778.5,853.4 1779.0,842.9 1779.5,853.9 1780.0,841.5 1780.5,859.0 1781.0,839.2 1781.5,853.6 1782.0,835.3 1782.5,853.6 1783.0,840.9 1783.5,852.0 1784.0,837.7 1784.5,850.9 1785.0,836.5 1785.5,856.1 1786.0,838.9 1786.5,854.4 1787.0,839.3 1787.5,854.9 1788.0,838.1 1788.5,852.9 1789.0,838.2 1789.5,854.8 1790.0,833.5 1790.5,848.8 1791.0,833.1 1791.5,853.5 1792.0,836.0 1792.5,852.2 1793.0,839.9 1793.5,853.3 1794.0,841.9 1794.5,856.0 1795.0,837.5 1795.5,852.7 1796.0,841.1 1796.5,851.4 1797.0,842.4 1797.5,853.3 1798.0,836.9 1798.5,848.9 1799.0,841.2 1799.5,858.8 1800.0,842.1 1800.5,852.7 1801.0,838.0 1801.5,854.5 1802.0,840.5 1802.5,860.6 1803.0,841.0 1803.5,858.2 1804.0,835.5 1804.5,856.6 1805.0,840.2 1805.5,853.8 1806.0,833.2 1806.5,851.0 1807.0,837.8 1807.5,850.9 1808.0,837.5 1808.5,852.1 1809.0,837.4 1809.5,853.6 1810.0,840.1 1810.5,856.5 1811.0,835.4 1811.5,855.3 1812.0,840.4 1812.5,850.6 1813.0,836.3 1813.5,853.1 1814.0,836.9 1814.5,851.9 1815.0,840.9 1815.5,851.2 1816.0,836.7 1816.5,850.9 1817.0,837.5 1817.5,854.1 1818.0,838.9 1818.5,851.9 1819.0,841.1 1819.5,849.5 1820.0,834.6 1820.5,850.9 1821.0,841.0 1821.5,854.0 1822.0,838.8 1822.5,856.5 1823.0,839.7 1823.5,857.2 1824.0,841.7 1824.5,859.8 1825.0,841.0 1825.5,856.8 1826.0,837.0 1826.5,856.1 1827.0,842.4 1827.5,854.5 1828.0,837.3 1828.5,855.3 1829.0,840.6 1829.5,853.7 1830.0,845.6 1830.5,860.3 1831.0,839.9 1831.5,855.7 1832.0,840.9 1832.5,856.1 1833.0,845.1 1833.5,854.9 1834.0,840.3 1834.5,853.8 1835.0,836.6 1835.5,856.6 1836.0,839.7 1836.5,848.9 1837.0,837.1 1837.5,853.9 1838.0,836.9 1838.5,856.8 1839.0,837.9 1839.5,855.3 1840.0,842.0 1840.5,853.4 1841.0,839.4 1841.5,851.5 1842.0,830.8 1842.5,856.2 1843.0,835.8 1843.5,853.6 1844.0,839.0 1844.5,853.0 1845.0,841.8 1845.5,857.6 1846.0,841.0 1846.5,851.0 1847.0,837.4 1847.5,851.9 1848.0,838.2 1848.5,852.2 1849.0,838.9 1849.5,850.8 1850.0,845.0 1850.5,857.7 1851.0,837.6 1851.5,848.6 1852.0,838.3 1852.5,855.3 1853.0,834.3 1853.5,852.3 1854.0,841.8 1854.5,852.5 1855.0,839.8 1855.5,847.9 1856.0,838.9 1856.5,850.0 1857.0,840.8 1857.5,852.8 1858.0,836.4 1858.5,853.0 1859.0,838.1 1859.5,849.8 1860.0,836.7 1860.5,849.8 1861.0,840.8 1861.5,849.8 1862.0,836.2 1862.5,848.5 1863.0,836.0 1863.5,849.0 1864.0,832.1 1864.5,850.8 1865.0,838.3 1865.5,852.0 1866.0,836.5 1866.5,850.3 1867.0,840.9 1867.5,852.9 1868.0,837.9 1868.5,854.7 1869.0,833.4 1869.5,849.8 1870.0,837.3 1870.5,848.8 1871.0,835.7 1871.5,853.5 1872.0,838.8 1872.5,847.7 1873.0,841.2 1873.5,848.8 1874.0,832.9 1874.5,851.0 1875.0,842.2 1875.5,849.1 1876.0,835.5 1876.5,857.6 1877.0,838.7 1877.5,855.2 1878.0,835.0 1878.5,856.3 1879.0,841.8 1879.5,855.2 1880.0,841.1 1880.5,854.0 1881.0,839.7 1881.5,852.7 1882.0,839.4 1882.5,857.4 1883.0,839.2 1883.5,856.4 1884.0,834.4 1884.5,852.7 1885.0,844.1 1885.5,856.7 1886.0,843.1 1886.5,851.8 1887.0,841.8 1887.5,853.2 1888.0,842.1 1888.5,852.6 1889.0,841.8 1889.5,852.9 1890.0,838.4 1890.5,853.5 1891.0,842.1 1891.5,852.5 1892.0,843.6 1892.5,852.3 1893.0,844.5 1893.5,852.4"/></g>
<g stroke="#008000"><path class="core" d="M308.3,188.0 310.3,209.6 312.3,228.7 314.3,244.8 316.3,257.7 318.3,267.3 320.3,276.4 322.3,287.7 324.3,300.1 326.3,310.5 328.3,319.6 330.3,329.0 332.3,339.7 334.3,350.8 336.3,361.2 338.3,371.0 340.3,381.7 342.3,393.8 344.3,407.1 346.3,422.2 348.3,435.7 350.3,447.3 352.3,457.4 354.3,465.7 356.3,473.3 358.3,481.3 360.3,490.3 362.3,499.9 364.3,509.6 366.3,518.6 368.3,526.4 370.3,532.7 372.3,538.8 374.3,544.8 376.3,550.3 378.3,554.9 380.3,558.2 382.3,559.9 384.3,559.9 386.3,559.1 388.3,557.9 390.3,556.2 392.3,554.2 394.3,551.9 396.3,549.4 398.3,546.9 400.3,544.5 402.3,542.1 404.3,539.8 406.3,537.3 408.3,534.7 410.3,531.9 412.3,529.0 414.3,526.1 416.3,523.0 418.3,520.0 420.3,516.9 422.3,513.8 424.3,510.7 426.3,507.7 428.3,504.6 430.3,501.1 432.3,497.2 434.3,493.4 436.3,489.8 438.3,486.7 440.3,484.5 442.3,483.4 444.3,482.8 446.3,482.2 448.3,481.7 450.3,481.3 452.3,480.9 454.3,480.6 456.3,480.3 458.3,480.1 460.3,480.0 462.3,480.0 464.3,480.4 466.3,481.3 468.3,482.6 470.3,484.3 472.3,486.2 474.3,488.2 476.3,490.3 478.3,492.4 480.3,495.0 482.3,498.1 484.3,501.4 486.3,505.0 488.3,508.8 490.3,512.6 492.3,516.8 494.3,521.4 496.3,526.2 498.3,531.2 500.3,536.0 502.3,540.7 504.3,545.1 506.3,549.5 508.3,553.8 510.3,558.2 512.3,562.5 514.3,566.9 516.3,571.5 518.3,576.5 520.3,581.7 522.3,586.6 524.3,591.2 526.3,594.9 528.3,597.8 530.3,600.1 532.3,602.1 534.3,603.9 536.3,605.7 538.3,607.7 540.3,610.1 542.3,612.9 544.3,616.2 546.3,619.6 548.3,622.9 550.3,626.1 552.3,628.8 554.3,631.3 556.3,633.7 558.3,635.9 560.3,638.0 562.3,639.9 564.3,641.5 566.3,642.8 568.3,644.0 570.3,645.0 572.3,646.0 574.3,646.9 576.3,647.7 578.3,648.5 580.3,649.2 582.3,650.0 584.3,650.8 586.3,651.6 588.3,652.6 590.3,653.6 592.3,654.7 594.3,655.9 596.3,657.1 598.3,658.4 600.3,659.8 602.3,661.1 604.3,662.5 606.3,663.7 608.3,665.0 610.3,666.1 612.3,667.2 614.3,668.1 616.3,668.9 618.3,669.8 620.3,670.6 622.3,671.4 624.3,672.3 626.3,673.0 628.3,673.7 630.3,674.4 632.3,674.9 634.3,675.4 636.3,675.7 638.3,675.9 640.3,676.0 642.3,676.0 644.3,675.9 646.3,675.7 648.3,675.6 650.3,675.4 652.3,675.1 654.3,674.8 656.3,674.5 658.3,674.2 660.3,673.9 662.3,673.5 664.3,673.2 666.3,672.8 668.3,672.5 670.3,672.1 672.3,671.8 674.3,671.4 676.3,671.1 678.3,670.8 680.3,670.5 682.3,670.2 684.3,669.9 686.3,669.5 688.3,669.2 690.3,668.9 692.3,668.6 694.3,668.2 696.3,667.9 698.3,667.5 700.3,667.2 702.3,666.8 704.3,666.5 706.3,666.1 708.3,665.8 710.3,665.4 712.3,665.0 714.3,664.7 716.3,664.3 718.3,663.9 720.3,663.6 722.3,663.3 724.3,663.0 726.3,662.6 728.3,662.2 730.3,661.9 732.3,661.5 734.3,661.0 736.3,660.5 738.3,660.0 740.3,659.3 742.3,658.5 744.3,657.4 746.3,656.2 748.3,654.9 750.3,653.6 752.3,652.3 754.3,651.0 756.3,649.9 758.3,649.0 760.3,648.1 762.0,647.3 762.3,647.2 762.8,647.0 763.5,646.7 764.2,646.2 764.3,646.1 765.0,644.8 765.8,640.4 766.3,633.6 766.5,630.4 767.2,617.2 768.0,610.5 768.3,611.5 768.8,616.6 769.5,629.2 770.2,638.6 770.3,639.0 771.0,642.4 771.8,643.2 772.3,643.2 772.5,643.1 773.2,642.8 774.0,642.6 774.3,642.4 776.3,641.7 778.3,641.0 780.3,640.3 782.3,639.6 784.3,638.8 786.3,638.1 788.3,637.4 790.3,636.7 792.3,636.0 794.3,635.3 796.3,634.7 798.3,634.0 800.3,633.4 802.3,632.7 804.3,632.1 806.3,631.4 808.3,630.8 810.3,630.1 812.3,629.4 814.3,628.7 816.3,628.0 818.3,627.2 820.3,626.3 822.3,625.3 824.3,624.3 826.3,623.3 828.3,622.3 830.3,621.3 832.3,620.3 834.3,619.4 836.3,618.5 838.3,617.7 840.3,617.1 842.3,616.6 844.3,616.2 846.3,616.0 848.3,616.0 850.3,616.0 852.3,616.1 854.3,616.1 856.3,616.2 858.3,616.3 860.3,616.4 862.3,616.5 864.3,616.6 866.3,616.8 868.3,616.9 870.3,617.1 872.3,617.3 874.3,617.5 876.3,617.7 878.3,617.8 880.3,618.0 882.3,618.2 884.3,618.4 886.3,618.6 888.3,618.8 890.3,619.0 892.3,619.2 894.3,619.5 896.3,619.8 898.3,620.1 900.3,620.4 902.3,620.8 904.3,621.1 906.3,621.5 908.3,621.9 910.3,622.3 912.3,622.6 914.3,623.0 916.3,623.3 918.3,623.7 920.3,624.0 922.3,624.2 924.3,624.5 926.3,624.7 928.3,624.9 930.3,625.0 932.3,625.2 934.3,625.3 936.3,625.5 938.3,625.6 940.3,625.7 942.3,625.9 944.3,626.0 946.0,626.1 946.3,626.1 946.8,626.1 947.5,626.1 948.2,626.0 948.3,626.0 949.0,625.2 949.8,622.1 950.3,617.1 950.5,614.6 951.2,604.7 952.0,599.8 952.3,600.6 952.8,604.8 953.5,614.8 954.2,622.3 954.3,622.7 955.0,625.5 955.8,626.4 956.3,626.6 956.5,626.6 957.2,626.6 958.0,626.7 958.3,626.7 960.3,626.8 962.3,626.9 964.3,627.0 966.3,627.1 968.3,627.2 970.3,627.3 971.0,627.3 971.8,627.3 972.3,627.4 972.5,627.4 973.2,627.3 974.0,626.6 974.3,625.8 974.8,623.6 975.5,616.7 976.2,607.4 976.3,606.8 977.0,602.8 977.8,607.4 978.3,614.3 978.5,616.8 979.2,623.9 980.0,626.9 980.3,627.4 980.8,627.7 981.5,627.9 982.2,627.9 982.3,627.9 983.0,627.9 984.3,628.0 986.3,628.1 988.3,628.2 990.3,628.3 992.3,628.3 994.3,628.4 996.3,628.4 998.3,628.5 1000.3,628.5 1002.3,628.5 1004.3,628.4 1006.3,628.1 1008.3,627.6 1010.3,627.0 1012.3,626.4 1014.3,625.6 1016.3,624.7 1018.3,623.8 1020.3,622.9 1022.3,622.0 1024.3,621.1 1026.3,620.3 1028.3,619.4 1030.3,618.4 1032.3,617.3 1034.3,616.3 1036.3,615.3 1038.3,614.5 1040.3,613.9 1042.3,613.5 1044.3,613.2 1046.3,612.8 1048.3,612.5 1050.3,612.2 1052.3,611.9 1054.3,611.6 1056.3,611.4 1058.3,611.3 1060.3,611.1 1062.3,611.0 1064.3,611.0 1066.3,611.0 1068.3,611.1 1070.3,611.2 1072.3,611.4 1074.3,611.6 1076.3,611.8 1078.3,612.1 1080.3,612.4 1082.3,612.7 1084.3,613.0 1086.3,613.4 1088.3,613.7 1090.3,614.1 1092.3,614.4 1094.3,614.9 1096.3,615.3 1098.3,615.8 1100.3,616.4 1102.3,617.0 1104.0,617.5 1104.3,617.6 1104.8,617.7 1105.5,617.9 1106.2,617.6 1106.3,617.5 1107.0,615.8 1107.8,611.1 1108.3,605.1 1108.5,602.6 1109.2,593.3 1110.0,589.4 1110.3,590.2 1110.8,593.8 1111.5,603.6 1112.2,612.6 1112.3,613.0 1113.0,617.9 1113.8,620.1 1114.3,620.8 1114.5,620.9 1115.2,621.3 1116.0,621.5 1116.3,621.6 1118.3,622.3 1120.3,623.0 1122.3,623.6 1124.3,624.2 1126.3,624.8 1128.3,625.4 1130.3,626.0 1132.3,626.6 1134.3,627.2 1136.3,627.9 1138.3,628.5 1140.3,629.2 1142.3,629.8 1144.3,630.5 1146.3,631.2 1148.3,632.0 1150.3,632.8 1152.3,633.6 1154.3,634.6 1156.3,635.6 1158.3,636.8 1160.3,638.1 1162.3,639.5 1164.3,640.9 1166.3,642.3 1168.3,643.8 1170.3,645.3 1172.3,646.8 1174.3,648.2 1176.3,649.6 1178.3,650.9 1180.3,652.1 1182.3,653.2 1184.3,654.2 1186.3,655.0 1188.3,655.7 1190.3,656.2 1192.3,656.6 1194.3,656.9 1196.3,657.2 1198.3,657.5 1200.3,657.8 1202.3,658.0 1204.3,658.2 1206.3,658.5 1208.3,658.7 1210.3,659.0 1212.3,659.3 1214.3,659.6 1216.3,660.0 1218.3,660.4 1220.3,660.9 1222.3,661.4 1224.3,661.9 1226.3,662.4 1228.3,662.9 1230.3,663.4 1232.3,664.0 1234.3,664.5 1236.3,665.1 1238.3,665.6 1240.3,666.2 1242.3,666.8 1244.3,667.4 1246.3,668.0 1248.3,668.6 1250.3,669.3 1252.3,669.9 1254.3,670.6 1256.3,671.2 1258.3,671.8 1260.3,672.4 1262.3,672.9 1264.3,673.5 1266.3,673.9 1268.3,674.4 1270.3,674.9 1272.3,675.4 1274.3,675.8 1276.3,676.3 1278.3,676.7 1280.3,677.1 1282.3,677.6 1284.3,678.0 1286.3,678.4 1288.3,678.7 1290.3,679.1 1292.3,679.5 1294.3,679.8 1296.3,680.2 1298.3,680.5 1300.3,680.8 1302.3,681.0 1304.3,681.3 1306.3,681.6 1308.3,681.8 1310.3,682.1 1312.3,682.3 1314.3,682.5 1316.3,682.7 1318.3,683.0 1320.3,683.2 1322.3,683.4 1324.3,683.6 1326.3,683.8 1328.3,683.9 1330.3,684.1 1330.6,684.2 1331.3,684.2 1332.1,684.3 1332.3,684.3 1332.8,684.2 1333.6,683.1 1334.3,679.3 1334.3,678.9 1335.1,668.8 1335.8,655.4 1336.3,649.9 1336.6,648.8 1337.3,655.5 1338.1,669.1 1338.3,672.4 1338.8,679.3 1339.6,683.6 1340.3,684.8 1340.3,684.8 1341.1,685.1 1341.8,685.1 1342.3,685.2 1342.6,685.2 1344.3,685.4 1346.3,685.5 1348.3,685.7 1350.3,685.9 1352.3,686.0 1354.3,686.2 1356.3,686.4 1358.3,686.6 1360.3,686.8 1362.3,686.9 1364.3,687.1 1366.3,687.3 1368.3,687.5 1370.3,687.7 1372.3,687.9 1374.3,688.1 1376.3,688.4 1378.3,688.6 1380.3,688.8 1382.3,689.0 1384.3,689.3 1386.3,689.5 1388.3,689.7 1390.3,690.0 1392.3,690.2 1394.3,690.4 1396.3,690.7 1398.3,690.9 1400.3,691.2 1402.3,691.4 1404.3,691.6 1406.3,691.9 1408.3,692.1 1410.3,692.4 1412.3,692.6 1414.3,692.9 1416.3,693.1 1418.3,693.3 1420.3,693.6 1422.3,693.8 1424.3,694.1 1426.3,694.3 1428.3,694.5 1430.3,694.7 1432.3,695.0 1434.3,695.2 1436.3,695.4 1438.3,695.6 1440.3,695.8 1442.3,696.0 1444.3,696.2 1446.3,696.4 1448.3,696.6 1450.3,696.8 1452.3,697.0 1454.3,697.2 1456.3,697.4 1458.3,697.6 1460.3,697.8 1462.3,698.0 1464.3,698.2 1466.3,698.4 1468.3,698.6 1470.3,698.8 1472.3,698.9 1474.3,699.1 1476.3,699.3 1478.3,699.5 1480.3,699.7 1482.3,699.9 1484.3,700.0 1486.3,700.2 1488.3,700.4 1490.3,700.6 1492.3,700.7 1494.3,700.9 1496.3,701.0 1498.3,701.2 1500.3,701.3 1502.3,701.5 1504.3,701.6 1506.3,701.8 1508.3,701.9 1510.3,702.1 1512.3,702.2 1514.3,702.3 1516.3,702.4 1518.3,702.5 1520.3,702.6 1522.3,702.7 1524.3,702.9 1526.3,703.0 1528.3,703.0 1530.3,703.1 1532.3,703.2 1534.3,703.3 1536.3,703.4 1538.3,703.5 1540.3,703.6 1542.3,703.7 1544.3,703.8 1546.3,703.8 1548.3,703.9 1550.3,704.0 1552.3,704.1 1554.3,704.1 1556.3,704.2 1558.3,704.3 1559.0,704.3 1559.8,704.3 1560.3,704.4 1560.5,704.4 1561.2,704.4 1562.0,704.3 1562.3,704.2 1562.8,703.8 1563.5,701.5 1564.2,697.2 1564.3,697.0 1565.0,694.8 1565.8,697.3 1566.3,700.6 1566.5,701.6 1567.2,703.9 1568.0,704.5 1568.3,704.6 1568.8,704.7 1569.5,704.7 1570.2,704.7 1570.3,704.7 1571.0,704.7 1572.3,704.8 1574.3,704.9 1576.3,704.9 1578.3,705.0 1580.3,705.1 1582.3,705.1 1584.3,705.2 1586.3,705.3 1588.3,705.3 1590.3,705.4 1592.3,705.5 1594.3,705.6 1596.3,705.6 1598.3,705.7 1600.3,705.8 1602.3,705.8 1604.3,705.9 1606.3,706.0 1608.3,706.0 1610.3,706.1 1612.3,706.2 1614.3,706.2 1616.3,706.3 1618.3,706.4 1620.3,706.4 1622.3,706.5 1624.3,706.6 1626.3,706.6 1628.3,706.7 1630.3,706.7 1632.3,706.8 1634.3,706.9 1636.3,706.9 1638.3,707.0 1640.3,707.1 1642.3,707.1 1644.3,707.2 1646.3,707.3 1648.3,707.3 1650.3,707.4 1652.3,707.5 1654.3,707.5 1656.3,707.6 1658.3,707.7 1660.3,707.8 1662.3,707.9 1664.3,707.9 1666.3,708.0 1668.3,708.1 1670.3,708.2 1672.3,708.3 1674.3,708.4 1676.3,708.5 1678.3,708.6 1680.3,708.7 1682.3,708.9 1684.3,709.0 1686.3,709.1 1688.3,709.2 1690.3,709.4 1692.3,709.5 1694.3,709.6 1696.3,709.8 1698.3,709.9 1700.3,710.0 1702.3,710.1 1704.3,710.3 1706.3,710.4 1708.3,710.5 1710.3,710.6 1712.3,710.7 1714.3,710.9 1716.3,711.0 1718.3,711.1 1720.3,711.2 1722.3,711.3 1724.3,711.3 1726.3,711.4 1728.3,711.5 1730.3,711.5 1732.3,711.6 1734.3,711.6 1736.3,711.7 1738.3,711.7 1740.3,711.7 1742.3,711.7 1744.3,711.7 1746.3,711.7 1748.3,711.8 1750.3,711.8 1752.3,711.8 1754.3,711.8 1756.3,711.8 1758.3,711.8 1760.3,711.8 1762.3,711.8 1764.3,711.8 1766.3,711.8 1768.3,711.8 1770.3,711.8 1772.3,711.9 1774.3,711.9 1776.3,711.9 1778.3,711.9 1780.3,711.9 1782.3,711.9 1784.3,711.9 1786.3,711.9 1788.3,711.9 1790.3,711.9 1792.3,711.9 1794.3,711.9 1796.3,711.9 1798.3,711.9 1800.3,711.9 1802.3,712.0 1804.3,712.0 1806.3,712.0 1808.3,712.0 1810.3,712.0 1812.3,712.0 1814.3,712.0 1816.3,712.0 1818.3,712.0 1820.3,712.1 1822.3,712.1 1824.3,712.1 1826.3,712.1 1828.3,712.1 1830.3,712.1 1832.3,712.2 1834.3,712.2 1836.3,712.2 1838.3,712.2 1840.3,712.2 1842.3,712.3 1844.3,712.3 1846.3,712.3 1848.3,712.3 1850.3,712.3 1852.3,712.4 1854.3,712.4 1856.3,712.4 1858.3,712.4 1860.3,712.5 1862.3,712.5 1864.3,712.5 1866.3,712.5 1868.3,712.6 1870.3,712.6 1872.3,712.6 1874.3,712.7 1876.3,712.7 1878.3,712.7 1880.3,712.7 1882.3,712.8 1884.3,712.8 1886.3,712.8 1888.3,712.9 1890.3,712.9 1892.3,712.9"/>
<path class="trace" d="M308.3,188.0 308.8,188.0 309.3,210.0 309.8,188.0 310.3,210.9 310.8,188.0 311.3,231.5 311.8,199.4 312.3,237.5 312.8,204.5 313.3,235.1 313.8,218.5 314.3,256.5 314.8,223.2 315.3,250.8 315.8,231.7 316.3,261.6 316.8,245.1 317.3,270.7 317.8,240.9 318.3,276.8 318.8,258.7 319.3,287.5 319.8,259.6 320.3,297.1 320.8,266.3 321.3,292.2 321.8,276.3 322.3,304.6 322.8,271.5 323.3,315.0 323.8,280.7 324.3,312.2 324.8,289.8 325.3,324.6 325.8,299.2 326.3,325.1 326.8,299.4 327.3,327.7 327.8,305.8 328.3,327.1 328.8,313.6 329.3,341.8 329.8,308.6 330.3,350.3 330.8,327.8 331.3,346.2 331.8,326.8 332.3,356.3 332.8,342.0 333.3,363.3 333.8,337.9 334.3,371.7 334.8,332.1 335.3,377.4 335.8,341.2 336.3,378.2 336.8,358.1 337.3,377.2 337.8,350.2 338.3,379.5 338.8,368.1 339.3,384.5 339.8,360.4 340.3,398.7 340.8,374.4 341.3,392.0 341.8,368.6 342.3,412.5 342.8,369.4 343.3,416.0 343.8,376.7 344.3,405.6 344.8,390.8 345.3,417.6 345.8,391.3 346.3,431.8 346.8,413.9 347.3,436.7 347.8,415.3 348.3,445.7 348.8,419.8 349.3,457.1 349.8,419.0 350.3,449.8 350.8,432.0 351.3,454.8 351.8,441.2 352.3,464.5 352.8,439.9 353.3,470.9 353.8,446.1 354.3,467.2 354.8,448.3 355.3,472.5 355.8,462.2 356.3,474.4 356.8,458.6 357.3,482.8 357.8,462.8 358.3,479.0 358.8,462.2 359.3,484.7 359.8,470.9 360.3,500.1 360.8,475.6 361.3,507.0 361.8,478.6 362.3,505.3 362.8,487.5 363.3,510.5 363.8,489.9 364.3,519.9 364.8,493.2 365.3,525.0 365.8,498.9 366.3,536.5 366.8,501.4 367.3,531.6 367.8,511.4 368.3,537.0 368.8,522.7 369.3,543.4 369.8,523.3 370.3,537.4 370.8,521.6 371.3,553.3 371.8,525.4 372.3,548.3 372.8,526.7 373.3,558.6 373.8,533.1 374.3,563.9 374.8,537.1 375.3,564.1 375.8,536.3 376.3,564.9 376.8,543.9 377.3,564.2 377.8,539.4 378.3,567.1 378.8,548.4 379.3,565.0 379.8,548.2 380.3,567.3 380.8,548.2 381.3,575.0 381.8,551.3 382.3,579.1 382.8,544.5 383.3,574.2 383.8,553.5 384.3,564.9 384.8,547.6 385.3,571.0 385.8,554.1 386.3,572.0 386.8,552.8 387.3,571.0 387.8,552.9 388.3,569.4 388.8,546.9 389.3,574.9 389.8,546.7 390.3,566.1 390.8,545.0 391.3,574.2 391.8,547.5 392.3,560.6 392.8,553.0 393.3,566.0 393.8,549.3 394.3,568.0 394.8,544.1 395.3,562.0 395.8,549.8 396.3,563.0 396.8,542.9 397.3,561.6 397.8,538.3 398.3,559.3 398.8,532.7 399.3,561.0 399.8,533.7 400.3,553.0 400.8,533.3 401.3,557.9 401.8,539.0 402.3,553.5 402.8,530.0 403.3,553.9 403.8,533.4 404.3,546.0 404.8,535.3 405.3,540.9 405.8,527.7 406.3,549.7 406.8,522.6 407.3,544.2 407.8,519.9 408.3,543.6 408.8,517.7 409.3,551.6 409.8,522.1 410.3,537.2 410.8,518.8 411.3,536.5 411.8,514.9 412.3,547.3 412.8,517.6 413.3,531.6 413.8,519.7 414.3,541.9 414.8,512.8 415.3,538.2 415.8,512.7 416.3,529.4 416.8,511.0 417.3,542.3 417.8,510.5 418.3,523.8 418.8,511.3 419.3,529.9 419.8,509.5 420.3,534.4 420.8,503.2 421.3,529.9 421.8,507.0 422.3,524.9 422.8,505.2 423.3,517.8 423.8,504.4 424.3,520.6 424.8,500.1 425.3,520.9 425.8,494.2 426.3,526.0 426.8,497.9 427.3,519.0 427.8,496.1 428.3,519.2 428.8,491.7 429.3,520.7 429.8,492.0 430.3,514.2 430.8,493.1 431.3,516.3 431.8,488.8 432.3,511.9 432.8,480.7 433.3,506.5 433.8,477.2 434.3,503.3 434.8,481.4 435.3,503.3 435.8,480.9 436.3,499.9 436.8,484.0 437.3,507.6 437.8,482.1 438.3,492.1 438.8,476.5 439.3,501.9 439.8,472.6 440.3,499.7 440.8,469.2 441.3,494.4 441.8,479.2 442.3,493.7 442.8,470.8 443.3,493.4 443.8,478.1 444.3,488.3 444.8,469.8 445.3,497.0 445.8,472.8 446.3,490.3 446.8,466.1 447.3,487.1 447.8,465.6 448.3,489.5 448.8,475.6 449.3,497.7 449.8,473.4 450.3,486.5 450.8,475.0 451.3,489.4 451.8,469.9 452.3,487.7 452.8,479.5 453.3,492.9 453.8,471.0 454.3,489.4 454.8,474.7 455.3,495.4 455.8,472.7 456.3,501.5 456.8,478.2 457.3,488.8 457.8,472.3 458.3,487.9 458.8,475.0 459.3,489.1 459.8,466.4 460.3,487.8 460.8,466.0 461.3,492.5 461.8,476.3 462.3,489.1 462.8,472.7 463.3,487.1 463.8,472.8 464.3,485.9 464.8,474.7 465.3,490.6 465.8,472.0 466.3,489.4 466.8,470.8 467.3,488.2 467.8,471.2 468.3,496.0 468.8,463.7 469.3,488.3 469.8,468.0 470.3,483.1 470.8,464.9 471.3,492.3 471.8,468.6 472.3,487.6 472.8,472.7 473.3,491.2 473.8,473.9 474.3,492.6 474.8,471.7 475.3,501.3 475.8,476.0 476.3,494.4 476.8,481.3 477.3,503.6 477.8,481.6 478.3,507.2 478.8,484.6 479.3,507.7 479.8,482.5 480.3,501.2 480.8,481.9 481.3,511.7 481.8,484.4 482.3,507.2 482.8,485.8 483.3,505.4 483.8,479.2 484.3,502.5 484.8,489.7 485.3,504.7 485.8,491.2 486.3,505.2 486.8,494.1 487.3,521.7 487.8,492.3 488.3,508.5 488.8,496.1 489.3,521.4 489.8,494.2 490.3,522.0 490.8,500.4 491.3,518.4 491.8,497.9 492.3,526.2 492.8,496.3 493.3,522.1 493.8,508.9 494.3,534.0 494.8,512.4 495.3,528.9 495.8,517.1 496.3,535.6 496.8,516.6 497.3,538.0 497.8,519.5 498.3,538.9 498.8,519.1 499.3,547.1 499.8,525.6 500.3,543.6 500.8,528.7 501.3,544.1 501.8,523.5 502.3,552.3 502.8,523.3 503.3,546.1 503.8,534.2 504.3,554.9 504.8,528.9 505.3,562.5 505.8,528.0 506.3,551.7 506.8,536.9 507.3,558.0 507.8,540.3 508.3,559.2 508.8,543.5 509.3,561.7 509.8,542.5 510.3,568.7 510.8,549.1 511.3,566.4 511.8,551.6 512.3,570.0 512.8,553.6 513.3,571.2 513.8,559.2 514.3,572.2 514.8,551.2 515.3,579.7 515.8,559.7 516.3,577.1 516.8,558.1 517.3,581.2 517.8,565.4 518.3,587.4 518.8,560.7 519.3,589.6 519.8,556.1 520.3,589.9 520.8,562.1 521.3,587.9 521.8,565.9 522.3,589.8 522.8,578.1 523.3,592.9 523.8,566.1 524.3,594.9 524.8,584.4 525.3,601.7 525.8,577.7 526.3,610.9 526.8,583.3 527.3,612.3 527.8,586.6 528.3,602.0 528.8,591.8 529.3,611.3 529.8,585.4 530.3,611.1 530.8,592.8 531.3,613.4 531.8,598.6 532.3,616.5 532.8,597.9 533.3,612.9 533.8,594.8 534.3,611.6 534.8,589.8 535.3,616.3 535.8,596.2 536.3,614.6 536.8,597.9 537.3,624.3 537.8,600.8 538.3,619.2 538.8,601.2 539.3,625.5 539.8,602.4 540.3,628.2 540.8,606.4 541.3,628.4 541.8,605.8 542.3,624.9 542.8,607.1 543.3,623.1 543.8,605.1 544.3,625.9 544.8,599.7 545.3,621.9 545.8,606.9 546.3,628.3 546.8,611.8 547.3,630.5 547.8,606.2 548.3,635.3 548.8,610.3 549.3,634.9 549.8,603.0 550.3,630.9 550.8,612.1 551.3,635.1 551.8,612.9 552.3,636.4 552.8,612.4 553.3,637.3 553.8,618.3 554.3,634.8 554.8,620.1 555.3,641.0 555.8,616.2 556.3,642.3 556.8,614.8 557.3,643.3 557.8,617.3 558.3,649.6 558.8,627.0 559.3,642.8 559.8,625.5 560.3,645.7 560.8,627.6 561.3,643.2 561.8,620.8 562.3,643.8 562.8,624.8 563.3,651.1 563.8,626.6 564.3,645.7 564.8,629.4 565.3,646.9 565.8,630.1 566.3,658.2 566.8,633.2 567.3,656.9 567.8,634.9 568.3,654.7 568.8,629.1 569.3,656.5 569.8,632.2 570.3,649.9 570.8,639.7 571.3,653.7 571.8,631.9 572.3,652.2 572.8,634.4 573.3,654.2 573.8,639.4 574.3,660.3 574.8,640.5 575.3,653.7 575.8,642.5 576.3,660.3 576.8,632.2 577.3,658.4 577.8,640.4 578.3,660.8 578.8,642.6 579.3,657.6 579.8,643.6 580.3,660.6 580.8,636.7 581.3,664.0 581.8,641.7 582.3,655.6 582.8,639.0 583.3,654.6 583.8,644.0 584.3,659.2 584.8,641.7 585.3,661.0 585.8,641.3 586.3,656.8 586.8,648.7 587.3,666.4 587.8,639.1 588.3,658.1 588.8,644.1 589.3,664.9 589.8,642.4 590.3,660.0 590.8,650.2 591.3,669.2 591.8,652.4 592.3,666.1 592.8,648.9 593.3,668.7 593.8,651.1 594.3,667.1 594.8,649.4 595.3,665.9 595.8,650.9 596.3,663.5 596.8,654.5 597.3,670.9 597.8,652.6 598.3,671.0 598.8,654.6 599.3,671.9 599.8,656.1 600.3,679.7 600.8,652.0 601.3,670.5 601.8,660.7 602.3,676.7 602.8,655.9 603.3,673.1 603.8,653.9 604.3,678.0 604.8,659.8 605.3,676.8 605.8,659.9 606.3,672.6 606.8,660.0 607.3,675.2 607.8,656.6 608.3,675.5 608.8,660.5 609.3,676.7 609.8,664.6 610.3,675.5 610.8,662.5 611.3,678.0 611.8,664.6 612.3,673.4 612.8,664.4 613.3,676.0 613.8,655.4 614.3,679.7 614.8,660.6 615.3,679.9 615.8,662.9 616.3,676.2 616.8,664.5 617.3,673.4 617.8,656.5 618.3,676.8 618.8,667.4 619.3,683.1 619.8,655.9 620.3,682.2 620.8,658.2 621.3,679.7 621.8,662.6 622.3,678.0 622.8,664.7 623.3,684.4 623.8,668.5 624.3,676.6 624.8,662.9 625.3,674.5 625.8,661.2 626.3,684.8 626.8,660.5 627.3,682.2 627.8,666.7 628.3,686.3 628.8,666.4 629.3,685.1 629.8,669.9 630.3,679.7 630.8,660.5 631.3,683.7 631.8,666.3 632.3,681.4 632.8,669.2 633.3,681.5 633.8,661.4 634.3,681.8 634.8,669.6 635.3,687.1 635.8,666.4 636.3,685.8 636.8,665.1 637.3,676.1 637.8,661.8 638.3,677.8 638.8,671.0 639.3,679.7 639.8,667.2 640.3,676.5 640.8,669.6 641.3,677.4 641.8,664.8 642.3,677.6 642.8,666.0 643.3,675.6 643.8,657.0 644.3,680.3 644.8,663.7 645.3,677.5 645.8,660.2 646.3,679.7 646.8,662.1 647.3,684.2 647.8,658.1 648.3,682.9 648.8,664.2 649.3,680.1 649.8,665.0 650.3,681.1 650.8,661.9 651.3,676.7 651.8,662.0 652.3,679.0 652.8,664.7 653.3,679.5 653.8,662.4 654.3,677.6 654.8,658.9 655.3,681.7 655.8,664.0 656.3,675.0 656.8,664.4 657.3,677.3 657.8,660.1 658.3,685.0 658.8,664.1 659.3,679.8 659.8,666.6 660.3,675.3 660.8,660.9 661.3,676.0 661.8,662.8 662.3,680.9 662.8,664.1 663.3,677.9 663.8,666.6 664.3,678.0 664.8,667.1 665.3,677.0 665.8,663.8 666.3,678.2 666.8,663.0 667.3,678.9 667.8,665.5 668.3,682.4 668.8,668.8 669.3,683.3 669.8,670.1 670.3,681.0 670.8,669.0 671.3,680.5 671.8,664.7 672.3,684.0 672.8,663.1 673.3,677.1 673.8,663.9 674.3,679.0 674.8,665.6 675.3,681.2 675.8,666.2 676.3,681.8 676.8,663.0 677.3,686.8 677.8,666.0 678.3,688.2 678.8,667.0 679.3,678.6 679.8,655.0 680.3,678.7 680.8,661.6 681.3,679.5 681.8,659.8 682.3,680.3 682.8,661.7 683.3,684.5 683.8,663.2 684.3,672.5 684.8,659.4 685.3,675.6 685.8,659.4 686.3,677.9 686.8,662.2 687.3,681.0 687.8,663.0 688.3,675.8 688.8,658.2 689.3,671.7 689.8,662.3 690.3,674.6 690.8,662.3 691.3,680.0 691.8,661.0 692.3,676.9 692.8,655.3 693.3,675.6 693.8,659.4 694.3,682.1 694.8,656.1 695.3,674.1 695.8,659.3 696.3,676.7 696.8,664.8 697.3,679.0 697.8,665.1 698.3,677.7 698.8,660.3 699.3,679.8 699.8,658.7 700.3,676.8 700.8,662.2 701.3,676.7 701.8,658.4 702.3,684.4 702.8,658.8 703.3,676.6 703.8,659.5 704.3,682.7 704.8,659.1 705.3,679.3 705.8,660.0 706.3,675.2 706.8,661.0 707.3,683.5 707.8,656.3 708.3,672.5 708.8,653.6 709.3,671.4 709.8,656.2 710.3,667.5 710.8,657.0 711.3,676.1 711.8,650.0 712.3,668.0 712.8,647.6 713.3,669.1 713.8,650.5 714.3,670.0 714.8,651.9 715.3,672.9 715.8,654.7 716.3,675.6 716.8,651.2 717.3,672.7 717.8,651.9 718.3,671.3 718.8,653.5 719.3,672.5 719.8,655.1 720.3,670.0 720.8,656.1 721.3,668.6 721.8,653.5 722.3,671.7 722.8,648.7 723.3,672.1 723.8,647.5 724.3,666.5 724.8,648.0 725.3,666.4 725.8,654.8 726.3,671.9 726.8,649.3 727.3,669.0 727.8,651.2 728.3,667.2 728.8,656.0 729.3,670.0 729.8,652.8 730.3,669.1 730.8,653.2 731.3,672.6 731.8,651.9 732.3,669.3 732.8,656.7 733.3,670.3 733.8,650.6 734.3,667.6 734.8,651.3 735.3,668.7 735.8,651.8 736.3,671.7 736.8,654.8 737.3,673.1 737.8,655.9 738.3,674.5 738.8,646.4 739.3,672.4 739.8,648.8 740.3,664.4 740.8,650.1 741.3,669.3 741.8,653.3 742.3,667.5 742.8,654.4 743.3,670.5 743.8,648.4 744.3,670.8 744.8,649.8 745.3,665.4 745.8,641.9 746.3,667.6 746.8,649.4 747.3,661.9 747.8,652.0 748.3,670.0 748.8,646.6 749.3,666.6 749.8,642.5 750.3,667.1 750.8,638.8 751.3,660.3 751.8,642.8 752.3,669.6 752.8,648.1 753.3,661.6 753.8,646.9 754.3,657.8 754.8,641.3 755.3,658.4 755.8,637.0 756.3,657.4 756.8,644.2 757.3,662.0 757.8,643.7 758.3,659.6 758.8,636.1 759.3,659.2 759.8,634.1 760.3,655.5 760.8,637.9 761.3,654.4 761.8,637.4 762.3,655.9 762.8,637.9 763.3,644.3 763.8,632.4 764.3,638.2 764.8,636.1 765.3,658.6 765.8,639.7 766.3,655.2 766.8,613.0 767.3,609.6 767.8,607.9 768.3,607.1 768.8,609.8 769.3,613.5 769.8,635.2 770.3,624.1 770.8,629.4 771.3,634.0 771.8,635.4 772.3,655.1 772.8,625.4 773.3,641.5 773.8,635.6 774.3,645.1 774.8,633.8 775.3,647.9 775.8,625.8 776.3,647.6 776.8,625.7 777.3,649.1 777.8,630.2 778.3,648.1 778.8,632.5 779.3,644.0 779.8,633.5 780.3,643.1 780.8,624.5 781.3,654.4 781.8,633.7 782.3,645.7 782.8,631.6 783.3,647.3 783.8,622.7 784.3,652.0 784.8,634.3 785.3,646.2 785.8,632.0 786.3,653.7 786.8,629.7 787.3,648.1 787.8,630.8 788.3,647.0 788.8,630.2 789.3,643.7 789.8,630.9 790.3,641.4 790.8,629.6 791.3,647.7 791.8,626.5 792.3,639.9 792.8,627.7 793.3,646.0 793.8,626.2 794.3,643.0 794.8,633.1 795.3,647.7 795.8,627.6 796.3,648.6 796.8,628.6 797.3,646.4 797.8,630.8 798.3,644.7 798.8,628.8 799.3,643.8 799.8,622.4 800.3,644.4 800.8,625.5 801.3,638.6 801.8,626.4 802.3,641.1 802.8,621.2 803.3,640.2 803.8,625.2 804.3,639.9 804.8,627.8 805.3,640.9 805.8,623.0 806.3,639.5 806.8,619.5 807.3,639.4 807.8,620.4 808.3,641.5 808.8,626.2 809.3,635.1 809.8,618.1 810.3,635.3 810.8,622.1 811.3,641.7 811.8,619.7 812.3,637.3 812.8,623.0 813.3,633.8 813.8,614.8 814.3,637.3 814.8,617.6 815.3,638.1 815.8,616.7 816.3,641.9 816.8,614.9 817.3,639.7 817.8,617.4 818.3,628.4 818.8,619.8 819.3,631.6 819.8,612.0 820.3,636.7 820.8,619.5 821.3,634.1 821.8,618.9 822.3,631.4 822.8,615.6 823.3,630.5 823.8,614.8 824.3,633.6 824.8,609.4 825.3,627.4 825.8,611.9 826.3,629.3 826.8,609.1 827.3,623.0 827.8,604.1 828.3,620.2 828.8,604.1 829.3,623.6 829.8,603.7 830.3,624.8 830.8,606.0 831.3,617.3 831.8,602.4 832.3,624.4 832.8,607.9 833.3,622.6 833.8,603.5 834.3,630.8 834.8,606.2 835.3,625.8 835.8,607.3 836.3,630.2 836.8,606.8 837.3,629.8 837.8,607.3 838.3,635.5 838.8,608.7 839.3,624.9 839.8,606.9 840.3,630.4 840.8,602.0 841.3,626.1 841.8,611.2 842.3,627.6 842.8,607.9 843.3,625.1 843.8,613.0 844.3,625.6 844.8,609.3 845.3,625.4 845.8,608.6 846.3,634.1 846.8,609.7 847.3,636.7 847.8,609.7 848.3,630.0 848.8,610.1 849.3,634.0 849.8,610.0 850.3,631.2 850.8,613.2 851.3,627.7 851.8,608.2 852.3,626.6 852.8,611.8 853.3,631.7 853.8,605.7 854.3,630.9 854.8,614.1 855.3,623.3 855.8,606.7 856.3,632.3 856.8,609.6 857.3,628.2 857.8,613.5 858.3,631.6 858.8,611.3 859.3,625.5 859.8,602.1 860.3,623.7 860.8,611.1 861.3,622.9 861.8,606.6 862.3,626.8 862.8,610.8 863.3,632.9 863.8,606.8 864.3,625.3 864.8,608.6 865.3,630.2 865.8,606.7 866.3,628.6 866.8,609.7 867.3,628.4 867.8,603.9 868.3,624.8 868.8,610.3 869.3,628.7 869.8,609.3 870.3,623.9 870.8,608.6 871.3,632.0 871.8,612.4 872.3,630.4 872.8,610.3 873.3,624.3 873.8,609.7 874.3,626.3 874.8,606.8 875.3,624.9 875.8,609.8 876.3,627.4 876.8,608.6 877.3,626.1 877.8,606.5 878.3,622.2 878.8,609.8 879.3,632.4 879.8,606.2 880.3,631.2 880.8,606.3 881.3,628.5 881.8,611.0 882.3,628.4 882.8,615.8 883.3,627.0 883.8,601.9 884.3,625.3 884.8,608.3 885.3,624.1 885.8,614.4 886.3,634.6 886.8,604.0 887.3,636.1 887.8,616.8 888.3,628.5 888.8,611.5 889.3,631.0 889.8,611.7 890.3,628.8 890.8,607.3 891.3,629.4 891.8,613.5 892.3,631.6 892.8,615.2 893.3,632.6 893.8,608.8 894.3,630.7 894.8,614.3 895.3,625.8 895.8,604.7 896.3,627.2 896.8,611.2 897.3,628.3 897.8,610.9 898.3,627.6 898.8,611.9 899.3,628.2 899.8,612.9 900.3,625.5 900.8,614.7 901.3,627.9 901.8,615.5 902.3,636.6 902.8,609.9 903.3,632.8 903.8,619.0 904.3,637.3 904.8,617.7 905.3,630.9 905.8,613.4 906.3,634.1 906.8,614.2 907.3,640.0 907.8,612.1 908.3,630.1 908.8,619.7 909.3,634.8 909.8,618.2 910.3,641.0 910.8,619.5 911.3,629.1 911.8,617.2 912.3,628.6 912.8,607.2 913.3,629.6 913.8,614.3 914.3,629.6 914.8,615.4 915.3,637.5 915.8,617.4 916.3,637.5 916.8,606.1 917.3,631.9 917.8,611.1 918.3,633.8 918.8,616.8 919.3,631.5 919.8,611.4 920.3,634.2 920.8,610.1 921.3,637.0 921.8,619.3 922.3,631.4 922.8,614.3 923.3,634.1 923.8,609.5 924.3,633.8 924.8,611.5 925.3,639.0 925.8,620.5 926.3,642.1 926.8,618.8 927.3,630.8 927.8,615.0 928.3,633.2 928.8,617.6 929.3,630.6 929.8,613.4 930.3,636.1 930.8,614.8 931.3,634.3 931.8,611.5 932.3,636.0 932.8,617.0 933.3,627.4 933.8,608.8 934.3,632.6 934.8,613.3 935.3,634.5 935.8,618.0 936.3,629.8 936.8,617.0 937.3,638.1 937.8,613.3 938.3,633.2 938.8,611.9 939.3,630.6 939.8,613.3 940.3,638.4 940.8,616.5 941.3,635.9 941.8,616.8 942.3,629.6 942.8,611.6 943.3,634.6 943.8,615.8 944.3,631.0 944.8,613.4 945.3,633.0 945.8,613.9 946.3,631.5 946.8,618.0 947.3,626.0 947.8,614.0 948.3,637.2 948.8,614.6 949.3,630.4 949.8,615.8 950.3,605.7 950.8,600.9 951.3,598.3 951.8,597.0 952.3,597.0 952.8,598.5 953.3,601.7 953.8,610.1 954.3,610.4 954.8,612.4 955.3,619.0 955.8,615.9 956.3,624.8 956.8,609.3 957.3,627.3 957.8,611.7 958.3,634.9 958.8,616.6 959.3,633.6 959.8,619.1 960.3,640.1 960.8,615.4 961.3,640.5 961.8,616.4 962.3,634.0 962.8,615.9 963.3,638.1 963.8,614.6 964.3,640.9 964.8,616.3 965.3,632.8 965.8,619.1 966.3,633.2 966.8,617.9 967.3,638.7 967.8,611.1 968.3,631.3 968.8,616.5 969.3,634.3 969.8,613.7 970.3,637.5 970.8,615.1 971.3,640.9 971.8,621.0 972.3,626.5 972.8,615.5 973.3,634.4 973.8,612.7 974.3,636.2 974.8,614.5 975.3,630.4 975.8,603.9 976.3,601.3 976.8,599.3 977.3,600.0 977.8,601.4 978.3,604.4 978.8,608.9 979.3,612.5 979.8,617.7 980.3,621.1 980.8,622.4 981.3,624.9 981.8,618.0 982.3,628.1 982.8,615.8 983.3,641.0 983.8,622.1 984.3,644.2 984.8,623.7 985.3,634.9 985.8,621.9 986.3,634.9 986.8,616.4 987.3,636.7 987.8,623.9 988.3,636.2 988.8,625.3 989.3,639.8 989.8,615.0 990.3,641.6 990.8,622.1 991.3,638.7 991.8,616.0 992.3,632.3 992.8,618.9 993.3,641.1 993.8,620.3 994.3,636.5 994.8,616.6 995.3,638.1 995.8,620.6 996.3,633.8 996.8,621.2 997.3,633.5 997.8,613.2 998.3,632.6 998.8,620.7 999.3,631.2 999.8,618.5 1000.3,633.3 1000.8,612.1 1001.3,631.0 1001.8,617.2 1002.3,630.4 1002.8,615.9 1003.3,634.3 1003.8,615.3 1004.3,638.1 1004.8,619.2 1005.3,634.3 1005.8,618.2 1006.3,640.5 1006.8,619.8 1007.3,629.8 1007.8,618.8 1008.3,632.2 1008.8,615.7 1009.3,629.1 1009.8,611.0 1010.3,634.0 1010.8,610.2 1011.3,629.5 1011.8,612.8 1012.3,630.4 1012.8,609.1 1013.3,629.6 1013.8,610.9 1014.3,632.0 1014.8,604.2 1015.3,633.1 1015.8,609.1 1016.3,634.2 1016.8,605.3 1017.3,631.5 1017.8,611.2 1018.3,628.2 1018.8,614.3 1019.3,637.7 1019.8,614.9 1020.3,625.6 1020.8,612.3 1021.3,628.8 1021.8,604.7 1022.3,627.3 1022.8,607.7 1023.3,628.8 1023.8,609.5 1024.3,622.6 1024.8,609.9 1025.3,626.9 1025.8,609.1 1026.3,626.9 1026.8,607.2 1027.3,621.2 1027.8,612.3 1028.3,628.2 1028.8,605.4 1029.3,631.5 1029.8,608.1 1030.3,631.6 1030.8,611.9 1031.3,628.0 1031.8,614.5 1032.3,623.9 1032.8,611.7 1033.3,630.1 1033.8,614.2 1034.3,634.7 1034.8,600.6 1035.3,630.4 1035.8,607.0 1036.3,625.4 1036.8,612.7 1037.3,624.8 1037.8,602.8 1038.3,624.2 1038.8,608.7 1039.3,625.8 1039.8,603.8 1040.3,626.5 1040.8,606.0 1041.3,622.3 1041.8,596.6 1042.3,628.9 1042.8,604.0 1043.3,623.7 1043.8,606.2 1044.3,627.0 1044.8,604.8 1045.3,626.6 1045.8,604.9 1046.3,623.2 1046.8,605.9 1047.3,623.1 1047.8,607.8 1048.3,624.4 1048.8,599.6 1049.3,621.0 1049.8,606.2 1050.3,619.7 1050.8,604.7 1051.3,620.8 1051.8,601.9 1052.3,623.0 1052.8,606.9 1053.3,621.4 1053.8,605.9 1054.3,622.5 1054.8,604.1 1055.3,624.7 1055.8,603.7 1056.3,618.2 1056.8,602.5 1057.3,622.6 1057.8,605.8 1058.3,619.2 1058.8,598.7 1059.3,622.8 1059.8,605.7 1060.3,623.8 1060.8,606.9 1061.3,617.8 1061.8,598.6 1062.3,622.4 1062.8,600.5 1063.3,618.5 1063.8,599.1 1064.3,619.6 1064.8,595.5 1065.3,622.4 1065.8,604.1 1066.3,618.5 1066.8,598.9 1067.3,626.0 1067.8,599.5 1068.3,621.9 1068.8,599.7 1069.3,621.5 1069.8,593.5 1070.3,619.0 1070.8,595.7 1071.3,614.8 1071.8,604.9 1072.3,626.5 1072.8,597.8 1073.3,620.3 1073.8,604.5 1074.3,613.9 1074.8,600.9 1075.3,612.7 1075.8,596.0 1076.3,618.2 1076.8,598.2 1077.3,618.8 1077.8,597.9 1078.3,620.6 1078.8,593.1 1079.3,624.0 1079.8,603.5 1080.3,613.8 1080.8,598.0 1081.3,620.4 1081.8,600.5 1082.3,617.1 1082.8,600.5 1083.3,618.8 1083.8,596.2 1084.3,616.4 1084.8,599.3 1085.3,616.8 1085.8,598.4 1086.3,615.8 1086.8,602.5 1087.3,616.2 1087.8,596.6 1088.3,620.3 1088.8,595.1 1089.3,616.6 1089.8,604.5 1090.3,615.4 1090.8,603.8 1091.3,623.8 1091.8,595.4 1092.3,619.1 1092.8,602.1 1093.3,622.5 1093.8,594.3 1094.3,614.0 1094.8,599.0 1095.3,615.8 1095.8,596.1 1096.3,617.7 1096.8,601.7 1097.3,627.0 1097.8,603.2 1098.3,627.0 1098.8,607.9 1099.3,620.9 1099.8,610.0 1100.3,622.2 1100.8,611.7 1101.3,628.7 1101.8,610.3 1102.3,622.9 1102.8,605.3 1103.3,623.3 1103.8,599.8 1104.3,621.8 1104.8,612.7 1105.3,612.6 1105.8,608.3 1106.3,609.3 1106.8,603.4 1107.3,624.5 1107.8,596.4 1108.3,620.6 1108.8,589.2 1109.3,587.4 1109.8,585.7 1110.3,586.0 1110.8,587.9 1111.3,590.7 1111.8,606.3 1112.3,599.1 1112.8,602.0 1113.3,626.7 1113.8,603.9 1114.3,615.6 1114.8,608.1 1115.3,617.9 1115.8,609.1 1116.3,629.3 1116.8,613.7 1117.3,628.6 1117.8,610.5 1118.3,623.6 1118.8,613.7 1119.3,624.4 1119.8,612.8 1120.3,629.0 1120.8,609.2 1121.3,629.4 1121.8,612.4 1122.3,631.5 1122.8,613.3 1123.3,633.8 1123.8,611.1 1124.3,629.9 1124.8,614.6 1125.3,629.7 1125.8,614.9 1126.3,627.3 1126.8,610.7 1127.3,634.7 1127.8,606.2 1128.3,634.7 1128.8,615.5 1129.3,627.2 1129.8,610.5 1130.3,636.6 1130.8,608.3 1131.3,629.8 1131.8,613.9 1132.3,627.0 1132.8,617.9 1133.3,636.3 1133.8,617.1 1134.3,634.1 1134.8,611.0 1135.3,632.9 1135.8,621.9 1136.3,634.4 1136.8,619.8 1137.3,640.3 1137.8,624.1 1138.3,642.2 1138.8,621.6 1139.3,636.8 1139.8,618.4 1140.3,640.4 1140.8,616.4 1141.3,638.1 1141.8,625.0 1142.3,638.3 1142.8,627.0 1143.3,643.2 1143.8,626.9 1144.3,639.2 1144.8,621.9 1145.3,640.8 1145.8,627.7 1146.3,643.1 1146.8,627.1 1147.3,642.2 1147.8,620.1 1148.3,651.7 1148.8,618.5 1149.3,645.5 1149.8,630.0 1150.3,647.7 1150.8,626.2 1151.3,642.5 1151.8,629.1 1152.3,646.0 1152.8,628.7 1153.3,643.3 1153.8,629.2 1154.3,643.6 1154.8,633.1 1155.3,644.5 1155.8,625.2 1156.3,643.5 1156.8,626.9 1157.3,643.5 1157.8,622.1 1158.3,645.5 1158.8,627.9 1159.3,649.4 1159.8,626.7 1160.3,649.7 1160.8,633.9 1161.3,650.3 1161.8,630.3 1162.3,644.1 1162.8,633.1 1163.3,648.6 1163.8,630.9 1164.3,648.3 1164.8,628.8 1165.3,647.4 1165.8,631.5 1166.3,653.4 1166.8,637.4 1167.3,649.0 1167.8,625.2 1168.3,652.8 1168.8,634.3 1169.3,651.6 1169.8,635.6 1170.3,660.5 1170.8,633.0 1171.3,651.8 1171.8,636.3 1172.3,651.8 1172.8,637.1 1173.3,659.8 1173.8,639.8 1174.3,658.4 1174.8,642.1 1175.3,662.4 1175.8,637.4 1176.3,664.2 1176.8,643.8 1177.3,656.4 1177.8,643.0 1178.3,654.1 1178.8,642.0 1179.3,656.8 1179.8,641.2 1180.3,653.8 1180.8,644.0 1181.3,657.0 1181.8,645.3 1182.3,658.3 1182.8,645.0 1183.3,658.8 1183.8,646.5 1184.3,657.2 1184.8,645.2 1185.3,656.1 1185.8,646.0 1186.3,665.4 1186.8,643.9 1187.3,657.5 1187.8,648.3 1188.3,659.2 1188.8,642.6 1189.3,660.8 1189.8,647.0 1190.3,662.4 1190.8,642.2 1191.3,657.6 1191.8,648.1 1192.3,664.1 1192.8,644.2 1193.3,666.8 1193.8,650.0 1194.3,664.1 1194.8,639.9 1195.3,661.4 1195.8,649.9 1196.3,658.5 1196.8,647.1 1197.3,663.9 1197.8,647.4 1198.3,664.7 1198.8,650.9 1199.3,660.4 1199.8,648.6 1200.3,665.2 1200.8,647.7 1201.3,669.4 1201.8,649.9 1202.3,668.4 1202.8,646.3 1203.3,670.9 1203.8,648.8 1204.3,671.8 1204.8,654.9 1205.3,666.4 1205.8,654.5 1206.3,666.3 1206.8,654.9 1207.3,668.5 1207.8,653.8 1208.3,675.3 1208.8,655.6 1209.3,672.8 1209.8,654.1 1210.3,671.9 1210.8,651.3 1211.3,673.2 1211.8,655.7 1212.3,676.3 1212.8,651.3 1213.3,674.7 1213.8,655.9 1214.3,679.5 1214.8,653.0 1215.3,675.9 1215.8,651.8 1216.3,671.3 1216.8,654.6 1217.3,678.4 1217.8,656.9 1218.3,677.5 1218.8,656.6 1219.3,670.2 1219.8,654.6 1220.3,667.4 1220.8,654.4 1221.3,674.3 1221.8,656.7 1222.3,666.3 1222.8,656.0 1223.3,669.4 1223.8,649.6 1224.3,665.6 1224.8,653.3 1225.3,664.7 1225.8,659.7 1226.3,669.8 1226.8,653.7 1227.3,666.9 1227.8,654.9 1228.3,676.5 1228.8,654.7 1229.3,672.9 1229.8,650.8 1230.3,677.4 1230.8,656.7 1231.3,678.5 1231.8,658.3 1232.3,674.5 1232.8,656.2 1233.3,673.9 1233.8,653.8 1234.3,674.3 1234.8,653.4 1235.3,679.4 1235.8,658.2 1236.3,677.1 1236.8,651.1 1237.3,674.8 1237.8,661.8 1238.3,680.7 1238.8,664.5 1239.3,675.3 1239.8,657.0 1240.3,677.9 1240.8,658.8 1241.3,679.7 1241.8,663.4 1242.3,674.4 1242.8,658.1 1243.3,675.8 1243.8,658.1 1244.3,679.7 1244.8,663.2 1245.3,680.8 1245.8,663.3 1246.3,674.8 1246.8,658.7 1247.3,680.7 1247.8,660.0 1248.3,681.9 1248.8,657.8 1249.3,681.2 1249.8,656.4 1250.3,673.8 1250.8,658.8 1251.3,673.8 1251.8,658.7 1252.3,672.5 1252.8,653.7 1253.3,673.6 1253.8,659.9 1254.3,673.5 1254.8,659.2 1255.3,674.5 1255.8,660.0 1256.3,675.2 1256.8,659.3 1257.3,675.3 1257.8,657.5 1258.3,674.9 1258.8,659.3 1259.3,679.3 1259.8,661.4 1260.3,675.2 1260.8,662.9 1261.3,681.4 1261.8,660.6 1262.3,680.4 1262.8,658.6 1263.3,677.9 1263.8,662.4 1264.3,675.8 1264.8,663.5 1265.3,681.1 1265.8,664.4 1266.3,680.4 1266.8,667.9 1267.3,684.3 1267.8,669.2 1268.3,680.1 1268.8,664.6 1269.3,681.2 1269.8,668.7 1270.3,687.1 1270.8,664.8 1271.3,688.5 1271.8,669.1 1272.3,691.1 1272.8,662.2 1273.3,686.9 1273.8,674.1 1274.3,683.9 1274.8,673.0 1275.3,686.0 1275.8,671.4 1276.3,682.7 1276.8,673.4 1277.3,687.2 1277.8,674.1 1278.3,685.2 1278.8,673.3 1279.3,685.4 1279.8,679.0 1280.3,686.6 1280.8,676.4 1281.3,687.0 1281.8,669.4 1282.3,686.3 1282.8,671.4 1283.3,695.4 1283.8,668.3 1284.3,685.4 1284.8,673.0 1285.3,683.8 1285.8,677.3 1286.3,683.1 1286.8,670.3 1287.3,686.4 1287.8,676.3 1288.3,685.9 1288.8,668.1 1289.3,689.6 1289.8,665.4 1290.3,686.9 1290.8,669.6 1291.3,685.4 1291.8,670.7 1292.3,685.3 1292.8,667.5 1293.3,685.2 1293.8,668.5 1294.3,683.6 1294.8,665.5 1295.3,681.8 1295.8,670.9 1296.3,679.6 1296.8,663.6 1297.3,687.2 1297.8,666.0 1298.3,687.6 1298.8,669.2 1299.3,684.5 1299.8,669.7 1300.3,684.5 1300.8,667.3 1301.3,686.6 1301.8,673.3 1302.3,684.2 1302.8,673.2 1303.3,686.8 1303.8,669.0 1304.3,691.7 1304.8,672.6 1305.3,690.0 1305.8,677.1 1306.3,689.3 1306.8,672.1 1307.3,690.5 1307.8,677.2 1308.3,693.7 1308.8,674.2 1309.3,692.7 1309.8,673.3 1310.3,690.1 1310.8,676.1 1311.3,690.8 1311.8,676.7 1312.3,689.2 1312.8,679.3 1313.3,687.2 1313.8,673.4 1314.3,687.9 1314.8,675.4 1315.3,697.1 1315.8,671.6 1316.3,688.1 1316.8,672.0 1317.3,693.6 1317.8,676.3 1318.3,686.6 1318.8,678.2 1319.3,694.1 1319.8,675.1 1320.3,693.1 1320.8,679.4 1321.3,694.2 1321.8,677.2 1322.3,686.3 1322.8,679.6 1323.3,693.1 1323.8,678.5 1324.3,695.1 1324.8,678.1 1325.3,690.1 1325.8,669.0 1326.3,692.1 1326.8,670.1 1327.3,692.1 1327.8,674.8 1328.3,688.6 1328.8,673.7 1329.3,689.0 1329.8,676.4 1330.3,694.4 1330.8,666.9 1331.3,683.4 1331.8,669.8 1332.3,688.8 1332.8,677.5 1333.3,687.8 1333.8,674.5 1334.3,662.7 1334.8,657.2 1335.3,651.7 1335.8,647.8 1336.3,645.7 1336.8,645.8 1337.3,647.2 1337.8,651.6 1338.3,657.5 1338.8,662.2 1339.3,668.4 1339.8,672.9 1340.3,678.0 1340.8,671.5 1341.3,692.4 1341.8,675.7 1342.3,691.9 1342.8,678.0 1343.3,695.7 1343.8,680.9 1344.3,694.4 1344.8,674.6 1345.3,700.0 1345.8,686.1 1346.3,694.0 1346.8,678.4 1347.3,695.4 1347.8,676.4 1348.3,698.0 1348.8,677.8 1349.3,694.8 1349.8,683.2 1350.3,692.1 1350.8,679.0 1351.3,692.6 1351.8,680.0 1352.3,693.4 1352.8,679.1 1353.3,689.5 1353.8,678.1 1354.3,696.2 1354.8,673.3 1355.3,688.2 1355.8,678.7 1356.3,697.1 1356.8,673.7 1357.3,694.4 1357.8,682.0 1358.3,696.6 1358.8,673.4 1359.3,695.7 1359.8,681.7 1360.3,694.4 1360.8,678.8 1361.3,695.4 1361.8,674.8 1362.3,696.0 1362.8,674.5 1363.3,694.5 1363.8,683.5 1364.3,696.4 1364.8,679.9 1365.3,697.2 1365.8,680.6 1366.3,696.2 1366.8,678.1 1367.3,697.4 1367.8,679.4 1368.3,699.9 1368.8,685.7 1369.3,692.2 1369.8,682.8 1370.3,693.0 1370.8,678.1 1371.3,694.1 1371.8,679.5 1372.3,700.8 1372.8,682.6 1373.3,693.1 1373.8,675.9 1374.3,698.9 1374.8,672.7 1375.3,695.2 1375.8,682.3 1376.3,697.3 1376.8,681.2 1377.3,700.7 1377.8,676.5 1378.3,696.3 1378.8,679.9 1379.3,693.0 1379.8,685.9 1380.3,695.3 1380.8,679.0 1381.3,695.0 1381.8,681.1 1382.3,693.7 1382.8,685.2 1383.3,694.1 1383.8,681.8 1384.3,693.3 1384.8,679.4 1385.3,693.3 1385.8,677.6 1386.3,699.1 1386.8,682.4 1387.3,696.4 1387.8,682.3 1388.3,694.3 1388.8,678.4 1389.3,703.3 1389.8,686.5 1390.3,700.4 1390.8,686.6 1391.3,696.5 1391.8,682.5 1392.3,700.8 1392.8,685.1 1393.3,698.3 1393.8,685.5 1394.3,698.9 1394.8,681.1 1395.3,693.6 1395.8,676.2 1396.3,697.3 1396.8,678.5 1397.3,695.9 1397.8,683.7 1398.3,695.5 1398.8,677.2 1399.3,699.4 1399.8,682.7 1400.3,691.8 1400.8,683.5 1401.3,702.0 1401.8,683.6 1402.3,695.4 1402.8,682.3 1403.3,694.3 1403.8,685.7 1404.3,699.9 1404.8,683.6 1405.3,695.8 1405.8,684.4 1406.3,698.8 1406.8,677.7 1407.3,702.7 1407.8,682.7 1408.3,700.1 1408.8,679.9 1409.3,696.7 1409.8,686.9 1410.3,706.1 1410.8,686.0 1411.3,698.3 1411.8,682.9 1412.3,698.4 1412.8,685.7 1413.3,698.7 1413.8,682.2 1414.3,700.2 1414.8,680.4 1415.3,699.6 1415.8,682.0 1416.3,700.1 1416.8,683.7 1417.3,703.7 1417.8,683.4 1418.3,700.7 1418.8,679.9 1419.3,702.6 1419.8,687.1 1420.3,699.5 1420.8,688.3 1421.3,702.2 1421.8,682.5 1422.3,700.2 1422.8,687.1 1423.3,699.8 1423.8,684.8 1424.3,707.5 1424.8,688.4 1425.3,702.6 1425.8,684.1 1426.3,699.3 1426.8,690.0 1427.3,702.6 1427.8,691.1 1428.3,700.3 1428.8,688.6 1429.3,697.5 1429.8,684.0 1430.3,700.0 1430.8,686.1 1431.3,707.1 1431.8,683.1 1432.3,707.9 1432.8,686.9 1433.3,699.0 1433.8,688.1 1434.3,703.5 1434.8,691.0 1435.3,703.9 1435.8,689.3 1436.3,703.3 1436.8,690.7 1437.3,704.3 1437.8,690.5 1438.3,703.4 1438.8,688.5 1439.3,702.5 1439.8,693.6 1440.3,705.6 1440.8,691.7 1441.3,707.4 1441.8,689.7 1442.3,709.1 1442.8,686.1 1443.3,706.0 1443.8,692.0 1444.3,705.5 1444.8,694.2 1445.3,703.7 1445.8,692.5 1446.3,708.4 1446.8,694.2 1447.3,703.6 1447.8,691.4 1448.3,710.4 1448.8,689.9 1449.3,712.2 1449.8,691.6 1450.3,712.5 1450.8,688.6 1451.3,701.0 1451.8,694.3 1452.3,703.7 1452.8,691.5 1453.3,707.2 1453.8,690.2 1454.3,701.8 1454.8,691.5 1455.3,704.6 1455.8,693.6 1456.3,704.8 1456.8,690.7 1457.3,708.0 1457.8,690.6 1458.3,701.7 1458.8,692.2 1459.3,703.3 1459.8,689.5 1460.3,705.3 1460.8,690.0 1461.3,702.6 1461.8,693.2 1462.3,704.3 1462.8,690.7 1463.3,708.6 1463.8,691.4 1464.3,704.1 1464.8,691.1 1465.3,705.2 1465.8,689.2 1466.3,703.9 1466.8,691.3 1467.3,702.6 1467.8,691.9 1468.3,709.7 1468.8,689.6 1469.3,712.1 1469.8,697.0 1470.3,707.5 1470.8,692.0 1471.3,705.8 1471.8,690.8 1472.3,708.1 1472.8,692.1 1473.3,707.9 1473.8,690.2 1474.3,707.8 1474.8,690.9 1475.3,711.1 1475.8,695.2 1476.3,712.3 1476.8,694.3 1477.3,707.5 1477.8,690.4 1478.3,708.7 1478.8,690.8 1479.3,710.6 1479.8,689.4 1480.3,704.9 1480.8,692.4 1481.3,711.3 1481.8,690.2 1482.3,706.1 1482.8,695.2 1483.3,710.2 1483.8,694.7 1484.3,713.5 1484.8,692.0 1485.3,709.2 1485.8,694.2 1486.3,708.5 1486.8,699.2 1487.3,712.6 1487.8,696.4 1488.3,710.4 1488.8,698.3 1489.3,709.9 1489.8,693.4 1490.3,709.5 1490.8,691.3 1491.3,707.0 1491.8,692.1 1492.3,707.3 1492.8,692.6 1493.3,710.9 1493.8,698.8 1494.3,707.0 1494.8,689.8 1495.3,707.4 1495.8,696.7 1496.3,707.5 1496.8,692.3 1497.3,713.2 1497.8,694.4 1498.3,706.8 1498.8,693.6 1499.3,706.4 1499.8,692.6 1500.3,708.0 1500.8,690.9 1501.3,707.3 1501.8,695.2 1502.3,709.6 1502.8,693.5 1503.3,706.6 1503.8,690.7 1504.3,708.1 1504.8,692.2 1505.3,710.3 1505.8,695.6 1506.3,706.8 1506.8,695.7 1507.3,708.5 1507.8,697.3 1508.3,713.1 1508.8,692.5 1509.3,708.6 1509.8,698.3 1510.3,711.1 1510.8,690.8 1511.3,716.1 1511.8,693.9 1512.3,718.5 1512.8,694.5 1513.3,711.7 1513.8,696.7 1514.3,711.3 1514.8,696.1 1515.3,713.4 1515.8,699.5 1516.3,712.0 1516.8,694.0 1517.3,708.7 1517.8,701.2 1518.3,711.2 1518.8,698.2 1519.3,711.9 1519.8,695.8 1520.3,711.8 1520.8,698.6 1521.3,711.8 1521.8,700.3 1522.3,709.5 1522.8,699.2 1523.3,712.3 1523.8,693.4 1524.3,712.4 1524.8,699.8 1525.3,715.2 1525.8,698.9 1526.3,709.7 1526.8,697.5 1527.3,708.8 1527.8,691.2 1528.3,706.0 1528.8,694.9 1529.3,712.3 1529.8,696.1 1530.3,709.1 1530.8,697.5 1531.3,714.7 1531.8,694.0 1532.3,709.4 1532.8,692.7 1533.3,707.0 1533.8,697.9 1534.3,706.9 1534.8,697.5 1535.3,711.6 1535.8,699.5 1536.3,710.0 1536.8,693.5 1537.3,711.2 1537.8,700.5 1538.3,709.5 1538.8,697.5 1539.3,716.1 1539.8,703.7 1540.3,712.5 1540.8,698.8 1541.3,712.1 1541.8,702.4 1542.3,713.1 1542.8,703.6 1543.3,717.8 1543.8,698.2 1544.3,719.6 1544.8,701.5 1545.3,711.9 1545.8,696.8 1546.3,713.8 1546.8,699.7 1547.3,712.8 1547.8,694.3 1548.3,716.4 1548.8,703.0 1549.3,714.2 1549.8,699.1 1550.3,714.3 1550.8,691.1 1551.3,709.8 1551.8,697.2 1552.3,710.7 1552.8,696.6 1553.3,716.0 1553.8,701.1 1554.3,710.3 1554.8,696.5 1555.3,708.9 1555.8,697.9 1556.3,715.4 1556.8,699.7 1557.3,712.5 1557.8,697.4 1558.3,710.3 1558.8,696.7 1559.3,709.6 1559.8,693.8 1560.3,706.9 1560.8,697.4 1561.3,703.4 1561.8,691.4 1562.3,708.9 1562.8,694.1 1563.3,710.4 1563.8,694.9 1564.3,692.8 1564.8,691.2 1565.3,691.8 1565.8,692.6 1566.3,694.6 1566.8,696.7 1567.3,705.7 1567.8,692.9 1568.3,710.7 1568.8,693.2 1569.3,710.9 1569.8,691.6 1570.3,705.5 1570.8,694.7 1571.3,711.0 1571.8,696.0 1572.3,704.5 1572.8,696.3 1573.3,713.5 1573.8,694.7 1574.3,705.9 1574.8,695.9 1575.3,706.1 1575.8,697.0 1576.3,713.9 1576.8,690.0 1577.3,709.6 1577.8,696.4 1578.3,714.3 1578.8,690.2 1579.3,707.4 1579.8,695.1 1580.3,706.8 1580.8,690.9 1581.3,707.1 1581.8,690.7 1582.3,708.0 1582.8,692.8 1583.3,707.5 1583.8,689.3 1584.3,712.0 1584.8,690.2 1585.3,709.9 1585.8,695.7 1586.3,712.5 1586.8,696.3 1587.3,707.0 1587.8,690.7 1588.3,705.2 1588.8,695.1 1589.3,707.6 1589.8,696.3 1590.3,715.2 1590.8,698.7 1591.3,713.5 1591.8,695.4 1592.3,712.7 1592.8,697.5 1593.3,710.8 1593.8,700.5 1594.3,710.3 1594.8,700.7 1595.3,716.5 1595.8,702.5 1596.3,715.9 1596.8,697.7 1597.3,713.2 1597.8,702.5 1598.3,719.6 1598.8,703.5 1599.3,712.2 1599.8,694.9 1600.3,709.1 1600.8,698.8 1601.3,706.6 1601.8,699.0 1602.3,714.9 1602.8,696.4 1603.3,716.1 1603.8,700.4 1604.3,709.6 1604.8,699.3 1605.3,709.8 1605.8,691.8 1606.3,707.7 1606.8,696.9 1607.3,708.0 1607.8,696.7 1608.3,715.0 1608.8,698.5 1609.3,710.6 1609.8,699.9 1610.3,710.9 1610.8,698.6 1611.3,711.9 1611.8,697.7 1612.3,711.3 1612.8,700.6 1613.3,723.6 1613.8,703.5 1614.3,715.8 1614.8,705.4 1615.3,715.0 1615.8,706.5 1616.3,719.7 1616.8,703.7 1617.3,713.5 1617.8,702.8 1618.3,714.7 1618.8,702.7 1619.3,717.8 1619.8,703.7 1620.3,717.6 1620.8,702.0 1621.3,716.1 1621.8,701.5 1622.3,716.4 1622.8,697.1 1623.3,717.7 1623.8,702.0 1624.3,720.7 1624.8,703.2 1625.3,714.5 1625.8,695.8 1626.3,716.8 1626.8,703.3 1627.3,719.0 1627.8,700.3 1628.3,715.4 1628.8,706.1 1629.3,715.1 1629.8,700.6 1630.3,715.5 1630.8,700.6 1631.3,713.1 1631.8,700.9 1632.3,720.6 1632.8,703.0 1633.3,713.1 1633.8,702.6 1634.3,715.6 1634.8,699.6 1635.3,718.0 1635.8,702.4 1636.3,715.1 1636.8,697.6 1637.3,721.0 1637.8,702.9 1638.3,713.9 1638.8,699.5 1639.3,714.0 1639.8,701.0 1640.3,717.1 1640.8,700.7 1641.3,721.0 1641.8,698.8 1642.3,719.0 1642.8,705.4 1643.3,716.6 1643.8,699.1 1644.3,718.9 1644.8,702.4 1645.3,719.2 1645.8,701.8 1646.3,715.3 1646.8,699.4 1647.3,715.4 1647.8,702.7 1648.3,715.4 1648.8,699.9 1649.3,711.1 1649.8,702.9 1650.3,715.3 1650.8,702.2 1651.3,713.7 1651.8,703.9 1652.3,714.5 1652.8,702.3 1653.3,718.4 1653.8,698.0 1654.3,710.9 1654.8,701.7 1655.3,718.5 1655.8,700.7 1656.3,709.5 1656.8,696.2 1657.3,712.5 1657.8,701.8 1658.3,713.8 1658.8,702.1 1659.3,714.3 1659.8,700.0 1660.3,709.9 1660.8,695.3 1661.3,714.6 1661.8,695.7 1662.3,710.7 1662.8,698.6 1663.3,711.1 1663.8,698.4 1664.3,712.3 1664.8,698.8 1665.3,711.2 1665.8,702.0 1666.3,714.1 1666.8,698.7 1667.3,711.2 1667.8,703.0 1668.3,718.6 1668.8,696.6 1669.3,711.7 1669.8,700.2 1670.3,713.9 1670.8,700.8 1671.3,721.4 1671.8,696.7 1672.3,719.3 1672.8,694.5 1673.3,722.7 1673.8,696.9 1674.3,710.9 1674.8,701.3 1675.3,716.9 1675.8,702.5 1676.3,711.0 1676.8,698.4 1677.3,711.9 1677.8,703.2 1678.3,718.8 1678.8,698.3 1679.3,716.0 1679.8,702.3 1680.3,714.2 1680.8,703.1 1681.3,716.4 1681.8,697.3 1682.3,708.8 1682.8,700.3 1683.3,710.1 1683.8,701.5 1684.3,713.2 1684.8,702.1 1685.3,714.3 1685.8,698.0 1686.3,720.6 1686.8,696.2 1687.3,711.6 1687.8,699.0 1688.3,708.3 1688.8,699.0 1689.3,708.5 1689.8,698.0 1690.3,714.3 1690.8,698.5 1691.3,712.1 1691.8,698.9 1692.3,709.2 1692.8,696.2 1693.3,712.2 1693.8,700.2 1694.3,711.3 1694.8,701.2 1695.3,714.0 1695.8,697.1 1696.3,710.9 1696.8,701.5 1697.3,719.1 1697.8,707.2 1698.3,720.2 1698.8,705.9 1699.3,722.5 1699.8,702.3 1700.3,713.6 1700.8,704.0 1701.3,719.1 1701.8,700.7 1702.3,718.6 1702.8,710.0 1703.3,723.0 1703.8,706.9 1704.3,726.0 1704.8,708.4 1705.3,723.3 1705.8,705.8 1706.3,718.9 1706.8,705.1 1707.3,725.0 1707.8,707.6 1708.3,719.7 1708.8,707.6 1709.3,722.4 1709.8,704.3 1710.3,717.5 1710.8,708.9 1711.3,718.7 1711.8,703.9 1712.3,721.3 1712.8,709.5 1713.3,721.4 1713.8,707.7 1714.3,721.5 1714.8,705.8 1715.3,715.6 1715.8,701.0 1716.3,714.4 1716.8,704.5 1717.3,717.4 1717.8,702.9 1718.3,716.2 1718.8,698.6 1719.3,718.3 1719.8,699.6 1720.3,715.8 1720.8,699.6 1721.3,712.2 1721.8,694.5 1722.3,718.8 1722.8,704.5 1723.3,716.9 1723.8,707.9 1724.3,713.6 1724.8,703.2 1725.3,715.8 1725.8,696.7 1726.3,719.3 1726.8,703.5 1727.3,711.7 1727.8,699.2 1728.3,715.0 1728.8,703.6 1729.3,714.5 1729.8,698.7 1730.3,720.7 1730.8,700.3 1731.3,712.0 1731.8,704.7 1732.3,719.1 1732.8,701.5 1733.3,717.1 1733.8,703.3 1734.3,710.1 1734.8,698.7 1735.3,718.1 1735.8,695.2 1736.3,711.8 1736.8,699.4 1737.3,712.5 1737.8,699.5 1738.3,711.0 1738.8,700.2 1739.3,710.6 1739.8,700.3 1740.3,714.3 1740.8,697.3 1741.3,712.2 1741.8,702.6 1742.3,715.1 1742.8,696.7 1743.3,711.3 1743.8,702.1 1744.3,709.2 1744.8,702.3 1745.3,715.3 1745.8,698.4 1746.3,715.9 1746.8,698.0 1747.3,714.8 1747.8,702.0 1748.3,714.7 1748.8,703.5 1749.3,718.8 1749.8,700.3 1750.3,721.3 1750.8,705.2 1751.3,718.6 1751.8,708.4 1752.3,715.9 1752.8,705.6 1753.3,714.9 1753.8,704.4 1754.3,719.7 1754.8,707.1 1755.3,715.9 1755.8,701.9 1756.3,717.2 1756.8,707.8 1757.3,716.7 1757.8,707.6 1758.3,723.0 1758.8,700.3 1759.3,715.5 1759.8,702.6 1760.3,717.9 1760.8,702.8 1761.3,717.2 1761.8,706.7 1762.3,721.1 1762.8,707.4 1763.3,718.6 1763.8,704.9 1764.3,714.7 1764.8,704.9 1765.3,714.3 1765.8,707.4 1766.3,716.2 1766.8,705.3 1767.3,717.7 1767.8,702.4 1768.3,714.9 1768.8,697.8 1769.3,719.8 1769.8,705.2 1770.3,715.0 1770.8,701.2 1771.3,713.7 1771.8,699.4 1772.3,714.9 1772.8,698.7 1773.3,713.6 1773.8,698.9 1774.3,713.6 1774.8,699.0 1775.3,716.3 1775.8,703.4 1776.3,719.4 1776.8,707.6 1777.3,713.8 1777.8,704.0 1778.3,716.1 1778.8,705.4 1779.3,718.8 1779.8,704.3 1780.3,718.8 1780.8,702.4 1781.3,721.0 1781.8,707.5 1782.3,717.7 1782.8,704.2 1783.3,716.0 1783.8,700.6 1784.3,713.9 1784.8,702.2 1785.3,715.3 1785.8,699.1 1786.3,714.2 1786.8,702.2 1787.3,719.7 1787.8,701.3 1788.3,713.9 1788.8,706.3 1789.3,719.4 1789.8,703.8 1790.3,718.2 1790.8,704.2 1791.3,718.8 1791.8,704.4 1792.3,718.9 1792.8,705.5 1793.3,721.6 1793.8,703.6 1794.3,720.4 1794.8,708.6 1795.3,723.1 1795.8,706.3 1796.3,718.6 1796.8,709.0 1797.3,726.1 1797.8,708.6 1798.3,718.4 1798.8,708.3 1799.3,720.9 1799.8,702.7 1800.3,724.2 1800.8,704.1 1801.3,719.3 1801.8,701.3 1802.3,720.8 1802.8,708.5 1803.3,722.4 1803.8,708.1 1804.3,717.0 1804.8,707.8 1805.3,719.4 1805.8,706.5 1806.3,719.8 1806.8,707.7 1807.3,718.8 1807.8,705.6 1808.3,722.7 1808.8,706.5 1809.3,719.6 1809.8,703.5 1810.3,721.2 1810.8,710.0 1811.3,724.5 1811.8,707.7 1812.3,716.0 1812.8,709.6 1813.3,722.4 1813.8,710.3 1814.3,721.9 1814.8,711.4 1815.3,723.8 1815.8,705.3 1816.3,724.3 1816.8,709.6 1817.3,721.3 1817.8,706.6 1818.3,725.6 1818.8,708.4 1819.3,724.0 1819.8,704.7 1820.3,723.0 1820.8,701.4 1821.3,719.8 1821.8,709.5 1822.3,718.7 1822.8,707.2 1823.3,723.9 1823.8,701.7 1824.3,723.3 1824.8,701.3 1825.3,722.2 1825.8,709.3 1826.3,717.8 1826.8,707.6 1827.3,718.3 1827.8,707.0 1828.3,724.0 1828.8,705.6 1829.3,719.5 1829.8,705.5 1830.3,722.1 1830.8,709.1 1831.3,722.0 1831.8,708.8 1832.3,721.2 1832.8,703.5 1833.3,720.5 1833.8,709.5 1834.3,720.9 1834.8,708.1 1835.3,720.6 1835.8,707.3 1836.3,718.5 1836.8,707.1 1837.3,717.2 1837.8,706.9 1838.3,718.0 1838.8,702.8 1839.3,713.5 1839.8,699.5 1840.3,721.4 1840.8,699.5 1841.3,718.7 1841.8,701.5 1842.3,718.7 1842.8,701.5 1843.3,723.5 1843.8,707.5 1844.3,718.4 1844.8,709.6 1845.3,719.9 1845.8,706.3 1846.3,716.3 1846.8,699.3 1847.3,724.3 1847.8,706.0 1848.3,723.5 1848.8,709.0 1849.3,718.6 1849.8,707.9 1850.3,721.6 1850.8,706.0 1851.3,718.5 1851.8,703.8 1852.3,720.9 1852.8,705.4 1853.3,718.3 1853.8,708.7 1854.3,723.4 1854.8,703.8 1855.3,721.7 1855.8,707.3 1856.3,720.3 1856.8,703.4 1857.3,722.9 1857.8,709.5 1858.3,726.8 1858.8,710.6 1859.3,727.0 1859.8,705.0 1860.3,718.3 1860.8,707.4 1861.3,721.5 1861.8,702.4 1862.3,722.6 1862.8,704.8 1863.3,725.1 1863.8,710.4 1864.3,720.9 1864.8,709.7 1865.3,726.3 1865.8,704.8 1866.3,717.6 1866.8,710.0 1867.3,716.9 1867.8,702.8 1868.3,722.1 1868.8,701.5 1869.3,718.1 1869.8,707.2 1870.3,715.6 1870.8,699.5 1871.3,724.4 1871.8,703.3 1872.3,717.4 1872.8,703.2 1873.3,717.9 1873.8,704.3 1874.3,718.5 1874.8,706.6 1875.3,717.9 1875.8,707.5 1876.3,722.8 1876.8,707.3 1877.3,715.1 1877.8,702.6 1878.3,723.3 1878.8,704.1 1879.3,715.8 1879.8,703.8 1880.3,718.2 1880.8,700.1 1881.3,721.1 1881.8,705.1 1882.3,725.9 1882.8,706.2 1883.3,722.8 1883.8,708.5 1884.3,720.3 1884.8,709.2 1885.3,721.4 1885.8,706.5 1886.3,720.9 1886.8,704.6 1887.3,721.0 1887.8,703.6 1888.3,721.0 1888.8,707.3 1889.3,719.5 1889.8,710.9 1890.3,721.0 1890.8,708.5 1891.3,724.5 1891.8,701.6 1892.3,718.6 1892.8,711.6 1893.3,719.8"/></g>
<g stroke="#000080"><path class="core" d="M308.8,40.0 310.8,84.8 312.8,112.7 314.8,128.7 316.8,139.0 318.8,147.8 320.8,157.9 322.8,168.1 324.8,178.8 326.8,190.4 328.8,202.7 330.8,214.9 332.8,227.4 334.8,238.5 336.8,247.0 338.8,254.1 340.8,262.0 342.8,272.0 344.8,282.6 346.8,293.1 348.8,303.1 350.8,311.6 352.8,319.4 354.8,327.4 356.8,336.7 358.8,346.9 360.8,356.3 362.8,364.0 364.8,371.3 366.8,379.1 368.8,389.2 370.8,400.0 372.8,407.6 374.8,413.5 376.8,418.3 378.8,421.7 380.8,424.2 382.8,426.4 384.8,427.7 386.8,428.0 388.8,427.4 390.8,426.5 392.8,425.1 394.8,423.5 396.8,421.8 398.8,420.0 400.8,418.3 402.8,416.3 404.8,414.0 406.8,411.6 408.8,409.0 410.8,406.3 412.8,403.7 414.8,401.2 416.8,398.8 418.8,396.2 420.8,393.5 422.8,390.9 424.8,388.4 426.8,386.2 428.8,384.4 430.8,383.0 432.8,381.7 434.8,380.6 436.8,379.5 438.8,378.6 440.8,377.8 442.8,377.1 444.8,376.5 446.8,376.1 448.8,375.6 450.8,375.1 452.8,374.7 454.8,374.4 456.8,374.2 458.8,374.0 460.8,374.0 462.8,374.5 464.8,375.5 466.8,376.9 468.8,378.6 470.8,380.5 472.8,382.5 474.8,384.7 476.8,386.8 478.8,389.1 480.8,391.7 482.8,394.7 484.8,398.0 486.8,401.4 488.8,404.9 490.8,408.4 492.8,412.2 494.8,416.2 496.8,420.3 498.8,424.5 500.8,428.6 502.8,432.6 504.8,436.6 506.8,440.6 508.8,444.6 510.8,448.5 512.8,452.2 514.8,455.7 516.8,459.0 518.8,462.2 520.8,465.3 522.8,468.2 524.8,470.9 526.8,473.3 528.8,475.3 530.8,477.1 532.8,478.8 534.8,480.3 536.8,482.0 538.8,483.8 540.8,485.9 542.8,488.7 544.8,491.9 546.8,495.1 548.8,498.0 550.8,500.2 552.8,501.4 554.8,502.3 556.8,503.2 558.8,503.9 560.8,504.5 562.8,504.9 564.8,505.0 566.8,504.9 568.8,504.7 570.8,504.3 572.8,503.8 574.8,503.4 576.8,502.9 577.5,502.7 578.2,502.6 578.8,502.5 579.0,502.4 579.8,502.3 580.5,501.9 580.8,501.5 581.2,500.7 582.0,498.0 582.8,494.5 582.8,494.3 583.5,492.8 584.2,494.5 584.8,497.1 585.0,498.1 585.8,500.8 586.5,502.1 586.8,502.4 587.2,502.6 588.0,503.0 588.8,503.3 588.8,503.3 589.5,503.6 590.8,504.3 592.8,505.4 594.8,506.6 596.8,507.7 598.8,508.8 600.8,509.6 602.8,510.2 604.8,510.8 606.8,511.3 608.8,511.8 610.8,512.3 612.8,512.8 614.8,513.2 616.8,513.6 618.8,514.0 620.8,514.3 622.8,514.6 624.8,514.8 626.8,515.0 628.8,515.1 630.8,515.3 632.8,515.4 634.8,515.6 636.8,515.7 638.8,515.8 640.8,515.9 642.8,515.9 644.8,516.0 646.8,516.0 648.8,516.0 650.8,515.9 652.8,515.9 654.8,515.8 656.8,515.7 658.8,515.5 660.8,515.4 662.8,515.2 664.8,515.0 666.8,514.6 668.8,513.5 670.8,512.1 672.8,510.4 674.8,508.6 676.8,506.7 678.8,505.0 680.8,503.5 682.8,502.5 684.8,502.0 686.8,501.7 688.8,501.5 690.8,501.4 692.8,501.2 694.8,501.1 696.8,501.0 698.8,500.9 700.8,500.8 702.8,500.8 704.8,500.7 706.8,500.6 708.8,500.5 710.8,500.3 712.8,500.2 714.8,500.0 716.8,499.8 718.8,499.5 720.8,499.2 722.8,498.9 724.8,498.5 726.8,498.2 728.8,497.8 730.8,497.3 732.8,496.8 734.8,496.3 736.8,495.8 738.8,495.2 740.8,494.5 742.8,493.5 744.8,492.4 746.8,491.3 748.5,490.5 748.8,490.4 749.2,490.2 750.0,490.0 750.8,489.7 750.8,489.6 751.5,488.7 752.2,485.4 752.8,480.3 753.0,477.8 753.8,467.8 754.5,462.8 754.8,463.5 755.2,467.5 756.0,477.3 756.8,484.5 756.8,484.9 757.5,487.5 758.2,488.2 758.8,488.3 759.0,488.3 759.8,488.2 760.5,488.1 760.8,488.0 762.0,487.9 762.8,487.8 762.8,487.8 763.5,487.7 764.2,487.4 764.8,486.7 765.0,486.2 765.8,482.0 766.5,472.3 766.8,467.0 767.2,459.3 768.0,452.8 768.8,459.1 768.8,459.9 769.5,472.0 770.2,481.6 770.8,484.9 771.0,485.6 771.8,486.6 772.5,486.7 772.8,486.7 773.2,486.6 774.0,486.6 774.8,486.5 776.8,486.3 778.8,486.0 780.8,485.8 782.8,485.6 784.8,485.3 786.8,485.0 788.8,484.6 790.8,484.2 792.8,483.8 794.8,483.3 796.8,482.7 798.8,482.2 800.8,481.5 802.8,480.9 804.8,480.2 806.8,479.6 808.8,478.9 810.8,478.2 812.8,477.5 814.8,476.9 816.8,476.3 818.8,475.7 820.8,475.1 822.8,474.6 824.8,474.2 826.8,473.8 828.8,473.5 830.8,473.2 832.8,472.8 834.8,472.5 836.8,472.2 838.8,471.9 840.8,471.6 842.8,471.3 844.8,471.1 846.8,470.8 848.8,470.6 850.8,470.4 852.8,470.3 854.8,470.1 856.8,470.1 858.8,470.0 860.8,470.0 862.8,470.2 864.8,470.7 866.8,471.3 868.8,472.1 870.8,473.0 872.8,474.0 874.8,475.0 876.8,476.1 878.8,477.1 880.8,478.1 882.8,479.0 884.8,479.8 886.8,480.4 888.8,480.8 890.8,481.1 892.8,481.3 894.8,481.5 896.8,481.6 898.8,481.8 900.8,481.9 902.8,482.1 904.8,482.2 906.8,482.3 908.8,482.4 910.8,482.4 912.8,482.5 914.8,482.5 916.8,482.5 918.8,482.3 920.8,482.2 922.8,481.9 924.8,481.6 926.8,481.4 928.8,481.1 930.8,480.8 932.8,480.5 934.8,480.3 936.8,480.1 938.8,480.0 940.8,480.0 942.8,480.3 944.8,480.8 946.8,481.5 948.8,482.3 950.8,483.3 952.8,484.3 954.8,485.4 956.8,486.4 958.8,487.4 960.8,488.2 962.8,488.9 964.8,489.5 966.8,489.8 968.8,490.2 970.8,490.6 971.0,490.6 971.8,490.8 972.5,490.9 972.8,490.9 973.2,490.9 974.0,490.4 974.8,487.9 974.8,487.6 975.5,481.7 976.2,473.5 976.8,469.7 977.0,469.4 977.8,473.7 978.5,482.2 978.8,485.2 979.2,488.6 980.0,491.3 980.8,492.1 980.8,492.1 981.5,492.3 982.2,492.4 982.8,492.5 983.0,492.5 984.8,492.7 986.8,492.8 988.8,492.9 990.8,493.0 992.8,493.0 994.8,492.8 996.8,492.4 998.8,491.9 1000.8,491.3 1002.8,490.7 1004.8,490.1 1006.8,489.4 1008.8,488.7 1010.8,487.9 1012.8,487.2 1014.8,486.6 1016.8,486.0 1018.8,485.5 1020.8,485.0 1022.8,484.4 1024.8,483.9 1026.8,483.5 1028.8,483.0 1030.8,482.6 1032.8,482.3 1034.8,482.0 1036.8,481.8 1038.8,481.7 1040.8,481.7 1042.8,481.7 1044.8,481.7 1046.8,481.7 1048.8,481.7 1049.0,481.7 1049.8,481.7 1050.5,481.7 1050.8,481.7 1051.2,481.7 1052.0,481.2 1052.8,479.4 1052.8,479.2 1053.5,475.2 1054.2,469.6 1054.8,467.0 1055.0,466.8 1055.8,469.6 1056.5,475.2 1056.8,477.3 1057.2,479.5 1058.0,481.3 1058.8,481.8 1058.8,481.8 1059.5,481.9 1060.2,481.9 1060.8,481.9 1061.0,481.9 1062.8,482.0 1064.8,482.0 1066.8,482.1 1068.8,482.1 1070.8,482.2 1072.8,482.2 1074.8,482.3 1076.8,482.4 1078.8,482.6 1080.8,483.0 1082.8,483.6 1084.8,484.3 1086.8,485.1 1088.8,485.9 1090.8,486.8 1092.8,487.6 1094.8,488.3 1096.8,488.9 1098.8,489.4 1100.8,489.9 1102.8,490.2 1104.0,490.5 1104.8,490.6 1104.8,490.6 1105.5,490.6 1106.2,490.3 1106.8,489.5 1107.0,489.0 1107.8,485.5 1108.5,479.2 1108.8,476.3 1109.2,472.4 1110.0,469.4 1110.8,472.7 1110.8,473.1 1111.5,479.7 1112.2,486.2 1112.8,489.3 1113.0,490.0 1113.8,491.6 1114.5,492.2 1114.8,492.3 1115.2,492.4 1116.0,492.5 1116.8,492.7 1118.8,493.2 1120.8,493.7 1122.8,494.2 1124.8,495.0 1126.8,495.9 1128.8,496.9 1130.8,498.0 1132.8,499.2 1134.8,500.5 1136.8,501.8 1138.8,503.1 1140.8,504.4 1142.8,505.8 1144.8,507.0 1146.8,508.3 1148.8,509.4 1150.8,510.4 1152.8,511.4 1154.8,512.2 1156.8,513.1 1158.8,513.9 1160.8,514.7 1162.8,515.5 1164.8,516.3 1166.8,517.0 1168.8,517.7 1170.8,518.5 1172.8,519.2 1174.8,519.9 1176.8,520.6 1178.8,521.2 1180.8,521.9 1182.8,522.6 1184.8,523.3 1186.8,524.0 1188.8,524.7 1190.8,525.4 1192.8,526.1 1194.8,526.9 1196.8,527.6 1198.8,528.3 1200.8,529.0 1202.8,529.7 1204.8,530.4 1206.8,531.0 1208.8,531.7 1210.8,532.4 1212.8,533.0 1214.8,533.7 1216.8,534.3 1218.8,535.0 1220.8,535.7 1222.8,536.4 1224.8,537.0 1226.8,537.7 1228.8,538.3 1230.8,538.9 1232.8,539.5 1234.8,540.0 1236.8,540.5 1238.8,540.9 1240.8,541.2 1242.8,541.5 1244.8,541.7 1246.8,542.0 1248.8,542.2 1250.8,542.4 1252.8,542.6 1254.8,542.8 1256.8,543.0 1258.8,543.1 1260.8,543.3 1262.8,543.5 1264.8,543.6 1266.8,543.8 1268.8,544.0 1270.8,544.2 1272.8,544.5 1274.8,544.7 1276.8,545.0 1278.8,545.3 1280.8,545.6 1282.8,546.1 1284.8,546.5 1286.8,547.0 1288.8,547.4 1290.8,547.9 1292.8,548.4 1294.8,548.8 1296.8,549.2 1298.8,549.6 1300.8,549.9 1302.8,550.1 1304.8,550.3 1306.8,550.5 1308.8,550.6 1310.8,550.8 1312.8,551.0 1314.8,551.1 1316.8,551.3 1318.8,551.4 1320.8,551.5 1322.8,551.6 1324.8,551.7 1326.8,551.9 1328.8,552.0 1330.6,552.0 1330.8,552.1 1331.3,552.1 1332.1,552.1 1332.8,552.0 1332.8,552.0 1333.6,551.1 1334.3,547.7 1334.8,543.5 1335.1,539.7 1335.8,528.9 1336.6,523.5 1336.8,524.0 1337.3,529.0 1338.1,539.8 1338.8,547.6 1338.8,548.0 1339.6,551.4 1340.3,552.3 1340.8,552.5 1341.1,552.5 1341.8,552.6 1342.6,552.6 1342.8,552.6 1344.8,552.7 1346.8,552.8 1348.8,552.9 1350.8,553.0 1352.8,553.1 1354.8,553.2 1356.8,553.3 1358.8,553.4 1360.8,553.6 1362.8,553.7 1364.8,553.8 1366.8,554.0 1368.8,554.1 1370.8,554.3 1372.8,554.5 1374.8,554.7 1376.8,554.9 1378.8,555.1 1380.8,555.4 1382.8,555.6 1384.8,555.9 1386.8,556.2 1388.8,556.6 1390.8,556.9 1392.8,557.2 1394.8,557.6 1396.8,557.9 1398.8,558.3 1400.8,558.7 1402.8,559.1 1404.8,559.5 1406.8,559.9 1408.8,560.3 1410.8,560.7 1412.8,561.0 1414.8,561.4 1416.8,561.8 1418.8,562.2 1420.8,562.6 1422.8,563.0 1424.8,563.4 1426.8,563.7 1428.8,564.1 1430.8,564.4 1432.8,564.7 1434.8,565.0 1436.8,565.3 1438.8,565.6 1440.8,565.9 1442.8,566.1 1444.8,566.4 1446.8,566.6 1448.8,566.8 1450.8,567.0 1452.8,567.2 1454.8,567.4 1456.8,567.5 1458.8,567.7 1460.8,567.9 1462.8,568.1 1464.8,568.3 1466.8,568.4 1468.8,568.6 1470.8,568.7 1472.8,568.9 1474.8,569.1 1476.8,569.2 1478.8,569.4 1480.8,569.5 1482.8,569.7 1484.8,569.8 1486.8,569.9 1488.8,570.1 1490.8,570.2 1492.8,570.3 1494.8,570.5 1496.8,570.6 1498.8,570.7 1500.8,570.9 1502.8,571.0 1504.8,571.1 1506.8,571.2 1508.8,571.4 1510.8,571.5 1512.8,571.6 1514.8,571.7 1516.8,571.8 1518.8,572.0 1520.8,572.1 1522.8,572.2 1524.8,572.3 1526.8,572.4 1528.8,572.5 1530.8,572.7 1532.8,572.8 1534.8,572.9 1536.8,573.0 1538.8,573.1 1540.8,573.2 1542.8,573.3 1544.8,573.4 1546.8,573.5 1548.8,573.7 1550.8,573.8 1552.8,573.9 1554.8,574.0 1556.8,574.1 1558.8,574.2 1560.8,574.3 1562.8,574.4 1564.8,574.5 1566.8,574.6 1568.8,574.6 1570.8,574.7 1572.8,574.8 1574.8,574.9 1576.8,575.0 1578.8,575.1 1580.8,575.2 1582.8,575.2 1584.8,575.3 1586.8,575.4 1588.8,575.5 1590.8,575.5 1592.8,575.6 1594.8,575.7 1596.8,575.7 1598.8,575.8 1600.8,575.9 1602.8,575.9 1604.8,576.0 1606.8,576.0 1608.8,576.1 1610.8,576.2 1612.8,576.2 1614.8,576.3 1616.8,576.3 1618.8,576.4 1620.8,576.4 1622.8,576.5 1624.8,576.5 1626.8,576.6 1628.8,576.6 1630.8,576.7 1632.8,576.7 1634.8,576.8 1636.8,576.8 1638.8,576.9 1640.8,576.9 1642.8,576.9 1644.8,577.0 1646.8,577.0 1648.8,577.1 1650.8,577.1 1652.8,577.2 1654.8,577.2 1656.8,577.3 1658.8,577.3 1660.8,577.4 1662.8,577.4 1664.8,577.5 1666.8,577.5 1668.8,577.6 1670.8,577.6 1672.8,577.7 1674.8,577.7 1676.8,577.8 1678.8,577.8 1680.8,577.9 1682.8,578.0 1684.8,578.0 1686.8,578.1 1688.8,578.1 1690.8,578.2 1692.8,578.2 1694.8,578.3 1696.8,578.3 1698.8,578.4 1700.8,578.5 1702.8,578.5 1704.8,578.6 1706.8,578.6 1708.8,578.7 1710.8,578.7 1712.8,578.8 1714.8,578.8 1716.8,578.9 1718.8,578.9 1720.8,579.0 1722.8,579.0 1724.8,579.1 1726.8,579.1 1728.8,579.1 1730.8,579.2 1732.8,579.2 1734.8,579.2 1736.8,579.3 1738.8,579.3 1740.8,579.3 1742.8,579.4 1744.8,579.4 1746.8,579.4 1748.8,579.4 1750.8,579.5 1752.8,579.5 1754.8,579.5 1756.8,579.5 1758.8,579.6 1760.8,579.6 1762.8,579.6 1764.8,579.6 1766.8,579.7 1768.8,579.7 1770.8,579.7 1772.8,579.7 1774.8,579.8 1776.8,579.8 1778.8,579.8 1780.8,579.8 1782.8,579.9 1784.8,579.9 1786.8,579.9 1788.8,579.9 1790.8,579.9 1792.8,579.9 1794.8,579.9 1796.8,580.0 1798.8,580.0 1800.8,580.0 1802.8,580.0 1804.8,580.0 1806.8,580.0 1808.8,580.0 1810.8,580.0 1812.8,580.0 1814.8,580.0 1816.8,580.0 1818.8,580.0 1820.8,580.0 1822.8,580.0 1824.8,580.0 1826.8,580.0 1828.8,580.0 1830.8,580.0 1832.8,580.0 1834.8,580.0 1836.8,580.0 1838.8,580.0 1840.8,580.0 1842.8,580.0 1844.8,580.0 1846.8,580.0 1848.8,580.0 1850.8,580.0 1852.8,580.0 1854.8,580.0 1856.8,580.0 1858.8,580.0 1860.8,580.0 1862.8,580.0 1864.8,580.0 1866.8,580.0 1868.8,580.0 1870.8,580.0 1872.8,580.0 1874.8,580.0 1876.8,580.0 1878.8,580.0 1880.8,580.0 1882.8,580.0 1884.8,580.0 1886.8,580.0 1888.8,580.0 1890.8,580.0"/>
<path class="trace" d="M308.8,40.0 309.3,40.0 309.8,86.0 310.3,54.1 310.8,107.3 311.3,65.9 311.8,133.7 312.3,84.7 312.8,126.9 313.3,103.5 313.8,138.0 314.3,112.0 314.8,138.5 315.3,119.6 315.8,143.7 316.3,125.7 316.8,145.4 317.3,129.2 317.8,153.1 318.3,127.0 318.8,158.7 319.3,135.1 319.8,170.9 320.3,145.9 320.8,162.9 321.3,147.2 321.8,173.1 322.3,158.5 322.8,179.3 323.3,153.5 323.8,178.5 324.3,156.8 324.8,193.7 325.3,171.7 325.8,204.5 326.3,175.8 326.8,204.2 327.3,184.7 327.8,217.7 328.3,202.0 328.8,224.4 329.3,200.2 329.8,236.7 330.3,205.0 330.8,248.8 331.3,215.2 331.8,241.8 332.3,223.3 332.8,248.4 333.3,222.6 333.8,254.7 334.3,223.9 334.8,254.1 335.3,222.8 335.8,258.3 336.3,239.7 336.8,260.5 337.3,245.2 337.8,272.5 338.3,242.4 338.8,273.6 339.3,246.9 339.8,273.2 340.3,235.9 340.8,273.1 341.3,246.5 341.8,269.3 342.3,262.4 342.8,279.5 343.3,246.3 343.8,289.3 344.3,266.6 344.8,284.1 345.3,265.4 345.8,297.2 346.3,267.9 346.8,292.7 347.3,276.0 347.8,302.5 348.3,273.5 348.8,309.7 349.3,286.6 349.8,323.2 350.3,283.0 350.8,319.3 351.3,295.5 351.8,322.1 352.3,306.2 352.8,331.4 353.3,311.5 353.8,334.0 354.3,300.5 354.8,343.0 355.3,318.9 355.8,341.7 356.3,312.4 356.8,347.5 357.3,324.9 357.8,363.3 358.3,333.8 358.8,369.4 359.3,340.3 359.8,362.2 360.3,334.8 360.8,369.5 361.3,342.1 361.8,380.5 362.3,346.5 362.8,376.5 363.3,361.9 363.8,379.9 364.3,348.9 364.8,378.8 365.3,364.4 365.8,384.1 366.3,366.4 366.8,390.8 367.3,369.2 367.8,402.3 368.3,377.7 368.8,401.4 369.3,382.7 369.8,407.9 370.3,384.0 370.8,417.4 371.3,391.3 371.8,426.4 372.3,387.1 372.8,419.4 373.3,405.4 373.8,424.1 374.3,410.6 374.8,431.2 375.3,406.2 375.8,432.5 376.3,411.9 376.8,438.6 377.3,415.2 377.8,435.2 378.3,412.9 378.8,435.3 379.3,407.8 379.8,426.2 380.3,414.9 380.8,434.8 381.3,414.6 381.8,435.4 382.3,412.7 382.8,433.9 383.3,418.6 383.8,431.5 384.3,407.0 384.8,435.8 385.3,413.5 385.8,438.8 386.3,414.3 386.8,431.5 387.3,413.3 387.8,431.2 388.3,416.2 388.8,438.3 389.3,414.9 389.8,432.2 390.3,412.6 390.8,435.1 391.3,413.3 391.8,436.1 392.3,422.6 392.8,433.8 393.3,419.5 393.8,433.4 394.3,418.3 394.8,439.3 395.3,416.8 395.8,438.1 396.3,418.8 396.8,437.6 397.3,418.6 397.8,438.7 398.3,410.3 398.8,440.3 399.3,414.8 399.8,435.0 400.3,417.7 400.8,441.0 401.3,409.6 401.8,428.1 402.3,411.0 402.8,430.7 403.3,409.2 403.8,427.8 404.3,409.1 404.8,424.5 405.3,400.7 405.8,427.0 406.3,405.1 406.8,423.1 407.3,399.3 407.8,416.8 408.3,395.9 408.8,424.6 409.3,395.6 409.8,416.5 410.3,391.1 410.8,417.5 411.3,394.5 411.8,416.0 412.3,398.0 412.8,417.5 413.3,390.2 413.8,416.0 414.3,390.7 414.8,410.8 415.3,396.6 415.8,405.4 416.3,385.1 416.8,413.5 417.3,390.9 417.8,423.1 418.3,386.4 418.8,406.1 419.3,396.6 419.8,409.6 420.3,391.9 420.8,409.5 421.3,393.0 421.8,414.0 422.3,384.4 422.8,406.1 423.3,381.4 423.8,400.9 424.3,383.8 424.8,399.6 425.3,383.0 425.8,396.0 426.3,380.4 426.8,398.5 427.3,378.2 427.8,398.8 428.3,373.4 428.8,393.8 429.3,368.6 429.8,391.5 430.3,366.6 430.8,391.7 431.3,370.8 431.8,394.4 432.3,367.9 432.8,382.3 433.3,363.4 433.8,389.3 434.3,368.2 434.8,383.8 435.3,369.7 435.8,380.4 436.3,364.5 436.8,383.2 437.3,366.2 437.8,388.2 438.3,362.0 438.8,384.5 439.3,363.0 439.8,383.9 440.3,361.7 440.8,383.7 441.3,366.3 441.8,375.6 442.3,354.7 442.8,382.9 443.3,364.0 443.8,382.3 444.3,357.5 444.8,382.8 445.3,361.1 445.8,378.9 446.3,360.1 446.8,380.5 447.3,358.7 447.8,382.8 448.3,363.8 448.8,381.4 449.3,364.8 449.8,385.3 450.3,365.0 450.8,379.8 451.3,361.0 451.8,380.2 452.3,368.8 452.8,383.3 453.3,361.7 453.8,381.7 454.3,363.9 454.8,389.5 455.3,360.8 455.8,381.2 456.3,367.4 456.8,383.2 457.3,367.9 457.8,383.0 458.3,364.8 458.8,386.9 459.3,361.3 459.8,386.7 460.3,359.7 460.8,380.7 461.3,362.7 461.8,374.2 462.3,360.5 462.8,378.5 463.3,365.9 463.8,376.9 464.3,359.0 464.8,379.4 465.3,368.2 465.8,381.6 466.3,367.8 466.8,388.5 467.3,368.1 467.8,394.1 468.3,374.1 468.8,392.0 469.3,367.9 469.8,391.5 470.3,368.7 470.8,396.8 471.3,373.7 471.8,392.0 472.3,373.2 472.8,390.0 473.3,374.5 473.8,399.4 474.3,368.3 474.8,393.7 475.3,378.8 475.8,396.8 476.3,376.1 476.8,395.0 477.3,383.2 477.8,399.6 478.3,381.7 478.8,402.6 479.3,377.3 479.8,400.3 480.3,378.1 480.8,397.2 481.3,382.2 481.8,405.9 482.3,384.1 482.8,400.1 483.3,382.9 483.8,404.0 484.3,383.9 484.8,396.6 485.3,387.5 485.8,408.0 486.3,379.0 486.8,404.4 487.3,386.3 487.8,407.2 488.3,390.9 488.8,407.1 489.3,385.7 489.8,418.8 490.3,392.2 490.8,408.6 491.3,392.7 491.8,411.7 492.3,399.5 492.8,420.8 493.3,396.2 493.8,431.5 494.3,403.2 494.8,420.7 495.3,399.4 495.8,421.7 496.3,405.1 496.8,433.9 497.3,411.0 497.8,431.2 498.3,412.8 498.8,428.8 499.3,414.6 499.8,433.0 500.3,417.3 500.8,435.5 501.3,419.1 501.8,442.4 502.3,418.0 502.8,445.6 503.3,412.3 503.8,442.2 504.3,422.8 504.8,436.1 505.3,425.3 505.8,444.8 506.3,424.2 506.8,447.1 507.3,429.2 507.8,447.3 508.3,437.3 508.8,452.2 509.3,442.4 509.8,453.9 510.3,437.5 510.8,466.3 511.3,437.0 511.8,470.7 512.3,442.7 512.8,466.6 513.3,440.6 513.8,459.6 514.3,439.8 514.8,475.2 515.3,450.2 515.8,473.7 516.3,453.7 516.8,473.7 517.3,455.0 517.8,472.5 518.3,453.2 518.8,472.7 519.3,462.9 519.8,477.9 520.3,460.8 520.8,478.1 521.3,459.1 521.8,485.2 522.3,455.0 522.8,481.4 523.3,463.2 523.8,485.9 524.3,466.5 524.8,477.8 525.3,457.5 525.8,486.5 526.3,459.6 526.8,483.4 527.3,461.6 527.8,485.6 528.3,468.8 528.8,489.4 529.3,464.2 529.8,490.8 530.3,466.0 530.8,492.3 531.3,473.9 531.8,483.4 532.3,462.8 532.8,488.9 533.3,479.7 533.8,493.0 534.3,481.4 534.8,489.2 535.3,472.4 535.8,493.4 536.3,483.6 536.8,491.2 537.3,480.9 537.8,494.8 538.3,479.2 538.8,496.5 539.3,479.9 539.8,494.2 540.3,482.3 540.8,498.0 541.3,485.9 541.8,500.2 542.3,483.5 542.8,503.5 543.3,488.8 543.8,503.7 544.3,485.1 544.8,511.5 545.3,485.4 545.8,506.4 546.3,488.1 546.8,514.6 547.3,484.3 547.8,505.9 548.3,488.3 548.8,508.4 549.3,492.4 549.8,507.8 550.3,491.3 550.8,510.6 551.3,493.8 551.8,512.9 552.3,496.2 552.8,513.2 553.3,486.8 553.8,506.7 554.3,494.4 554.8,516.4 555.3,492.8 555.8,510.2 556.3,498.8 556.8,511.0 557.3,492.0 557.8,506.4 558.3,495.0 558.8,511.4 559.3,495.9 559.8,512.6 560.3,490.9 560.8,515.3 561.3,492.3 561.8,510.5 562.3,488.3 562.8,513.3 563.3,495.8 563.8,516.1 564.3,498.2 564.8,513.9 565.3,494.2 565.8,514.6 566.3,498.9 566.8,509.3 567.3,491.8 567.8,510.6 568.3,497.3 568.8,512.4 569.3,499.2 569.8,507.6 570.3,493.6 570.8,510.0 571.3,489.6 571.8,511.1 572.3,491.5 572.8,510.5 573.3,488.8 573.8,514.8 574.3,490.2 574.8,508.9 575.3,491.1 575.8,511.1 576.3,492.2 576.8,505.9 577.3,496.2 577.8,513.5 578.3,491.3 578.8,510.7 579.3,491.9 579.8,510.5 580.3,491.0 580.8,497.3 581.3,494.5 581.8,504.7 582.3,491.5 582.8,490.7 583.3,489.6 583.8,489.4 584.3,490.2 584.8,492.6 585.3,493.2 585.8,505.6 586.3,495.7 586.8,509.5 587.3,491.4 587.8,506.8 588.3,494.1 588.8,510.4 589.3,490.9 589.8,503.2 590.3,491.6 590.8,506.0 591.3,493.5 591.8,514.0 592.3,496.4 592.8,505.7 593.3,491.5 593.8,512.2 594.3,497.5 594.8,511.2 595.3,499.2 595.8,509.6 596.3,495.4 596.8,517.4 597.3,497.1 597.8,521.3 598.3,502.6 598.8,523.6 599.3,501.3 599.8,517.7 600.3,501.0 600.8,519.9 601.3,501.3 601.8,521.1 602.3,503.9 602.8,527.8 603.3,500.8 603.8,520.4 604.3,501.6 604.8,519.8 605.3,503.6 605.8,518.1 606.3,505.9 606.8,522.6 607.3,506.9 607.8,523.3 608.3,509.2 608.8,521.2 609.3,504.4 609.8,519.3 610.3,509.6 610.8,519.1 611.3,507.9 611.8,520.6 612.3,505.4 612.8,523.5 613.3,510.5 613.8,518.8 614.3,511.4 614.8,521.1 615.3,507.3 615.8,518.7 616.3,502.5 616.8,516.7 617.3,498.4 617.8,517.4 618.3,500.4 618.8,524.7 619.3,503.1 619.8,518.5 620.3,506.4 620.8,516.9 621.3,501.4 621.8,524.8 622.3,499.5 622.8,520.9 623.3,504.0 623.8,517.4 624.3,503.5 624.8,520.4 625.3,509.9 625.8,516.4 626.3,505.1 626.8,528.8 627.3,503.2 627.8,521.9 628.3,507.2 628.8,524.3 629.3,504.1 629.8,528.6 630.3,508.3 630.8,525.9 631.3,503.0 631.8,527.3 632.3,511.6 632.8,523.6 633.3,507.0 633.8,521.3 634.3,507.4 634.8,524.3 635.3,506.2 635.8,532.3 636.3,500.6 636.8,520.6 637.3,506.4 637.8,526.1 638.3,500.9 638.8,527.1 639.3,503.4 639.8,522.0 640.3,509.8 640.8,526.2 641.3,509.5 641.8,523.5 642.3,504.3 642.8,521.0 643.3,510.6 643.8,517.7 644.3,500.7 644.8,523.1 645.3,513.1 645.8,524.1 646.3,504.9 646.8,523.6 647.3,509.0 647.8,526.8 648.3,502.2 648.8,520.2 649.3,508.1 649.8,525.7 650.3,507.3 650.8,521.3 651.3,505.1 651.8,520.7 652.3,507.2 652.8,528.7 653.3,505.7 653.8,522.2 654.3,504.5 654.8,524.7 655.3,509.1 655.8,521.7 656.3,506.2 656.8,525.6 657.3,505.9 657.8,520.0 658.3,505.6 658.8,521.6 659.3,507.2 659.8,518.0 660.3,502.9 660.8,524.4 661.3,503.5 661.8,527.0 662.3,499.2 662.8,523.6 663.3,505.4 663.8,517.3 664.3,499.3 664.8,526.9 665.3,504.6 665.8,529.5 666.3,500.5 666.8,522.4 667.3,497.5 667.8,525.0 668.3,497.8 668.8,522.0 669.3,509.4 669.8,518.0 670.3,499.6 670.8,514.3 671.3,503.5 671.8,512.1 672.3,500.5 672.8,519.8 673.3,499.2 673.8,519.5 674.3,487.3 674.8,519.3 675.3,498.9 675.8,520.9 676.3,496.5 676.8,516.2 677.3,488.6 677.8,511.7 678.3,489.9 678.8,516.3 679.3,485.7 679.8,514.7 680.3,486.5 680.8,514.9 681.3,485.4 681.8,504.2 682.3,490.1 682.8,505.9 683.3,492.2 683.8,509.6 684.3,490.1 684.8,511.1 685.3,488.6 685.8,507.0 686.3,490.1 686.8,505.9 687.3,487.7 687.8,507.3 688.3,494.9 688.8,513.7 689.3,490.5 689.8,509.1 690.3,485.6 690.8,506.4 691.3,484.7 691.8,515.6 692.3,493.6 692.8,511.5 693.3,497.6 693.8,515.9 694.3,493.0 694.8,509.2 695.3,498.0 695.8,513.7 696.3,497.7 696.8,508.9 697.3,496.0 697.8,508.8 698.3,497.0 698.8,505.8 699.3,488.3 699.8,513.2 700.3,496.8 700.8,505.7 701.3,494.4 701.8,512.3 702.3,493.9 702.8,508.4 703.3,487.2 703.8,507.3 704.3,488.5 704.8,515.2 705.3,488.3 705.8,506.1 706.3,492.5 706.8,509.7 707.3,493.4 707.8,513.3 708.3,488.9 708.8,512.4 709.3,492.4 709.8,502.8 710.3,488.1 710.8,512.9 711.3,492.1 711.8,502.0 712.3,494.2 712.8,513.7 713.3,492.4 713.8,507.3 714.3,491.7 714.8,506.3 715.3,494.0 715.8,513.9 716.3,489.6 716.8,514.5 717.3,488.3 717.8,507.3 718.3,494.3 718.8,506.6 719.3,487.0 719.8,511.2 720.3,491.1 720.8,508.7 721.3,493.1 721.8,506.5 722.3,491.0 722.8,509.7 723.3,487.8 723.8,504.1 724.3,490.3 724.8,509.0 725.3,495.9 725.8,510.6 726.3,491.0 726.8,503.5 727.3,489.3 727.8,514.8 728.3,485.1 728.8,509.9 729.3,495.7 729.8,508.8 730.3,485.9 730.8,510.6 731.3,486.7 731.8,504.6 732.3,486.1 732.8,515.3 733.3,490.8 733.8,506.5 734.3,491.8 734.8,510.6 735.3,492.5 735.8,513.6 736.3,485.4 736.8,504.2 737.3,484.7 737.8,508.3 738.3,486.6 738.8,507.8 739.3,491.4 739.8,509.9 740.3,487.5 740.8,505.8 741.3,487.9 741.8,505.9 742.3,487.8 742.8,515.1 743.3,490.5 743.8,499.6 744.3,486.5 744.8,498.9 745.3,486.7 745.8,497.9 746.3,485.7 746.8,502.2 747.3,487.7 747.8,506.7 748.3,479.3 748.8,498.8 749.3,485.4 749.8,488.6 750.3,480.9 750.8,493.9 751.3,480.6 751.8,497.3 752.3,472.5 752.8,468.1 753.3,464.7 753.8,461.8 754.3,459.8 754.8,459.8 755.3,461.8 755.8,464.9 756.3,479.9 756.8,499.6 757.3,478.0 757.8,493.3 758.3,476.4 758.8,494.1 759.3,477.3 759.8,488.8 760.3,475.6 760.8,491.2 761.3,478.2 761.8,495.3 762.3,473.9 762.8,492.0 763.3,479.0 763.8,483.3 764.3,477.2 764.8,475.7 765.3,475.4 765.8,498.8 766.3,460.5 766.8,455.5 767.3,451.3 767.8,449.6 768.3,449.5 768.8,452.6 769.3,456.1 769.8,491.2 770.3,466.1 770.8,495.6 771.3,474.2 771.8,498.6 772.3,476.0 772.8,497.0 773.3,481.7 773.8,498.7 774.3,476.6 774.8,495.3 775.3,487.7 775.8,494.5 776.3,483.0 776.8,497.7 777.3,477.3 777.8,496.7 778.3,478.4 778.8,499.4 779.3,480.5 779.8,502.0 780.3,477.4 780.8,492.2 781.3,479.1 781.8,489.6 782.3,478.3 782.8,490.5 783.3,471.7 783.8,489.4 784.3,478.7 784.8,497.4 785.3,467.8 785.8,491.0 786.3,472.9 786.8,492.5 787.3,474.8 787.8,487.6 788.3,479.4 788.8,493.7 789.3,469.2 789.8,495.0 790.3,477.0 790.8,486.3 791.3,480.9 791.8,486.5 792.3,470.9 792.8,489.4 793.3,477.4 793.8,493.9 794.3,475.0 794.8,496.5 795.3,474.5 795.8,490.6 796.3,473.8 796.8,489.6 797.3,470.6 797.8,489.2 798.3,476.3 798.8,500.8 799.3,472.7 799.8,493.8 800.3,472.8 800.8,496.9 801.3,468.7 801.8,493.8 802.3,473.2 802.8,490.9 803.3,473.8 803.8,491.2 804.3,474.2 804.8,492.3 805.3,474.9 805.8,492.1 806.3,475.8 806.8,487.6 807.3,474.1 807.8,489.8 808.3,466.2 808.8,489.3 809.3,473.6 809.8,489.0 810.3,470.7 810.8,490.3 811.3,460.4 811.8,492.7 812.3,468.3 812.8,482.0 813.3,467.2 813.8,486.8 814.3,465.5 814.8,479.5 815.3,464.0 815.8,489.8 816.3,465.9 816.8,490.5 817.3,459.6 817.8,478.5 818.3,461.6 818.8,479.0 819.3,462.6 819.8,484.9 820.3,462.9 820.8,489.8 821.3,467.6 821.8,479.2 822.3,457.5 822.8,487.7 823.3,470.7 823.8,482.1 824.3,464.2 824.8,491.5 825.3,469.0 825.8,488.9 826.3,468.7 826.8,479.6 827.3,467.5 827.8,482.5 828.3,466.2 828.8,489.6 829.3,465.1 829.8,487.5 830.3,463.9 830.8,484.5 831.3,469.5 831.8,485.3 832.3,469.1 832.8,486.9 833.3,468.3 833.8,482.9 834.3,465.0 834.8,480.2 835.3,466.8 835.8,483.7 836.3,465.2 836.8,480.9 837.3,467.2 837.8,480.0 838.3,467.4 838.8,476.4 839.3,461.5 839.8,480.5 840.3,457.0 840.8,475.2 841.3,453.1 841.8,475.2 842.3,462.0 842.8,474.2 843.3,461.3 843.8,479.7 844.3,461.1 844.8,485.5 845.3,455.5 845.8,474.1 846.3,461.3 846.8,471.1 847.3,455.7 847.8,481.8 848.3,459.0 848.8,477.3 849.3,458.4 849.8,477.8 850.3,460.0 850.8,475.9 851.3,465.1 851.8,475.3 852.3,457.3 852.8,480.3 853.3,464.7 853.8,478.1 854.3,459.8 854.8,484.9 855.3,458.8 855.8,483.6 856.3,465.2 856.8,475.7 857.3,460.5 857.8,480.9 858.3,460.9 858.8,482.9 859.3,458.5 859.8,482.3 860.3,465.5 860.8,479.2 861.3,464.3 861.8,481.0 862.3,460.9 862.8,479.5 863.3,462.7 863.8,489.2 864.3,464.7 864.8,475.5 865.3,458.1 865.8,484.1 866.3,460.9 866.8,486.8 867.3,461.8 867.8,481.2 868.3,457.3 868.8,480.4 869.3,458.6 869.8,485.0 870.3,467.4 870.8,484.6 871.3,460.5 871.8,486.0 872.3,463.9 872.8,483.3 873.3,465.3 873.8,489.7 874.3,465.3 874.8,492.7 875.3,463.4 875.8,487.3 876.3,465.0 876.8,485.9 877.3,467.4 877.8,481.1 878.3,469.2 878.8,484.9 879.3,466.1 879.8,482.8 880.3,463.3 880.8,482.8 881.3,468.8 881.8,488.4 882.3,467.8 882.8,485.1 883.3,471.8 883.8,485.7 884.3,460.4 884.8,486.6 885.3,463.3 885.8,483.7 886.3,469.3 886.8,494.7 887.3,469.7 887.8,492.5 888.3,465.0 888.8,489.6 889.3,469.2 889.8,493.8 890.3,463.4 890.8,494.2 891.3,471.1 891.8,488.0 892.3,472.4 892.8,486.5 893.3,465.5 893.8,494.3 894.3,470.9 894.8,498.6 895.3,477.2 895.8,495.9 896.3,477.6 896.8,487.8 897.3,477.0 897.8,487.8 898.3,471.4 898.8,490.5 899.3,471.0 899.8,494.2 900.3,473.0 900.8,489.0 901.3,469.4 901.8,490.8 902.3,474.8 902.8,492.6 903.3,474.4 903.8,491.7 904.3,473.6 904.8,487.1 905.3,467.9 905.8,486.9 906.3,466.8 906.8,485.4 907.3,470.4 907.8,487.5 908.3,474.5 908.8,483.1 909.3,473.3 909.8,487.7 910.3,473.0 910.8,487.5 911.3,472.6 911.8,488.5 912.3,471.2 912.8,490.6 913.3,474.0 913.8,491.4 914.3,472.3 914.8,496.1 915.3,474.0 915.8,490.8 916.3,472.5 916.8,488.9 917.3,476.3 917.8,491.1 918.3,471.7 918.8,491.0 919.3,473.3 919.8,489.1 920.3,472.0 920.8,488.8 921.3,476.8 921.8,491.2 922.3,471.4 922.8,493.1 923.3,468.0 923.8,501.2 924.3,475.6 924.8,488.1 925.3,470.7 925.8,491.1 926.3,475.6 926.8,488.8 927.3,476.0 927.8,493.0 928.3,472.0 928.8,492.5 929.3,471.5 929.8,488.3 930.3,472.9 930.8,489.5 931.3,470.4 931.8,485.7 932.3,472.6 932.8,484.0 933.3,466.3 933.8,488.2 934.3,474.5 934.8,486.2 935.3,461.7 935.8,487.7 936.3,469.5 936.8,487.4 937.3,470.7 937.8,490.5 938.3,470.0 938.8,492.1 939.3,469.0 939.8,485.1 940.3,464.3 940.8,489.0 941.3,474.5 941.8,487.0 942.3,471.9 942.8,486.4 943.3,467.2 943.8,485.1 944.3,469.9 944.8,495.0 945.3,470.9 945.8,490.0 946.3,471.5 946.8,493.6 947.3,467.4 947.8,489.9 948.3,468.2 948.8,495.4 949.3,474.2 949.8,494.4 950.3,474.8 950.8,496.5 951.3,475.3 951.8,489.7 952.3,473.8 952.8,497.5 953.3,484.8 953.8,492.7 954.3,475.3 954.8,502.0 955.3,479.5 955.8,495.1 956.3,475.2 956.8,495.0 957.3,480.2 957.8,494.3 958.3,484.1 958.8,499.8 959.3,475.2 959.8,492.5 960.3,478.0 960.8,493.8 961.3,475.7 961.8,503.8 962.3,473.1 962.8,490.5 963.3,480.9 963.8,491.2 964.3,477.3 964.8,492.4 965.3,478.8 965.8,495.7 966.3,474.2 966.8,494.2 967.3,478.1 967.8,500.6 968.3,482.3 968.8,496.2 969.3,481.9 969.8,496.0 970.3,477.9 970.8,502.4 971.3,475.5 971.8,499.0 972.3,477.9 972.8,497.0 973.3,483.2 973.8,482.9 974.3,480.0 974.8,477.7 975.3,472.7 975.8,469.4 976.3,467.8 976.8,466.1 977.3,466.8 977.8,468.7 978.3,470.5 978.8,475.1 979.3,481.6 979.8,482.5 980.3,486.1 980.8,489.0 981.3,481.6 981.8,500.3 982.3,485.1 982.8,505.2 983.3,478.8 983.8,502.0 984.3,486.2 984.8,505.4 985.3,479.3 985.8,504.4 986.3,484.4 986.8,505.1 987.3,479.7 987.8,508.1 988.3,489.2 988.8,509.5 989.3,488.0 989.8,502.4 990.3,489.4 990.8,500.7 991.3,488.6 991.8,507.7 992.3,490.3 992.8,504.3 993.3,490.3 993.8,501.2 994.3,488.2 994.8,506.6 995.3,482.2 995.8,505.7 996.3,478.8 996.8,506.3 997.3,483.6 997.8,505.1 998.3,485.3 998.8,500.9 999.3,479.8 999.8,503.9 1000.3,484.7 1000.8,501.9 1001.3,481.7 1001.8,504.0 1002.3,489.5 1002.8,504.0 1003.3,489.3 1003.8,504.5 1004.3,480.5 1004.8,503.4 1005.3,489.1 1005.8,511.8 1006.3,490.8 1006.8,504.7 1007.3,487.5 1007.8,501.0 1008.3,484.2 1008.8,497.5 1009.3,477.9 1009.8,507.8 1010.3,483.8 1010.8,501.6 1011.3,478.2 1011.8,500.9 1012.3,479.2 1012.8,500.3 1013.3,474.7 1013.8,499.2 1014.3,481.3 1014.8,493.9 1015.3,474.7 1015.8,494.7 1016.3,479.7 1016.8,495.2 1017.3,480.3 1017.8,493.4 1018.3,477.5 1018.8,494.5 1019.3,477.0 1019.8,496.1 1020.3,472.2 1020.8,495.0 1021.3,465.7 1021.8,492.5 1022.3,478.6 1022.8,493.3 1023.3,476.7 1023.8,497.2 1024.3,473.2 1024.8,492.9 1025.3,476.5 1025.8,490.5 1026.3,476.3 1026.8,491.1 1027.3,476.4 1027.8,497.8 1028.3,479.4 1028.8,490.6 1029.3,474.6 1029.8,493.8 1030.3,480.8 1030.8,493.9 1031.3,472.0 1031.8,490.8 1032.3,473.6 1032.8,491.4 1033.3,473.2 1033.8,494.7 1034.3,475.8 1034.8,494.2 1035.3,477.8 1035.8,492.8 1036.3,475.8 1036.8,486.3 1037.3,469.3 1037.8,496.3 1038.3,472.6 1038.8,488.4 1039.3,468.4 1039.8,487.6 1040.3,470.5 1040.8,489.8 1041.3,469.9 1041.8,485.7 1042.3,472.4 1042.8,493.9 1043.3,466.7 1043.8,489.9 1044.3,466.9 1044.8,488.1 1045.3,471.1 1045.8,486.3 1046.3,468.2 1046.8,485.5 1047.3,472.2 1047.8,496.9 1048.3,473.6 1048.8,490.4 1049.3,472.6 1049.8,490.5 1050.3,469.9 1050.8,479.2 1051.3,478.2 1051.8,495.5 1052.3,470.1 1052.8,490.9 1053.3,470.0 1053.8,466.9 1054.3,464.5 1054.8,464.0 1055.3,463.2 1055.8,465.0 1056.3,466.3 1056.8,494.9 1057.3,471.7 1057.8,474.1 1058.3,471.1 1058.8,479.8 1059.3,471.7 1059.8,492.2 1060.3,472.3 1060.8,489.9 1061.3,470.9 1061.8,488.7 1062.3,465.7 1062.8,488.0 1063.3,463.8 1063.8,487.8 1064.3,470.6 1064.8,485.8 1065.3,469.1 1065.8,495.8 1066.3,471.6 1066.8,489.0 1067.3,471.3 1067.8,492.2 1068.3,468.3 1068.8,495.2 1069.3,473.7 1069.8,491.4 1070.3,470.3 1070.8,489.1 1071.3,476.7 1071.8,485.0 1072.3,477.0 1072.8,490.4 1073.3,475.0 1073.8,487.8 1074.3,471.4 1074.8,488.8 1075.3,468.1 1075.8,493.3 1076.3,470.7 1076.8,492.0 1077.3,470.6 1077.8,489.0 1078.3,472.4 1078.8,488.8 1079.3,470.1 1079.8,483.4 1080.3,469.7 1080.8,491.5 1081.3,472.8 1081.8,495.5 1082.3,463.5 1082.8,487.9 1083.3,473.9 1083.8,488.2 1084.3,473.5 1084.8,488.3 1085.3,466.6 1085.8,495.7 1086.3,477.4 1086.8,500.6 1087.3,473.6 1087.8,497.4 1088.3,478.6 1088.8,498.1 1089.3,480.5 1089.8,499.6 1090.3,483.2 1090.8,500.7 1091.3,474.4 1091.8,499.4 1092.3,480.8 1092.8,503.3 1093.3,476.1 1093.8,501.0 1094.3,476.9 1094.8,497.6 1095.3,484.7 1095.8,499.1 1096.3,488.1 1096.8,499.8 1097.3,478.0 1097.8,502.1 1098.3,476.7 1098.8,498.5 1099.3,481.7 1099.8,508.1 1100.3,482.7 1100.8,501.6 1101.3,482.3 1101.8,502.7 1102.3,485.1 1102.8,499.5 1103.3,483.4 1103.8,492.1 1104.3,483.4 1104.8,489.2 1105.3,488.6 1105.8,486.1 1106.3,483.7 1106.8,503.4 1107.3,487.7 1107.8,502.4 1108.3,484.0 1108.8,469.2 1109.3,466.6 1109.8,466.4 1110.3,466.1 1110.8,467.8 1111.3,469.5 1111.8,498.1 1112.3,478.9 1112.8,479.4 1113.3,484.1 1113.8,485.1 1114.3,481.5 1114.8,494.3 1115.3,480.6 1115.8,491.4 1116.3,475.2 1116.8,498.9 1117.3,476.6 1117.8,497.5 1118.3,482.8 1118.8,498.1 1119.3,485.8 1119.8,497.3 1120.3,481.8 1120.8,501.4 1121.3,484.4 1121.8,503.9 1122.3,478.3 1122.8,500.6 1123.3,486.3 1123.8,503.2 1124.3,483.4 1124.8,497.2 1125.3,484.7 1125.8,501.1 1126.3,487.4 1126.8,500.8 1127.3,485.8 1127.8,501.5 1128.3,484.3 1128.8,511.4 1129.3,483.8 1129.8,511.2 1130.3,494.3 1130.8,507.1 1131.3,481.2 1131.8,502.1 1132.3,484.6 1132.8,505.9 1133.3,492.3 1133.8,505.5 1134.3,485.5 1134.8,504.3 1135.3,496.3 1135.8,509.4 1136.3,490.1 1136.8,507.8 1137.3,494.4 1137.8,509.1 1138.3,491.8 1138.8,511.5 1139.3,488.4 1139.8,508.3 1140.3,494.6 1140.8,508.6 1141.3,495.1 1141.8,508.9 1142.3,493.0 1142.8,508.5 1143.3,490.3 1143.8,512.6 1144.3,493.3 1144.8,508.0 1145.3,495.2 1145.8,513.5 1146.3,490.4 1146.8,512.6 1147.3,495.4 1147.8,510.0 1148.3,497.0 1148.8,518.9 1149.3,497.9 1149.8,518.6 1150.3,498.2 1150.8,516.8 1151.3,500.4 1151.8,519.2 1152.3,502.2 1152.8,526.5 1153.3,503.4 1153.8,527.3 1154.3,507.0 1154.8,527.2 1155.3,500.5 1155.8,520.7 1156.3,504.7 1156.8,522.1 1157.3,506.5 1157.8,527.2 1158.3,508.2 1158.8,523.1 1159.3,500.5 1159.8,521.3 1160.3,503.6 1160.8,521.8 1161.3,503.4 1161.8,525.0 1162.3,502.9 1162.8,520.7 1163.3,506.9 1163.8,529.5 1164.3,508.8 1164.8,524.1 1165.3,514.8 1165.8,530.1 1166.3,513.6 1166.8,527.3 1167.3,512.4 1167.8,532.3 1168.3,512.2 1168.8,526.1 1169.3,508.8 1169.8,525.1 1170.3,513.7 1170.8,523.5 1171.3,508.9 1171.8,524.7 1172.3,504.5 1172.8,527.7 1173.3,502.5 1173.8,526.2 1174.3,502.6 1174.8,521.5 1175.3,503.0 1175.8,525.2 1176.3,501.3 1176.8,525.5 1177.3,511.5 1177.8,524.1 1178.3,507.9 1178.8,523.8 1179.3,506.3 1179.8,527.1 1180.3,508.1 1180.8,528.1 1181.3,509.6 1181.8,524.3 1182.3,513.4 1182.8,526.5 1183.3,513.7 1183.8,534.1 1184.3,514.0 1184.8,535.4 1185.3,510.7 1185.8,536.6 1186.3,506.6 1186.8,529.2 1187.3,513.2 1187.8,535.1 1188.3,516.0 1188.8,533.8 1189.3,513.5 1189.8,538.1 1190.3,521.5 1190.8,541.8 1191.3,518.4 1191.8,538.0 1192.3,525.0 1192.8,534.7 1193.3,513.7 1193.8,536.8 1194.3,519.8 1194.8,535.8 1195.3,521.8 1195.8,537.6 1196.3,521.6 1196.8,535.2 1197.3,521.4 1197.8,534.8 1198.3,521.1 1198.8,547.2 1199.3,525.0 1199.8,539.1 1200.3,521.4 1200.8,537.3 1201.3,519.1 1201.8,537.2 1202.3,522.9 1202.8,539.4 1203.3,517.9 1203.8,534.6 1204.3,525.0 1204.8,536.6 1205.3,521.5 1205.8,536.1 1206.3,521.4 1206.8,532.8 1207.3,516.1 1207.8,536.9 1208.3,521.7 1208.8,539.3 1209.3,523.4 1209.8,540.6 1210.3,520.5 1210.8,537.3 1211.3,513.1 1211.8,533.3 1212.3,521.3 1212.8,539.9 1213.3,524.2 1213.8,535.2 1214.3,519.6 1214.8,535.0 1215.3,518.3 1215.8,537.3 1216.3,523.9 1216.8,539.9 1217.3,526.2 1217.8,546.3 1218.3,527.6 1218.8,548.4 1219.3,527.8 1219.8,543.4 1220.3,529.3 1220.8,543.2 1221.3,528.8 1221.8,546.3 1222.3,533.5 1222.8,546.3 1223.3,530.6 1223.8,545.0 1224.3,532.8 1224.8,549.2 1225.3,524.7 1225.8,551.5 1226.3,530.1 1226.8,547.2 1227.3,530.1 1227.8,548.8 1228.3,532.7 1228.8,548.3 1229.3,534.6 1229.8,548.0 1230.3,537.0 1230.8,547.4 1231.3,528.7 1231.8,550.7 1232.3,528.8 1232.8,547.9 1233.3,531.1 1233.8,548.0 1234.3,535.1 1234.8,555.6 1235.3,532.6 1235.8,547.5 1236.3,537.6 1236.8,548.6 1237.3,532.8 1237.8,548.5 1238.3,535.0 1238.8,552.4 1239.3,535.8 1239.8,550.9 1240.3,535.5 1240.8,549.1 1241.3,535.2 1241.8,553.6 1242.3,532.7 1242.8,550.4 1243.3,540.4 1243.8,545.8 1244.3,536.0 1244.8,552.2 1245.3,538.3 1245.8,547.3 1246.3,535.0 1246.8,545.0 1247.3,532.8 1247.8,555.2 1248.3,535.2 1248.8,546.2 1249.3,533.5 1249.8,552.2 1250.3,534.6 1250.8,552.3 1251.3,536.5 1251.8,547.9 1252.3,539.0 1252.8,556.4 1253.3,531.4 1253.8,555.9 1254.3,537.4 1254.8,549.9 1255.3,539.0 1255.8,552.5 1256.3,534.9 1256.8,550.9 1257.3,536.4 1257.8,546.3 1258.3,538.5 1258.8,552.0 1259.3,532.4 1259.8,554.4 1260.3,536.5 1260.8,547.0 1261.3,532.0 1261.8,545.5 1262.3,532.5 1262.8,547.4 1263.3,528.4 1263.8,546.5 1264.3,536.1 1264.8,549.5 1265.3,530.7 1265.8,546.6 1266.3,532.7 1266.8,545.2 1267.3,530.7 1267.8,547.7 1268.3,534.2 1268.8,544.8 1269.3,531.2 1269.8,546.1 1270.3,529.3 1270.8,549.9 1271.3,533.0 1271.8,544.9 1272.3,530.6 1272.8,539.6 1273.3,531.2 1273.8,550.8 1274.3,531.9 1274.8,542.5 1275.3,534.4 1275.8,544.9 1276.3,531.2 1276.8,545.4 1277.3,534.1 1277.8,552.2 1278.3,537.0 1278.8,550.1 1279.3,534.6 1279.8,546.5 1280.3,537.8 1280.8,551.1 1281.3,529.3 1281.8,552.9 1282.3,537.3 1282.8,551.3 1283.3,533.0 1283.8,560.1 1284.3,533.6 1284.8,551.5 1285.3,538.0 1285.8,550.5 1286.3,541.3 1286.8,555.1 1287.3,539.0 1287.8,558.8 1288.3,539.1 1288.8,556.1 1289.3,547.0 1289.8,556.7 1290.3,533.5 1290.8,561.9 1291.3,539.7 1291.8,557.9 1292.3,540.8 1292.8,552.8 1293.3,543.0 1293.8,555.4 1294.3,538.8 1294.8,564.7 1295.3,538.7 1295.8,562.7 1296.3,545.0 1296.8,561.1 1297.3,539.7 1297.8,560.0 1298.3,544.2 1298.8,555.3 1299.3,539.7 1299.8,555.7 1300.3,540.8 1300.8,554.4 1301.3,544.1 1301.8,564.2 1302.3,537.1 1302.8,553.2 1303.3,542.2 1303.8,560.3 1304.3,541.8 1304.8,555.1 1305.3,539.0 1305.8,556.0 1306.3,537.5 1306.8,561.5 1307.3,540.6 1307.8,555.7 1308.3,539.8 1308.8,559.0 1309.3,542.0 1309.8,560.0 1310.3,541.5 1310.8,559.5 1311.3,549.1 1311.8,565.1 1312.3,544.0 1312.8,565.3 1313.3,550.1 1313.8,562.2 1314.3,550.6 1314.8,564.6 1315.3,550.7 1315.8,563.7 1316.3,547.2 1316.8,565.4 1317.3,552.4 1317.8,562.1 1318.3,547.2 1318.8,566.0 1319.3,548.5 1319.8,569.4 1320.3,549.5 1320.8,562.5 1321.3,553.7 1321.8,567.6 1322.3,549.1 1322.8,560.3 1323.3,542.5 1323.8,562.4 1324.3,545.0 1324.8,568.0 1325.3,547.6 1325.8,562.2 1326.3,547.6 1326.8,559.7 1327.3,541.8 1327.8,564.6 1328.3,540.5 1328.8,559.4 1329.3,549.1 1329.8,558.6 1330.3,546.9 1330.8,562.0 1331.3,543.8 1331.8,549.7 1332.3,546.0 1332.8,557.9 1333.3,542.6 1333.8,540.3 1334.3,541.5 1334.8,529.7 1335.3,525.7 1335.8,522.7 1336.3,520.5 1336.8,520.1 1337.3,521.9 1337.8,524.9 1338.3,547.4 1338.8,533.9 1339.3,538.0 1339.8,559.9 1340.3,545.9 1340.8,549.9 1341.3,541.1 1341.8,559.7 1342.3,546.6 1342.8,560.1 1343.3,546.0 1343.8,561.4 1344.3,539.6 1344.8,562.2 1345.3,544.9 1345.8,562.3 1346.3,539.5 1346.8,556.7 1347.3,545.0 1347.8,560.6 1348.3,544.6 1348.8,555.7 1349.3,546.1 1349.8,562.7 1350.3,540.1 1350.8,559.9 1351.3,542.6 1351.8,560.5 1352.3,546.8 1352.8,556.6 1353.3,539.8 1353.8,559.4 1354.3,545.0 1354.8,562.7 1355.3,541.8 1355.8,562.5 1356.3,547.7 1356.8,559.3 1357.3,540.9 1357.8,566.0 1358.3,545.6 1358.8,556.2 1359.3,546.6 1359.8,563.5 1360.3,542.0 1360.8,560.2 1361.3,550.1 1361.8,566.7 1362.3,546.9 1362.8,557.7 1363.3,545.3 1363.8,562.3 1364.3,548.9 1364.8,561.1 1365.3,548.1 1365.8,557.8 1366.3,545.3 1366.8,563.4 1367.3,548.4 1367.8,559.1 1368.3,546.3 1368.8,560.9 1369.3,543.6 1369.8,567.2 1370.3,544.1 1370.8,561.4 1371.3,544.6 1371.8,564.1 1372.3,542.4 1372.8,565.9 1373.3,544.9 1373.8,564.9 1374.3,548.3 1374.8,562.6 1375.3,547.9 1375.8,560.4 1376.3,551.4 1376.8,563.0 1377.3,548.9 1377.8,561.3 1378.3,544.4 1378.8,567.1 1379.3,547.8 1379.8,564.3 1380.3,548.5 1380.8,562.2 1381.3,542.9 1381.8,563.8 1382.3,543.5 1382.8,556.2 1383.3,551.3 1383.8,565.8 1384.3,546.8 1384.8,563.2 1385.3,551.4 1385.8,565.4 1386.3,552.9 1386.8,565.2 1387.3,548.0 1387.8,562.6 1388.3,548.0 1388.8,562.9 1389.3,546.7 1389.8,565.6 1390.3,551.3 1390.8,568.5 1391.3,554.1 1391.8,569.3 1392.3,553.3 1392.8,566.3 1393.3,550.9 1393.8,565.0 1394.3,552.2 1394.8,565.6 1395.3,552.1 1395.8,567.4 1396.3,552.7 1396.8,566.2 1397.3,548.2 1397.8,565.1 1398.3,551.0 1398.8,571.2 1399.3,553.0 1399.8,562.7 1400.3,553.7 1400.8,570.2 1401.3,554.6 1401.8,567.0 1402.3,552.9 1402.8,570.9 1403.3,551.1 1403.8,566.6 1404.3,557.8 1404.8,572.6 1405.3,554.0 1405.8,572.5 1406.3,549.7 1406.8,570.1 1407.3,553.8 1407.8,571.4 1408.3,557.8 1408.8,574.5 1409.3,555.7 1409.8,576.4 1410.3,556.5 1410.8,569.1 1411.3,558.4 1411.8,571.0 1412.3,549.4 1412.8,568.6 1413.3,555.9 1413.8,570.8 1414.3,554.2 1414.8,570.1 1415.3,555.7 1415.8,566.1 1416.3,554.4 1416.8,571.7 1417.3,551.8 1417.8,574.1 1418.3,545.5 1418.8,568.4 1419.3,556.2 1419.8,566.1 1420.3,547.8 1420.8,567.6 1421.3,550.5 1421.8,568.1 1422.3,551.7 1422.8,571.4 1423.3,553.3 1423.8,570.2 1424.3,556.4 1424.8,575.6 1425.3,557.9 1425.8,573.1 1426.3,554.4 1426.8,566.5 1427.3,556.9 1427.8,573.5 1428.3,561.7 1428.8,568.0 1429.3,561.8 1429.8,579.1 1430.3,555.2 1430.8,572.2 1431.3,557.7 1431.8,576.0 1432.3,557.4 1432.8,573.4 1433.3,559.7 1433.8,572.8 1434.3,560.3 1434.8,576.0 1435.3,556.6 1435.8,578.6 1436.3,555.7 1436.8,571.4 1437.3,558.6 1437.8,574.4 1438.3,559.9 1438.8,568.2 1439.3,562.5 1439.8,573.3 1440.3,558.5 1440.8,573.2 1441.3,558.5 1441.8,573.0 1442.3,561.5 1442.8,571.1 1443.3,562.5 1443.8,571.2 1444.3,552.5 1444.8,579.3 1445.3,557.8 1445.8,574.0 1446.3,560.5 1446.8,576.2 1447.3,559.5 1447.8,572.2 1448.3,560.8 1448.8,573.3 1449.3,562.2 1449.8,571.9 1450.3,559.8 1450.8,578.5 1451.3,556.6 1451.8,576.1 1452.3,557.5 1452.8,579.8 1453.3,563.5 1453.8,575.7 1454.3,560.2 1454.8,578.4 1455.3,567.9 1455.8,575.5 1456.3,563.2 1456.8,577.8 1457.3,564.0 1457.8,575.1 1458.3,561.4 1458.8,579.6 1459.3,563.8 1459.8,583.4 1460.3,564.3 1460.8,572.3 1461.3,563.3 1461.8,576.9 1462.3,558.1 1462.8,576.1 1463.3,564.6 1463.8,577.5 1464.3,558.9 1464.8,582.5 1465.3,563.1 1465.8,574.2 1466.3,561.6 1466.8,575.0 1467.3,564.3 1467.8,573.0 1468.3,566.0 1468.8,577.5 1469.3,561.7 1469.8,571.5 1470.3,562.2 1470.8,572.0 1471.3,553.8 1471.8,577.9 1472.3,563.0 1472.8,574.3 1473.3,564.4 1473.8,572.0 1474.3,565.2 1474.8,573.3 1475.3,560.2 1475.8,574.5 1476.3,558.4 1476.8,571.9 1477.3,563.0 1477.8,573.5 1478.3,558.6 1478.8,576.7 1479.3,559.2 1479.8,575.5 1480.3,561.9 1480.8,578.7 1481.3,563.2 1481.8,579.0 1482.3,559.1 1482.8,574.9 1483.3,562.0 1483.8,578.6 1484.3,562.0 1484.8,579.1 1485.3,558.3 1485.8,577.1 1486.3,560.9 1486.8,578.3 1487.3,559.1 1487.8,577.7 1488.3,563.9 1488.8,578.1 1489.3,565.7 1489.8,582.1 1490.3,565.7 1490.8,575.9 1491.3,563.6 1491.8,579.8 1492.3,566.3 1492.8,573.4 1493.3,564.9 1493.8,577.0 1494.3,560.3 1494.8,574.6 1495.3,561.2 1495.8,574.9 1496.3,557.6 1496.8,572.5 1497.3,559.7 1497.8,575.7 1498.3,563.0 1498.8,571.9 1499.3,563.3 1499.8,570.1 1500.3,559.7 1500.8,578.8 1501.3,557.0 1501.8,570.7 1502.3,562.1 1502.8,574.9 1503.3,555.3 1503.8,574.7 1504.3,563.9 1504.8,574.5 1505.3,562.7 1505.8,573.5 1506.3,559.9 1506.8,573.5 1507.3,565.9 1507.8,578.2 1508.3,558.7 1508.8,578.5 1509.3,568.0 1509.8,576.8 1510.3,564.4 1510.8,576.6 1511.3,565.3 1511.8,582.5 1512.3,564.9 1512.8,576.5 1513.3,564.8 1513.8,576.7 1514.3,565.6 1514.8,581.2 1515.3,558.7 1515.8,577.8 1516.3,564.9 1516.8,577.3 1517.3,560.2 1517.8,576.6 1518.3,559.5 1518.8,574.0 1519.3,560.8 1519.8,577.5 1520.3,562.2 1520.8,578.8 1521.3,563.8 1521.8,577.2 1522.3,563.6 1522.8,579.1 1523.3,565.9 1523.8,579.6 1524.3,558.5 1524.8,574.5 1525.3,566.9 1525.8,577.1 1526.3,568.0 1526.8,576.5 1527.3,566.5 1527.8,584.0 1528.3,564.1 1528.8,579.4 1529.3,565.3 1529.8,578.1 1530.3,564.1 1530.8,583.4 1531.3,566.8 1531.8,579.4 1532.3,562.1 1532.8,587.5 1533.3,570.1 1533.8,582.1 1534.3,563.5 1534.8,578.9 1535.3,568.4 1535.8,577.8 1536.3,571.3 1536.8,580.8 1537.3,566.7 1537.8,582.2 1538.3,567.4 1538.8,585.8 1539.3,565.3 1539.8,580.0 1540.3,563.7 1540.8,580.9 1541.3,567.7 1541.8,581.0 1542.3,566.1 1542.8,587.2 1543.3,567.9 1543.8,577.5 1544.3,562.8 1544.8,575.8 1545.3,558.3 1545.8,578.7 1546.3,565.7 1546.8,575.6 1547.3,567.9 1547.8,581.8 1548.3,562.8 1548.8,580.9 1549.3,558.7 1549.8,577.2 1550.3,560.8 1550.8,581.6 1551.3,563.2 1551.8,580.5 1552.3,560.5 1552.8,578.7 1553.3,560.5 1553.8,584.6 1554.3,565.0 1554.8,579.6 1555.3,568.1 1555.8,577.8 1556.3,563.7 1556.8,584.9 1557.3,564.3 1557.8,578.8 1558.3,565.3 1558.8,580.8 1559.3,565.8 1559.8,578.4 1560.3,571.1 1560.8,580.7 1561.3,565.0 1561.8,583.6 1562.3,566.8 1562.8,580.1 1563.3,562.5 1563.8,582.4 1564.3,567.6 1564.8,588.8 1565.3,565.7 1565.8,584.1 1566.3,569.7 1566.8,585.0 1567.3,570.0 1567.8,589.8 1568.3,563.8 1568.8,584.3 1569.3,565.9 1569.8,583.2 1570.3,570.1 1570.8,579.0 1571.3,569.0 1571.8,578.8 1572.3,568.6 1572.8,583.7 1573.3,567.4 1573.8,579.2 1574.3,560.7 1574.8,583.0 1575.3,564.7 1575.8,583.9 1576.3,567.6 1576.8,575.8 1577.3,569.2 1577.8,575.9 1578.3,566.9 1578.8,579.7 1579.3,570.0 1579.8,581.1 1580.3,568.5 1580.8,586.2 1581.3,563.1 1581.8,582.6 1582.3,564.1 1582.8,580.2 1583.3,565.7 1583.8,583.4 1584.3,563.7 1584.8,586.1 1585.3,566.3 1585.8,582.3 1586.3,565.4 1586.8,579.6 1587.3,565.0 1587.8,582.5 1588.3,568.9 1588.8,575.4 1589.3,563.7 1589.8,579.1 1590.3,566.3 1590.8,579.4 1591.3,564.8 1591.8,578.0 1592.3,567.5 1592.8,580.6 1593.3,560.8 1593.8,578.7 1594.3,566.9 1594.8,581.3 1595.3,567.9 1595.8,579.8 1596.3,567.6 1596.8,585.1 1597.3,569.4 1597.8,577.9 1598.3,568.3 1598.8,577.0 1599.3,562.3 1599.8,579.6 1600.3,564.6 1600.8,580.5 1601.3,564.0 1601.8,584.2 1602.3,564.3 1602.8,580.8 1603.3,567.6 1603.8,582.5 1604.3,567.8 1604.8,579.3 1605.3,569.5 1605.8,577.0 1606.3,568.5 1606.8,582.8 1607.3,561.4 1607.8,582.2 1608.3,571.9 1608.8,583.0 1609.3,565.2 1609.8,582.2 1610.3,570.2 1610.8,583.6 1611.3,569.5 1611.8,587.2 1612.3,570.5 1612.8,581.9 1613.3,569.4 1613.8,587.5 1614.3,572.5 1614.8,587.9 1615.3,566.9 1615.8,586.5 1616.3,573.6 1616.8,582.9 1617.3,573.0 1617.8,590.9 1618.3,568.0 1618.8,583.4 1619.3,569.6 1619.8,585.8 1620.3,568.3 1620.8,584.6 1621.3,571.5 1621.8,582.1 1622.3,573.7 1622.8,581.8 1623.3,571.1 1623.8,585.8 1624.3,575.7 1624.8,584.0 1625.3,568.4 1625.8,585.0 1626.3,573.2 1626.8,582.7 1627.3,570.9 1627.8,579.8 1628.3,572.0 1628.8,588.0 1629.3,571.3 1629.8,579.9 1630.3,572.0 1630.8,587.9 1631.3,570.5 1631.8,586.0 1632.3,567.5 1632.8,584.8 1633.3,572.9 1633.8,590.1 1634.3,569.5 1634.8,583.6 1635.3,568.6 1635.8,582.2 1636.3,571.3 1636.8,585.3 1637.3,569.8 1637.8,587.6 1638.3,571.5 1638.8,582.6 1639.3,574.9 1639.8,584.1 1640.3,569.8 1640.8,582.7 1641.3,568.5 1641.8,580.1 1642.3,571.1 1642.8,588.0 1643.3,566.0 1643.8,584.1 1644.3,571.4 1644.8,582.4 1645.3,569.2 1645.8,584.8 1646.3,571.6 1646.8,582.9 1647.3,570.4 1647.8,585.0 1648.3,564.4 1648.8,584.4 1649.3,567.7 1649.8,582.7 1650.3,569.8 1650.8,586.0 1651.3,570.4 1651.8,588.6 1652.3,570.8 1652.8,589.0 1653.3,575.5 1653.8,586.7 1654.3,571.5 1654.8,587.8 1655.3,575.8 1655.8,585.9 1656.3,574.7 1656.8,584.6 1657.3,570.1 1657.8,582.8 1658.3,572.9 1658.8,585.0 1659.3,568.2 1659.8,583.9 1660.3,568.9 1660.8,585.4 1661.3,571.2 1661.8,581.4 1662.3,569.1 1662.8,586.2 1663.3,568.0 1663.8,586.6 1664.3,566.3 1664.8,581.8 1665.3,568.3 1665.8,582.4 1666.3,567.1 1666.8,582.5 1667.3,572.5 1667.8,580.9 1668.3,573.3 1668.8,583.7 1669.3,572.6 1669.8,586.0 1670.3,566.7 1670.8,583.6 1671.3,572.6 1671.8,587.7 1672.3,573.5 1672.8,589.4 1673.3,573.3 1673.8,586.5 1674.3,573.0 1674.8,583.1 1675.3,566.8 1675.8,582.8 1676.3,571.2 1676.8,587.6 1677.3,569.3 1677.8,584.7 1678.3,571.2 1678.8,591.2 1679.3,573.6 1679.8,589.7 1680.3,571.9 1680.8,588.6 1681.3,571.2 1681.8,591.3 1682.3,573.4 1682.8,589.0 1683.3,572.2 1683.8,582.3 1684.3,569.2 1684.8,588.1 1685.3,570.0 1685.8,584.9 1686.3,573.4 1686.8,581.8 1687.3,565.1 1687.8,588.1 1688.3,567.6 1688.8,584.2 1689.3,570.1 1689.8,589.4 1690.3,568.0 1690.8,588.5 1691.3,570.9 1691.8,584.4 1692.3,575.4 1692.8,589.1 1693.3,572.5 1693.8,590.5 1694.3,571.0 1694.8,587.7 1695.3,574.4 1695.8,592.6 1696.3,569.7 1696.8,589.8 1697.3,572.8 1697.8,589.5 1698.3,573.6 1698.8,587.1 1699.3,573.1 1699.8,585.5 1700.3,570.5 1700.8,585.1 1701.3,570.8 1701.8,588.0 1702.3,572.0 1702.8,584.1 1703.3,568.5 1703.8,582.3 1704.3,575.6 1704.8,588.2 1705.3,567.8 1705.8,590.5 1706.3,571.1 1706.8,589.0 1707.3,571.1 1707.8,585.7 1708.3,571.0 1708.8,585.6 1709.3,571.7 1709.8,588.9 1710.3,569.0 1710.8,586.6 1711.3,574.5 1711.8,587.3 1712.3,574.3 1712.8,586.9 1713.3,570.3 1713.8,592.3 1714.3,572.4 1714.8,589.6 1715.3,568.0 1715.8,585.4 1716.3,571.1 1716.8,584.3 1717.3,572.9 1717.8,583.6 1718.3,569.6 1718.8,585.0 1719.3,576.3 1719.8,584.8 1720.3,572.2 1720.8,586.4 1721.3,571.0 1721.8,585.7 1722.3,576.1 1722.8,583.9 1723.3,571.5 1723.8,583.0 1724.3,573.3 1724.8,587.9 1725.3,577.0 1725.8,592.6 1726.3,574.3 1726.8,581.8 1727.3,572.7 1727.8,587.0 1728.3,568.6 1728.8,587.2 1729.3,567.8 1729.8,586.4 1730.3,572.3 1730.8,582.8 1731.3,571.0 1731.8,583.1 1732.3,568.2 1732.8,581.9 1733.3,569.0 1733.8,584.6 1734.3,575.0 1734.8,586.3 1735.3,571.0 1735.8,585.7 1736.3,570.2 1736.8,585.7 1737.3,570.0 1737.8,582.0 1738.3,573.2 1738.8,583.8 1739.3,570.9 1739.8,581.5 1740.3,567.2 1740.8,585.5 1741.3,570.3 1741.8,584.8 1742.3,567.6 1742.8,582.7 1743.3,569.4 1743.8,586.4 1744.3,571.3 1744.8,586.4 1745.3,573.3 1745.8,580.3 1746.3,564.3 1746.8,583.3 1747.3,571.7 1747.8,583.7 1748.3,570.8 1748.8,582.0 1749.3,573.3 1749.8,583.8 1750.3,567.7 1750.8,586.3 1751.3,572.6 1751.8,580.9 1752.3,572.3 1752.8,585.9 1753.3,569.2 1753.8,585.7 1754.3,575.5 1754.8,585.3 1755.3,569.1 1755.8,585.7 1756.3,575.0 1756.8,586.4 1757.3,574.1 1757.8,586.5 1758.3,573.8 1758.8,588.5 1759.3,573.7 1759.8,587.8 1760.3,572.6 1760.8,588.1 1761.3,573.6 1761.8,587.8 1762.3,575.2 1762.8,589.9 1763.3,574.4 1763.8,589.6 1764.3,577.4 1764.8,590.1 1765.3,575.0 1765.8,591.5 1766.3,575.0 1766.8,590.4 1767.3,574.9 1767.8,587.1 1768.3,578.5 1768.8,587.6 1769.3,570.1 1769.8,592.7 1770.3,579.7 1770.8,593.6 1771.3,575.8 1771.8,584.9 1772.3,574.3 1772.8,587.2 1773.3,574.4 1773.8,589.0 1774.3,573.4 1774.8,589.5 1775.3,569.6 1775.8,586.9 1776.3,576.0 1776.8,592.8 1777.3,572.3 1777.8,588.8 1778.3,578.0 1778.8,591.7 1779.3,577.6 1779.8,587.3 1780.3,577.0 1780.8,590.6 1781.3,578.1 1781.8,593.5 1782.3,579.1 1782.8,587.3 1783.3,571.1 1783.8,584.7 1784.3,572.8 1784.8,591.5 1785.3,576.3 1785.8,584.9 1786.3,575.6 1786.8,594.1 1787.3,574.7 1787.8,588.6 1788.3,571.3 1788.8,588.6 1789.3,575.5 1789.8,589.6 1790.3,573.0 1790.8,594.4 1791.3,573.9 1791.8,586.0 1792.3,570.4 1792.8,586.4 1793.3,569.1 1793.8,586.9 1794.3,573.2 1794.8,583.9 1795.3,568.3 1795.8,589.2 1796.3,567.8 1796.8,589.5 1797.3,572.6 1797.8,584.3 1798.3,576.2 1798.8,586.5 1799.3,573.5 1799.8,582.6 1800.3,564.9 1800.8,584.6 1801.3,569.6 1801.8,590.7 1802.3,568.3 1802.8,591.1 1803.3,570.0 1803.8,592.1 1804.3,568.7 1804.8,589.8 1805.3,572.7 1805.8,588.6 1806.3,570.9 1806.8,587.5 1807.3,574.6 1807.8,583.8 1808.3,567.8 1808.8,585.5 1809.3,569.4 1809.8,587.2 1810.3,570.6 1810.8,586.5 1811.3,569.1 1811.8,590.0 1812.3,573.5 1812.8,586.5 1813.3,567.7 1813.8,586.3 1814.3,576.3 1814.8,589.6 1815.3,576.0 1815.8,591.1 1816.3,577.1 1816.8,594.1 1817.3,573.5 1817.8,590.7 1818.3,576.0 1818.8,586.1 1819.3,569.4 1819.8,591.5 1820.3,576.0 1820.8,586.8 1821.3,576.5 1821.8,591.7 1822.3,569.1 1822.8,586.6 1823.3,573.5 1823.8,583.7 1824.3,572.7 1824.8,586.2 1825.3,571.2 1825.8,586.8 1826.3,573.4 1826.8,586.6 1827.3,575.3 1827.8,581.4 1828.3,565.9 1828.8,581.7 1829.3,574.7 1829.8,591.3 1830.3,574.2 1830.8,587.5 1831.3,573.5 1831.8,593.4 1832.3,572.0 1832.8,590.5 1833.3,570.0 1833.8,587.7 1834.3,573.9 1834.8,592.1 1835.3,573.2 1835.8,586.9 1836.3,573.0 1836.8,590.1 1837.3,572.7 1837.8,585.6 1838.3,568.9 1838.8,586.4 1839.3,575.3 1839.8,592.2 1840.3,572.4 1840.8,584.9 1841.3,570.3 1841.8,591.9 1842.3,570.4 1842.8,586.0 1843.3,568.9 1843.8,585.5 1844.3,577.8 1844.8,585.0 1845.3,574.4 1845.8,585.6 1846.3,578.3 1846.8,586.1 1847.3,569.6 1847.8,585.6 1848.3,573.1 1848.8,581.1 1849.3,573.9 1849.8,590.2 1850.3,570.1 1850.8,583.0 1851.3,573.9 1851.8,587.0 1852.3,571.4 1852.8,589.4 1853.3,571.4 1853.8,584.5 1854.3,574.6 1854.8,585.6 1855.3,573.6 1855.8,585.0 1856.3,568.4 1856.8,590.1 1857.3,576.5 1857.8,587.4 1858.3,568.3 1858.8,585.3 1859.3,575.6 1859.8,590.5 1860.3,575.6 1860.8,587.8 1861.3,574.0 1861.8,587.5 1862.3,574.9 1862.8,588.6 1863.3,572.2 1863.8,589.8 1864.3,575.5 1864.8,589.8 1865.3,568.3 1865.8,588.0 1866.3,574.5 1866.8,587.6 1867.3,574.3 1867.8,587.1 1868.3,573.4 1868.8,583.5 1869.3,571.5 1869.8,584.4 1870.3,571.3 1870.8,586.5 1871.3,573.7 1871.8,589.2 1872.3,568.9 1872.8,586.9 1873.3,573.9 1873.8,587.1 1874.3,574.5 1874.8,584.8 1875.3,569.9 1875.8,590.2 1876.3,568.9 1876.8,586.0 1877.3,575.0 1877.8,581.6 1878.3,565.1 1878.8,591.0 1879.3,573.8 1879.8,584.3 1880.3,568.5 1880.8,589.3 1881.3,567.8 1881.8,582.3 1882.3,571.9 1882.8,584.5 1883.3,569.4 1883.8,589.6 1884.3,570.4 1884.8,586.8 1885.3,571.2 1885.8,585.4 1886.3,573.2 1886.8,584.3 1887.3,570.9 1887.8,588.6 1888.3,569.8 1888.8,585.8 1889.3,568.4 1889.8,584.5 1890.3,577.5 1890.8,591.3 1891.3,574.2 1891.8,584.4 1892.3,574.3 1892.8,586.9 1893.3,574.8"/></g>
</g>
<g id="ticklabels">
<text x="201.5" y="1510.8" text-anchor="middle">0</text>
<text x="412.9" y="1510.8" text-anchor="middle">10</text>
<text x="624.3" y="1510.8" text-anchor="middle">20</text>
<text x="835.7" y="1510.8" text-anchor="middle">30</text>
<text x="1047.1" y="1510.8" text-anchor="middle">40</text>
<text x="1258.5" y="1510.8" text-anchor="middle">50</text>
<text x="1469.8" y="1510.8" text-anchor="middle">60</text>
<text x="1681.2" y="1510.8" text-anchor="middle">70</text>
<text x="1892.6" y="1510.8" text-anchor="middle">80</text>
</g>
<g id="labels">
<text x="1349" y="505.4" textLength="534.5" lengthAdjust="spacingAndGlyphs">CS/WQAT-15</text>
<text x="1355" y="676.4" textLength="535.5" lengthAdjust="spacingAndGlyphs">CS/WQAT-10</text>
<text x="1381" y="810.4" textLength="490.5" lengthAdjust="spacingAndGlyphs">CS/WQAT-8</text>
<text x="1384" y="937.4" textLength="490.5" lengthAdjust="spacingAndGlyphs">CS/WQAT-4</text>
<text x="1395.5" y="1071.4" textLength="489.0" lengthAdjust="spacingAndGlyphs">CS/WQAT-2</text>
<text x="1611" y="1223.4" textLength="116.5" lengthAdjust="spacingAndGlyphs">CS</text>
</g>
<text id="xlabel" x="993.5" y="1637.3" textLength="262.5" lengthAdjust="spacingAndGlyphs">2Theta</text>
<text id="ylabel" transform="translate(97,712) rotate(-90)" text-anchor="middle">Intensity(a.u)</text>
</svg>
</body>
</html>
